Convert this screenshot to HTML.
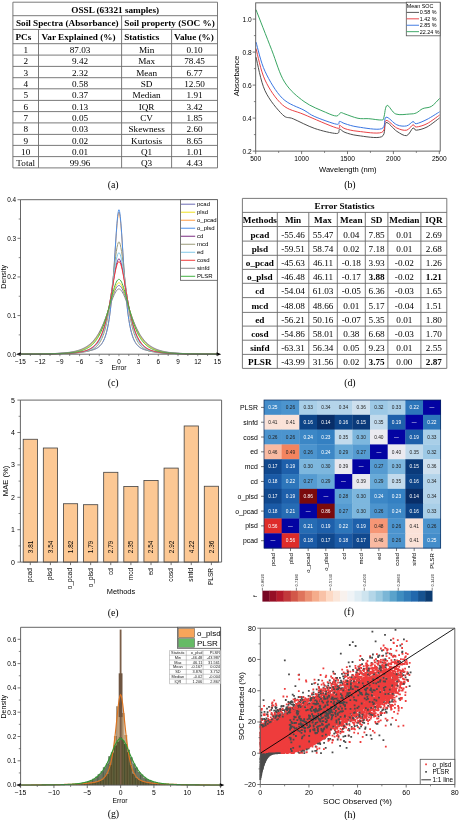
<!DOCTYPE html>
<html><head><meta charset="utf-8"><style>
html,body{margin:0;padding:0;background:#fff;}
#fig{position:relative;width:463px;height:820px;overflow:hidden;background:#fff;}
svg{position:absolute;left:0;top:0;will-change:transform;}
text{-webkit-font-smoothing:antialiased;}
.S{font-family:"Liberation Sans", sans-serif;}
.Sb{font-family:"Liberation Sans", sans-serif;font-weight:bold;}
.R{font-family:"Liberation Serif", serif;}
.Rb{font-family:"Liberation Serif", serif;font-weight:bold;}
</style></head><body><div id="fig">
<svg width="463" height="820" viewBox="0 0 463 820">
<line x1="12.9" y1="2.2" x2="217.5" y2="2.2" stroke="#6b6b6b" stroke-width="0.9"/>
<line x1="12.9" y1="15.7" x2="217.5" y2="15.7" stroke="#6b6b6b" stroke-width="0.9"/>
<line x1="12.9" y1="29.4" x2="217.5" y2="29.4" stroke="#6b6b6b" stroke-width="0.9"/>
<line x1="12.9" y1="43.7" x2="217.5" y2="43.7" stroke="#6b6b6b" stroke-width="0.9"/>
<line x1="12.9" y1="55.1" x2="217.5" y2="55.1" stroke="#6b6b6b" stroke-width="0.9"/>
<line x1="12.9" y1="66.4" x2="217.5" y2="66.4" stroke="#6b6b6b" stroke-width="0.9"/>
<line x1="12.9" y1="77.7" x2="217.5" y2="77.7" stroke="#6b6b6b" stroke-width="0.9"/>
<line x1="12.9" y1="88.8" x2="217.5" y2="88.8" stroke="#6b6b6b" stroke-width="0.9"/>
<line x1="12.9" y1="100.4" x2="217.5" y2="100.4" stroke="#6b6b6b" stroke-width="0.9"/>
<line x1="12.9" y1="111.6" x2="217.5" y2="111.6" stroke="#6b6b6b" stroke-width="0.9"/>
<line x1="12.9" y1="122.9" x2="217.5" y2="122.9" stroke="#6b6b6b" stroke-width="0.9"/>
<line x1="12.9" y1="134.4" x2="217.5" y2="134.4" stroke="#6b6b6b" stroke-width="0.9"/>
<line x1="12.9" y1="145.4" x2="217.5" y2="145.4" stroke="#6b6b6b" stroke-width="0.9"/>
<line x1="12.9" y1="156.6" x2="217.5" y2="156.6" stroke="#6b6b6b" stroke-width="0.9"/>
<line x1="12.9" y1="167.9" x2="217.5" y2="167.9" stroke="#6b6b6b" stroke-width="0.9"/>
<line x1="12.9" y1="2.2" x2="12.9" y2="167.9" stroke="#6b6b6b" stroke-width="0.9"/>
<line x1="217.5" y1="2.2" x2="217.5" y2="167.9" stroke="#6b6b6b" stroke-width="0.9"/>
<line x1="121.6" y1="15.7" x2="121.6" y2="167.9" stroke="#6b6b6b" stroke-width="0.9"/>
<line x1="38.5" y1="29.4" x2="38.5" y2="167.9" stroke="#6b6b6b" stroke-width="0.9"/>
<line x1="171.6" y1="29.4" x2="171.6" y2="167.9" stroke="#6b6b6b" stroke-width="0.9"/>
<text class="Rb" x="115.2" y="12.85" font-size="9.2" text-anchor="middle" fill="#000">OSSL (63321 samples)</text>
<text class="Rb" x="67.25" y="26.45" font-size="9.2" text-anchor="middle" fill="#000">Soil Spectra (Absorbance)</text>
<text class="Rb" x="169.55" y="26.45" font-size="9.2" text-anchor="middle" fill="#000">Soil property (SOC %)</text>
<text class="Rb" x="15.5" y="40.45" font-size="9.2" text-anchor="start" fill="#000">PCs</text>
<text class="Rb" x="41.5" y="40.45" font-size="9.2" text-anchor="start" fill="#000">Var Explained (%)</text>
<text class="Rb" x="124.2" y="40.45" font-size="9.2" text-anchor="start" fill="#000">Statistics</text>
<text class="Rb" x="174.1" y="40.45" font-size="9.2" text-anchor="start" fill="#000">Value (%)</text>
<text class="R" x="25.7" y="53" font-size="9.2" text-anchor="middle" fill="#000">1</text>
<text class="R" x="80.05" y="53" font-size="9.2" text-anchor="middle" fill="#000">87.03</text>
<text class="R" x="146.6" y="53" font-size="9.2" text-anchor="middle" fill="#000">Min</text>
<text class="R" x="194.55" y="53" font-size="9.2" text-anchor="middle" fill="#000">0.10</text>
<text class="R" x="25.7" y="64.35" font-size="9.2" text-anchor="middle" fill="#000">2</text>
<text class="R" x="80.05" y="64.35" font-size="9.2" text-anchor="middle" fill="#000">9.42</text>
<text class="R" x="146.6" y="64.35" font-size="9.2" text-anchor="middle" fill="#000">Max</text>
<text class="R" x="194.55" y="64.35" font-size="9.2" text-anchor="middle" fill="#000">78.45</text>
<text class="R" x="25.7" y="75.65" font-size="9.2" text-anchor="middle" fill="#000">3</text>
<text class="R" x="80.05" y="75.65" font-size="9.2" text-anchor="middle" fill="#000">2.32</text>
<text class="R" x="146.6" y="75.65" font-size="9.2" text-anchor="middle" fill="#000">Mean</text>
<text class="R" x="194.55" y="75.65" font-size="9.2" text-anchor="middle" fill="#000">6.77</text>
<text class="R" x="25.7" y="86.85" font-size="9.2" text-anchor="middle" fill="#000">4</text>
<text class="R" x="80.05" y="86.85" font-size="9.2" text-anchor="middle" fill="#000">0.58</text>
<text class="R" x="146.6" y="86.85" font-size="9.2" text-anchor="middle" fill="#000">SD</text>
<text class="R" x="194.55" y="86.85" font-size="9.2" text-anchor="middle" fill="#000">12.50</text>
<text class="R" x="25.7" y="98.2" font-size="9.2" text-anchor="middle" fill="#000">5</text>
<text class="R" x="80.05" y="98.2" font-size="9.2" text-anchor="middle" fill="#000">0.37</text>
<text class="R" x="146.6" y="98.2" font-size="9.2" text-anchor="middle" fill="#000">Median</text>
<text class="R" x="194.55" y="98.2" font-size="9.2" text-anchor="middle" fill="#000">1.91</text>
<text class="R" x="25.7" y="109.6" font-size="9.2" text-anchor="middle" fill="#000">6</text>
<text class="R" x="80.05" y="109.6" font-size="9.2" text-anchor="middle" fill="#000">0.13</text>
<text class="R" x="146.6" y="109.6" font-size="9.2" text-anchor="middle" fill="#000">IQR</text>
<text class="R" x="194.55" y="109.6" font-size="9.2" text-anchor="middle" fill="#000">3.42</text>
<text class="R" x="25.7" y="120.85" font-size="9.2" text-anchor="middle" fill="#000">7</text>
<text class="R" x="80.05" y="120.85" font-size="9.2" text-anchor="middle" fill="#000">0.05</text>
<text class="R" x="146.6" y="120.85" font-size="9.2" text-anchor="middle" fill="#000">CV</text>
<text class="R" x="194.55" y="120.85" font-size="9.2" text-anchor="middle" fill="#000">1.85</text>
<text class="R" x="25.7" y="132.25" font-size="9.2" text-anchor="middle" fill="#000">8</text>
<text class="R" x="80.05" y="132.25" font-size="9.2" text-anchor="middle" fill="#000">0.03</text>
<text class="R" x="146.6" y="132.25" font-size="9.2" text-anchor="middle" fill="#000">Skewness</text>
<text class="R" x="194.55" y="132.25" font-size="9.2" text-anchor="middle" fill="#000">2.60</text>
<text class="R" x="25.7" y="143.5" font-size="9.2" text-anchor="middle" fill="#000">9</text>
<text class="R" x="80.05" y="143.5" font-size="9.2" text-anchor="middle" fill="#000">0.02</text>
<text class="R" x="146.6" y="143.5" font-size="9.2" text-anchor="middle" fill="#000">Kurtosis</text>
<text class="R" x="194.55" y="143.5" font-size="9.2" text-anchor="middle" fill="#000">8.65</text>
<text class="R" x="25.7" y="154.6" font-size="9.2" text-anchor="middle" fill="#000">10</text>
<text class="R" x="80.05" y="154.6" font-size="9.2" text-anchor="middle" fill="#000">0.01</text>
<text class="R" x="146.6" y="154.6" font-size="9.2" text-anchor="middle" fill="#000">Q1</text>
<text class="R" x="194.55" y="154.6" font-size="9.2" text-anchor="middle" fill="#000">1.01</text>
<text class="R" x="25.7" y="165.85" font-size="9.2" text-anchor="middle" fill="#000">Total</text>
<text class="R" x="80.05" y="165.85" font-size="9.2" text-anchor="middle" fill="#000">99.96</text>
<text class="R" x="146.6" y="165.85" font-size="9.2" text-anchor="middle" fill="#000">Q3</text>
<text class="R" x="194.55" y="165.85" font-size="9.2" text-anchor="middle" fill="#000">4.43</text>
<line x1="242.4" y1="198.4" x2="446.8" y2="198.4" stroke="#6b6b6b" stroke-width="0.9"/>
<line x1="242.4" y1="212.4" x2="446.8" y2="212.4" stroke="#6b6b6b" stroke-width="0.9"/>
<line x1="242.4" y1="226.5" x2="446.8" y2="226.5" stroke="#6b6b6b" stroke-width="0.9"/>
<line x1="242.4" y1="241.1" x2="446.8" y2="241.1" stroke="#6b6b6b" stroke-width="0.9"/>
<line x1="242.4" y1="255.3" x2="446.8" y2="255.3" stroke="#6b6b6b" stroke-width="0.9"/>
<line x1="242.4" y1="269.4" x2="446.8" y2="269.4" stroke="#6b6b6b" stroke-width="0.9"/>
<line x1="242.4" y1="283.3" x2="446.8" y2="283.3" stroke="#6b6b6b" stroke-width="0.9"/>
<line x1="242.4" y1="297.6" x2="446.8" y2="297.6" stroke="#6b6b6b" stroke-width="0.9"/>
<line x1="242.4" y1="312.4" x2="446.8" y2="312.4" stroke="#6b6b6b" stroke-width="0.9"/>
<line x1="242.4" y1="326.1" x2="446.8" y2="326.1" stroke="#6b6b6b" stroke-width="0.9"/>
<line x1="242.4" y1="340.2" x2="446.8" y2="340.2" stroke="#6b6b6b" stroke-width="0.9"/>
<line x1="242.4" y1="354.4" x2="446.8" y2="354.4" stroke="#6b6b6b" stroke-width="0.9"/>
<line x1="242.4" y1="368.4" x2="446.8" y2="368.4" stroke="#6b6b6b" stroke-width="0.9"/>
<line x1="242.4" y1="198.4" x2="242.4" y2="368.4" stroke="#6b6b6b" stroke-width="0.9"/>
<line x1="446.8" y1="198.4" x2="446.8" y2="368.4" stroke="#6b6b6b" stroke-width="0.9"/>
<line x1="277.3" y1="212.4" x2="277.3" y2="368.4" stroke="#6b6b6b" stroke-width="0.9"/>
<line x1="308.8" y1="212.4" x2="308.8" y2="368.4" stroke="#6b6b6b" stroke-width="0.9"/>
<line x1="337.3" y1="212.4" x2="337.3" y2="368.4" stroke="#6b6b6b" stroke-width="0.9"/>
<line x1="365.3" y1="212.4" x2="365.3" y2="368.4" stroke="#6b6b6b" stroke-width="0.9"/>
<line x1="387.9" y1="212.4" x2="387.9" y2="368.4" stroke="#6b6b6b" stroke-width="0.9"/>
<line x1="420.9" y1="212.4" x2="420.9" y2="368.4" stroke="#6b6b6b" stroke-width="0.9"/>
<text class="Rb" x="344.6" y="209.3" font-size="9.2" text-anchor="middle" fill="#000">Error Statistics</text>
<text class="Rb" x="259.85" y="223.35" font-size="9.2" text-anchor="middle" fill="#000">Methods</text>
<text class="Rb" x="293.05" y="223.35" font-size="9.2" text-anchor="middle" fill="#000">Min</text>
<text class="Rb" x="323.05" y="223.35" font-size="9.2" text-anchor="middle" fill="#000">Max</text>
<text class="Rb" x="351.3" y="223.35" font-size="9.2" text-anchor="middle" fill="#000">Mean</text>
<text class="Rb" x="376.6" y="223.35" font-size="9.2" text-anchor="middle" fill="#000">SD</text>
<text class="Rb" x="404.4" y="223.35" font-size="9.2" text-anchor="middle" fill="#000">Median</text>
<text class="Rb" x="433.85" y="223.35" font-size="9.2" text-anchor="middle" fill="#000">IQR</text>
<text class="Rb" x="259.85" y="237.7" font-size="9.2" text-anchor="middle" fill="#000">pcad</text>
<text class="R" x="293.05" y="237.7" font-size="9.2" text-anchor="middle" fill="#000">-55.46</text>
<text class="R" x="323.05" y="237.7" font-size="9.2" text-anchor="middle" fill="#000">55.47</text>
<text class="R" x="351.3" y="237.7" font-size="9.2" text-anchor="middle" fill="#000">0.04</text>
<text class="R" x="376.6" y="237.7" font-size="9.2" text-anchor="middle" fill="#000">7.85</text>
<text class="R" x="404.4" y="237.7" font-size="9.2" text-anchor="middle" fill="#000">0.01</text>
<text class="R" x="433.85" y="237.7" font-size="9.2" text-anchor="middle" fill="#000">2.69</text>
<text class="Rb" x="259.85" y="252.1" font-size="9.2" text-anchor="middle" fill="#000">plsd</text>
<text class="R" x="293.05" y="252.1" font-size="9.2" text-anchor="middle" fill="#000">-59.51</text>
<text class="R" x="323.05" y="252.1" font-size="9.2" text-anchor="middle" fill="#000">58.74</text>
<text class="R" x="351.3" y="252.1" font-size="9.2" text-anchor="middle" fill="#000">0.02</text>
<text class="R" x="376.6" y="252.1" font-size="9.2" text-anchor="middle" fill="#000">7.18</text>
<text class="R" x="404.4" y="252.1" font-size="9.2" text-anchor="middle" fill="#000">0.01</text>
<text class="R" x="433.85" y="252.1" font-size="9.2" text-anchor="middle" fill="#000">2.68</text>
<text class="Rb" x="259.85" y="266.25" font-size="9.2" text-anchor="middle" fill="#000">o_pcad</text>
<text class="R" x="293.05" y="266.25" font-size="9.2" text-anchor="middle" fill="#000">-45.63</text>
<text class="R" x="323.05" y="266.25" font-size="9.2" text-anchor="middle" fill="#000">46.11</text>
<text class="R" x="351.3" y="266.25" font-size="9.2" text-anchor="middle" fill="#000">-0.18</text>
<text class="R" x="376.6" y="266.25" font-size="9.2" text-anchor="middle" fill="#000">3.93</text>
<text class="R" x="404.4" y="266.25" font-size="9.2" text-anchor="middle" fill="#000">-0.02</text>
<text class="R" x="433.85" y="266.25" font-size="9.2" text-anchor="middle" fill="#000">1.26</text>
<text class="Rb" x="259.85" y="280.25" font-size="9.2" text-anchor="middle" fill="#000">o_plsd</text>
<text class="R" x="293.05" y="280.25" font-size="9.2" text-anchor="middle" fill="#000">-46.48</text>
<text class="R" x="323.05" y="280.25" font-size="9.2" text-anchor="middle" fill="#000">46.11</text>
<text class="R" x="351.3" y="280.25" font-size="9.2" text-anchor="middle" fill="#000">-0.17</text>
<text class="Rb" x="376.6" y="280.25" font-size="9.2" text-anchor="middle" fill="#000">3.88</text>
<text class="R" x="404.4" y="280.25" font-size="9.2" text-anchor="middle" fill="#000">-0.02</text>
<text class="Rb" x="433.85" y="280.25" font-size="9.2" text-anchor="middle" fill="#000">1.21</text>
<text class="Rb" x="259.85" y="294.35" font-size="9.2" text-anchor="middle" fill="#000">cd</text>
<text class="R" x="293.05" y="294.35" font-size="9.2" text-anchor="middle" fill="#000">-54.04</text>
<text class="R" x="323.05" y="294.35" font-size="9.2" text-anchor="middle" fill="#000">61.03</text>
<text class="R" x="351.3" y="294.35" font-size="9.2" text-anchor="middle" fill="#000">-0.05</text>
<text class="R" x="376.6" y="294.35" font-size="9.2" text-anchor="middle" fill="#000">6.36</text>
<text class="R" x="404.4" y="294.35" font-size="9.2" text-anchor="middle" fill="#000">-0.03</text>
<text class="R" x="433.85" y="294.35" font-size="9.2" text-anchor="middle" fill="#000">1.65</text>
<text class="Rb" x="259.85" y="308.9" font-size="9.2" text-anchor="middle" fill="#000">mcd</text>
<text class="R" x="293.05" y="308.9" font-size="9.2" text-anchor="middle" fill="#000">-48.08</text>
<text class="R" x="323.05" y="308.9" font-size="9.2" text-anchor="middle" fill="#000">48.66</text>
<text class="R" x="351.3" y="308.9" font-size="9.2" text-anchor="middle" fill="#000">0.01</text>
<text class="R" x="376.6" y="308.9" font-size="9.2" text-anchor="middle" fill="#000">5.17</text>
<text class="R" x="404.4" y="308.9" font-size="9.2" text-anchor="middle" fill="#000">-0.04</text>
<text class="R" x="433.85" y="308.9" font-size="9.2" text-anchor="middle" fill="#000">1.51</text>
<text class="Rb" x="259.85" y="323.15" font-size="9.2" text-anchor="middle" fill="#000">ed</text>
<text class="R" x="293.05" y="323.15" font-size="9.2" text-anchor="middle" fill="#000">-56.21</text>
<text class="R" x="323.05" y="323.15" font-size="9.2" text-anchor="middle" fill="#000">50.16</text>
<text class="R" x="351.3" y="323.15" font-size="9.2" text-anchor="middle" fill="#000">-0.07</text>
<text class="R" x="376.6" y="323.15" font-size="9.2" text-anchor="middle" fill="#000">5.35</text>
<text class="R" x="404.4" y="323.15" font-size="9.2" text-anchor="middle" fill="#000">0.01</text>
<text class="R" x="433.85" y="323.15" font-size="9.2" text-anchor="middle" fill="#000">1.80</text>
<text class="Rb" x="259.85" y="337.05" font-size="9.2" text-anchor="middle" fill="#000">cosd</text>
<text class="R" x="293.05" y="337.05" font-size="9.2" text-anchor="middle" fill="#000">-54.86</text>
<text class="R" x="323.05" y="337.05" font-size="9.2" text-anchor="middle" fill="#000">58.01</text>
<text class="R" x="351.3" y="337.05" font-size="9.2" text-anchor="middle" fill="#000">0.38</text>
<text class="R" x="376.6" y="337.05" font-size="9.2" text-anchor="middle" fill="#000">6.68</text>
<text class="R" x="404.4" y="337.05" font-size="9.2" text-anchor="middle" fill="#000">-0.03</text>
<text class="R" x="433.85" y="337.05" font-size="9.2" text-anchor="middle" fill="#000">1.70</text>
<text class="Rb" x="259.85" y="351.2" font-size="9.2" text-anchor="middle" fill="#000">sinfd</text>
<text class="R" x="293.05" y="351.2" font-size="9.2" text-anchor="middle" fill="#000">-63.31</text>
<text class="R" x="323.05" y="351.2" font-size="9.2" text-anchor="middle" fill="#000">56.34</text>
<text class="R" x="351.3" y="351.2" font-size="9.2" text-anchor="middle" fill="#000">0.05</text>
<text class="R" x="376.6" y="351.2" font-size="9.2" text-anchor="middle" fill="#000">9.23</text>
<text class="R" x="404.4" y="351.2" font-size="9.2" text-anchor="middle" fill="#000">0.01</text>
<text class="R" x="433.85" y="351.2" font-size="9.2" text-anchor="middle" fill="#000">2.55</text>
<text class="Rb" x="259.85" y="365.3" font-size="9.2" text-anchor="middle" fill="#000">PLSR</text>
<text class="R" x="293.05" y="365.3" font-size="9.2" text-anchor="middle" fill="#000">-43.99</text>
<text class="R" x="323.05" y="365.3" font-size="9.2" text-anchor="middle" fill="#000">31.56</text>
<text class="R" x="351.3" y="365.3" font-size="9.2" text-anchor="middle" fill="#000">0.02</text>
<text class="Rb" x="376.6" y="365.3" font-size="9.2" text-anchor="middle" fill="#000">3.75</text>
<text class="R" x="404.4" y="365.3" font-size="9.2" text-anchor="middle" fill="#000">0.00</text>
<text class="Rb" x="433.85" y="365.3" font-size="9.2" text-anchor="middle" fill="#000">2.87</text>
<path d="M256 57.2C257.5 62.78 260.6 81.15 265 90.7C269.4 100.25 277.7 109.82 282.4 114.5C287.1 119.18 287.8 116.47 293.2 118.8C298.6 121.13 307.6 126.05 314.8 128.5C322 130.95 332.27 133.38 336.4 133.5C340.53 133.62 338.17 129.38 339.6 129.2C341.03 129.02 341.93 131.33 345 132.4C348.07 133.47 351.88 134.88 358 135.6C364.12 136.32 377.03 138.87 381.7 136.7C386.37 134.53 383.48 123.5 386 122.6C388.52 121.7 393.37 129.13 396.8 131.3C400.23 133.47 403.9 136.15 406.6 135.6C409.3 135.05 411.38 128.9 413 128C414.62 127.1 413.97 130.37 416.3 130.2C418.63 130.03 423.12 129.05 427 127C430.88 124.95 437.5 119.42 439.6 117.9" fill="none" stroke="#444444" stroke-width="0.95"/>
<path d="M256 48.6C257.5 53.83 260.6 70.63 265 80C269.4 89.37 275.9 99.05 282.4 104.8C288.9 110.55 295 110.65 304 114.5C313 118.35 330.47 126.1 336.4 127.9C342.33 129.7 338.17 125.17 339.6 125.3C341.03 125.43 341.93 127.7 345 128.7C348.07 129.7 351.88 130.68 358 131.3C364.12 131.92 377.03 134.2 381.7 132.4C386.37 130.6 383.48 121.23 386 120.5C388.52 119.77 393.37 126.38 396.8 128C400.23 129.62 403.9 130.73 406.6 130.2C409.3 129.67 411.38 125.33 413 124.8C414.62 124.27 413.97 127.18 416.3 127C418.63 126.82 423.12 125.7 427 123.7C430.88 121.7 437.5 116.45 439.6 115" fill="none" stroke="#e8383c" stroke-width="0.95"/>
<path d="M256 42.1C257.5 46.97 260.6 61.93 265 71.3C269.4 80.67 275.9 91.82 282.4 98.3C288.9 104.78 298.6 107.15 304 110.2C309.4 113.25 309.4 114.27 314.8 116.6C320.2 118.93 332.27 123.4 336.4 124.2C340.53 125 338.17 121.48 339.6 121.4C341.03 121.32 341.93 122.77 345 123.7C348.07 124.63 351.88 126.17 358 127C364.12 127.83 377.03 130.33 381.7 128.7C386.37 127.07 383.48 117.85 386 117.2C388.52 116.55 393.37 123.35 396.8 124.8C400.23 126.25 403.9 126.43 406.6 125.9C409.3 125.37 411.38 121.97 413 121.6C414.62 121.23 413.97 124.07 416.3 123.7C418.63 123.33 423.12 121.38 427 119.4C430.88 117.42 437.5 113.07 439.6 111.8" fill="none" stroke="#2f6fe0" stroke-width="0.95"/>
<path d="M256 9.7C258.6 16.37 266.83 37.63 271.6 49.7C276.37 61.77 279.2 73.47 284.6 82.1C290 90.73 297.17 96.47 304 101.5C310.83 106.53 320.2 109.88 325.6 112.3C331 114.72 333.88 115.93 336.4 116C338.92 116.07 339.27 113.03 340.7 112.7C342.13 112.37 342.12 113.07 345 114C347.88 114.93 354.03 117.52 358 118.3C361.97 119.08 364.85 118.42 368.8 118.7C372.75 118.98 379.18 120.25 381.7 120C384.22 119.75 383 119.63 383.9 117.2C384.8 114.77 385.12 105.93 387.1 105.4C389.08 104.87 392.02 112.57 395.8 114C399.58 115.43 406.38 114.18 409.8 114C413.22 113.82 414.13 113.8 416.3 112.9C418.47 112 420.28 109.68 422.8 108.6C425.32 107.52 428.6 108.1 431.4 106.4C434.2 104.7 438.23 99.73 439.6 98.4" fill="none" stroke="#2ea05a" stroke-width="0.95"/>
<rect x="255.7" y="2.85" width="184.5" height="148.25" fill="none" stroke="#555555" stroke-width="0.9"/>
<line x1="252.7" y1="151.1" x2="255.7" y2="151.1" stroke="#555555" stroke-width="0.8"/>
<text class="S" x="251.7" y="153.5" font-size="6.6" text-anchor="end" fill="#000">0.2</text>
<line x1="253.9" y1="134.6" x2="255.7" y2="134.6" stroke="#555555" stroke-width="0.7"/>
<line x1="252.7" y1="118.1" x2="255.7" y2="118.1" stroke="#555555" stroke-width="0.8"/>
<text class="S" x="251.7" y="120.5" font-size="6.6" text-anchor="end" fill="#000">0.4</text>
<line x1="253.9" y1="101.6" x2="255.7" y2="101.6" stroke="#555555" stroke-width="0.7"/>
<line x1="252.7" y1="85.1" x2="255.7" y2="85.1" stroke="#555555" stroke-width="0.8"/>
<text class="S" x="251.7" y="87.5" font-size="6.6" text-anchor="end" fill="#000">0.6</text>
<line x1="253.9" y1="68.6" x2="255.7" y2="68.6" stroke="#555555" stroke-width="0.7"/>
<line x1="252.7" y1="52.1" x2="255.7" y2="52.1" stroke="#555555" stroke-width="0.8"/>
<text class="S" x="251.7" y="54.5" font-size="6.6" text-anchor="end" fill="#000">0.8</text>
<line x1="253.9" y1="35.6" x2="255.7" y2="35.6" stroke="#555555" stroke-width="0.7"/>
<line x1="252.7" y1="19.1" x2="255.7" y2="19.1" stroke="#555555" stroke-width="0.8"/>
<text class="S" x="251.7" y="21.5" font-size="6.6" text-anchor="end" fill="#000">1.0</text>
<line x1="255.7" y1="151.1" x2="255.7" y2="154.1" stroke="#555555" stroke-width="0.8"/>
<text class="S" x="255.7" y="160.7" font-size="6.6" text-anchor="middle" fill="#000">500</text>
<line x1="278.65" y1="151.1" x2="278.65" y2="152.9" stroke="#555555" stroke-width="0.7"/>
<line x1="301.6" y1="151.1" x2="301.6" y2="154.1" stroke="#555555" stroke-width="0.8"/>
<text class="S" x="301.6" y="160.7" font-size="6.6" text-anchor="middle" fill="#000">1000</text>
<line x1="324.55" y1="151.1" x2="324.55" y2="152.9" stroke="#555555" stroke-width="0.7"/>
<line x1="347.5" y1="151.1" x2="347.5" y2="154.1" stroke="#555555" stroke-width="0.8"/>
<text class="S" x="347.5" y="160.7" font-size="6.6" text-anchor="middle" fill="#000">1500</text>
<line x1="370.45" y1="151.1" x2="370.45" y2="152.9" stroke="#555555" stroke-width="0.7"/>
<line x1="393.4" y1="151.1" x2="393.4" y2="154.1" stroke="#555555" stroke-width="0.8"/>
<text class="S" x="393.4" y="160.7" font-size="6.6" text-anchor="middle" fill="#000">2000</text>
<line x1="416.35" y1="151.1" x2="416.35" y2="152.9" stroke="#555555" stroke-width="0.7"/>
<line x1="439.3" y1="151.1" x2="439.3" y2="154.1" stroke="#555555" stroke-width="0.8"/>
<text class="S" x="439.3" y="160.7" font-size="6.6" text-anchor="middle" fill="#000">2500</text>
<text class="S" x="238.5" y="76" font-size="7.6" text-anchor="middle" fill="#000" transform="rotate(-90 238.5 76)">Absorbance</text>
<text class="S" x="347.8" y="172" font-size="7.6" text-anchor="middle" fill="#000">Wavelength (nm)</text>
<rect x="406.3" y="2.2" width="33.9" height="33.6" fill="#fff" stroke="#555555" stroke-width="0.8"/>
<text class="S" x="406.8" y="8.2" font-size="5.4" text-anchor="start" fill="#000">Mean SOC</text>
<line x1="406.6" y1="12.4" x2="419" y2="12.4" stroke="#444444" stroke-width="0.9"/>
<text class="S" x="419.7" y="14.4" font-size="5.4" text-anchor="start" fill="#000">0.58 %</text>
<line x1="406.6" y1="18.82" x2="419" y2="18.82" stroke="#e8383c" stroke-width="0.9"/>
<text class="S" x="419.7" y="20.82" font-size="5.4" text-anchor="start" fill="#000">1.42 %</text>
<line x1="406.6" y1="25.24" x2="419" y2="25.24" stroke="#2f6fe0" stroke-width="0.9"/>
<text class="S" x="419.7" y="27.24" font-size="5.4" text-anchor="start" fill="#000">2.85 %</text>
<line x1="406.6" y1="31.66" x2="419" y2="31.66" stroke="#2ea05a" stroke-width="0.9"/>
<text class="S" x="419.7" y="33.66" font-size="5.4" text-anchor="start" fill="#000">22.24 %</text>
<path d="M20.5 354.11L21.16 354.11L21.81 354.1L22.47 354.1L23.13 354.1L23.78 354.09L24.44 354.09L25.09 354.09L25.75 354.08L26.41 354.08L27.06 354.08L27.72 354.07L28.38 354.07L29.03 354.06L29.69 354.06L30.34 354.05L31 354.05L31.66 354.04L32.31 354.04L32.97 354.03L33.63 354.03L34.28 354.02L34.94 354.02L35.6 354.01L36.25 354L36.91 354L37.56 353.99L38.22 353.98L38.88 353.97L39.53 353.97L40.19 353.96L40.85 353.95L41.5 353.94L42.16 353.93L42.82 353.92L43.47 353.91L44.13 353.9L44.78 353.88L45.44 353.87L46.1 353.86L46.75 353.85L47.41 353.83L48.07 353.82L48.72 353.8L49.38 353.78L50.03 353.77L50.69 353.75L51.35 353.73L52 353.71L52.66 353.69L53.32 353.67L53.97 353.64L54.63 353.62L55.29 353.59L55.94 353.56L56.6 353.54L57.25 353.51L57.91 353.47L58.57 353.44L59.22 353.4L59.88 353.37L60.54 353.33L61.19 353.29L61.85 353.24L62.51 353.19L63.16 353.15L63.82 353.09L64.47 353.04L65.13 352.98L65.79 352.92L66.44 352.85L67.1 352.79L67.76 352.71L68.41 352.64L69.07 352.56L69.72 352.47L70.38 352.38L71.04 352.28L71.69 352.18L72.35 352.07L73.01 351.96L73.66 351.84L74.32 351.71L74.98 351.57L75.63 351.43L76.29 351.28L76.94 351.11L77.6 350.94L78.26 350.76L78.91 350.57L79.57 350.36L80.23 350.15L80.88 349.91L81.54 349.67L82.2 349.41L82.85 349.14L83.51 348.84L84.16 348.53L84.82 348.21L85.48 347.86L86.13 347.49L86.79 347.09L87.45 346.68L88.1 346.23L88.76 345.77L89.42 345.27L90.07 344.74L90.73 344.18L91.38 343.58L92.04 342.95L92.7 342.28L93.35 341.58L94.01 340.82L94.67 340.03L95.32 339.19L95.98 338.29L96.63 337.35L97.29 336.35L97.95 335.29L98.6 334.18L99.26 333L99.92 331.76L100.57 330.46L101.23 329.09L101.89 327.64L102.54 326.13L103.2 324.55L103.85 322.9L104.51 321.17L105.17 319.38L105.82 317.53L106.48 315.61L107.14 313.64L107.79 311.62L108.45 309.57L109.11 307.48L109.76 305.38L110.42 303.29L111.07 301.2L111.73 299.16L112.39 297.17L113.04 295.27L113.7 293.46L114.36 291.79L115.01 290.26L115.67 288.92L116.32 287.76L116.98 286.83L117.64 286.12L118.29 285.66L118.95 285.45L119.61 285.66L120.26 286.12L120.92 286.83L121.58 287.76L122.23 288.92L122.89 290.26L123.54 291.79L124.2 293.46L124.86 295.27L125.51 297.17L126.17 299.16L126.83 301.2L127.48 303.29L128.14 305.38L128.8 307.48L129.45 309.57L130.11 311.62L130.76 313.64L131.42 315.61L132.08 317.53L132.73 319.38L133.39 321.17L134.05 322.9L134.7 324.55L135.36 326.13L136.01 327.64L136.67 329.09L137.33 330.46L137.98 331.76L138.64 333L139.3 334.18L139.95 335.29L140.61 336.35L141.27 337.35L141.92 338.29L142.58 339.19L143.23 340.03L143.89 340.82L144.55 341.58L145.2 342.28L145.86 342.95L146.52 343.58L147.17 344.18L147.83 344.74L148.49 345.27L149.14 345.77L149.8 346.23L150.45 346.68L151.11 347.09L151.77 347.49L152.42 347.86L153.08 348.21L153.74 348.53L154.39 348.84L155.05 349.14L155.7 349.41L156.36 349.67L157.02 349.91L157.67 350.15L158.33 350.36L158.99 350.57L159.64 350.76L160.3 350.94L160.96 351.11L161.61 351.28L162.27 351.43L162.92 351.57L163.58 351.71L164.24 351.84L164.89 351.96L165.55 352.07L166.21 352.18L166.86 352.28L167.52 352.38L168.18 352.47L168.83 352.56L169.49 352.64L170.14 352.71L170.8 352.79L171.46 352.85L172.11 352.92L172.77 352.98L173.43 353.04L174.08 353.09L174.74 353.15L175.39 353.19L176.05 353.24L176.71 353.29L177.36 353.33L178.02 353.37L178.68 353.4L179.33 353.44L179.99 353.47L180.65 353.51L181.3 353.54L181.96 353.56L182.61 353.59L183.27 353.62L183.93 353.64L184.58 353.67L185.24 353.69L185.9 353.71L186.55 353.73L187.21 353.75L187.87 353.77L188.52 353.78L189.18 353.8L189.83 353.82L190.49 353.83L191.15 353.85L191.8 353.86L192.46 353.87L193.12 353.88L193.77 353.9L194.43 353.91L195.08 353.92L195.74 353.93L196.4 353.94L197.05 353.95L197.71 353.96L198.37 353.97L199.02 353.97L199.68 353.98L200.34 353.99L200.99 354L201.65 354L202.3 354.01L202.96 354.02L203.62 354.02L204.27 354.03L204.93 354.03L205.59 354.04L206.24 354.04L206.9 354.05L207.56 354.05L208.21 354.06L208.87 354.06L209.52 354.07L210.18 354.07L210.84 354.08L211.49 354.08L212.15 354.08L212.81 354.09L213.46 354.09L214.12 354.09L214.77 354.1L215.43 354.1L216.09 354.1L216.74 354.11L217.4 354.11" fill="none" stroke="#6a6ab4" stroke-width="1"/>
<path d="M20.5 354.11L21.16 354.11L21.81 354.1L22.47 354.1L23.13 354.1L23.78 354.09L24.44 354.09L25.09 354.09L25.75 354.08L26.41 354.08L27.06 354.08L27.72 354.07L28.38 354.07L29.03 354.07L29.69 354.06L30.34 354.06L31 354.05L31.66 354.05L32.31 354.04L32.97 354.04L33.63 354.03L34.28 354.03L34.94 354.02L35.6 354.02L36.25 354.01L36.91 354L37.56 354L38.22 353.99L38.88 353.98L39.53 353.98L40.19 353.97L40.85 353.96L41.5 353.95L42.16 353.94L42.82 353.93L43.47 353.92L44.13 353.91L44.78 353.9L45.44 353.89L46.1 353.88L46.75 353.87L47.41 353.86L48.07 353.84L48.72 353.83L49.38 353.81L50.03 353.8L50.69 353.78L51.35 353.77L52 353.75L52.66 353.73L53.32 353.71L53.97 353.69L54.63 353.67L55.29 353.64L55.94 353.62L56.6 353.59L57.25 353.57L57.91 353.54L58.57 353.51L59.22 353.48L59.88 353.44L60.54 353.41L61.19 353.37L61.85 353.33L62.51 353.29L63.16 353.25L63.82 353.2L64.47 353.15L65.13 353.1L65.79 353.05L66.44 352.99L67.1 352.93L67.76 352.86L68.41 352.79L69.07 352.72L69.72 352.64L70.38 352.56L71.04 352.47L71.69 352.38L72.35 352.28L73.01 352.18L73.66 352.07L74.32 351.95L74.98 351.83L75.63 351.7L76.29 351.56L76.94 351.41L77.6 351.25L78.26 351.08L78.91 350.9L79.57 350.71L80.23 350.51L80.88 350.3L81.54 350.07L82.2 349.83L82.85 349.57L83.51 349.3L84.16 349L84.82 348.69L85.48 348.36L86.13 348.01L86.79 347.64L87.45 347.24L88.1 346.82L88.76 346.37L89.42 345.89L90.07 345.38L90.73 344.84L91.38 344.26L92.04 343.65L92.7 343L93.35 342.31L94.01 341.57L94.67 340.79L95.32 339.95L95.98 339.07L96.63 338.13L97.29 337.14L97.95 336.08L98.6 334.96L99.26 333.77L99.92 332.52L100.57 331.19L101.23 329.79L101.89 328.32L102.54 326.76L103.2 325.13L103.85 323.42L104.51 321.62L105.17 319.75L105.82 317.8L106.48 315.78L107.14 313.69L107.79 311.54L108.45 309.34L109.11 307.09L109.76 304.82L110.42 302.54L111.07 300.27L111.73 298.03L112.39 295.83L113.04 293.72L113.7 291.72L114.36 289.85L115.01 288.15L115.67 286.63L116.32 285.34L116.98 284.29L117.64 283.49L118.29 282.98L118.95 282.74L119.61 282.98L120.26 283.49L120.92 284.29L121.58 285.34L122.23 286.63L122.89 288.15L123.54 289.85L124.2 291.72L124.86 293.72L125.51 295.83L126.17 298.03L126.83 300.27L127.48 302.54L128.14 304.82L128.8 307.09L129.45 309.34L130.11 311.54L130.76 313.69L131.42 315.78L132.08 317.8L132.73 319.75L133.39 321.62L134.05 323.42L134.7 325.13L135.36 326.76L136.01 328.32L136.67 329.79L137.33 331.19L137.98 332.52L138.64 333.77L139.3 334.96L139.95 336.08L140.61 337.14L141.27 338.13L141.92 339.07L142.58 339.95L143.23 340.79L143.89 341.57L144.55 342.31L145.2 343L145.86 343.65L146.52 344.26L147.17 344.84L147.83 345.38L148.49 345.89L149.14 346.37L149.8 346.82L150.45 347.24L151.11 347.64L151.77 348.01L152.42 348.36L153.08 348.69L153.74 349L154.39 349.3L155.05 349.57L155.7 349.83L156.36 350.07L157.02 350.3L157.67 350.51L158.33 350.71L158.99 350.9L159.64 351.08L160.3 351.25L160.96 351.41L161.61 351.56L162.27 351.7L162.92 351.83L163.58 351.95L164.24 352.07L164.89 352.18L165.55 352.28L166.21 352.38L166.86 352.47L167.52 352.56L168.18 352.64L168.83 352.72L169.49 352.79L170.14 352.86L170.8 352.93L171.46 352.99L172.11 353.05L172.77 353.1L173.43 353.15L174.08 353.2L174.74 353.25L175.39 353.29L176.05 353.33L176.71 353.37L177.36 353.41L178.02 353.44L178.68 353.48L179.33 353.51L179.99 353.54L180.65 353.57L181.3 353.59L181.96 353.62L182.61 353.64L183.27 353.67L183.93 353.69L184.58 353.71L185.24 353.73L185.9 353.75L186.55 353.77L187.21 353.78L187.87 353.8L188.52 353.81L189.18 353.83L189.83 353.84L190.49 353.86L191.15 353.87L191.8 353.88L192.46 353.89L193.12 353.9L193.77 353.91L194.43 353.92L195.08 353.93L195.74 353.94L196.4 353.95L197.05 353.96L197.71 353.97L198.37 353.98L199.02 353.98L199.68 353.99L200.34 354L200.99 354L201.65 354.01L202.3 354.02L202.96 354.02L203.62 354.03L204.27 354.03L204.93 354.04L205.59 354.04L206.24 354.05L206.9 354.05L207.56 354.06L208.21 354.06L208.87 354.07L209.52 354.07L210.18 354.07L210.84 354.08L211.49 354.08L212.15 354.08L212.81 354.09L213.46 354.09L214.12 354.09L214.77 354.1L215.43 354.1L216.09 354.1L216.74 354.11L217.4 354.11" fill="none" stroke="#f0e020" stroke-width="1"/>
<path d="M20.5 354.04L21.16 354.04L21.81 354.03L22.47 354.03L23.13 354.02L23.78 354.02L24.44 354.01L25.09 354.01L25.75 354L26.41 354L27.06 353.99L27.72 353.99L28.38 353.98L29.03 353.97L29.69 353.97L30.34 353.96L31 353.95L31.66 353.95L32.31 353.94L32.97 353.93L33.63 353.92L34.28 353.91L34.94 353.91L35.6 353.9L36.25 353.89L36.91 353.88L37.56 353.87L38.22 353.86L38.88 353.85L39.53 353.84L40.19 353.83L40.85 353.82L41.5 353.81L42.16 353.8L42.82 353.79L43.47 353.77L44.13 353.76L44.78 353.75L45.44 353.74L46.1 353.72L46.75 353.71L47.41 353.69L48.07 353.68L48.72 353.67L49.38 353.65L50.03 353.63L50.69 353.62L51.35 353.6L52 353.58L52.66 353.57L53.32 353.55L53.97 353.53L54.63 353.51L55.29 353.49L55.94 353.47L56.6 353.45L57.25 353.42L57.91 353.4L58.57 353.38L59.22 353.36L59.88 353.33L60.54 353.31L61.19 353.28L61.85 353.25L62.51 353.23L63.16 353.2L63.82 353.17L64.47 353.14L65.13 353.11L65.79 353.07L66.44 353.04L67.1 353.01L67.76 352.97L68.41 352.94L69.07 352.9L69.72 352.86L70.38 352.82L71.04 352.78L71.69 352.74L72.35 352.7L73.01 352.65L73.66 352.61L74.32 352.56L74.98 352.51L75.63 352.46L76.29 352.41L76.94 352.35L77.6 352.3L78.26 352.24L78.91 352.18L79.57 352.12L80.23 352.05L80.88 351.99L81.54 351.92L82.2 351.84L82.85 351.77L83.51 351.69L84.16 351.6L84.82 351.51L85.48 351.42L86.13 351.32L86.79 351.22L87.45 351.11L88.1 351L88.76 350.87L89.42 350.74L90.07 350.6L90.73 350.44L91.38 350.28L92.04 350.1L92.7 349.91L93.35 349.69L94.01 349.46L94.67 349.2L95.32 348.92L95.98 348.61L96.63 348.26L97.29 347.87L97.95 347.44L98.6 346.95L99.26 346.4L99.92 345.79L100.57 345.09L101.23 344.29L101.89 343.39L102.54 342.37L103.2 341.2L103.85 339.87L104.51 338.34L105.17 336.6L105.82 334.6L106.48 332.3L107.14 329.67L107.79 326.65L108.45 323.19L109.11 319.23L109.76 314.7L110.42 309.54L111.07 303.69L111.73 297.08L112.39 289.69L113.04 281.5L113.7 272.57L114.36 263.02L115.01 253.08L115.67 243.1L116.32 233.57L116.98 225.09L117.64 218.31L118.29 213.82L118.95 212.06L119.61 213.82L120.26 218.31L120.92 225.09L121.58 233.57L122.23 243.1L122.89 253.08L123.54 263.02L124.2 272.57L124.86 281.5L125.51 289.69L126.17 297.08L126.83 303.69L127.48 309.54L128.14 314.7L128.8 319.23L129.45 323.19L130.11 326.65L130.76 329.67L131.42 332.3L132.08 334.6L132.73 336.6L133.39 338.34L134.05 339.87L134.7 341.2L135.36 342.37L136.01 343.39L136.67 344.29L137.33 345.09L137.98 345.79L138.64 346.4L139.3 346.95L139.95 347.44L140.61 347.87L141.27 348.26L141.92 348.61L142.58 348.92L143.23 349.2L143.89 349.46L144.55 349.69L145.2 349.91L145.86 350.1L146.52 350.28L147.17 350.44L147.83 350.6L148.49 350.74L149.14 350.87L149.8 351L150.45 351.11L151.11 351.22L151.77 351.32L152.42 351.42L153.08 351.51L153.74 351.6L154.39 351.69L155.05 351.77L155.7 351.84L156.36 351.92L157.02 351.99L157.67 352.05L158.33 352.12L158.99 352.18L159.64 352.24L160.3 352.3L160.96 352.35L161.61 352.41L162.27 352.46L162.92 352.51L163.58 352.56L164.24 352.61L164.89 352.65L165.55 352.7L166.21 352.74L166.86 352.78L167.52 352.82L168.18 352.86L168.83 352.9L169.49 352.94L170.14 352.97L170.8 353.01L171.46 353.04L172.11 353.07L172.77 353.11L173.43 353.14L174.08 353.17L174.74 353.2L175.39 353.23L176.05 353.25L176.71 353.28L177.36 353.31L178.02 353.33L178.68 353.36L179.33 353.38L179.99 353.4L180.65 353.42L181.3 353.45L181.96 353.47L182.61 353.49L183.27 353.51L183.93 353.53L184.58 353.55L185.24 353.57L185.9 353.58L186.55 353.6L187.21 353.62L187.87 353.63L188.52 353.65L189.18 353.67L189.83 353.68L190.49 353.69L191.15 353.71L191.8 353.72L192.46 353.74L193.12 353.75L193.77 353.76L194.43 353.77L195.08 353.79L195.74 353.8L196.4 353.81L197.05 353.82L197.71 353.83L198.37 353.84L199.02 353.85L199.68 353.86L200.34 353.87L200.99 353.88L201.65 353.89L202.3 353.9L202.96 353.91L203.62 353.91L204.27 353.92L204.93 353.93L205.59 353.94L206.24 353.95L206.9 353.95L207.56 353.96L208.21 353.97L208.87 353.97L209.52 353.98L210.18 353.99L210.84 353.99L211.49 354L212.15 354L212.81 354.01L213.46 354.01L214.12 354.02L214.77 354.02L215.43 354.03L216.09 354.03L216.74 354.04L217.4 354.04" fill="none" stroke="#ff9a40" stroke-width="1"/>
<path d="M20.5 354.04L21.16 354.04L21.81 354.03L22.47 354.03L23.13 354.02L23.78 354.02L24.44 354.01L25.09 354.01L25.75 354L26.41 353.99L27.06 353.99L27.72 353.98L28.38 353.98L29.03 353.97L29.69 353.96L30.34 353.96L31 353.95L31.66 353.94L32.31 353.93L32.97 353.93L33.63 353.92L34.28 353.91L34.94 353.9L35.6 353.89L36.25 353.88L36.91 353.88L37.56 353.87L38.22 353.86L38.88 353.85L39.53 353.84L40.19 353.83L40.85 353.81L41.5 353.8L42.16 353.79L42.82 353.78L43.47 353.77L44.13 353.76L44.78 353.74L45.44 353.73L46.1 353.72L46.75 353.7L47.41 353.69L48.07 353.67L48.72 353.66L49.38 353.64L50.03 353.62L50.69 353.61L51.35 353.59L52 353.57L52.66 353.55L53.32 353.54L53.97 353.52L54.63 353.5L55.29 353.48L55.94 353.46L56.6 353.43L57.25 353.41L57.91 353.39L58.57 353.37L59.22 353.34L59.88 353.32L60.54 353.29L61.19 353.26L61.85 353.24L62.51 353.21L63.16 353.18L63.82 353.15L64.47 353.12L65.13 353.09L65.79 353.06L66.44 353.02L67.1 352.99L67.76 352.95L68.41 352.92L69.07 352.88L69.72 352.84L70.38 352.8L71.04 352.76L71.69 352.72L72.35 352.67L73.01 352.63L73.66 352.58L74.32 352.54L74.98 352.49L75.63 352.43L76.29 352.38L76.94 352.33L77.6 352.27L78.26 352.21L78.91 352.15L79.57 352.09L80.23 352.02L80.88 351.96L81.54 351.89L82.2 351.81L82.85 351.74L83.51 351.66L84.16 351.57L84.82 351.48L85.48 351.39L86.13 351.29L86.79 351.19L87.45 351.08L88.1 350.97L88.76 350.85L89.42 350.71L90.07 350.57L90.73 350.42L91.38 350.26L92.04 350.09L92.7 349.89L93.35 349.69L94.01 349.46L94.67 349.21L95.32 348.93L95.98 348.63L96.63 348.29L97.29 347.91L97.95 347.48L98.6 347.01L99.26 346.47L99.92 345.87L100.57 345.19L101.23 344.41L101.89 343.53L102.54 342.53L103.2 341.38L103.85 340.07L104.51 338.57L105.17 336.84L105.82 334.87L106.48 332.59L107.14 329.98L107.79 326.98L108.45 323.53L109.11 319.57L109.76 315.04L110.42 309.86L111.07 303.96L111.73 297.29L112.39 289.79L113.04 281.46L113.7 272.35L114.36 262.56L115.01 252.33L115.67 242.03L116.32 232.15L116.98 223.33L117.64 216.26L118.29 211.58L118.95 209.74L119.61 211.58L120.26 216.26L120.92 223.33L121.58 232.15L122.23 242.03L122.89 252.33L123.54 262.56L124.2 272.35L124.86 281.46L125.51 289.79L126.17 297.29L126.83 303.96L127.48 309.86L128.14 315.04L128.8 319.57L129.45 323.53L130.11 326.98L130.76 329.98L131.42 332.59L132.08 334.87L132.73 336.84L133.39 338.57L134.05 340.07L134.7 341.38L135.36 342.53L136.01 343.53L136.67 344.41L137.33 345.19L137.98 345.87L138.64 346.47L139.3 347.01L139.95 347.48L140.61 347.91L141.27 348.29L141.92 348.63L142.58 348.93L143.23 349.21L143.89 349.46L144.55 349.69L145.2 349.89L145.86 350.09L146.52 350.26L147.17 350.42L147.83 350.57L148.49 350.71L149.14 350.85L149.8 350.97L150.45 351.08L151.11 351.19L151.77 351.29L152.42 351.39L153.08 351.48L153.74 351.57L154.39 351.66L155.05 351.74L155.7 351.81L156.36 351.89L157.02 351.96L157.67 352.02L158.33 352.09L158.99 352.15L159.64 352.21L160.3 352.27L160.96 352.33L161.61 352.38L162.27 352.43L162.92 352.49L163.58 352.54L164.24 352.58L164.89 352.63L165.55 352.67L166.21 352.72L166.86 352.76L167.52 352.8L168.18 352.84L168.83 352.88L169.49 352.92L170.14 352.95L170.8 352.99L171.46 353.02L172.11 353.06L172.77 353.09L173.43 353.12L174.08 353.15L174.74 353.18L175.39 353.21L176.05 353.24L176.71 353.26L177.36 353.29L178.02 353.32L178.68 353.34L179.33 353.37L179.99 353.39L180.65 353.41L181.3 353.43L181.96 353.46L182.61 353.48L183.27 353.5L183.93 353.52L184.58 353.54L185.24 353.55L185.9 353.57L186.55 353.59L187.21 353.61L187.87 353.62L188.52 353.64L189.18 353.66L189.83 353.67L190.49 353.69L191.15 353.7L191.8 353.72L192.46 353.73L193.12 353.74L193.77 353.76L194.43 353.77L195.08 353.78L195.74 353.79L196.4 353.8L197.05 353.81L197.71 353.83L198.37 353.84L199.02 353.85L199.68 353.86L200.34 353.87L200.99 353.88L201.65 353.88L202.3 353.89L202.96 353.9L203.62 353.91L204.27 353.92L204.93 353.93L205.59 353.93L206.24 353.94L206.9 353.95L207.56 353.96L208.21 353.96L208.87 353.97L209.52 353.98L210.18 353.98L210.84 353.99L211.49 353.99L212.15 354L212.81 354.01L213.46 354.01L214.12 354.02L214.77 354.02L215.43 354.03L216.09 354.03L216.74 354.04L217.4 354.04" fill="none" stroke="#4a8ee8" stroke-width="1"/>
<path d="M20.5 354.09L21.16 354.08L21.81 354.08L22.47 354.08L23.13 354.08L23.78 354.07L24.44 354.07L25.09 354.07L25.75 354.06L26.41 354.06L27.06 354.06L27.72 354.05L28.38 354.05L29.03 354.04L29.69 354.04L30.34 354.04L31 354.03L31.66 354.03L32.31 354.02L32.97 354.02L33.63 354.01L34.28 354.01L34.94 354L35.6 354L36.25 353.99L36.91 353.99L37.56 353.98L38.22 353.98L38.88 353.97L39.53 353.97L40.19 353.96L40.85 353.95L41.5 353.95L42.16 353.94L42.82 353.93L43.47 353.93L44.13 353.92L44.78 353.91L45.44 353.9L46.1 353.89L46.75 353.89L47.41 353.88L48.07 353.87L48.72 353.86L49.38 353.85L50.03 353.84L50.69 353.83L51.35 353.82L52 353.81L52.66 353.8L53.32 353.79L53.97 353.77L54.63 353.76L55.29 353.75L55.94 353.74L56.6 353.72L57.25 353.71L57.91 353.69L58.57 353.68L59.22 353.66L59.88 353.64L60.54 353.62L61.19 353.61L61.85 353.59L62.51 353.57L63.16 353.54L63.82 353.52L64.47 353.5L65.13 353.47L65.79 353.45L66.44 353.42L67.1 353.39L67.76 353.36L68.41 353.33L69.07 353.29L69.72 353.26L70.38 353.22L71.04 353.18L71.69 353.14L72.35 353.09L73.01 353.04L73.66 352.99L74.32 352.93L74.98 352.87L75.63 352.81L76.29 352.74L76.94 352.67L77.6 352.59L78.26 352.51L78.91 352.42L79.57 352.32L80.23 352.22L80.88 352.11L81.54 351.99L82.2 351.86L82.85 351.72L83.51 351.57L84.16 351.4L84.82 351.23L85.48 351.04L86.13 350.83L86.79 350.61L87.45 350.36L88.1 350.1L88.76 349.82L89.42 349.51L90.07 349.17L90.73 348.81L91.38 348.41L92.04 347.98L92.7 347.51L93.35 347.01L94.01 346.45L94.67 345.85L95.32 345.2L95.98 344.48L96.63 343.71L97.29 342.86L97.95 341.94L98.6 340.94L99.26 339.85L99.92 338.67L100.57 337.38L101.23 335.97L101.89 334.45L102.54 332.79L103.2 331L103.85 329.05L104.51 326.94L105.17 324.65L105.82 322.19L106.48 319.54L107.14 316.69L107.79 313.64L108.45 310.39L109.11 306.94L109.76 303.3L110.42 299.49L111.07 295.52L111.73 291.44L112.39 287.28L113.04 283.11L113.7 278.99L114.36 275.01L115.01 271.26L115.67 267.83L116.32 264.83L116.98 262.35L117.64 260.48L118.29 259.28L118.95 258.8L119.61 259.28L120.26 260.48L120.92 262.35L121.58 264.83L122.23 267.83L122.89 271.26L123.54 275.01L124.2 278.99L124.86 283.11L125.51 287.28L126.17 291.44L126.83 295.52L127.48 299.49L128.14 303.3L128.8 306.94L129.45 310.39L130.11 313.64L130.76 316.69L131.42 319.54L132.08 322.19L132.73 324.65L133.39 326.94L134.05 329.05L134.7 331L135.36 332.79L136.01 334.45L136.67 335.97L137.33 337.38L137.98 338.67L138.64 339.85L139.3 340.94L139.95 341.94L140.61 342.86L141.27 343.71L141.92 344.48L142.58 345.2L143.23 345.85L143.89 346.45L144.55 347.01L145.2 347.51L145.86 347.98L146.52 348.41L147.17 348.81L147.83 349.17L148.49 349.51L149.14 349.82L149.8 350.1L150.45 350.36L151.11 350.61L151.77 350.83L152.42 351.04L153.08 351.23L153.74 351.4L154.39 351.57L155.05 351.72L155.7 351.86L156.36 351.99L157.02 352.11L157.67 352.22L158.33 352.32L158.99 352.42L159.64 352.51L160.3 352.59L160.96 352.67L161.61 352.74L162.27 352.81L162.92 352.87L163.58 352.93L164.24 352.99L164.89 353.04L165.55 353.09L166.21 353.14L166.86 353.18L167.52 353.22L168.18 353.26L168.83 353.29L169.49 353.33L170.14 353.36L170.8 353.39L171.46 353.42L172.11 353.45L172.77 353.47L173.43 353.5L174.08 353.52L174.74 353.54L175.39 353.57L176.05 353.59L176.71 353.61L177.36 353.62L178.02 353.64L178.68 353.66L179.33 353.68L179.99 353.69L180.65 353.71L181.3 353.72L181.96 353.74L182.61 353.75L183.27 353.76L183.93 353.77L184.58 353.79L185.24 353.8L185.9 353.81L186.55 353.82L187.21 353.83L187.87 353.84L188.52 353.85L189.18 353.86L189.83 353.87L190.49 353.88L191.15 353.89L191.8 353.89L192.46 353.9L193.12 353.91L193.77 353.92L194.43 353.93L195.08 353.93L195.74 353.94L196.4 353.95L197.05 353.95L197.71 353.96L198.37 353.97L199.02 353.97L199.68 353.98L200.34 353.98L200.99 353.99L201.65 353.99L202.3 354L202.96 354L203.62 354.01L204.27 354.01L204.93 354.02L205.59 354.02L206.24 354.03L206.9 354.03L207.56 354.04L208.21 354.04L208.87 354.04L209.52 354.05L210.18 354.05L210.84 354.06L211.49 354.06L212.15 354.06L212.81 354.07L213.46 354.07L214.12 354.07L214.77 354.08L215.43 354.08L216.09 354.08L216.74 354.08L217.4 354.09" fill="none" stroke="#7a2a80" stroke-width="1"/>
<path d="M20.5 354.07L21.16 354.06L21.81 354.06L22.47 354.06L23.13 354.05L23.78 354.05L24.44 354.05L25.09 354.04L25.75 354.04L26.41 354.03L27.06 354.03L27.72 354.03L28.38 354.02L29.03 354.02L29.69 354.01L30.34 354.01L31 354L31.66 354L32.31 353.99L32.97 353.99L33.63 353.98L34.28 353.98L34.94 353.97L35.6 353.96L36.25 353.96L36.91 353.95L37.56 353.95L38.22 353.94L38.88 353.93L39.53 353.93L40.19 353.92L40.85 353.91L41.5 353.91L42.16 353.9L42.82 353.89L43.47 353.88L44.13 353.87L44.78 353.87L45.44 353.86L46.1 353.85L46.75 353.84L47.41 353.83L48.07 353.82L48.72 353.81L49.38 353.8L50.03 353.79L50.69 353.78L51.35 353.77L52 353.76L52.66 353.75L53.32 353.73L53.97 353.72L54.63 353.71L55.29 353.7L55.94 353.68L56.6 353.67L57.25 353.66L57.91 353.64L58.57 353.63L59.22 353.61L59.88 353.59L60.54 353.58L61.19 353.56L61.85 353.54L62.51 353.53L63.16 353.51L63.82 353.49L64.47 353.47L65.13 353.45L65.79 353.42L66.44 353.4L67.1 353.38L67.76 353.35L68.41 353.33L69.07 353.3L69.72 353.27L70.38 353.24L71.04 353.21L71.69 353.18L72.35 353.15L73.01 353.11L73.66 353.08L74.32 353.04L74.98 352.99L75.63 352.95L76.29 352.9L76.94 352.85L77.6 352.8L78.26 352.75L78.91 352.68L79.57 352.62L80.23 352.55L80.88 352.48L81.54 352.4L82.2 352.31L82.85 352.22L83.51 352.12L84.16 352.01L84.82 351.9L85.48 351.77L86.13 351.63L86.79 351.48L87.45 351.32L88.1 351.14L88.76 350.94L89.42 350.73L90.07 350.49L90.73 350.24L91.38 349.96L92.04 349.65L92.7 349.31L93.35 348.93L94.01 348.52L94.67 348.06L95.32 347.56L95.98 347L96.63 346.39L97.29 345.71L97.95 344.97L98.6 344.14L99.26 343.22L99.92 342.21L100.57 341.08L101.23 339.84L101.89 338.47L102.54 336.94L103.2 335.26L103.85 333.39L104.51 331.33L105.17 329.05L105.82 326.54L106.48 323.77L107.14 320.72L107.79 317.38L108.45 313.72L109.11 309.73L109.76 305.4L110.42 300.73L111.07 295.73L111.73 290.43L112.39 284.85L113.04 279.09L113.7 273.21L114.36 267.36L115.01 261.68L115.67 256.36L116.32 251.6L116.98 247.59L117.64 244.52L118.29 242.56L118.95 241.8L119.61 242.56L120.26 244.52L120.92 247.59L121.58 251.6L122.23 256.36L122.89 261.68L123.54 267.36L124.2 273.21L124.86 279.09L125.51 284.85L126.17 290.43L126.83 295.73L127.48 300.73L128.14 305.4L128.8 309.73L129.45 313.72L130.11 317.38L130.76 320.72L131.42 323.77L132.08 326.54L132.73 329.05L133.39 331.33L134.05 333.39L134.7 335.26L135.36 336.94L136.01 338.47L136.67 339.84L137.33 341.08L137.98 342.21L138.64 343.22L139.3 344.14L139.95 344.97L140.61 345.71L141.27 346.39L141.92 347L142.58 347.56L143.23 348.06L143.89 348.52L144.55 348.93L145.2 349.31L145.86 349.65L146.52 349.96L147.17 350.24L147.83 350.49L148.49 350.73L149.14 350.94L149.8 351.14L150.45 351.32L151.11 351.48L151.77 351.63L152.42 351.77L153.08 351.9L153.74 352.01L154.39 352.12L155.05 352.22L155.7 352.31L156.36 352.4L157.02 352.48L157.67 352.55L158.33 352.62L158.99 352.68L159.64 352.75L160.3 352.8L160.96 352.85L161.61 352.9L162.27 352.95L162.92 352.99L163.58 353.04L164.24 353.08L164.89 353.11L165.55 353.15L166.21 353.18L166.86 353.21L167.52 353.24L168.18 353.27L168.83 353.3L169.49 353.33L170.14 353.35L170.8 353.38L171.46 353.4L172.11 353.42L172.77 353.45L173.43 353.47L174.08 353.49L174.74 353.51L175.39 353.53L176.05 353.54L176.71 353.56L177.36 353.58L178.02 353.59L178.68 353.61L179.33 353.63L179.99 353.64L180.65 353.66L181.3 353.67L181.96 353.68L182.61 353.7L183.27 353.71L183.93 353.72L184.58 353.73L185.24 353.75L185.9 353.76L186.55 353.77L187.21 353.78L187.87 353.79L188.52 353.8L189.18 353.81L189.83 353.82L190.49 353.83L191.15 353.84L191.8 353.85L192.46 353.86L193.12 353.87L193.77 353.87L194.43 353.88L195.08 353.89L195.74 353.9L196.4 353.91L197.05 353.91L197.71 353.92L198.37 353.93L199.02 353.93L199.68 353.94L200.34 353.95L200.99 353.95L201.65 353.96L202.3 353.96L202.96 353.97L203.62 353.98L204.27 353.98L204.93 353.99L205.59 353.99L206.24 354L206.9 354L207.56 354.01L208.21 354.01L208.87 354.02L209.52 354.02L210.18 354.03L210.84 354.03L211.49 354.03L212.15 354.04L212.81 354.04L213.46 354.05L214.12 354.05L214.77 354.05L215.43 354.06L216.09 354.06L216.74 354.06L217.4 354.07" fill="none" stroke="#9a9a78" stroke-width="1"/>
<path d="M20.5 354.08L21.16 354.08L21.81 354.07L22.47 354.07L23.13 354.07L23.78 354.06L24.44 354.06L25.09 354.06L25.75 354.05L26.41 354.05L27.06 354.05L27.72 354.04L28.38 354.04L29.03 354.03L29.69 354.03L30.34 354.03L31 354.02L31.66 354.02L32.31 354.01L32.97 354.01L33.63 354L34.28 354L34.94 353.99L35.6 353.99L36.25 353.98L36.91 353.98L37.56 353.97L38.22 353.96L38.88 353.96L39.53 353.95L40.19 353.95L40.85 353.94L41.5 353.93L42.16 353.92L42.82 353.92L43.47 353.91L44.13 353.9L44.78 353.9L45.44 353.89L46.1 353.88L46.75 353.87L47.41 353.86L48.07 353.85L48.72 353.84L49.38 353.83L50.03 353.82L50.69 353.81L51.35 353.8L52 353.79L52.66 353.78L53.32 353.77L53.97 353.76L54.63 353.75L55.29 353.73L55.94 353.72L56.6 353.71L57.25 353.69L57.91 353.68L58.57 353.66L59.22 353.65L59.88 353.63L60.54 353.61L61.19 353.6L61.85 353.58L62.51 353.56L63.16 353.54L63.82 353.52L64.47 353.5L65.13 353.47L65.79 353.45L66.44 353.42L67.1 353.4L67.76 353.37L68.41 353.34L69.07 353.31L69.72 353.28L70.38 353.24L71.04 353.21L71.69 353.17L72.35 353.13L73.01 353.09L73.66 353.04L74.32 352.99L74.98 352.94L75.63 352.89L76.29 352.83L76.94 352.76L77.6 352.7L78.26 352.62L78.91 352.55L79.57 352.46L80.23 352.37L80.88 352.28L81.54 352.17L82.2 352.06L82.85 351.94L83.51 351.81L84.16 351.67L84.82 351.52L85.48 351.35L86.13 351.17L86.79 350.97L87.45 350.76L88.1 350.53L88.76 350.28L89.42 350L90.07 349.7L90.73 349.38L91.38 349.02L92.04 348.63L92.7 348.21L93.35 347.75L94.01 347.24L94.67 346.69L95.32 346.08L95.98 345.42L96.63 344.7L97.29 343.91L97.95 343.04L98.6 342.09L99.26 341.05L99.92 339.91L100.57 338.67L101.23 337.3L101.89 335.81L102.54 334.18L103.2 332.4L103.85 330.45L104.51 328.33L105.17 326.02L105.82 323.5L106.48 320.77L107.14 317.81L107.79 314.62L108.45 311.18L109.11 307.5L109.76 303.58L110.42 299.43L111.07 295.07L111.73 290.53L112.39 285.87L113.04 281.13L113.7 276.42L114.36 271.81L115.01 267.42L115.67 263.38L116.32 259.82L116.98 256.86L117.64 254.62L118.29 253.19L118.95 252.62L119.61 253.19L120.26 254.62L120.92 256.86L121.58 259.82L122.23 263.38L122.89 267.42L123.54 271.81L124.2 276.42L124.86 281.13L125.51 285.87L126.17 290.53L126.83 295.07L127.48 299.43L128.14 303.58L128.8 307.5L129.45 311.18L130.11 314.62L130.76 317.81L131.42 320.77L132.08 323.5L132.73 326.02L133.39 328.33L134.05 330.45L134.7 332.4L135.36 334.18L136.01 335.81L136.67 337.3L137.33 338.67L137.98 339.91L138.64 341.05L139.3 342.09L139.95 343.04L140.61 343.91L141.27 344.7L141.92 345.42L142.58 346.08L143.23 346.69L143.89 347.24L144.55 347.75L145.2 348.21L145.86 348.63L146.52 349.02L147.17 349.38L147.83 349.7L148.49 350L149.14 350.28L149.8 350.53L150.45 350.76L151.11 350.97L151.77 351.17L152.42 351.35L153.08 351.52L153.74 351.67L154.39 351.81L155.05 351.94L155.7 352.06L156.36 352.17L157.02 352.28L157.67 352.37L158.33 352.46L158.99 352.55L159.64 352.62L160.3 352.7L160.96 352.76L161.61 352.83L162.27 352.89L162.92 352.94L163.58 352.99L164.24 353.04L164.89 353.09L165.55 353.13L166.21 353.17L166.86 353.21L167.52 353.24L168.18 353.28L168.83 353.31L169.49 353.34L170.14 353.37L170.8 353.4L171.46 353.42L172.11 353.45L172.77 353.47L173.43 353.5L174.08 353.52L174.74 353.54L175.39 353.56L176.05 353.58L176.71 353.6L177.36 353.61L178.02 353.63L178.68 353.65L179.33 353.66L179.99 353.68L180.65 353.69L181.3 353.71L181.96 353.72L182.61 353.73L183.27 353.75L183.93 353.76L184.58 353.77L185.24 353.78L185.9 353.79L186.55 353.8L187.21 353.81L187.87 353.82L188.52 353.83L189.18 353.84L189.83 353.85L190.49 353.86L191.15 353.87L191.8 353.88L192.46 353.89L193.12 353.9L193.77 353.9L194.43 353.91L195.08 353.92L195.74 353.92L196.4 353.93L197.05 353.94L197.71 353.95L198.37 353.95L199.02 353.96L199.68 353.96L200.34 353.97L200.99 353.98L201.65 353.98L202.3 353.99L202.96 353.99L203.62 354L204.27 354L204.93 354.01L205.59 354.01L206.24 354.02L206.9 354.02L207.56 354.03L208.21 354.03L208.87 354.03L209.52 354.04L210.18 354.04L210.84 354.05L211.49 354.05L212.15 354.05L212.81 354.06L213.46 354.06L214.12 354.06L214.77 354.07L215.43 354.07L216.09 354.07L216.74 354.08L217.4 354.08" fill="none" stroke="#80c8e8" stroke-width="1"/>
<path d="M20.5 354.09L21.16 354.09L21.81 354.08L22.47 354.08L23.13 354.08L23.78 354.08L24.44 354.07L25.09 354.07L25.75 354.07L26.41 354.06L27.06 354.06L27.72 354.06L28.38 354.05L29.03 354.05L29.69 354.04L30.34 354.04L31 354.04L31.66 354.03L32.31 354.03L32.97 354.02L33.63 354.02L34.28 354.01L34.94 354.01L35.6 354L36.25 354L36.91 353.99L37.56 353.99L38.22 353.98L38.88 353.98L39.53 353.97L40.19 353.96L40.85 353.96L41.5 353.95L42.16 353.94L42.82 353.94L43.47 353.93L44.13 353.92L44.78 353.92L45.44 353.91L46.1 353.9L46.75 353.89L47.41 353.88L48.07 353.87L48.72 353.86L49.38 353.86L50.03 353.85L50.69 353.83L51.35 353.82L52 353.81L52.66 353.8L53.32 353.79L53.97 353.78L54.63 353.76L55.29 353.75L55.94 353.74L56.6 353.72L57.25 353.71L57.91 353.69L58.57 353.68L59.22 353.66L59.88 353.64L60.54 353.62L61.19 353.6L61.85 353.58L62.51 353.56L63.16 353.54L63.82 353.51L64.47 353.49L65.13 353.46L65.79 353.43L66.44 353.4L67.1 353.37L67.76 353.34L68.41 353.31L69.07 353.27L69.72 353.23L70.38 353.19L71.04 353.14L71.69 353.1L72.35 353.05L73.01 352.99L73.66 352.94L74.32 352.88L74.98 352.81L75.63 352.74L76.29 352.67L76.94 352.59L77.6 352.5L78.26 352.41L78.91 352.32L79.57 352.21L80.23 352.1L80.88 351.98L81.54 351.85L82.2 351.71L82.85 351.55L83.51 351.39L84.16 351.21L84.82 351.02L85.48 350.82L86.13 350.59L86.79 350.35L87.45 350.09L88.1 349.81L88.76 349.51L89.42 349.18L90.07 348.82L90.73 348.43L91.38 348.01L92.04 347.56L92.7 347.06L93.35 346.53L94.01 345.95L94.67 345.32L95.32 344.63L95.98 343.89L96.63 343.08L97.29 342.21L97.95 341.26L98.6 340.23L99.26 339.11L99.92 337.9L100.57 336.58L101.23 335.16L101.89 333.61L102.54 331.94L103.2 330.14L103.85 328.18L104.51 326.08L105.17 323.81L105.82 321.37L106.48 318.76L107.14 315.97L107.79 312.99L108.45 309.83L109.11 306.5L109.76 303L110.42 299.35L111.07 295.58L111.73 291.71L112.39 287.8L113.04 283.89L113.7 280.06L114.36 276.37L115.01 272.91L115.67 269.76L116.32 267.01L116.98 264.75L117.64 263.04L118.29 261.95L118.95 261.5L119.61 261.95L120.26 263.04L120.92 264.75L121.58 267.01L122.23 269.76L122.89 272.91L123.54 276.37L124.2 280.06L124.86 283.89L125.51 287.8L126.17 291.71L126.83 295.58L127.48 299.35L128.14 303L128.8 306.5L129.45 309.83L130.11 312.99L130.76 315.97L131.42 318.76L132.08 321.37L132.73 323.81L133.39 326.08L134.05 328.18L134.7 330.14L135.36 331.94L136.01 333.61L136.67 335.16L137.33 336.58L137.98 337.9L138.64 339.11L139.3 340.23L139.95 341.26L140.61 342.21L141.27 343.08L141.92 343.89L142.58 344.63L143.23 345.32L143.89 345.95L144.55 346.53L145.2 347.06L145.86 347.56L146.52 348.01L147.17 348.43L147.83 348.82L148.49 349.18L149.14 349.51L149.8 349.81L150.45 350.09L151.11 350.35L151.77 350.59L152.42 350.82L153.08 351.02L153.74 351.21L154.39 351.39L155.05 351.55L155.7 351.71L156.36 351.85L157.02 351.98L157.67 352.1L158.33 352.21L158.99 352.32L159.64 352.41L160.3 352.5L160.96 352.59L161.61 352.67L162.27 352.74L162.92 352.81L163.58 352.88L164.24 352.94L164.89 352.99L165.55 353.05L166.21 353.1L166.86 353.14L167.52 353.19L168.18 353.23L168.83 353.27L169.49 353.31L170.14 353.34L170.8 353.37L171.46 353.4L172.11 353.43L172.77 353.46L173.43 353.49L174.08 353.51L174.74 353.54L175.39 353.56L176.05 353.58L176.71 353.6L177.36 353.62L178.02 353.64L178.68 353.66L179.33 353.68L179.99 353.69L180.65 353.71L181.3 353.72L181.96 353.74L182.61 353.75L183.27 353.76L183.93 353.78L184.58 353.79L185.24 353.8L185.9 353.81L186.55 353.82L187.21 353.83L187.87 353.85L188.52 353.86L189.18 353.86L189.83 353.87L190.49 353.88L191.15 353.89L191.8 353.9L192.46 353.91L193.12 353.92L193.77 353.92L194.43 353.93L195.08 353.94L195.74 353.94L196.4 353.95L197.05 353.96L197.71 353.96L198.37 353.97L199.02 353.98L199.68 353.98L200.34 353.99L200.99 353.99L201.65 354L202.3 354L202.96 354.01L203.62 354.01L204.27 354.02L204.93 354.02L205.59 354.03L206.24 354.03L206.9 354.04L207.56 354.04L208.21 354.04L208.87 354.05L209.52 354.05L210.18 354.06L210.84 354.06L211.49 354.06L212.15 354.07L212.81 354.07L213.46 354.07L214.12 354.08L214.77 354.08L215.43 354.08L216.09 354.08L216.74 354.09L217.4 354.09" fill="none" stroke="#f03838" stroke-width="1"/>
<path d="M20.5 354.11L21.16 354.1L21.81 354.1L22.47 354.1L23.13 354.09L23.78 354.09L24.44 354.09L25.09 354.08L25.75 354.08L26.41 354.07L27.06 354.07L27.72 354.07L28.38 354.06L29.03 354.06L29.69 354.05L30.34 354.05L31 354.04L31.66 354.04L32.31 354.03L32.97 354.02L33.63 354.02L34.28 354.01L34.94 354L35.6 354L36.25 353.99L36.91 353.98L37.56 353.97L38.22 353.96L38.88 353.95L39.53 353.95L40.19 353.94L40.85 353.92L41.5 353.91L42.16 353.9L42.82 353.89L43.47 353.88L44.13 353.87L44.78 353.85L45.44 353.84L46.1 353.82L46.75 353.81L47.41 353.79L48.07 353.77L48.72 353.75L49.38 353.74L50.03 353.72L50.69 353.69L51.35 353.67L52 353.65L52.66 353.62L53.32 353.6L53.97 353.57L54.63 353.54L55.29 353.51L55.94 353.48L56.6 353.45L57.25 353.41L57.91 353.38L58.57 353.34L59.22 353.3L59.88 353.25L60.54 353.21L61.19 353.16L61.85 353.11L62.51 353.06L63.16 353L63.82 352.94L64.47 352.88L65.13 352.81L65.79 352.74L66.44 352.67L67.1 352.59L67.76 352.51L68.41 352.42L69.07 352.33L69.72 352.23L70.38 352.13L71.04 352.02L71.69 351.91L72.35 351.79L73.01 351.66L73.66 351.53L74.32 351.39L74.98 351.24L75.63 351.08L76.29 350.91L76.94 350.73L77.6 350.54L78.26 350.35L78.91 350.14L79.57 349.91L80.23 349.68L80.88 349.43L81.54 349.17L82.2 348.89L82.85 348.59L83.51 348.28L84.16 347.95L84.82 347.6L85.48 347.24L86.13 346.85L86.79 346.43L87.45 346L88.1 345.54L88.76 345.05L89.42 344.53L90.07 343.98L90.73 343.41L91.38 342.8L92.04 342.15L92.7 341.47L93.35 340.75L94.01 339.99L94.67 339.19L95.32 338.34L95.98 337.45L96.63 336.51L97.29 335.52L97.95 334.48L98.6 333.38L99.26 332.23L99.92 331.02L100.57 329.75L101.23 328.43L101.89 327.04L102.54 325.59L103.2 324.09L103.85 322.52L104.51 320.9L105.17 319.22L105.82 317.5L106.48 315.72L107.14 313.91L107.79 312.06L108.45 310.19L109.11 308.3L109.76 306.41L110.42 304.53L111.07 302.68L111.73 300.87L112.39 299.12L113.04 297.44L113.7 295.87L114.36 294.41L115.01 293.09L115.67 291.93L116.32 290.93L116.98 290.12L117.64 289.51L118.29 289.11L118.95 288.92L119.61 289.11L120.26 289.51L120.92 290.12L121.58 290.93L122.23 291.93L122.89 293.09L123.54 294.41L124.2 295.87L124.86 297.44L125.51 299.12L126.17 300.87L126.83 302.68L127.48 304.53L128.14 306.41L128.8 308.3L129.45 310.19L130.11 312.06L130.76 313.91L131.42 315.72L132.08 317.5L132.73 319.22L133.39 320.9L134.05 322.52L134.7 324.09L135.36 325.59L136.01 327.04L136.67 328.43L137.33 329.75L137.98 331.02L138.64 332.23L139.3 333.38L139.95 334.48L140.61 335.52L141.27 336.51L141.92 337.45L142.58 338.34L143.23 339.19L143.89 339.99L144.55 340.75L145.2 341.47L145.86 342.15L146.52 342.8L147.17 343.41L147.83 343.98L148.49 344.53L149.14 345.05L149.8 345.54L150.45 346L151.11 346.43L151.77 346.85L152.42 347.24L153.08 347.6L153.74 347.95L154.39 348.28L155.05 348.59L155.7 348.89L156.36 349.17L157.02 349.43L157.67 349.68L158.33 349.91L158.99 350.14L159.64 350.35L160.3 350.54L160.96 350.73L161.61 350.91L162.27 351.08L162.92 351.24L163.58 351.39L164.24 351.53L164.89 351.66L165.55 351.79L166.21 351.91L166.86 352.02L167.52 352.13L168.18 352.23L168.83 352.33L169.49 352.42L170.14 352.51L170.8 352.59L171.46 352.67L172.11 352.74L172.77 352.81L173.43 352.88L174.08 352.94L174.74 353L175.39 353.06L176.05 353.11L176.71 353.16L177.36 353.21L178.02 353.25L178.68 353.3L179.33 353.34L179.99 353.38L180.65 353.41L181.3 353.45L181.96 353.48L182.61 353.51L183.27 353.54L183.93 353.57L184.58 353.6L185.24 353.62L185.9 353.65L186.55 353.67L187.21 353.69L187.87 353.72L188.52 353.74L189.18 353.75L189.83 353.77L190.49 353.79L191.15 353.81L191.8 353.82L192.46 353.84L193.12 353.85L193.77 353.87L194.43 353.88L195.08 353.89L195.74 353.9L196.4 353.91L197.05 353.92L197.71 353.94L198.37 353.95L199.02 353.95L199.68 353.96L200.34 353.97L200.99 353.98L201.65 353.99L202.3 354L202.96 354L203.62 354.01L204.27 354.02L204.93 354.02L205.59 354.03L206.24 354.04L206.9 354.04L207.56 354.05L208.21 354.05L208.87 354.06L209.52 354.06L210.18 354.07L210.84 354.07L211.49 354.07L212.15 354.08L212.81 354.08L213.46 354.09L214.12 354.09L214.77 354.09L215.43 354.1L216.09 354.1L216.74 354.1L217.4 354.11" fill="none" stroke="#888888" stroke-width="1"/>
<path d="M20.5 354.08L21.16 354.08L21.81 354.08L22.47 354.08L23.13 354.07L23.78 354.07L24.44 354.07L25.09 354.06L25.75 354.06L26.41 354.06L27.06 354.05L27.72 354.05L28.38 354.05L29.03 354.04L29.69 354.04L30.34 354.04L31 354.03L31.66 354.03L32.31 354.02L32.97 354.02L33.63 354.02L34.28 354.01L34.94 354.01L35.6 354L36.25 354L36.91 353.99L37.56 353.99L38.22 353.98L38.88 353.97L39.53 353.97L40.19 353.96L40.85 353.96L41.5 353.95L42.16 353.94L42.82 353.93L43.47 353.93L44.13 353.92L44.78 353.91L45.44 353.9L46.1 353.89L46.75 353.88L47.41 353.87L48.07 353.86L48.72 353.85L49.38 353.84L50.03 353.83L50.69 353.81L51.35 353.8L52 353.79L52.66 353.77L53.32 353.76L53.97 353.74L54.63 353.72L55.29 353.71L55.94 353.69L56.6 353.67L57.25 353.65L57.91 353.63L58.57 353.6L59.22 353.58L59.88 353.55L60.54 353.52L61.19 353.49L61.85 353.46L62.51 353.43L63.16 353.4L63.82 353.36L64.47 353.32L65.13 353.28L65.79 353.24L66.44 353.19L67.1 353.14L67.76 353.09L68.41 353.03L69.07 352.97L69.72 352.91L70.38 352.84L71.04 352.77L71.69 352.7L72.35 352.62L73.01 352.53L73.66 352.44L74.32 352.34L74.98 352.24L75.63 352.13L76.29 352.01L76.94 351.88L77.6 351.75L78.26 351.61L78.91 351.45L79.57 351.29L80.23 351.11L80.88 350.93L81.54 350.73L82.2 350.52L82.85 350.29L83.51 350.05L84.16 349.79L84.82 349.51L85.48 349.21L86.13 348.9L86.79 348.56L87.45 348.2L88.1 347.81L88.76 347.39L89.42 346.95L90.07 346.48L90.73 345.97L91.38 345.43L92.04 344.86L92.7 344.24L93.35 343.58L94.01 342.87L94.67 342.12L95.32 341.31L95.98 340.45L96.63 339.54L97.29 338.56L97.95 337.51L98.6 336.4L99.26 335.22L99.92 333.96L100.57 332.61L101.23 331.19L101.89 329.68L102.54 328.08L103.2 326.38L103.85 324.6L104.51 322.71L105.17 320.73L105.82 318.65L106.48 316.49L107.14 314.23L107.79 311.89L108.45 309.47L109.11 307L109.76 304.47L110.42 301.92L111.07 299.35L111.73 296.81L112.39 294.31L113.04 291.88L113.7 289.57L114.36 287.41L115.01 285.43L115.67 283.67L116.32 282.17L116.98 280.95L117.64 280.05L118.29 279.49L118.95 279.27L119.61 279.49L120.26 280.05L120.92 280.95L121.58 282.17L122.23 283.67L122.89 285.43L123.54 287.41L124.2 289.57L124.86 291.88L125.51 294.31L126.17 296.81L126.83 299.35L127.48 301.92L128.14 304.47L128.8 307L129.45 309.47L130.11 311.89L130.76 314.23L131.42 316.49L132.08 318.65L132.73 320.73L133.39 322.71L134.05 324.6L134.7 326.38L135.36 328.08L136.01 329.68L136.67 331.19L137.33 332.61L137.98 333.96L138.64 335.22L139.3 336.4L139.95 337.51L140.61 338.56L141.27 339.54L141.92 340.45L142.58 341.31L143.23 342.12L143.89 342.87L144.55 343.58L145.2 344.24L145.86 344.86L146.52 345.43L147.17 345.97L147.83 346.48L148.49 346.95L149.14 347.39L149.8 347.81L150.45 348.2L151.11 348.56L151.77 348.9L152.42 349.21L153.08 349.51L153.74 349.79L154.39 350.05L155.05 350.29L155.7 350.52L156.36 350.73L157.02 350.93L157.67 351.11L158.33 351.29L158.99 351.45L159.64 351.61L160.3 351.75L160.96 351.88L161.61 352.01L162.27 352.13L162.92 352.24L163.58 352.34L164.24 352.44L164.89 352.53L165.55 352.62L166.21 352.7L166.86 352.77L167.52 352.84L168.18 352.91L168.83 352.97L169.49 353.03L170.14 353.09L170.8 353.14L171.46 353.19L172.11 353.24L172.77 353.28L173.43 353.32L174.08 353.36L174.74 353.4L175.39 353.43L176.05 353.46L176.71 353.49L177.36 353.52L178.02 353.55L178.68 353.58L179.33 353.6L179.99 353.63L180.65 353.65L181.3 353.67L181.96 353.69L182.61 353.71L183.27 353.72L183.93 353.74L184.58 353.76L185.24 353.77L185.9 353.79L186.55 353.8L187.21 353.81L187.87 353.83L188.52 353.84L189.18 353.85L189.83 353.86L190.49 353.87L191.15 353.88L191.8 353.89L192.46 353.9L193.12 353.91L193.77 353.92L194.43 353.93L195.08 353.93L195.74 353.94L196.4 353.95L197.05 353.96L197.71 353.96L198.37 353.97L199.02 353.97L199.68 353.98L200.34 353.99L200.99 353.99L201.65 354L202.3 354L202.96 354.01L203.62 354.01L204.27 354.02L204.93 354.02L205.59 354.02L206.24 354.03L206.9 354.03L207.56 354.04L208.21 354.04L208.87 354.04L209.52 354.05L210.18 354.05L210.84 354.05L211.49 354.06L212.15 354.06L212.81 354.06L213.46 354.07L214.12 354.07L214.77 354.07L215.43 354.08L216.09 354.08L216.74 354.08L217.4 354.08" fill="none" stroke="#40b040" stroke-width="1"/>
<line x1="20.5" y1="199.7" x2="217.4" y2="199.7" stroke="#555555" stroke-width="0.9"/>
<line x1="217.4" y1="199.7" x2="217.4" y2="354.2" stroke="#555555" stroke-width="0.9"/>
<line x1="20.5" y1="199.7" x2="20.5" y2="354.2" stroke="#555555" stroke-width="0.9"/>
<line x1="20.5" y1="354.2" x2="217.4" y2="354.2" stroke="#555555" stroke-width="0.9"/>
<path d="M16.1 354.2l4.6 -1.9v3.8z" fill="#000"/>
<path d="M221.2 354.2l-4.6 -1.9v3.8z" fill="#000"/>
<line x1="17.5" y1="354.2" x2="20.5" y2="354.2" stroke="#555555" stroke-width="0.8"/>
<text class="S" x="16.1" y="356.5" font-size="6.4" text-anchor="end" fill="#000">0.0</text>
<line x1="18.7" y1="334.89" x2="20.5" y2="334.89" stroke="#555555" stroke-width="0.7"/>
<line x1="17.5" y1="315.57" x2="20.5" y2="315.57" stroke="#555555" stroke-width="0.8"/>
<text class="S" x="16.1" y="317.88" font-size="6.4" text-anchor="end" fill="#000">0.1</text>
<line x1="18.7" y1="296.26" x2="20.5" y2="296.26" stroke="#555555" stroke-width="0.7"/>
<line x1="17.5" y1="276.95" x2="20.5" y2="276.95" stroke="#555555" stroke-width="0.8"/>
<text class="S" x="16.1" y="279.25" font-size="6.4" text-anchor="end" fill="#000">0.2</text>
<line x1="18.7" y1="257.64" x2="20.5" y2="257.64" stroke="#555555" stroke-width="0.7"/>
<line x1="17.5" y1="238.32" x2="20.5" y2="238.32" stroke="#555555" stroke-width="0.8"/>
<text class="S" x="16.1" y="240.62" font-size="6.4" text-anchor="end" fill="#000">0.3</text>
<line x1="18.7" y1="219.01" x2="20.5" y2="219.01" stroke="#555555" stroke-width="0.7"/>
<line x1="17.5" y1="199.7" x2="20.5" y2="199.7" stroke="#555555" stroke-width="0.8"/>
<text class="S" x="16.1" y="202" font-size="6.4" text-anchor="end" fill="#000">0.4</text>
<line x1="20.5" y1="354.2" x2="20.5" y2="356.2" stroke="#555555" stroke-width="0.6"/>
<text class="S" x="20.5" y="363.8" font-size="6.4" text-anchor="middle" fill="#000">−15</text>
<line x1="30.34" y1="354.2" x2="30.34" y2="356" stroke="#555555" stroke-width="0.7"/>
<line x1="40.19" y1="354.2" x2="40.19" y2="356.2" stroke="#555555" stroke-width="0.6"/>
<text class="S" x="40.19" y="363.8" font-size="6.4" text-anchor="middle" fill="#000">−12</text>
<line x1="50.03" y1="354.2" x2="50.03" y2="356" stroke="#555555" stroke-width="0.7"/>
<line x1="59.88" y1="354.2" x2="59.88" y2="356.2" stroke="#555555" stroke-width="0.6"/>
<text class="S" x="59.88" y="363.8" font-size="6.4" text-anchor="middle" fill="#000">−9</text>
<line x1="69.73" y1="354.2" x2="69.73" y2="356" stroke="#555555" stroke-width="0.7"/>
<line x1="79.57" y1="354.2" x2="79.57" y2="356.2" stroke="#555555" stroke-width="0.6"/>
<text class="S" x="79.57" y="363.8" font-size="6.4" text-anchor="middle" fill="#000">−6</text>
<line x1="89.41" y1="354.2" x2="89.41" y2="356" stroke="#555555" stroke-width="0.7"/>
<line x1="99.26" y1="354.2" x2="99.26" y2="356.2" stroke="#555555" stroke-width="0.6"/>
<text class="S" x="99.26" y="363.8" font-size="6.4" text-anchor="middle" fill="#000">−3</text>
<line x1="109.11" y1="354.2" x2="109.11" y2="356" stroke="#555555" stroke-width="0.7"/>
<line x1="118.95" y1="354.2" x2="118.95" y2="356.2" stroke="#555555" stroke-width="0.6"/>
<text class="S" x="118.95" y="363.8" font-size="6.4" text-anchor="middle" fill="#000">0</text>
<line x1="128.8" y1="354.2" x2="128.8" y2="356" stroke="#555555" stroke-width="0.7"/>
<line x1="138.64" y1="354.2" x2="138.64" y2="356.2" stroke="#555555" stroke-width="0.6"/>
<text class="S" x="138.64" y="363.8" font-size="6.4" text-anchor="middle" fill="#000">3</text>
<line x1="148.48" y1="354.2" x2="148.48" y2="356" stroke="#555555" stroke-width="0.7"/>
<line x1="158.33" y1="354.2" x2="158.33" y2="356.2" stroke="#555555" stroke-width="0.6"/>
<text class="S" x="158.33" y="363.8" font-size="6.4" text-anchor="middle" fill="#000">6</text>
<line x1="168.18" y1="354.2" x2="168.18" y2="356" stroke="#555555" stroke-width="0.7"/>
<line x1="178.02" y1="354.2" x2="178.02" y2="356.2" stroke="#555555" stroke-width="0.6"/>
<text class="S" x="178.02" y="363.8" font-size="6.4" text-anchor="middle" fill="#000">9</text>
<line x1="187.87" y1="354.2" x2="187.87" y2="356" stroke="#555555" stroke-width="0.7"/>
<line x1="197.71" y1="354.2" x2="197.71" y2="356.2" stroke="#555555" stroke-width="0.6"/>
<text class="S" x="197.71" y="363.8" font-size="6.4" text-anchor="middle" fill="#000">12</text>
<line x1="207.56" y1="354.2" x2="207.56" y2="356" stroke="#555555" stroke-width="0.7"/>
<line x1="217.4" y1="354.2" x2="217.4" y2="356.2" stroke="#555555" stroke-width="0.6"/>
<text class="S" x="217.4" y="363.8" font-size="6.4" text-anchor="middle" fill="#000">15</text>
<text class="S" x="5.9" y="276.9" font-size="7.1" text-anchor="middle" fill="#000" transform="rotate(-90 5.9 276.9)">Density</text>
<text class="S" x="119" y="369.8" font-size="6.8" text-anchor="middle" fill="#000">Error</text>
<rect x="180.5" y="199.7" width="36.9" height="80.6" fill="#fff" stroke="#555555" stroke-width="0.8"/>
<line x1="181" y1="204.2" x2="195.2" y2="204.2" stroke="#6a6ab4" stroke-width="1.0"/>
<text class="S" x="197" y="206.4" font-size="6.0" text-anchor="start" fill="#000">pcad</text>
<line x1="181" y1="212.21" x2="195.2" y2="212.21" stroke="#f0e020" stroke-width="1.0"/>
<text class="S" x="197" y="214.41" font-size="6.0" text-anchor="start" fill="#000">plsd</text>
<line x1="181" y1="220.22" x2="195.2" y2="220.22" stroke="#ff9a40" stroke-width="1.0"/>
<text class="S" x="197" y="222.42" font-size="6.0" text-anchor="start" fill="#000">o_pcad</text>
<line x1="181" y1="228.23" x2="195.2" y2="228.23" stroke="#4a8ee8" stroke-width="1.0"/>
<text class="S" x="197" y="230.43" font-size="6.0" text-anchor="start" fill="#000">o_plsd</text>
<line x1="181" y1="236.24" x2="195.2" y2="236.24" stroke="#7a2a80" stroke-width="1.0"/>
<text class="S" x="197" y="238.44" font-size="6.0" text-anchor="start" fill="#000">cd</text>
<line x1="181" y1="244.25" x2="195.2" y2="244.25" stroke="#9a9a78" stroke-width="1.0"/>
<text class="S" x="197" y="246.45" font-size="6.0" text-anchor="start" fill="#000">mcd</text>
<line x1="181" y1="252.26" x2="195.2" y2="252.26" stroke="#80c8e8" stroke-width="1.0"/>
<text class="S" x="197" y="254.46" font-size="6.0" text-anchor="start" fill="#000">ed</text>
<line x1="181" y1="260.27" x2="195.2" y2="260.27" stroke="#f03838" stroke-width="1.0"/>
<text class="S" x="197" y="262.47" font-size="6.0" text-anchor="start" fill="#000">cosd</text>
<line x1="181" y1="268.28" x2="195.2" y2="268.28" stroke="#888888" stroke-width="1.0"/>
<text class="S" x="197" y="270.48" font-size="6.0" text-anchor="start" fill="#000">sinfd</text>
<line x1="181" y1="276.29" x2="195.2" y2="276.29" stroke="#40b040" stroke-width="1.0"/>
<text class="S" x="197" y="278.49" font-size="6.0" text-anchor="start" fill="#000">PLSR</text>
<rect x="23.2" y="439.26" width="14.2" height="122.84" fill="#fcc894" stroke="#404040" stroke-width="0.8"/>
<text class="S" x="32.7" y="546.9" font-size="6.4" text-anchor="middle" fill="#000" transform="rotate(-90 32.7 546.9)">3.81</text>
<line x1="30.3" y1="562.1" x2="30.3" y2="565.1" stroke="#555555" stroke-width="0.8"/>
<text class="S" x="32.2" y="568" font-size="6.5" text-anchor="end" fill="#000" transform="rotate(-90 32.2 568)">pcad</text>
<rect x="43.32" y="448" width="14.2" height="114.1" fill="#fcc894" stroke="#404040" stroke-width="0.8"/>
<text class="S" x="52.82" y="546.9" font-size="6.4" text-anchor="middle" fill="#000" transform="rotate(-90 52.82 546.9)">3.54</text>
<line x1="50.42" y1="562.1" x2="50.42" y2="565.1" stroke="#555555" stroke-width="0.8"/>
<text class="S" x="52.32" y="568" font-size="6.5" text-anchor="end" fill="#000" transform="rotate(-90 52.32 568)">plsd</text>
<rect x="63.44" y="503.73" width="14.2" height="58.37" fill="#fcc894" stroke="#404040" stroke-width="0.8"/>
<text class="S" x="72.94" y="546.9" font-size="6.4" text-anchor="middle" fill="#000" transform="rotate(-90 72.94 546.9)">1.82</text>
<line x1="70.54" y1="562.1" x2="70.54" y2="565.1" stroke="#555555" stroke-width="0.8"/>
<text class="S" x="72.44" y="568" font-size="6.5" text-anchor="end" fill="#000" transform="rotate(-90 72.44 568)">o_pcad</text>
<rect x="83.56" y="504.7" width="14.2" height="57.4" fill="#fcc894" stroke="#404040" stroke-width="0.8"/>
<text class="S" x="93.06" y="546.9" font-size="6.4" text-anchor="middle" fill="#000" transform="rotate(-90 93.06 546.9)">1.79</text>
<line x1="90.66" y1="562.1" x2="90.66" y2="565.1" stroke="#555555" stroke-width="0.8"/>
<text class="S" x="92.56" y="568" font-size="6.5" text-anchor="end" fill="#000" transform="rotate(-90 92.56 568)">o_plsd</text>
<rect x="103.68" y="472.3" width="14.2" height="89.8" fill="#fcc894" stroke="#404040" stroke-width="0.8"/>
<text class="S" x="113.18" y="546.9" font-size="6.4" text-anchor="middle" fill="#000" transform="rotate(-90 113.18 546.9)">2.79</text>
<line x1="110.78" y1="562.1" x2="110.78" y2="565.1" stroke="#555555" stroke-width="0.8"/>
<text class="S" x="112.68" y="568" font-size="6.5" text-anchor="end" fill="#000" transform="rotate(-90 112.68 568)">cd</text>
<rect x="123.8" y="486.56" width="14.2" height="75.54" fill="#fcc894" stroke="#404040" stroke-width="0.8"/>
<text class="S" x="133.3" y="546.9" font-size="6.4" text-anchor="middle" fill="#000" transform="rotate(-90 133.3 546.9)">2.35</text>
<line x1="130.9" y1="562.1" x2="130.9" y2="565.1" stroke="#555555" stroke-width="0.8"/>
<text class="S" x="132.8" y="568" font-size="6.5" text-anchor="end" fill="#000" transform="rotate(-90 132.8 568)">mcd</text>
<rect x="143.92" y="480.4" width="14.2" height="81.7" fill="#fcc894" stroke="#404040" stroke-width="0.8"/>
<text class="S" x="153.42" y="546.9" font-size="6.4" text-anchor="middle" fill="#000" transform="rotate(-90 153.42 546.9)">2.54</text>
<line x1="151.02" y1="562.1" x2="151.02" y2="565.1" stroke="#555555" stroke-width="0.8"/>
<text class="S" x="152.92" y="568" font-size="6.5" text-anchor="end" fill="#000" transform="rotate(-90 152.92 568)">ed</text>
<rect x="164.04" y="468.09" width="14.2" height="94.01" fill="#fcc894" stroke="#404040" stroke-width="0.8"/>
<text class="S" x="173.54" y="546.9" font-size="6.4" text-anchor="middle" fill="#000" transform="rotate(-90 173.54 546.9)">2.92</text>
<line x1="171.14" y1="562.1" x2="171.14" y2="565.1" stroke="#555555" stroke-width="0.8"/>
<text class="S" x="173.04" y="568" font-size="6.5" text-anchor="end" fill="#000" transform="rotate(-90 173.04 568)">cosd</text>
<rect x="184.16" y="425.97" width="14.2" height="136.13" fill="#fcc894" stroke="#404040" stroke-width="0.8"/>
<text class="S" x="193.66" y="546.9" font-size="6.4" text-anchor="middle" fill="#000" transform="rotate(-90 193.66 546.9)">4.22</text>
<line x1="191.26" y1="562.1" x2="191.26" y2="565.1" stroke="#555555" stroke-width="0.8"/>
<text class="S" x="193.16" y="568" font-size="6.5" text-anchor="end" fill="#000" transform="rotate(-90 193.16 568)">sinfd</text>
<rect x="204.28" y="486.24" width="14.2" height="75.86" fill="#fcc894" stroke="#404040" stroke-width="0.8"/>
<text class="S" x="213.78" y="546.9" font-size="6.4" text-anchor="middle" fill="#000" transform="rotate(-90 213.78 546.9)">2.36</text>
<line x1="211.38" y1="562.1" x2="211.38" y2="565.1" stroke="#555555" stroke-width="0.8"/>
<text class="S" x="213.28" y="568" font-size="6.5" text-anchor="end" fill="#000" transform="rotate(-90 213.28 568)">PLSR</text>
<line x1="20.4" y1="400.1" x2="221.6" y2="400.1" stroke="#555555" stroke-width="0.9"/>
<line x1="221.6" y1="400.1" x2="221.6" y2="562.1" stroke="#555555" stroke-width="0.9"/>
<line x1="20.4" y1="400.1" x2="20.4" y2="562.1" stroke="#555555" stroke-width="0.9"/>
<line x1="20.4" y1="562.1" x2="221.6" y2="562.1" stroke="#555555" stroke-width="0.9"/>
<line x1="17.4" y1="562.1" x2="20.4" y2="562.1" stroke="#555555" stroke-width="0.8"/>
<text class="S" x="14.8" y="564.6" font-size="7.0" text-anchor="end" fill="#000">0</text>
<line x1="18.6" y1="545.9" x2="20.4" y2="545.9" stroke="#555555" stroke-width="0.7"/>
<line x1="17.4" y1="529.7" x2="20.4" y2="529.7" stroke="#555555" stroke-width="0.8"/>
<text class="S" x="14.8" y="532.2" font-size="7.0" text-anchor="end" fill="#000">1</text>
<line x1="18.6" y1="513.5" x2="20.4" y2="513.5" stroke="#555555" stroke-width="0.7"/>
<line x1="17.4" y1="497.3" x2="20.4" y2="497.3" stroke="#555555" stroke-width="0.8"/>
<text class="S" x="14.8" y="499.8" font-size="7.0" text-anchor="end" fill="#000">2</text>
<line x1="18.6" y1="481.1" x2="20.4" y2="481.1" stroke="#555555" stroke-width="0.7"/>
<line x1="17.4" y1="464.9" x2="20.4" y2="464.9" stroke="#555555" stroke-width="0.8"/>
<text class="S" x="14.8" y="467.4" font-size="7.0" text-anchor="end" fill="#000">3</text>
<line x1="18.6" y1="448.7" x2="20.4" y2="448.7" stroke="#555555" stroke-width="0.7"/>
<line x1="17.4" y1="432.5" x2="20.4" y2="432.5" stroke="#555555" stroke-width="0.8"/>
<text class="S" x="14.8" y="435" font-size="7.0" text-anchor="end" fill="#000">4</text>
<line x1="18.6" y1="416.3" x2="20.4" y2="416.3" stroke="#555555" stroke-width="0.7"/>
<line x1="17.4" y1="400.1" x2="20.4" y2="400.1" stroke="#555555" stroke-width="0.8"/>
<text class="S" x="14.8" y="402.6" font-size="7.0" text-anchor="end" fill="#000">5</text>
<text class="S" x="8.4" y="481" font-size="7.6" text-anchor="middle" fill="#000" transform="rotate(-90 8.4 481)">MAE (%)</text>
<text class="S" x="121" y="594" font-size="7.4" text-anchor="middle" fill="#000">Methods</text>
<rect x="264" y="400" width="17.97" height="15.11" fill="#448dca" stroke="none" stroke-width="0.8"/>
<text class="S" x="272.83" y="409.1" font-size="4.8" text-anchor="middle" fill="#fff">0.25</text>
<rect x="281.67" y="400" width="17.97" height="15.11" fill="#4c94ce" stroke="none" stroke-width="0.8"/>
<text class="S" x="290.5" y="409.1" font-size="4.8" text-anchor="middle" fill="#222">0.26</text>
<rect x="299.34" y="400" width="17.97" height="15.11" fill="#a9cfe8" stroke="none" stroke-width="0.8"/>
<text class="S" x="308.18" y="409.1" font-size="4.8" text-anchor="middle" fill="#222">0.33</text>
<rect x="317.01" y="400" width="17.97" height="15.11" fill="#b4d4ea" stroke="none" stroke-width="0.8"/>
<text class="S" x="325.84" y="409.1" font-size="4.8" text-anchor="middle" fill="#222">0.34</text>
<rect x="334.68" y="400" width="17.97" height="15.11" fill="#b4d4ea" stroke="none" stroke-width="0.8"/>
<text class="S" x="343.51" y="409.1" font-size="4.8" text-anchor="middle" fill="#222">0.34</text>
<rect x="352.35" y="400" width="17.97" height="15.11" fill="#cee0ee" stroke="none" stroke-width="0.8"/>
<text class="S" x="361.19" y="409.1" font-size="4.8" text-anchor="middle" fill="#222">0.36</text>
<rect x="370.02" y="400" width="17.97" height="15.11" fill="#9dc9e6" stroke="none" stroke-width="0.8"/>
<text class="S" x="378.86" y="409.1" font-size="4.8" text-anchor="middle" fill="#222">0.32</text>
<rect x="387.69" y="400" width="17.97" height="15.11" fill="#a9cfe8" stroke="none" stroke-width="0.8"/>
<text class="S" x="396.52" y="409.1" font-size="4.8" text-anchor="middle" fill="#222">0.33</text>
<rect x="405.36" y="400" width="17.97" height="15.11" fill="#2d76bb" stroke="none" stroke-width="0.8"/>
<text class="S" x="414.19" y="409.1" font-size="4.8" text-anchor="middle" fill="#fff">0.22</text>
<rect x="423.03" y="400" width="17.97" height="15.11" fill="#0303a2" stroke="none" stroke-width="0.8"/>
<text class="S" x="431.87" y="409.1" font-size="4.8" text-anchor="middle" fill="#fff">—</text>
<rect x="264" y="414.81" width="17.97" height="15.11" fill="#fae2d8" stroke="none" stroke-width="0.8"/>
<text class="S" x="272.83" y="423.92" font-size="4.8" text-anchor="middle" fill="#222">0.41</text>
<rect x="281.67" y="414.81" width="17.97" height="15.11" fill="#fae2d8" stroke="none" stroke-width="0.8"/>
<text class="S" x="290.5" y="423.92" font-size="4.8" text-anchor="middle" fill="#222">0.41</text>
<rect x="299.34" y="414.81" width="17.97" height="15.11" fill="#0d4488" stroke="none" stroke-width="0.8"/>
<text class="S" x="308.18" y="423.92" font-size="4.8" text-anchor="middle" fill="#fff">0.16</text>
<rect x="317.01" y="414.81" width="17.97" height="15.11" fill="#082e68" stroke="none" stroke-width="0.8"/>
<text class="S" x="325.84" y="423.92" font-size="4.8" text-anchor="middle" fill="#fff">0.14</text>
<rect x="334.68" y="414.81" width="17.97" height="15.11" fill="#0d4488" stroke="none" stroke-width="0.8"/>
<text class="S" x="343.51" y="423.92" font-size="4.8" text-anchor="middle" fill="#fff">0.16</text>
<rect x="352.35" y="414.81" width="17.97" height="15.11" fill="#0a3a7a" stroke="none" stroke-width="0.8"/>
<text class="S" x="361.19" y="423.92" font-size="4.8" text-anchor="middle" fill="#fff">0.15</text>
<rect x="370.02" y="414.81" width="17.97" height="15.11" fill="#c1daec" stroke="none" stroke-width="0.8"/>
<text class="S" x="378.86" y="423.92" font-size="4.8" text-anchor="middle" fill="#222">0.35</text>
<rect x="387.69" y="414.81" width="17.97" height="15.11" fill="#1e60ab" stroke="none" stroke-width="0.8"/>
<text class="S" x="396.52" y="423.92" font-size="4.8" text-anchor="middle" fill="#fff">0.19</text>
<rect x="405.36" y="414.81" width="17.97" height="15.11" fill="#0303a2" stroke="none" stroke-width="0.8"/>
<text class="S" x="414.19" y="423.92" font-size="4.8" text-anchor="middle" fill="#fff">—</text>
<rect x="423.03" y="414.81" width="17.97" height="15.11" fill="#2d76bb" stroke="none" stroke-width="0.8"/>
<text class="S" x="431.87" y="423.92" font-size="4.8" text-anchor="middle" fill="#fff">0.22</text>
<rect x="264" y="429.62" width="17.97" height="15.11" fill="#4c94ce" stroke="none" stroke-width="0.8"/>
<text class="S" x="272.83" y="438.72" font-size="4.8" text-anchor="middle" fill="#222">0.26</text>
<rect x="281.67" y="429.62" width="17.97" height="15.11" fill="#4c94ce" stroke="none" stroke-width="0.8"/>
<text class="S" x="290.5" y="438.72" font-size="4.8" text-anchor="middle" fill="#222">0.26</text>
<rect x="299.34" y="429.62" width="17.97" height="15.11" fill="#3c87c6" stroke="none" stroke-width="0.8"/>
<text class="S" x="308.18" y="438.72" font-size="4.8" text-anchor="middle" fill="#fff">0.24</text>
<rect x="317.01" y="429.62" width="17.97" height="15.11" fill="#3480c2" stroke="none" stroke-width="0.8"/>
<text class="S" x="325.84" y="438.72" font-size="4.8" text-anchor="middle" fill="#fff">0.23</text>
<rect x="334.68" y="429.62" width="17.97" height="15.11" fill="#c1daec" stroke="none" stroke-width="0.8"/>
<text class="S" x="343.51" y="438.72" font-size="4.8" text-anchor="middle" fill="#222">0.35</text>
<rect x="352.35" y="429.62" width="17.97" height="15.11" fill="#7db7de" stroke="none" stroke-width="0.8"/>
<text class="S" x="361.19" y="438.72" font-size="4.8" text-anchor="middle" fill="#222">0.30</text>
<rect x="370.02" y="429.62" width="17.97" height="15.11" fill="#ebeaf0" stroke="none" stroke-width="0.8"/>
<text class="S" x="378.86" y="438.72" font-size="4.8" text-anchor="middle" fill="#222">0.40</text>
<rect x="387.69" y="429.62" width="17.97" height="15.11" fill="#0303a2" stroke="none" stroke-width="0.8"/>
<text class="S" x="396.52" y="438.72" font-size="4.8" text-anchor="middle" fill="#fff">—</text>
<rect x="405.36" y="429.62" width="17.97" height="15.11" fill="#1e60ab" stroke="none" stroke-width="0.8"/>
<text class="S" x="414.19" y="438.72" font-size="4.8" text-anchor="middle" fill="#fff">0.19</text>
<rect x="423.03" y="429.62" width="17.97" height="15.11" fill="#a9cfe8" stroke="none" stroke-width="0.8"/>
<text class="S" x="431.87" y="438.72" font-size="4.8" text-anchor="middle" fill="#222">0.33</text>
<rect x="264" y="444.43" width="17.97" height="15.11" fill="#f9baa2" stroke="none" stroke-width="0.8"/>
<text class="S" x="272.83" y="453.54" font-size="4.8" text-anchor="middle" fill="#222">0.46</text>
<rect x="281.67" y="444.43" width="17.97" height="15.11" fill="#f4845f" stroke="none" stroke-width="0.8"/>
<text class="S" x="290.5" y="453.54" font-size="4.8" text-anchor="middle" fill="#222">0.49</text>
<rect x="299.34" y="444.43" width="17.97" height="15.11" fill="#4c94ce" stroke="none" stroke-width="0.8"/>
<text class="S" x="308.18" y="453.54" font-size="4.8" text-anchor="middle" fill="#222">0.26</text>
<rect x="317.01" y="444.43" width="17.97" height="15.11" fill="#3c87c6" stroke="none" stroke-width="0.8"/>
<text class="S" x="325.84" y="453.54" font-size="4.8" text-anchor="middle" fill="#fff">0.24</text>
<rect x="334.68" y="444.43" width="17.97" height="15.11" fill="#68aad8" stroke="none" stroke-width="0.8"/>
<text class="S" x="343.51" y="453.54" font-size="4.8" text-anchor="middle" fill="#222">0.29</text>
<rect x="352.35" y="444.43" width="17.97" height="15.11" fill="#559bd1" stroke="none" stroke-width="0.8"/>
<text class="S" x="361.19" y="453.54" font-size="4.8" text-anchor="middle" fill="#222">0.27</text>
<rect x="370.02" y="444.43" width="17.97" height="15.11" fill="#0303a2" stroke="none" stroke-width="0.8"/>
<text class="S" x="378.86" y="453.54" font-size="4.8" text-anchor="middle" fill="#fff">—</text>
<rect x="387.69" y="444.43" width="17.97" height="15.11" fill="#ebeaf0" stroke="none" stroke-width="0.8"/>
<text class="S" x="396.52" y="453.54" font-size="4.8" text-anchor="middle" fill="#222">0.40</text>
<rect x="405.36" y="444.43" width="17.97" height="15.11" fill="#c1daec" stroke="none" stroke-width="0.8"/>
<text class="S" x="414.19" y="453.54" font-size="4.8" text-anchor="middle" fill="#222">0.35</text>
<rect x="423.03" y="444.43" width="17.97" height="15.11" fill="#9dc9e6" stroke="none" stroke-width="0.8"/>
<text class="S" x="431.87" y="453.54" font-size="4.8" text-anchor="middle" fill="#222">0.32</text>
<rect x="264" y="459.24" width="17.97" height="15.11" fill="#10488e" stroke="none" stroke-width="0.8"/>
<text class="S" x="272.83" y="468.34" font-size="4.8" text-anchor="middle" fill="#fff">0.17</text>
<rect x="281.67" y="459.24" width="17.97" height="15.11" fill="#1e60ab" stroke="none" stroke-width="0.8"/>
<text class="S" x="290.5" y="468.34" font-size="4.8" text-anchor="middle" fill="#fff">0.19</text>
<rect x="299.34" y="459.24" width="17.97" height="15.11" fill="#7db7de" stroke="none" stroke-width="0.8"/>
<text class="S" x="308.18" y="468.34" font-size="4.8" text-anchor="middle" fill="#222">0.30</text>
<rect x="317.01" y="459.24" width="17.97" height="15.11" fill="#7db7de" stroke="none" stroke-width="0.8"/>
<text class="S" x="325.84" y="468.34" font-size="4.8" text-anchor="middle" fill="#222">0.30</text>
<rect x="334.68" y="459.24" width="17.97" height="15.11" fill="#e8e8ee" stroke="none" stroke-width="0.8"/>
<text class="S" x="343.51" y="468.34" font-size="4.8" text-anchor="middle" fill="#222">0.39</text>
<rect x="352.35" y="459.24" width="17.97" height="15.11" fill="#0303a2" stroke="none" stroke-width="0.8"/>
<text class="S" x="361.19" y="468.34" font-size="4.8" text-anchor="middle" fill="#fff">—</text>
<rect x="370.02" y="459.24" width="17.97" height="15.11" fill="#559bd1" stroke="none" stroke-width="0.8"/>
<text class="S" x="378.86" y="468.34" font-size="4.8" text-anchor="middle" fill="#222">0.27</text>
<rect x="387.69" y="459.24" width="17.97" height="15.11" fill="#7db7de" stroke="none" stroke-width="0.8"/>
<text class="S" x="396.52" y="468.34" font-size="4.8" text-anchor="middle" fill="#222">0.30</text>
<rect x="405.36" y="459.24" width="17.97" height="15.11" fill="#0a3a7a" stroke="none" stroke-width="0.8"/>
<text class="S" x="414.19" y="468.34" font-size="4.8" text-anchor="middle" fill="#fff">0.15</text>
<rect x="423.03" y="459.24" width="17.97" height="15.11" fill="#cee0ee" stroke="none" stroke-width="0.8"/>
<text class="S" x="431.87" y="468.34" font-size="4.8" text-anchor="middle" fill="#222">0.36</text>
<rect x="264" y="474.05" width="17.97" height="15.11" fill="#1a5aa6" stroke="none" stroke-width="0.8"/>
<text class="S" x="272.83" y="483.16" font-size="4.8" text-anchor="middle" fill="#fff">0.18</text>
<rect x="281.67" y="474.05" width="17.97" height="15.11" fill="#2d76bb" stroke="none" stroke-width="0.8"/>
<text class="S" x="290.5" y="483.16" font-size="4.8" text-anchor="middle" fill="#fff">0.22</text>
<rect x="299.34" y="474.05" width="17.97" height="15.11" fill="#559bd1" stroke="none" stroke-width="0.8"/>
<text class="S" x="308.18" y="483.16" font-size="4.8" text-anchor="middle" fill="#222">0.27</text>
<rect x="317.01" y="474.05" width="17.97" height="15.11" fill="#68aad8" stroke="none" stroke-width="0.8"/>
<text class="S" x="325.84" y="483.16" font-size="4.8" text-anchor="middle" fill="#222">0.29</text>
<rect x="334.68" y="474.05" width="17.97" height="15.11" fill="#0303a2" stroke="none" stroke-width="0.8"/>
<text class="S" x="343.51" y="483.16" font-size="4.8" text-anchor="middle" fill="#fff">—</text>
<rect x="352.35" y="474.05" width="17.97" height="15.11" fill="#e8e8ee" stroke="none" stroke-width="0.8"/>
<text class="S" x="361.19" y="483.16" font-size="4.8" text-anchor="middle" fill="#222">0.39</text>
<rect x="370.02" y="474.05" width="17.97" height="15.11" fill="#68aad8" stroke="none" stroke-width="0.8"/>
<text class="S" x="378.86" y="483.16" font-size="4.8" text-anchor="middle" fill="#222">0.29</text>
<rect x="387.69" y="474.05" width="17.97" height="15.11" fill="#c1daec" stroke="none" stroke-width="0.8"/>
<text class="S" x="396.52" y="483.16" font-size="4.8" text-anchor="middle" fill="#222">0.35</text>
<rect x="405.36" y="474.05" width="17.97" height="15.11" fill="#0d4488" stroke="none" stroke-width="0.8"/>
<text class="S" x="414.19" y="483.16" font-size="4.8" text-anchor="middle" fill="#fff">0.16</text>
<rect x="423.03" y="474.05" width="17.97" height="15.11" fill="#b4d4ea" stroke="none" stroke-width="0.8"/>
<text class="S" x="431.87" y="483.16" font-size="4.8" text-anchor="middle" fill="#222">0.34</text>
<rect x="264" y="488.86" width="17.97" height="15.11" fill="#10488e" stroke="none" stroke-width="0.8"/>
<text class="S" x="272.83" y="497.96" font-size="4.8" text-anchor="middle" fill="#fff">0.17</text>
<rect x="281.67" y="488.86" width="17.97" height="15.11" fill="#1e60ab" stroke="none" stroke-width="0.8"/>
<text class="S" x="290.5" y="497.96" font-size="4.8" text-anchor="middle" fill="#fff">0.19</text>
<rect x="299.34" y="488.86" width="17.97" height="15.11" fill="#7a0a0c" stroke="none" stroke-width="0.8"/>
<text class="S" x="308.18" y="497.96" font-size="4.8" text-anchor="middle" fill="#fff">0.86</text>
<rect x="317.01" y="488.86" width="17.97" height="15.11" fill="#0303a2" stroke="none" stroke-width="0.8"/>
<text class="S" x="325.84" y="497.96" font-size="4.8" text-anchor="middle" fill="#fff">—</text>
<rect x="334.68" y="488.86" width="17.97" height="15.11" fill="#5fa3d5" stroke="none" stroke-width="0.8"/>
<text class="S" x="343.51" y="497.96" font-size="4.8" text-anchor="middle" fill="#222">0.28</text>
<rect x="352.35" y="488.86" width="17.97" height="15.11" fill="#7db7de" stroke="none" stroke-width="0.8"/>
<text class="S" x="361.19" y="497.96" font-size="4.8" text-anchor="middle" fill="#222">0.30</text>
<rect x="370.02" y="488.86" width="17.97" height="15.11" fill="#3c87c6" stroke="none" stroke-width="0.8"/>
<text class="S" x="378.86" y="497.96" font-size="4.8" text-anchor="middle" fill="#fff">0.24</text>
<rect x="387.69" y="488.86" width="17.97" height="15.11" fill="#3480c2" stroke="none" stroke-width="0.8"/>
<text class="S" x="396.52" y="497.96" font-size="4.8" text-anchor="middle" fill="#fff">0.23</text>
<rect x="405.36" y="488.86" width="17.97" height="15.11" fill="#082e68" stroke="none" stroke-width="0.8"/>
<text class="S" x="414.19" y="497.96" font-size="4.8" text-anchor="middle" fill="#fff">0.14</text>
<rect x="423.03" y="488.86" width="17.97" height="15.11" fill="#b4d4ea" stroke="none" stroke-width="0.8"/>
<text class="S" x="431.87" y="497.96" font-size="4.8" text-anchor="middle" fill="#222">0.34</text>
<rect x="264" y="503.67" width="17.97" height="15.11" fill="#1a5aa6" stroke="none" stroke-width="0.8"/>
<text class="S" x="272.83" y="512.78" font-size="4.8" text-anchor="middle" fill="#fff">0.18</text>
<rect x="281.67" y="503.67" width="17.97" height="15.11" fill="#266cb4" stroke="none" stroke-width="0.8"/>
<text class="S" x="290.5" y="512.78" font-size="4.8" text-anchor="middle" fill="#fff">0.21</text>
<rect x="299.34" y="503.67" width="17.97" height="15.11" fill="#0303a2" stroke="none" stroke-width="0.8"/>
<text class="S" x="308.18" y="512.78" font-size="4.8" text-anchor="middle" fill="#fff">—</text>
<rect x="317.01" y="503.67" width="17.97" height="15.11" fill="#7a0a0c" stroke="none" stroke-width="0.8"/>
<text class="S" x="325.84" y="512.78" font-size="4.8" text-anchor="middle" fill="#fff">0.86</text>
<rect x="334.68" y="503.67" width="17.97" height="15.11" fill="#559bd1" stroke="none" stroke-width="0.8"/>
<text class="S" x="343.51" y="512.78" font-size="4.8" text-anchor="middle" fill="#222">0.27</text>
<rect x="352.35" y="503.67" width="17.97" height="15.11" fill="#7db7de" stroke="none" stroke-width="0.8"/>
<text class="S" x="361.19" y="512.78" font-size="4.8" text-anchor="middle" fill="#222">0.30</text>
<rect x="370.02" y="503.67" width="17.97" height="15.11" fill="#4c94ce" stroke="none" stroke-width="0.8"/>
<text class="S" x="378.86" y="512.78" font-size="4.8" text-anchor="middle" fill="#222">0.26</text>
<rect x="387.69" y="503.67" width="17.97" height="15.11" fill="#3c87c6" stroke="none" stroke-width="0.8"/>
<text class="S" x="396.52" y="512.78" font-size="4.8" text-anchor="middle" fill="#fff">0.24</text>
<rect x="405.36" y="503.67" width="17.97" height="15.11" fill="#0d4488" stroke="none" stroke-width="0.8"/>
<text class="S" x="414.19" y="512.78" font-size="4.8" text-anchor="middle" fill="#fff">0.16</text>
<rect x="423.03" y="503.67" width="17.97" height="15.11" fill="#a9cfe8" stroke="none" stroke-width="0.8"/>
<text class="S" x="431.87" y="512.78" font-size="4.8" text-anchor="middle" fill="#222">0.33</text>
<rect x="264" y="518.48" width="17.97" height="15.11" fill="#de2c2a" stroke="none" stroke-width="0.8"/>
<text class="S" x="272.83" y="527.59" font-size="4.8" text-anchor="middle" fill="#fff">0.56</text>
<rect x="281.67" y="518.48" width="17.97" height="15.11" fill="#0303a2" stroke="none" stroke-width="0.8"/>
<text class="S" x="290.5" y="527.59" font-size="4.8" text-anchor="middle" fill="#fff">—</text>
<rect x="299.34" y="518.48" width="17.97" height="15.11" fill="#266cb4" stroke="none" stroke-width="0.8"/>
<text class="S" x="308.18" y="527.59" font-size="4.8" text-anchor="middle" fill="#fff">0.21</text>
<rect x="317.01" y="518.48" width="17.97" height="15.11" fill="#1e60ab" stroke="none" stroke-width="0.8"/>
<text class="S" x="325.84" y="527.59" font-size="4.8" text-anchor="middle" fill="#fff">0.19</text>
<rect x="334.68" y="518.48" width="17.97" height="15.11" fill="#2d76bb" stroke="none" stroke-width="0.8"/>
<text class="S" x="343.51" y="527.59" font-size="4.8" text-anchor="middle" fill="#fff">0.22</text>
<rect x="352.35" y="518.48" width="17.97" height="15.11" fill="#1e60ab" stroke="none" stroke-width="0.8"/>
<text class="S" x="361.19" y="527.59" font-size="4.8" text-anchor="middle" fill="#fff">0.19</text>
<rect x="370.02" y="518.48" width="17.97" height="15.11" fill="#f69675" stroke="none" stroke-width="0.8"/>
<text class="S" x="378.86" y="527.59" font-size="4.8" text-anchor="middle" fill="#222">0.48</text>
<rect x="387.69" y="518.48" width="17.97" height="15.11" fill="#4c94ce" stroke="none" stroke-width="0.8"/>
<text class="S" x="396.52" y="527.59" font-size="4.8" text-anchor="middle" fill="#222">0.26</text>
<rect x="405.36" y="518.48" width="17.97" height="15.11" fill="#fae2d8" stroke="none" stroke-width="0.8"/>
<text class="S" x="414.19" y="527.59" font-size="4.8" text-anchor="middle" fill="#222">0.41</text>
<rect x="423.03" y="518.48" width="17.97" height="15.11" fill="#4c94ce" stroke="none" stroke-width="0.8"/>
<text class="S" x="431.87" y="527.59" font-size="4.8" text-anchor="middle" fill="#222">0.26</text>
<rect x="264" y="533.29" width="17.97" height="15.11" fill="#0303a2" stroke="none" stroke-width="0.8"/>
<text class="S" x="272.83" y="542.4" font-size="4.8" text-anchor="middle" fill="#fff">—</text>
<rect x="281.67" y="533.29" width="17.97" height="15.11" fill="#de2c2a" stroke="none" stroke-width="0.8"/>
<text class="S" x="290.5" y="542.4" font-size="4.8" text-anchor="middle" fill="#fff">0.56</text>
<rect x="299.34" y="533.29" width="17.97" height="15.11" fill="#1a5aa6" stroke="none" stroke-width="0.8"/>
<text class="S" x="308.18" y="542.4" font-size="4.8" text-anchor="middle" fill="#fff">0.18</text>
<rect x="317.01" y="533.29" width="17.97" height="15.11" fill="#10488e" stroke="none" stroke-width="0.8"/>
<text class="S" x="325.84" y="542.4" font-size="4.8" text-anchor="middle" fill="#fff">0.17</text>
<rect x="334.68" y="533.29" width="17.97" height="15.11" fill="#1a5aa6" stroke="none" stroke-width="0.8"/>
<text class="S" x="343.51" y="542.4" font-size="4.8" text-anchor="middle" fill="#fff">0.18</text>
<rect x="352.35" y="533.29" width="17.97" height="15.11" fill="#10488e" stroke="none" stroke-width="0.8"/>
<text class="S" x="361.19" y="542.4" font-size="4.8" text-anchor="middle" fill="#fff">0.17</text>
<rect x="370.02" y="533.29" width="17.97" height="15.11" fill="#f9baa2" stroke="none" stroke-width="0.8"/>
<text class="S" x="378.86" y="542.4" font-size="4.8" text-anchor="middle" fill="#222">0.46</text>
<rect x="387.69" y="533.29" width="17.97" height="15.11" fill="#4c94ce" stroke="none" stroke-width="0.8"/>
<text class="S" x="396.52" y="542.4" font-size="4.8" text-anchor="middle" fill="#222">0.26</text>
<rect x="405.36" y="533.29" width="17.97" height="15.11" fill="#fae2d8" stroke="none" stroke-width="0.8"/>
<text class="S" x="414.19" y="542.4" font-size="4.8" text-anchor="middle" fill="#222">0.41</text>
<rect x="423.03" y="533.29" width="17.97" height="15.11" fill="#448dca" stroke="none" stroke-width="0.8"/>
<text class="S" x="431.87" y="542.4" font-size="4.8" text-anchor="middle" fill="#fff">0.25</text>
<line x1="261" y1="407.4" x2="264" y2="407.4" stroke="#555555" stroke-width="0.8"/>
<text class="S" x="257.9" y="409.9" font-size="6.9" text-anchor="end" fill="#000">PLSR</text>
<line x1="261" y1="422.22" x2="264" y2="422.22" stroke="#555555" stroke-width="0.8"/>
<text class="S" x="257.9" y="424.72" font-size="6.9" text-anchor="end" fill="#000">sinfd</text>
<line x1="261" y1="437.02" x2="264" y2="437.02" stroke="#555555" stroke-width="0.8"/>
<text class="S" x="257.9" y="439.52" font-size="6.9" text-anchor="end" fill="#000">cosd</text>
<line x1="261" y1="451.84" x2="264" y2="451.84" stroke="#555555" stroke-width="0.8"/>
<text class="S" x="257.9" y="454.34" font-size="6.9" text-anchor="end" fill="#000">ed</text>
<line x1="261" y1="466.64" x2="264" y2="466.64" stroke="#555555" stroke-width="0.8"/>
<text class="S" x="257.9" y="469.14" font-size="6.9" text-anchor="end" fill="#000">mcd</text>
<line x1="261" y1="481.46" x2="264" y2="481.46" stroke="#555555" stroke-width="0.8"/>
<text class="S" x="257.9" y="483.96" font-size="6.9" text-anchor="end" fill="#000">cd</text>
<line x1="261" y1="496.26" x2="264" y2="496.26" stroke="#555555" stroke-width="0.8"/>
<text class="S" x="257.9" y="498.76" font-size="6.9" text-anchor="end" fill="#000">o_plsd</text>
<line x1="261" y1="511.08" x2="264" y2="511.08" stroke="#555555" stroke-width="0.8"/>
<text class="S" x="257.9" y="513.58" font-size="6.9" text-anchor="end" fill="#000">o_pcad</text>
<line x1="261" y1="525.88" x2="264" y2="525.88" stroke="#555555" stroke-width="0.8"/>
<text class="S" x="257.9" y="528.38" font-size="6.9" text-anchor="end" fill="#000">plsd</text>
<line x1="261" y1="540.7" x2="264" y2="540.7" stroke="#555555" stroke-width="0.8"/>
<text class="S" x="257.9" y="543.2" font-size="6.9" text-anchor="end" fill="#000">pcad</text>
<line x1="272.83" y1="548.1" x2="272.83" y2="551.1" stroke="#555555" stroke-width="0.8"/>
<text class="S" x="274.94" y="553.1" font-size="6.0" text-anchor="end" fill="#000" transform="rotate(-90 274.94 553.1)">pcad</text>
<line x1="290.5" y1="548.1" x2="290.5" y2="551.1" stroke="#555555" stroke-width="0.8"/>
<text class="S" x="292.61" y="553.1" font-size="6.0" text-anchor="end" fill="#000" transform="rotate(-90 292.61 553.1)">plsd</text>
<line x1="308.18" y1="548.1" x2="308.18" y2="551.1" stroke="#555555" stroke-width="0.8"/>
<text class="S" x="310.28" y="553.1" font-size="6.0" text-anchor="end" fill="#000" transform="rotate(-90 310.28 553.1)">o_pcad</text>
<line x1="325.84" y1="548.1" x2="325.84" y2="551.1" stroke="#555555" stroke-width="0.8"/>
<text class="S" x="327.94" y="553.1" font-size="6.0" text-anchor="end" fill="#000" transform="rotate(-90 327.94 553.1)">o_plsd</text>
<line x1="343.51" y1="548.1" x2="343.51" y2="551.1" stroke="#555555" stroke-width="0.8"/>
<text class="S" x="345.62" y="553.1" font-size="6.0" text-anchor="end" fill="#000" transform="rotate(-90 345.62 553.1)">cd</text>
<line x1="361.19" y1="548.1" x2="361.19" y2="551.1" stroke="#555555" stroke-width="0.8"/>
<text class="S" x="363.29" y="553.1" font-size="6.0" text-anchor="end" fill="#000" transform="rotate(-90 363.29 553.1)">mcd</text>
<line x1="378.86" y1="548.1" x2="378.86" y2="551.1" stroke="#555555" stroke-width="0.8"/>
<text class="S" x="380.96" y="553.1" font-size="6.0" text-anchor="end" fill="#000" transform="rotate(-90 380.96 553.1)">ed</text>
<line x1="396.52" y1="548.1" x2="396.52" y2="551.1" stroke="#555555" stroke-width="0.8"/>
<text class="S" x="398.62" y="553.1" font-size="6.0" text-anchor="end" fill="#000" transform="rotate(-90 398.62 553.1)">cosd</text>
<line x1="414.19" y1="548.1" x2="414.19" y2="551.1" stroke="#555555" stroke-width="0.8"/>
<text class="S" x="416.3" y="553.1" font-size="6.0" text-anchor="end" fill="#000" transform="rotate(-90 416.3 553.1)">sinfd</text>
<line x1="431.87" y1="548.1" x2="431.87" y2="551.1" stroke="#555555" stroke-width="0.8"/>
<text class="S" x="433.97" y="553.1" font-size="6.0" text-anchor="end" fill="#000" transform="rotate(-90 433.97 553.1)">PLSR</text>
<rect x="264" y="400" width="176.7" height="148.1" fill="none" stroke="#0a2a5a" stroke-width="0.7"/>
<rect x="262.4" y="590.7" width="7.38" height="10.9" fill="#770522" stroke="none" stroke-width="0.8"/>
<rect x="269.47" y="590.7" width="7.38" height="10.9" fill="#960f26" stroke="none" stroke-width="0.8"/>
<rect x="276.55" y="590.7" width="7.38" height="10.9" fill="#b41b2c" stroke="none" stroke-width="0.8"/>
<rect x="283.62" y="590.7" width="7.38" height="10.9" fill="#c2393b" stroke="none" stroke-width="0.8"/>
<rect x="290.7" y="590.7" width="7.38" height="10.9" fill="#d25749" stroke="none" stroke-width="0.8"/>
<rect x="297.77" y="590.7" width="7.38" height="10.9" fill="#df745c" stroke="none" stroke-width="0.8"/>
<rect x="304.85" y="590.7" width="7.38" height="10.9" fill="#eb9173" stroke="none" stroke-width="0.8"/>
<rect x="311.92" y="590.7" width="7.38" height="10.9" fill="#f5ac8b" stroke="none" stroke-width="0.8"/>
<rect x="319" y="590.7" width="7.38" height="10.9" fill="#f9c2a7" stroke="none" stroke-width="0.8"/>
<rect x="326.07" y="590.7" width="7.38" height="10.9" fill="#fdd9c4" stroke="none" stroke-width="0.8"/>
<rect x="333.15" y="590.7" width="7.38" height="10.9" fill="#fbe6d9" stroke="none" stroke-width="0.8"/>
<rect x="340.22" y="590.7" width="7.38" height="10.9" fill="#f8f1ed" stroke="none" stroke-width="0.8"/>
<rect x="347.3" y="590.7" width="7.38" height="10.9" fill="#eff3f6" stroke="none" stroke-width="0.8"/>
<rect x="354.38" y="590.7" width="7.38" height="10.9" fill="#dfecf3" stroke="none" stroke-width="0.8"/>
<rect x="361.45" y="590.7" width="7.38" height="10.9" fill="#cee4ef" stroke="none" stroke-width="0.8"/>
<rect x="368.52" y="590.7" width="7.38" height="10.9" fill="#b4d6e8" stroke="none" stroke-width="0.8"/>
<rect x="375.6" y="590.7" width="7.38" height="10.9" fill="#9ac9e0" stroke="none" stroke-width="0.8"/>
<rect x="382.68" y="590.7" width="7.38" height="10.9" fill="#7bb6d6" stroke="none" stroke-width="0.8"/>
<rect x="389.75" y="590.7" width="7.38" height="10.9" fill="#5aa2cb" stroke="none" stroke-width="0.8"/>
<rect x="396.82" y="590.7" width="7.38" height="10.9" fill="#3f8dc0" stroke="none" stroke-width="0.8"/>
<rect x="403.9" y="590.7" width="7.38" height="10.9" fill="#317bb7" stroke="none" stroke-width="0.8"/>
<rect x="410.98" y="590.7" width="7.38" height="10.9" fill="#2268ad" stroke="none" stroke-width="0.8"/>
<rect x="418.05" y="590.7" width="7.38" height="10.9" fill="#165290" stroke="none" stroke-width="0.8"/>
<rect x="425.12" y="590.7" width="7.38" height="10.9" fill="#0b3b71" stroke="none" stroke-width="0.8"/>
<line x1="262.4" y1="587.7" x2="262.4" y2="590.7" stroke="#333" stroke-width="0.6"/>
<text class="S" x="264" y="586.5" font-size="4.1" text-anchor="start" fill="#222" transform="rotate(-90 264 586.5)">0.8620</text>
<line x1="296.36" y1="587.7" x2="296.36" y2="590.7" stroke="#333" stroke-width="0.6"/>
<text class="S" x="297.96" y="586.5" font-size="4.1" text-anchor="start" fill="#222" transform="rotate(-90 297.96 586.5)">0.7180</text>
<line x1="330.32" y1="587.7" x2="330.32" y2="590.7" stroke="#333" stroke-width="0.6"/>
<text class="S" x="331.92" y="586.5" font-size="4.1" text-anchor="start" fill="#222" transform="rotate(-90 331.92 586.5)">0.5740</text>
<line x1="364.28" y1="587.7" x2="364.28" y2="590.7" stroke="#333" stroke-width="0.6"/>
<text class="S" x="365.88" y="586.5" font-size="4.1" text-anchor="start" fill="#222" transform="rotate(-90 365.88 586.5)">0.4300</text>
<line x1="398.24" y1="587.7" x2="398.24" y2="590.7" stroke="#333" stroke-width="0.6"/>
<text class="S" x="399.84" y="586.5" font-size="4.1" text-anchor="start" fill="#222" transform="rotate(-90 399.84 586.5)">0.2860</text>
<line x1="432.2" y1="587.7" x2="432.2" y2="590.7" stroke="#333" stroke-width="0.6"/>
<text class="S" x="433.8" y="586.5" font-size="4.1" text-anchor="start" fill="#222" transform="rotate(-90 433.8 586.5)">0.1420</text>
<text class="S" x="256.6" y="596.2" font-size="6.0" text-anchor="middle" fill="#000" transform="rotate(-90 256.6 596.2)">f</text>
<path d="M20.6 785.1h2.67V785.03h-2.67zM23.27 785.1h2.67V785.02h-2.67zM25.93 785.1h2.67V785.01h-2.67zM28.6 785.1h2.67V785.01h-2.67zM31.27 785.1h2.67V784.99h-2.67zM33.93 785.1h2.67V784.97h-2.67zM36.6 785.1h2.67V784.96h-2.67zM39.27 785.1h2.67V784.95h-2.67zM41.93 785.1h2.67V784.93h-2.67zM44.6 785.1h2.67V784.91h-2.67zM47.27 785.1h2.67V784.89h-2.67zM49.93 785.1h2.67V784.85h-2.67zM52.6 785.1h2.67V784.83h-2.67zM55.27 785.1h2.67V784.77h-2.67zM57.93 785.1h2.67V784.72h-2.67zM60.6 785.1h2.67V784.65h-2.67zM63.27 785.1h2.67V784.58h-2.67zM65.93 785.1h2.67V784.48h-2.67zM68.6 785.1h2.67V784.31h-2.67zM71.27 785.1h2.67V784.2h-2.67zM73.93 785.1h2.67V784.07h-2.67zM76.6 785.1h2.67V783.96h-2.67zM79.27 785.1h2.67V783.8h-2.67zM81.93 785.1h2.67V783.59h-2.67zM84.6 785.1h2.67V783.32h-2.67zM87.27 785.1h2.67V783.05h-2.67zM89.93 785.1h2.67V782.7h-2.67zM92.6 785.1h2.67V782.51h-2.67zM95.27 785.1h2.67V781.62h-2.67zM97.93 785.1h2.67V780.86h-2.67zM100.6 785.1h2.67V779.66h-2.67zM103.27 785.1h2.67V777.01h-2.67zM105.93 785.1h2.67V773.63h-2.67zM108.6 785.1h2.67V764.78h-2.67zM111.27 785.1h2.67V752.53h-2.67zM113.93 785.1h2.67V745.22h-2.67zM116.6 785.1h2.67V741.17h-2.67zM119.27 785.1h2.67V736.7h-2.67zM121.93 785.1h2.67V739.74h-2.67zM124.6 785.1h2.67V743.98h-2.67zM127.27 785.1h2.67V751.85h-2.67zM129.93 785.1h2.67V764.76h-2.67zM132.6 785.1h2.67V773.62h-2.67zM135.27 785.1h2.67V777.53h-2.67zM137.93 785.1h2.67V779.52h-2.67zM140.6 785.1h2.67V781.07h-2.67zM143.27 785.1h2.67V781.66h-2.67zM145.93 785.1h2.67V782.26h-2.67zM148.6 785.1h2.67V782.86h-2.67zM151.27 785.1h2.67V783.14h-2.67zM153.93 785.1h2.67V783.38h-2.67zM156.6 785.1h2.67V783.58h-2.67zM159.27 785.1h2.67V783.78h-2.67zM161.93 785.1h2.67V783.9h-2.67zM164.6 785.1h2.67V784.08h-2.67zM167.27 785.1h2.67V784.17h-2.67zM169.93 785.1h2.67V784.33h-2.67zM172.6 785.1h2.67V784.48h-2.67zM175.27 785.1h2.67V784.6h-2.67zM177.93 785.1h2.67V784.66h-2.67zM180.6 785.1h2.67V784.72h-2.67zM183.27 785.1h2.67V784.78h-2.67zM185.93 785.1h2.67V784.82h-2.67zM188.6 785.1h2.67V784.87h-2.67zM191.27 785.1h2.67V784.89h-2.67zM193.93 785.1h2.67V784.92h-2.67zM196.6 785.1h2.67V784.93h-2.67zM199.27 785.1h2.67V784.95h-2.67zM201.93 785.1h2.67V784.97h-2.67zM204.6 785.1h2.67V784.98h-2.67zM207.27 785.1h2.67V784.99h-2.67zM209.93 785.1h2.67V785h-2.67zM212.6 785.1h2.67V785.01h-2.67zM215.27 785.1h2.67V785.01h-2.67zM217.93 785.1h2.67V785.03h-2.67z" fill="#635e3a"/>
<path d="M68.6 784.31h2.67V784.31h-2.67zM71.27 784.2h2.67V784.2h-2.67zM73.93 784.07h2.67V783.89h-2.67zM76.6 783.96h2.67V783.64h-2.67zM79.27 783.8h2.67V783.29h-2.67zM81.93 783.59h2.67V782.84h-2.67zM84.6 783.32h2.67V782.15h-2.67zM87.27 783.05h2.67V781.29h-2.67zM89.93 782.7h2.67V780.12h-2.67zM92.6 782.51h2.67V778.79h-2.67zM95.27 781.62h2.67V776.79h-2.67zM97.93 780.86h2.67V774.29h-2.67zM100.6 779.66h2.67V771.37h-2.67zM103.27 777.01h2.67V767.21h-2.67zM105.93 773.63h2.67V763.44h-2.67zM108.6 764.78h2.67V756.27h-2.67zM111.27 752.53h2.67V752.36h-2.67zM127.27 751.85h2.67V749.65h-2.67zM129.93 764.76h2.67V757.24h-2.67zM132.6 773.62h2.67V763.39h-2.67zM135.27 777.53h2.67V767.61h-2.67zM137.93 779.52h2.67V772.07h-2.67zM140.6 781.07h2.67V774.6h-2.67zM143.27 781.66h2.67V777.44h-2.67zM145.93 782.26h2.67V779.01h-2.67zM148.6 782.86h2.67V780.1h-2.67zM151.27 783.14h2.67V781.38h-2.67zM153.93 783.38h2.67V782.14h-2.67zM156.6 783.58h2.67V782.79h-2.67zM159.27 783.78h2.67V783.21h-2.67zM161.93 783.9h2.67V783.67h-2.67zM164.6 784.08h2.67V783.97h-2.67zM167.27 784.17h2.67V784.12h-2.67z" fill="#6e7662"/>
<path d="M20.6 785.03h2.67V784.99h-2.67zM23.27 785.02h2.67V784.98h-2.67zM25.93 785.01h2.67V784.97h-2.67zM28.6 785.01h2.67V784.95h-2.67zM31.27 784.99h2.67V784.94h-2.67zM33.93 784.97h2.67V784.91h-2.67zM36.6 784.96h2.67V784.89h-2.67zM39.27 784.95h2.67V784.88h-2.67zM41.93 784.93h2.67V784.83h-2.67zM44.6 784.91h2.67V784.8h-2.67zM47.27 784.89h2.67V784.79h-2.67zM49.93 784.85h2.67V784.73h-2.67zM52.6 784.83h2.67V784.71h-2.67zM55.27 784.77h2.67V784.64h-2.67zM57.93 784.72h2.67V784.55h-2.67zM60.6 784.65h2.67V784.48h-2.67zM63.27 784.58h2.67V784.42h-2.67zM65.93 784.48h2.67V784.33h-2.67zM113.93 745.22h2.67V736.02h-2.67zM116.6 741.17h2.67V706.26h-2.67zM119.27 736.7h2.67V699.65h-2.67zM121.93 739.74h2.67V712.9h-2.67zM124.6 743.98h2.67V734.92h-2.67zM169.93 784.33h2.67V784.32h-2.67zM172.6 784.48h2.67V784.36h-2.67zM175.27 784.6h2.67V784.43h-2.67zM177.93 784.66h2.67V784.55h-2.67zM180.6 784.72h2.67V784.58h-2.67zM183.27 784.78h2.67V784.64h-2.67zM185.93 784.82h2.67V784.67h-2.67zM188.6 784.87h2.67V784.75h-2.67zM191.27 784.89h2.67V784.75h-2.67zM193.93 784.92h2.67V784.81h-2.67zM196.6 784.93h2.67V784.84h-2.67zM199.27 784.95h2.67V784.87h-2.67zM201.93 784.97h2.67V784.89h-2.67zM204.6 784.98h2.67V784.92h-2.67zM207.27 784.99h2.67V784.94h-2.67zM209.93 785h2.67V784.95h-2.67zM212.6 785.01h2.67V784.97h-2.67zM215.27 785.01h2.67V784.99h-2.67zM217.93 785.03h2.67V785h-2.67z" fill="#c0a27e"/>
<path d="M20.6 785.1V784.99M25.93 785.1V784.97M31.27 785.1V784.94M36.6 785.1V784.89M41.93 785.1V784.83M47.27 785.1V784.79M52.6 785.1V784.71M57.93 785.1V784.55M63.27 785.1V784.42M68.6 785.1V784.31M73.93 785.1V784.07M79.27 785.1V783.8M84.6 785.1V783.32M89.93 785.1V782.7M95.27 785.1V781.62M100.6 785.1V779.66M105.93 785.1V773.63M111.27 785.1V752.53M116.6 785.1V706.26M121.93 785.1V712.9M127.27 785.1V751.85M132.6 785.1V773.62M137.93 785.1V779.52M143.27 785.1V781.66M148.6 785.1V782.86M153.93 785.1V783.38M159.27 785.1V783.78M164.6 785.1V784.08M169.93 785.1V784.32M175.27 785.1V784.43M180.6 785.1V784.58M185.93 785.1V784.67M191.27 785.1V784.75M196.6 785.1V784.84M201.93 785.1V784.89M207.27 785.1V784.94M212.6 785.1V784.97M217.93 785.1V785" fill="none" stroke="#3a2810" stroke-width="0.5" stroke-opacity="0.8"/>
<path d="M23.27 785.1V785.02M28.6 785.1V785.01M33.93 785.1V784.97M39.27 785.1V784.95M44.6 785.1V784.91M49.93 785.1V784.85M55.27 785.1V784.77M60.6 785.1V784.65M65.93 785.1V784.48M71.27 785.1V784.2M76.6 785.1V783.64M81.93 785.1V782.84M87.27 785.1V781.29M92.6 785.1V778.79M97.93 785.1V774.29M103.27 785.1V767.21M108.6 785.1V756.27M113.93 785.1V745.22M119.27 785.1V736.7M124.6 785.1V743.98M129.93 785.1V757.24M135.27 785.1V767.61M140.6 785.1V774.6M145.93 785.1V779.01M151.27 785.1V781.38M156.6 785.1V782.79M161.93 785.1V783.67M167.27 785.1V784.12M172.6 785.1V784.48M177.93 785.1V784.66M183.27 785.1V784.78M188.6 785.1V784.87M193.93 785.1V784.92M199.27 785.1V784.95M204.6 785.1V784.98M209.93 785.1V785M215.27 785.1V785.01" fill="none" stroke="#1e3a1e" stroke-width="0.5" stroke-opacity="0.8"/>
<rect x="119.7" y="629.58" width="1.8" height="155.52" fill="#7a5e48" stroke="none" stroke-width="0.8"/>
<rect x="118.7" y="673.32" width="3.8" height="43.74" fill="#6e5440" stroke="none" stroke-width="0.8"/>
<path d="M20.6 785L21.27 785L21.93 784.99L22.6 784.99L23.27 784.99L23.93 784.99L24.6 784.98L25.27 784.98L25.93 784.97L26.6 784.97L27.27 784.97L27.93 784.96L28.6 784.96L29.27 784.96L29.93 784.95L30.6 784.95L31.27 784.94L31.93 784.94L32.6 784.93L33.27 784.93L33.93 784.92L34.6 784.92L35.27 784.91L35.93 784.91L36.6 784.9L37.27 784.9L37.93 784.89L38.6 784.88L39.27 784.88L39.93 784.87L40.6 784.87L41.27 784.86L41.93 784.85L42.6 784.84L43.27 784.84L43.93 784.83L44.6 784.82L45.27 784.81L45.93 784.81L46.6 784.8L47.27 784.79L47.93 784.78L48.6 784.77L49.27 784.76L49.93 784.75L50.6 784.74L51.27 784.73L51.93 784.72L52.6 784.71L53.27 784.7L53.93 784.68L54.6 784.67L55.27 784.66L55.93 784.65L56.6 784.63L57.27 784.62L57.93 784.61L58.6 784.59L59.27 784.58L59.93 784.56L60.6 784.55L61.27 784.53L61.93 784.51L62.6 784.5L63.27 784.48L63.93 784.46L64.6 784.44L65.27 784.42L65.93 784.4L66.6 784.38L67.27 784.36L67.93 784.34L68.6 784.32L69.27 784.3L69.93 784.27L70.6 784.25L71.27 784.22L71.93 784.2L72.6 784.17L73.27 784.15L73.93 784.12L74.6 784.09L75.27 784.06L75.93 784.03L76.6 784L77.27 783.96L77.93 783.93L78.6 783.89L79.27 783.86L79.93 783.82L80.6 783.78L81.27 783.74L81.93 783.7L82.6 783.65L83.27 783.61L83.93 783.56L84.6 783.51L85.27 783.46L85.93 783.4L86.6 783.34L87.27 783.28L87.93 783.22L88.6 783.15L89.27 783.08L89.93 783L90.6 782.92L91.27 782.83L91.93 782.74L92.6 782.64L93.27 782.53L93.93 782.41L94.6 782.28L95.27 782.13L95.93 781.98L96.6 781.8L97.27 781.61L97.93 781.4L98.6 781.16L99.27 780.9L99.93 780.6L100.6 780.27L101.27 779.89L101.93 779.46L102.6 778.98L103.27 778.42L103.93 777.8L104.6 777.08L105.27 776.26L105.93 775.32L106.6 774.24L107.27 773L107.93 771.58L108.6 769.94L109.27 768.07L109.93 765.91L110.6 763.43L111.27 760.59L111.93 757.35L112.6 753.66L113.27 749.49L113.93 744.79L114.6 739.58L115.27 733.88L115.93 727.75L116.6 721.35L117.27 714.91L117.93 708.72L118.6 703.21L119.27 698.78L119.93 695.85L120.6 694.7L121.27 695.85L121.93 698.78L122.6 703.21L123.27 708.72L123.93 714.91L124.6 721.35L125.27 727.75L125.93 733.88L126.6 739.58L127.27 744.79L127.93 749.49L128.6 753.66L129.27 757.35L129.93 760.59L130.6 763.43L131.27 765.91L131.93 768.07L132.6 769.94L133.27 771.58L133.93 773L134.6 774.24L135.27 775.32L135.93 776.26L136.6 777.08L137.27 777.8L137.93 778.42L138.6 778.98L139.27 779.46L139.93 779.89L140.6 780.27L141.27 780.6L141.93 780.9L142.6 781.16L143.27 781.4L143.93 781.61L144.6 781.8L145.27 781.98L145.93 782.13L146.6 782.28L147.27 782.41L147.93 782.53L148.6 782.64L149.27 782.74L149.93 782.83L150.6 782.92L151.27 783L151.93 783.08L152.6 783.15L153.27 783.22L153.93 783.28L154.6 783.34L155.27 783.4L155.93 783.46L156.6 783.51L157.27 783.56L157.93 783.61L158.6 783.65L159.27 783.7L159.93 783.74L160.6 783.78L161.27 783.82L161.93 783.86L162.6 783.89L163.27 783.93L163.93 783.96L164.6 784L165.27 784.03L165.93 784.06L166.6 784.09L167.27 784.12L167.93 784.15L168.6 784.17L169.27 784.2L169.93 784.22L170.6 784.25L171.27 784.27L171.93 784.3L172.6 784.32L173.27 784.34L173.93 784.36L174.6 784.38L175.27 784.4L175.93 784.42L176.6 784.44L177.27 784.46L177.93 784.48L178.6 784.5L179.27 784.51L179.93 784.53L180.6 784.55L181.27 784.56L181.93 784.58L182.6 784.59L183.27 784.61L183.93 784.62L184.6 784.63L185.27 784.65L185.93 784.66L186.6 784.67L187.27 784.68L187.93 784.7L188.6 784.71L189.27 784.72L189.93 784.73L190.6 784.74L191.27 784.75L191.93 784.76L192.6 784.77L193.27 784.78L193.93 784.79L194.6 784.8L195.27 784.81L195.93 784.81L196.6 784.82L197.27 784.83L197.93 784.84L198.6 784.84L199.27 784.85L199.93 784.86L200.6 784.87L201.27 784.87L201.93 784.88L202.6 784.88L203.27 784.89L203.93 784.9L204.6 784.9L205.27 784.91L205.93 784.91L206.6 784.92L207.27 784.92L207.93 784.93L208.6 784.93L209.27 784.94L209.93 784.94L210.6 784.95L211.27 784.95L211.93 784.96L212.6 784.96L213.27 784.96L213.93 784.97L214.6 784.97L215.27 784.97L215.93 784.98L216.6 784.98L217.27 784.99L217.93 784.99L218.6 784.99L219.27 784.99L219.93 785L220.6 785" fill="none" stroke="#dd7420" stroke-width="1.15"/>
<path d="M20.6 785.03L21.27 785.03L21.93 785.02L22.6 785.02L23.27 785.02L23.93 785.02L24.6 785.02L25.27 785.02L25.93 785.01L26.6 785.01L27.27 785.01L27.93 785.01L28.6 785.01L29.27 785L29.93 785L30.6 785L31.27 785L31.93 784.99L32.6 784.99L33.27 784.99L33.93 784.99L34.6 784.98L35.27 784.98L35.93 784.98L36.6 784.97L37.27 784.97L37.93 784.97L38.6 784.96L39.27 784.96L39.93 784.96L40.6 784.95L41.27 784.95L41.93 784.94L42.6 784.94L43.27 784.93L43.93 784.93L44.6 784.92L45.27 784.92L45.93 784.91L46.6 784.91L47.27 784.9L47.93 784.9L48.6 784.89L49.27 784.88L49.93 784.88L50.6 784.87L51.27 784.86L51.93 784.85L52.6 784.84L53.27 784.83L53.93 784.82L54.6 784.81L55.27 784.8L55.93 784.79L56.6 784.78L57.27 784.77L57.93 784.76L58.6 784.74L59.27 784.73L59.93 784.71L60.6 784.7L61.27 784.68L61.93 784.66L62.6 784.64L63.27 784.62L63.93 784.6L64.6 784.58L65.27 784.55L65.93 784.53L66.6 784.5L67.27 784.47L67.93 784.44L68.6 784.41L69.27 784.37L69.93 784.34L70.6 784.3L71.27 784.26L71.93 784.21L72.6 784.16L73.27 784.11L73.93 784.06L74.6 784L75.27 783.94L75.93 783.88L76.6 783.81L77.27 783.74L77.93 783.66L78.6 783.57L79.27 783.48L79.93 783.39L80.6 783.29L81.27 783.18L81.93 783.06L82.6 782.94L83.27 782.81L83.93 782.66L84.6 782.51L85.27 782.35L85.93 782.18L86.6 782L87.27 781.8L87.93 781.59L88.6 781.36L89.27 781.12L89.93 780.86L90.6 780.59L91.27 780.29L91.93 779.98L92.6 779.64L93.27 779.28L93.93 778.9L94.6 778.49L95.27 778.05L95.93 777.58L96.6 777.08L97.27 776.54L97.93 775.97L98.6 775.36L99.27 774.71L99.93 774.02L100.6 773.28L101.27 772.5L101.93 771.66L102.6 770.77L103.27 769.83L103.93 768.84L104.6 767.78L105.27 766.67L105.93 765.49L106.6 764.26L107.27 762.97L107.93 761.62L108.6 760.21L109.27 758.75L109.93 757.25L110.6 755.71L111.27 754.14L111.93 752.55L112.6 750.95L113.27 749.37L113.93 747.81L114.6 746.3L115.27 744.86L115.93 743.51L116.6 742.28L117.27 741.19L117.93 740.25L118.6 739.49L119.27 738.93L119.93 738.58L120.6 738.44L121.27 738.58L121.93 738.93L122.6 739.49L123.27 740.25L123.93 741.19L124.6 742.28L125.27 743.51L125.93 744.86L126.6 746.3L127.27 747.81L127.93 749.37L128.6 750.95L129.27 752.55L129.93 754.14L130.6 755.71L131.27 757.25L131.93 758.75L132.6 760.21L133.27 761.62L133.93 762.97L134.6 764.26L135.27 765.49L135.93 766.67L136.6 767.78L137.27 768.84L137.93 769.83L138.6 770.77L139.27 771.66L139.93 772.5L140.6 773.28L141.27 774.02L141.93 774.71L142.6 775.36L143.27 775.97L143.93 776.54L144.6 777.08L145.27 777.58L145.93 778.05L146.6 778.49L147.27 778.9L147.93 779.28L148.6 779.64L149.27 779.98L149.93 780.29L150.6 780.59L151.27 780.86L151.93 781.12L152.6 781.36L153.27 781.59L153.93 781.8L154.6 782L155.27 782.18L155.93 782.35L156.6 782.51L157.27 782.66L157.93 782.81L158.6 782.94L159.27 783.06L159.93 783.18L160.6 783.29L161.27 783.39L161.93 783.48L162.6 783.57L163.27 783.66L163.93 783.74L164.6 783.81L165.27 783.88L165.93 783.94L166.6 784L167.27 784.06L167.93 784.11L168.6 784.16L169.27 784.21L169.93 784.26L170.6 784.3L171.27 784.34L171.93 784.37L172.6 784.41L173.27 784.44L173.93 784.47L174.6 784.5L175.27 784.53L175.93 784.55L176.6 784.58L177.27 784.6L177.93 784.62L178.6 784.64L179.27 784.66L179.93 784.68L180.6 784.7L181.27 784.71L181.93 784.73L182.6 784.74L183.27 784.76L183.93 784.77L184.6 784.78L185.27 784.79L185.93 784.8L186.6 784.81L187.27 784.82L187.93 784.83L188.6 784.84L189.27 784.85L189.93 784.86L190.6 784.87L191.27 784.88L191.93 784.88L192.6 784.89L193.27 784.9L193.93 784.9L194.6 784.91L195.27 784.91L195.93 784.92L196.6 784.92L197.27 784.93L197.93 784.93L198.6 784.94L199.27 784.94L199.93 784.95L200.6 784.95L201.27 784.96L201.93 784.96L202.6 784.96L203.27 784.97L203.93 784.97L204.6 784.97L205.27 784.98L205.93 784.98L206.6 784.98L207.27 784.99L207.93 784.99L208.6 784.99L209.27 784.99L209.93 785L210.6 785L211.27 785L211.93 785L212.6 785.01L213.27 785.01L213.93 785.01L214.6 785.01L215.27 785.01L215.93 785.02L216.6 785.02L217.27 785.02L217.93 785.02L218.6 785.02L219.27 785.02L219.93 785.03L220.6 785.03" fill="none" stroke="#349834" stroke-width="1.15"/>
<line x1="20.6" y1="627.3" x2="220.6" y2="627.3" stroke="#555555" stroke-width="0.9"/>
<line x1="220.6" y1="627.3" x2="220.6" y2="785.1" stroke="#555555" stroke-width="0.9"/>
<line x1="20.6" y1="627.3" x2="20.6" y2="785.1" stroke="#555555" stroke-width="0.9"/>
<line x1="20.6" y1="785.1" x2="220.6" y2="785.1" stroke="#555555" stroke-width="0.9"/>
<path d="M16.2 785.1l4.6 -1.9v3.8z" fill="#000"/>
<path d="M224.4 785.1l-4.6 -1.9v3.8z" fill="#000"/>
<line x1="17.6" y1="785.1" x2="20.6" y2="785.1" stroke="#555555" stroke-width="0.8"/>
<text class="S" x="16.2" y="787.4" font-size="6.4" text-anchor="end" fill="#000">0.0</text>
<line x1="18.8" y1="772.95" x2="20.6" y2="772.95" stroke="#555555" stroke-width="0.7"/>
<line x1="17.6" y1="760.8" x2="20.6" y2="760.8" stroke="#555555" stroke-width="0.8"/>
<text class="S" x="16.2" y="763.1" font-size="6.4" text-anchor="end" fill="#000">0.1</text>
<line x1="18.8" y1="748.65" x2="20.6" y2="748.65" stroke="#555555" stroke-width="0.7"/>
<line x1="17.6" y1="736.5" x2="20.6" y2="736.5" stroke="#555555" stroke-width="0.8"/>
<text class="S" x="16.2" y="738.8" font-size="6.4" text-anchor="end" fill="#000">0.2</text>
<line x1="18.8" y1="724.35" x2="20.6" y2="724.35" stroke="#555555" stroke-width="0.7"/>
<line x1="17.6" y1="712.2" x2="20.6" y2="712.2" stroke="#555555" stroke-width="0.8"/>
<text class="S" x="16.2" y="714.5" font-size="6.4" text-anchor="end" fill="#000">0.3</text>
<line x1="18.8" y1="700.05" x2="20.6" y2="700.05" stroke="#555555" stroke-width="0.7"/>
<line x1="17.6" y1="687.9" x2="20.6" y2="687.9" stroke="#555555" stroke-width="0.8"/>
<text class="S" x="16.2" y="690.2" font-size="6.4" text-anchor="end" fill="#000">0.4</text>
<line x1="18.8" y1="675.75" x2="20.6" y2="675.75" stroke="#555555" stroke-width="0.7"/>
<line x1="17.6" y1="663.6" x2="20.6" y2="663.6" stroke="#555555" stroke-width="0.8"/>
<text class="S" x="16.2" y="665.9" font-size="6.4" text-anchor="end" fill="#000">0.5</text>
<line x1="18.8" y1="651.45" x2="20.6" y2="651.45" stroke="#555555" stroke-width="0.7"/>
<line x1="17.6" y1="639.3" x2="20.6" y2="639.3" stroke="#555555" stroke-width="0.8"/>
<text class="S" x="16.2" y="641.6" font-size="6.4" text-anchor="end" fill="#000">0.6</text>
<line x1="20.6" y1="785.1" x2="20.6" y2="788.1" stroke="#555555" stroke-width="0.8"/>
<text class="S" x="20.6" y="794.7" font-size="6.8" text-anchor="middle" fill="#000">−15</text>
<line x1="37.27" y1="785.1" x2="37.27" y2="786.9" stroke="#555555" stroke-width="0.7"/>
<line x1="53.93" y1="785.1" x2="53.93" y2="788.1" stroke="#555555" stroke-width="0.8"/>
<text class="S" x="53.93" y="794.7" font-size="6.8" text-anchor="middle" fill="#000">−10</text>
<line x1="70.6" y1="785.1" x2="70.6" y2="786.9" stroke="#555555" stroke-width="0.7"/>
<line x1="87.27" y1="785.1" x2="87.27" y2="788.1" stroke="#555555" stroke-width="0.8"/>
<text class="S" x="87.27" y="794.7" font-size="6.8" text-anchor="middle" fill="#000">−5</text>
<line x1="103.93" y1="785.1" x2="103.93" y2="786.9" stroke="#555555" stroke-width="0.7"/>
<line x1="120.6" y1="785.1" x2="120.6" y2="788.1" stroke="#555555" stroke-width="0.8"/>
<text class="S" x="120.6" y="794.7" font-size="6.8" text-anchor="middle" fill="#000">0</text>
<line x1="137.27" y1="785.1" x2="137.27" y2="786.9" stroke="#555555" stroke-width="0.7"/>
<line x1="153.93" y1="785.1" x2="153.93" y2="788.1" stroke="#555555" stroke-width="0.8"/>
<text class="S" x="153.93" y="794.7" font-size="6.8" text-anchor="middle" fill="#000">5</text>
<line x1="170.6" y1="785.1" x2="170.6" y2="786.9" stroke="#555555" stroke-width="0.7"/>
<line x1="187.27" y1="785.1" x2="187.27" y2="788.1" stroke="#555555" stroke-width="0.8"/>
<text class="S" x="187.27" y="794.7" font-size="6.8" text-anchor="middle" fill="#000">10</text>
<line x1="203.93" y1="785.1" x2="203.93" y2="786.9" stroke="#555555" stroke-width="0.7"/>
<line x1="220.6" y1="785.1" x2="220.6" y2="788.1" stroke="#555555" stroke-width="0.8"/>
<text class="S" x="220.6" y="794.7" font-size="6.8" text-anchor="middle" fill="#000">15</text>
<text class="S" x="5.9" y="706.8" font-size="7.1" text-anchor="middle" fill="#000" transform="rotate(-90 5.9 706.8)">Density</text>
<text class="S" x="120" y="802.6" font-size="6.8" text-anchor="middle" fill="#000">Error</text>
<rect x="177.5" y="627.3" width="43.1" height="21" fill="#fff" stroke="#555555" stroke-width="0.8"/>
<rect x="178.3" y="628.5" width="16.3" height="9.2" fill="#f7a55a" stroke="#555" stroke-width="0.5"/>
<rect x="178.3" y="638.6" width="16.3" height="8.7" fill="#66bb66" stroke="#555" stroke-width="0.5"/>
<text class="S" x="197" y="635.8" font-size="8.0" text-anchor="start" fill="#000">o_plsd</text>
<text class="S" x="197" y="645.6" font-size="8.0" text-anchor="start" fill="#000">PLSR</text>
<rect x="169.5" y="650.5" width="51.1" height="33.3" fill="#fff" stroke="none" stroke-width="0.8"/>
<line x1="169.5" y1="650.5" x2="220.6" y2="650.5" stroke="#9a9a9a" stroke-width="0.5"/>
<line x1="169.5" y1="655.26" x2="220.6" y2="655.26" stroke="#9a9a9a" stroke-width="0.5"/>
<line x1="169.5" y1="660.01" x2="220.6" y2="660.01" stroke="#9a9a9a" stroke-width="0.5"/>
<line x1="169.5" y1="664.77" x2="220.6" y2="664.77" stroke="#9a9a9a" stroke-width="0.5"/>
<line x1="169.5" y1="669.53" x2="220.6" y2="669.53" stroke="#9a9a9a" stroke-width="0.5"/>
<line x1="169.5" y1="674.29" x2="220.6" y2="674.29" stroke="#9a9a9a" stroke-width="0.5"/>
<line x1="169.5" y1="679.04" x2="220.6" y2="679.04" stroke="#9a9a9a" stroke-width="0.5"/>
<line x1="169.5" y1="683.8" x2="220.6" y2="683.8" stroke="#9a9a9a" stroke-width="0.5"/>
<line x1="169.5" y1="650.5" x2="169.5" y2="683.8" stroke="#9a9a9a" stroke-width="0.5"/>
<line x1="186.3" y1="650.5" x2="186.3" y2="683.8" stroke="#9a9a9a" stroke-width="0.5"/>
<line x1="203.1" y1="650.5" x2="203.1" y2="683.8" stroke="#9a9a9a" stroke-width="0.5"/>
<line x1="220.6" y1="650.5" x2="220.6" y2="683.8" stroke="#9a9a9a" stroke-width="0.5"/>
<text class="S" x="177.9" y="654.18" font-size="3.9" text-anchor="middle" fill="#222">Statistic</text>
<text class="S" x="202.3" y="654.18" font-size="3.9" text-anchor="end" fill="#222">o_plsd</text>
<text class="S" x="220" y="654.18" font-size="3.9" text-anchor="end" fill="#222">PLSR</text>
<text class="S" x="177.9" y="658.94" font-size="3.9" text-anchor="middle" fill="#222">Min</text>
<text class="S" x="202.3" y="658.94" font-size="3.9" text-anchor="end" fill="#222">-46.48</text>
<text class="S" x="220" y="658.94" font-size="3.9" text-anchor="end" fill="#222">-43.987</text>
<text class="S" x="177.9" y="663.69" font-size="3.9" text-anchor="middle" fill="#222">Max</text>
<text class="S" x="202.3" y="663.69" font-size="3.9" text-anchor="end" fill="#222">46.11</text>
<text class="S" x="220" y="663.69" font-size="3.9" text-anchor="end" fill="#222">31.561</text>
<text class="S" x="177.9" y="668.45" font-size="3.9" text-anchor="middle" fill="#222">Mean</text>
<text class="S" x="202.3" y="668.45" font-size="3.9" text-anchor="end" fill="#222">-0.167</text>
<text class="S" x="220" y="668.45" font-size="3.9" text-anchor="end" fill="#222">0.024</text>
<text class="S" x="177.9" y="673.21" font-size="3.9" text-anchor="middle" fill="#222">SD</text>
<text class="S" x="202.3" y="673.21" font-size="3.9" text-anchor="end" fill="#222">3.876</text>
<text class="S" x="220" y="673.21" font-size="3.9" text-anchor="end" fill="#222">3.752</text>
<text class="S" x="177.9" y="677.96" font-size="3.9" text-anchor="middle" fill="#222">Median</text>
<text class="S" x="202.3" y="677.96" font-size="3.9" text-anchor="end" fill="#222">-0.02</text>
<text class="S" x="220" y="677.96" font-size="3.9" text-anchor="end" fill="#222">-0.004</text>
<text class="S" x="177.9" y="682.72" font-size="3.9" text-anchor="middle" fill="#222">IQR</text>
<text class="S" x="202.3" y="682.72" font-size="3.9" text-anchor="end" fill="#222">1.206</text>
<text class="S" x="220" y="682.72" font-size="3.9" text-anchor="end" fill="#222">2.867</text>
<path d="M260.3 753.2L279.8 753.2L272.5 754.5L268.1 756.4L265.2 761.1L263.2 768.9L261.8 775.1L260.3 779.8Z" fill="#6a6a6a"/>
<path d="M292.0 728.6h1.8M275.0 735.7h1.8M300.8 727.7h1.8M275.1 725.2h1.8M303.4 750.9h1.8M299.5 721.1h1.8M293.9 716.8h1.8M320.0 693.5h1.8M367.5 689.3h1.8M287.7 740.4h1.8M377.4 703.8h1.8M290.7 737.1h1.8M293.7 741.8h1.8M293.0 747.6h1.8M282.9 733.9h1.8M268.7 746.3h1.8M283.7 740.2h1.8M307.4 713.1h1.8M288.5 725.4h1.8M278.4 731.1h1.8M299.8 731.8h1.8M284.5 716.7h1.8M382.2 709.7h1.8M386.1 693.1h1.8M291.4 729.3h1.8M294.5 686.2h1.8M287.8 719.7h1.8M290.7 701.1h1.8M299.8 728.0h1.8M284.2 733.9h1.8M272.7 725.3h1.8M275.5 721.7h1.8M265.9 742.2h1.8M361.9 722.4h1.8M282.7 737.5h1.8M265.0 735.7h1.8M283.0 731.6h1.8M336.9 717.0h1.8M304.1 712.4h1.8M286.9 716.1h1.8M302.6 709.5h1.8M270.0 723.5h1.8M260.2 740.5h1.8M276.0 730.3h1.8M381.2 683.6h1.8M298.7 728.8h1.8M274.1 741.5h1.8M275.4 716.0h1.8M286.2 715.5h1.8M281.8 747.1h1.8M332.9 698.3h1.8M292.0 716.3h1.8M301.2 730.9h1.8M368.0 700.2h1.8M278.5 743.7h1.8M303.9 711.9h1.8M311.1 694.5h1.8M297.3 706.4h1.8M341.0 725.7h1.8M316.3 705.7h1.8M283.5 743.9h1.8M316.1 694.7h1.8M293.1 695.8h1.8M296.3 728.1h1.8M299.3 728.9h1.8M303.1 729.7h1.8M274.1 735.9h1.8M297.8 714.6h1.8M282.7 731.1h1.8M308.4 736.9h1.8M299.1 742.4h1.8M294.6 735.8h1.8M337.5 707.1h1.8M285.1 751.2h1.8M337.0 718.2h1.8M355.1 716.8h1.8M304.6 727.6h1.8M271.1 726.0h1.8M281.4 735.3h1.8M347.6 712.8h1.8M376.8 687.1h1.8M303.0 705.5h1.8M301.9 724.8h1.8M303.3 712.0h1.8M286.5 739.4h1.8M269.8 750.4h1.8M281.6 731.9h1.8M278.2 743.5h1.8M361.8 700.2h1.8M280.1 727.8h1.8M281.7 740.0h1.8M330.9 702.0h1.8M284.4 738.7h1.8M272.5 749.9h1.8M356.7 704.2h1.8M274.6 718.4h1.8M322.7 716.7h1.8M283.9 745.0h1.8M292.3 727.5h1.8M317.0 684.3h1.8M299.7 730.1h1.8M275.8 744.8h1.8M290.4 704.4h1.8M309.8 724.5h1.8M357.7 678.6h1.8M262.3 742.9h1.8M316.0 730.1h1.8M261.5 727.0h1.8M275.6 747.5h1.8M289.6 720.1h1.8M295.0 728.7h1.8M280.2 732.8h1.8M260.7 752.9h1.8M373.2 679.1h1.8M398.0 661.3h1.8M302.1 724.8h1.8M259.6 728.5h1.8M343.7 673.6h1.8M288.4 736.4h1.8M391.4 699.9h1.8M383.7 683.7h1.8M264.2 742.1h1.8M360.4 689.3h1.8M365.2 703.4h1.8M275.9 736.7h1.8M293.9 721.3h1.8M272.1 743.4h1.8M291.0 722.5h1.8M276.3 727.8h1.8M308.7 716.4h1.8M281.8 728.6h1.8M302.9 709.6h1.8M279.7 734.9h1.8M294.2 745.1h1.8M378.6 698.0h1.8M296.4 716.4h1.8M265.3 737.7h1.8M287.1 718.5h1.8M290.5 726.4h1.8M263.4 747.2h1.8M277.1 744.5h1.8M334.3 712.7h1.8M261.5 742.0h1.8M284.3 736.1h1.8M312.9 709.0h1.8M287.9 734.6h1.8M285.3 708.6h1.8M325.5 706.8h1.8M330.1 696.1h1.8M301.2 721.4h1.8M312.5 730.9h1.8M287.2 737.2h1.8M287.7 704.7h1.8M381.1 699.2h1.8M283.1 728.9h1.8M260.4 734.5h1.8M302.5 736.9h1.8M316.5 712.0h1.8M327.3 724.9h1.8M293.3 728.6h1.8M291.3 729.2h1.8M343.4 707.2h1.8M359.2 704.1h1.8M278.4 732.4h1.8M358.5 704.0h1.8M262.1 739.0h1.8M372.6 690.9h1.8M296.7 715.6h1.8M263.1 735.8h1.8M389.7 667.1h1.8M332.1 705.5h1.8M328.5 721.4h1.8M361.4 688.8h1.8M269.6 740.3h1.8M345.2 706.2h1.8M329.3 738.9h1.8M285.1 714.5h1.8M290.5 712.9h1.8M292.8 736.1h1.8M337.6 721.8h1.8M362.2 684.2h1.8M281.9 719.3h1.8M319.2 717.8h1.8M291.7 746.7h1.8M343.1 741.0h1.8M293.2 725.4h1.8M332.9 700.3h1.8M272.9 730.6h1.8M322.4 726.5h1.8M312.5 698.5h1.8M301.0 708.6h1.8M260.9 735.9h1.8M331.4 690.5h1.8M288.1 674.3h1.8M291.8 731.1h1.8M273.4 742.8h1.8M259.7 737.7h1.8M286.4 729.6h1.8M385.0 676.6h1.8M343.3 717.7h1.8M295.5 735.3h1.8M274.0 725.6h1.8M297.4 722.7h1.8M291.5 718.9h1.8M362.5 674.9h1.8M305.5 717.6h1.8M346.1 700.1h1.8M293.9 724.6h1.8M286.9 712.9h1.8M366.1 698.0h1.8M347.7 719.9h1.8M305.5 735.3h1.8M374.3 698.3h1.8M309.2 721.6h1.8M288.9 729.9h1.8M286.0 730.5h1.8M356.8 706.8h1.8M277.9 750.3h1.8M265.9 750.1h1.8M343.3 697.2h1.8M293.9 718.2h1.8M383.4 698.7h1.8M284.3 748.5h1.8M299.9 720.1h1.8M288.4 739.6h1.8M292.8 746.7h1.8M323.5 704.3h1.8M358.6 728.3h1.8M293.7 726.1h1.8M347.0 684.3h1.8M336.0 708.2h1.8M288.1 734.1h1.8M300.3 736.5h1.8M355.4 696.5h1.8M278.3 734.2h1.8M317.3 716.1h1.8M319.3 737.4h1.8M300.7 725.6h1.8M306.7 742.6h1.8M355.5 676.8h1.8M357.6 709.1h1.8M311.8 728.1h1.8M302.5 739.5h1.8M285.5 721.0h1.8M336.8 720.8h1.8M300.9 723.9h1.8M304.3 709.9h1.8M355.3 708.3h1.8M378.1 700.0h1.8M274.6 753.1h1.8M293.6 726.2h1.8M278.7 739.0h1.8M301.4 720.5h1.8M282.3 739.3h1.8M277.5 724.8h1.8M291.2 731.2h1.8M282.4 753.2h1.8M325.0 714.8h1.8M285.1 730.9h1.8M288.3 710.2h1.8M277.7 747.3h1.8M262.6 751.4h1.8M302.5 708.4h1.8M375.6 684.4h1.8M376.3 706.4h1.8M282.0 715.1h1.8M357.6 666.6h1.8M295.9 704.0h1.8M338.0 704.7h1.8M323.9 685.7h1.8M284.9 733.6h1.8M284.7 721.3h1.8M280.1 748.7h1.8M304.9 704.7h1.8M317.7 680.0h1.8M319.8 712.6h1.8M274.7 733.1h1.8M285.4 733.6h1.8M320.9 712.2h1.8M272.2 741.6h1.8M295.6 727.8h1.8M355.3 705.6h1.8M339.0 677.9h1.8M331.5 696.0h1.8M361.3 716.5h1.8M283.5 733.0h1.8M311.7 717.1h1.8M301.7 725.5h1.8M286.0 738.7h1.8M295.7 715.8h1.8M292.0 719.7h1.8M381.3 710.3h1.8M295.2 729.3h1.8M306.5 707.3h1.8M281.5 745.4h1.8M297.2 709.1h1.8M275.2 715.9h1.8M335.4 727.8h1.8M321.9 733.2h1.8M280.6 743.9h1.8M279.9 742.2h1.8M274.5 737.6h1.8M309.3 725.4h1.8M279.1 730.0h1.8M392.8 695.2h1.8M280.0 749.1h1.8M290.2 726.7h1.8M282.3 736.1h1.8M277.0 732.7h1.8M284.3 725.8h1.8M290.7 724.6h1.8M279.0 748.9h1.8M297.4 724.9h1.8M295.3 718.3h1.8M301.9 722.4h1.8M319.4 698.5h1.8M291.0 724.0h1.8M298.7 719.2h1.8M276.6 738.6h1.8M278.0 744.6h1.8M394.5 684.3h1.8M331.5 699.7h1.8M342.9 727.8h1.8M282.5 740.1h1.8M318.5 707.1h1.8M283.0 753.2h1.8M336.6 696.7h1.8M271.6 741.3h1.8M334.0 730.2h1.8M371.2 657.7h1.8M275.0 711.2h1.8M279.8 738.2h1.8M266.4 744.5h1.8M383.5 667.1h1.8M267.0 745.9h1.8M304.3 719.3h1.8M269.9 736.9h1.8M263.5 734.9h1.8M274.6 747.2h1.8M310.3 705.2h1.8M277.3 734.1h1.8M292.6 732.8h1.8M266.9 733.3h1.8M280.2 727.9h1.8M325.0 710.3h1.8M295.6 732.9h1.8M277.7 734.2h1.8M283.4 743.0h1.8M330.1 714.5h1.8M295.6 723.9h1.8M364.4 697.6h1.8M337.7 700.8h1.8M277.4 731.9h1.8M266.9 744.4h1.8M298.7 721.7h1.8M294.0 720.8h1.8M316.3 731.6h1.8M282.4 719.4h1.8M329.6 691.2h1.8M274.5 729.2h1.8M277.3 743.1h1.8M289.9 723.1h1.8M306.4 713.8h1.8M275.3 731.2h1.8M337.1 697.7h1.8M282.3 732.7h1.8M285.5 726.3h1.8M334.5 688.5h1.8M310.7 709.9h1.8M282.9 752.3h1.8M306.5 720.4h1.8M259.9 742.2h1.8M322.4 695.5h1.8M314.3 750.8h1.8M301.6 700.3h1.8M322.7 687.6h1.8M345.4 696.6h1.8M328.2 702.1h1.8M271.6 749.4h1.8M326.7 711.1h1.8M291.6 718.3h1.8M262.5 752.4h1.8M287.6 728.7h1.8M285.4 750.3h1.8M295.1 725.2h1.8M330.8 720.2h1.8M300.1 726.7h1.8M302.7 735.3h1.8M283.1 729.7h1.8M281.5 728.7h1.8M332.3 671.7h1.8M286.5 745.6h1.8M336.1 709.5h1.8M281.9 743.9h1.8M272.8 732.9h1.8M275.6 738.5h1.8M300.1 724.0h1.8M324.1 725.6h1.8M344.9 714.2h1.8M333.7 681.3h1.8M264.9 731.0h1.8M296.0 734.8h1.8M275.5 739.3h1.8M290.4 707.8h1.8M291.0 732.8h1.8M378.4 705.4h1.8M301.2 730.0h1.8M365.6 735.0h1.8M283.3 726.2h1.8M308.8 705.0h1.8M291.3 739.5h1.8M386.2 708.6h1.8M291.4 729.5h1.8M294.6 717.5h1.8M263.8 744.2h1.8M298.1 725.6h1.8M301.6 705.8h1.8M297.5 732.1h1.8M282.4 732.9h1.8M278.4 743.7h1.8M297.7 729.9h1.8M294.7 728.6h1.8M345.7 747.9h1.8M293.5 731.6h1.8M290.6 744.5h1.8M274.8 735.6h1.8M276.1 735.8h1.8M326.9 714.0h1.8M263.6 749.1h1.8M386.2 664.5h1.8M291.0 734.4h1.8M261.9 739.4h1.8M385.1 711.9h1.8M274.2 745.6h1.8M311.2 713.2h1.8M390.1 705.1h1.8M291.6 731.1h1.8M307.4 712.4h1.8M368.1 685.8h1.8M294.1 710.5h1.8M288.3 722.1h1.8M329.8 699.0h1.8M328.2 724.0h1.8M359.7 671.2h1.8M393.8 667.6h1.8M275.6 736.0h1.8M363.8 692.9h1.8M283.3 729.7h1.8M328.2 714.9h1.8M357.5 707.2h1.8M330.4 716.2h1.8M402.0 663.8h1.8M322.1 722.9h1.8M366.6 688.6h1.8M290.0 735.0h1.8M329.4 695.6h1.8M353.0 689.9h1.8M300.6 726.9h1.8M321.7 720.8h1.8M282.5 728.5h1.8M286.5 729.5h1.8M355.0 702.9h1.8M306.8 727.5h1.8M301.0 724.9h1.8M329.3 716.9h1.8M328.6 713.4h1.8M288.1 725.4h1.8M364.1 697.9h1.8M381.5 689.5h1.8M260.1 722.1h1.8M264.3 743.3h1.8M284.1 724.6h1.8M328.8 704.5h1.8M391.5 689.0h1.8M316.9 721.6h1.8M305.2 729.4h1.8M323.2 726.5h1.8M274.3 715.9h1.8M279.5 736.3h1.8M260.8 749.6h1.8M297.2 727.4h1.8M313.0 721.8h1.8M304.5 712.2h1.8M281.0 732.2h1.8M276.4 741.8h1.8M291.5 742.8h1.8M271.5 733.8h1.8M292.8 746.0h1.8M330.9 714.9h1.8M317.5 700.9h1.8M277.5 744.2h1.8M300.9 738.3h1.8M301.6 720.6h1.8M280.6 740.1h1.8M263.3 746.2h1.8M326.5 726.0h1.8M277.1 734.0h1.8M323.5 709.6h1.8M293.4 732.8h1.8M301.1 739.5h1.8M388.1 699.6h1.8M318.3 707.4h1.8M278.2 738.5h1.8M273.2 745.0h1.8M296.0 722.3h1.8M283.7 715.6h1.8M284.7 727.3h1.8M282.0 742.7h1.8M300.9 735.9h1.8M315.1 727.1h1.8M281.1 738.8h1.8M259.5 733.0h1.8M318.4 705.4h1.8M330.3 694.8h1.8M314.9 718.0h1.8M385.3 678.9h1.8M291.6 730.0h1.8M303.6 723.2h1.8M361.1 713.4h1.8M282.5 725.4h1.8M339.7 731.6h1.8M284.1 733.5h1.8M351.3 703.5h1.8M263.0 750.6h1.8M302.4 706.7h1.8M325.6 711.6h1.8M334.1 711.1h1.8M278.9 750.5h1.8M276.2 712.6h1.8M309.3 733.3h1.8M260.6 712.5h1.8M370.9 701.1h1.8M324.9 705.8h1.8M308.6 711.6h1.8M284.7 736.0h1.8M360.2 699.9h1.8M283.3 748.8h1.8M291.8 738.0h1.8M259.7 727.4h1.8M278.7 728.8h1.8M330.0 722.4h1.8M286.4 727.4h1.8M282.0 710.1h1.8M307.6 736.8h1.8M289.3 713.7h1.8M298.7 722.7h1.8M300.5 720.4h1.8M306.5 707.5h1.8M261.5 741.3h1.8M326.3 711.3h1.8M316.9 713.2h1.8M310.6 736.7h1.8M297.6 717.0h1.8M337.1 719.0h1.8M262.6 700.1h1.8M302.7 737.5h1.8M282.9 742.0h1.8M278.1 746.1h1.8M300.8 719.9h1.8M285.8 738.3h1.8M303.0 701.0h1.8M367.5 693.0h1.8M337.2 724.8h1.8M298.7 722.1h1.8M310.2 732.5h1.8M313.8 702.0h1.8M276.1 751.0h1.8M310.5 732.5h1.8M265.6 745.1h1.8M284.8 726.4h1.8M290.5 726.2h1.8M260.5 745.9h1.8M305.3 727.2h1.8M271.8 731.4h1.8M282.3 717.4h1.8M282.8 728.8h1.8M388.5 692.3h1.8M278.3 719.3h1.8M281.1 733.3h1.8M331.6 710.8h1.8M275.8 748.6h1.8M312.9 721.0h1.8M324.0 704.2h1.8M287.4 709.9h1.8M344.9 700.1h1.8M304.7 729.4h1.8M307.7 711.3h1.8M360.8 685.1h1.8M261.4 751.5h1.8M295.5 718.1h1.8M318.3 707.4h1.8M296.3 712.5h1.8M361.1 700.8h1.8M287.7 715.9h1.8M262.5 746.7h1.8M275.9 747.7h1.8M288.3 735.9h1.8M381.6 662.3h1.8M284.6 727.4h1.8M340.6 712.9h1.8M297.9 711.4h1.8M306.8 727.5h1.8M302.0 725.7h1.8M303.4 753.2h1.8M288.1 738.1h1.8M324.2 737.8h1.8M303.2 734.6h1.8M295.9 717.5h1.8M330.3 714.6h1.8M281.7 722.3h1.8M301.0 711.7h1.8M276.3 742.8h1.8M350.4 699.6h1.8M273.0 748.0h1.8M365.5 675.8h1.8M275.5 731.0h1.8M291.8 708.8h1.8M280.1 732.4h1.8M303.0 721.5h1.8M261.0 739.4h1.8M311.0 717.5h1.8M395.2 692.3h1.8M276.6 746.0h1.8M300.0 730.1h1.8M314.8 746.5h1.8M388.6 688.8h1.8M329.4 710.0h1.8M303.7 743.2h1.8M290.0 736.7h1.8M281.2 736.3h1.8M314.0 702.8h1.8M287.0 736.1h1.8M265.9 736.8h1.8M269.5 737.0h1.8M350.3 688.2h1.8M326.1 711.4h1.8M346.7 683.5h1.8M288.2 731.9h1.8M277.4 727.0h1.8M300.5 719.5h1.8M320.7 713.5h1.8M304.0 746.0h1.8M310.0 710.6h1.8M331.7 698.4h1.8M305.1 710.4h1.8M297.6 713.2h1.8M312.4 721.7h1.8M311.3 705.1h1.8M284.3 728.8h1.8M275.3 734.8h1.8M278.7 720.5h1.8M300.0 717.8h1.8M286.2 717.9h1.8M351.9 687.1h1.8M259.5 733.5h1.8M293.5 719.5h1.8M289.9 738.0h1.8M341.9 684.7h1.8M337.7 713.4h1.8M289.9 739.6h1.8M276.8 724.9h1.8M298.1 722.4h1.8M279.8 711.2h1.8M275.0 731.8h1.8M302.7 725.5h1.8M301.1 722.0h1.8M379.8 707.3h1.8M334.7 701.5h1.8M366.2 685.1h1.8M295.2 719.4h1.8M324.7 698.4h1.8M264.9 719.9h1.8M349.0 712.6h1.8M300.0 707.4h1.8M306.8 723.8h1.8M334.7 731.9h1.8M305.3 720.3h1.8M281.9 744.5h1.8M305.0 714.5h1.8M270.2 739.7h1.8M297.3 725.1h1.8M279.4 735.6h1.8M288.3 746.3h1.8M270.0 744.3h1.8M327.6 696.1h1.8M278.5 736.7h1.8M294.2 722.4h1.8M343.1 706.7h1.8M318.5 723.9h1.8M307.4 715.5h1.8M307.9 690.9h1.8M280.6 749.3h1.8M278.7 744.6h1.8M295.0 713.3h1.8M281.5 739.6h1.8M285.4 727.7h1.8M264.0 737.2h1.8M380.1 696.4h1.8M270.6 734.6h1.8M322.5 702.0h1.8M283.2 717.7h1.8M278.8 728.0h1.8M342.3 716.5h1.8M300.7 714.6h1.8M279.4 733.7h1.8M289.0 709.1h1.8M267.2 734.7h1.8M296.7 720.4h1.8M290.6 731.4h1.8M291.9 708.3h1.8M311.5 719.1h1.8M262.7 732.5h1.8M325.1 720.7h1.8M385.8 702.0h1.8M259.5 743.4h1.8M304.8 731.6h1.8M280.9 731.7h1.8M286.9 731.9h1.8M328.1 705.4h1.8M288.7 727.8h1.8M278.9 742.7h1.8M314.5 726.1h1.8M260.3 749.8h1.8M389.5 685.8h1.8M304.6 716.9h1.8M281.1 741.6h1.8M352.0 690.7h1.8M295.3 715.1h1.8M333.8 708.1h1.8M278.2 745.2h1.8M301.4 738.0h1.8M279.1 742.4h1.8M267.7 738.2h1.8M273.3 723.6h1.8M263.3 745.3h1.8M270.9 739.7h1.8M328.9 697.9h1.8M351.6 662.0h1.8M327.0 723.4h1.8M284.3 727.1h1.8M290.7 731.3h1.8M339.6 704.6h1.8M278.5 717.4h1.8M307.5 738.2h1.8M300.3 735.3h1.8M332.0 709.6h1.8M283.7 718.9h1.8M310.3 716.2h1.8M271.9 733.5h1.8M384.9 672.9h1.8M287.6 729.4h1.8M293.7 721.9h1.8M286.5 736.4h1.8M275.9 718.2h1.8M283.6 723.2h1.8M271.1 738.9h1.8M276.8 736.2h1.8M298.2 744.3h1.8M266.0 739.9h1.8M281.4 736.1h1.8M353.9 678.3h1.8M333.2 702.9h1.8M262.2 749.6h1.8M325.4 702.9h1.8M278.1 740.9h1.8M298.1 713.6h1.8M279.1 725.4h1.8M274.6 749.8h1.8M339.9 653.6h1.8M291.6 747.8h1.8M279.6 728.5h1.8M291.2 729.6h1.8M269.9 732.5h1.8M325.8 705.1h1.8M355.0 711.5h1.8M293.0 727.6h1.8M288.3 752.1h1.8M264.9 746.0h1.8M286.7 723.5h1.8M311.1 707.4h1.8M269.5 733.3h1.8M338.4 693.0h1.8M287.6 709.9h1.8M400.9 673.7h1.8M344.1 709.6h1.8M296.1 738.5h1.8M285.1 737.1h1.8M299.0 728.5h1.8M331.9 703.9h1.8M346.8 692.7h1.8M279.8 743.1h1.8M298.2 674.7h1.8M298.9 720.3h1.8M295.2 738.0h1.8M266.5 731.7h1.8M290.7 718.6h1.8M262.6 736.8h1.8M331.4 696.8h1.8M331.2 714.5h1.8M324.4 712.4h1.8M357.8 699.8h1.8M370.7 738.8h1.8M263.9 735.2h1.8M304.3 732.0h1.8M318.8 692.4h1.8M346.6 686.7h1.8M333.6 722.9h1.8M307.9 717.0h1.8M279.1 732.2h1.8M294.4 736.0h1.8M285.5 732.7h1.8M274.7 730.5h1.8M291.8 732.6h1.8M295.0 722.1h1.8M301.5 722.0h1.8M276.8 732.5h1.8M339.5 723.0h1.8M274.1 727.0h1.8M288.3 715.9h1.8M370.1 672.1h1.8M297.6 740.4h1.8M288.6 729.1h1.8M347.8 695.7h1.8M281.5 719.6h1.8M291.2 714.6h1.8M299.7 722.3h1.8M388.0 702.9h1.8M371.5 631.7h1.8M327.5 683.3h1.8M363.6 698.4h1.8M388.7 694.7h1.8M281.4 738.3h1.8M296.5 704.7h1.8M284.5 725.6h1.8M306.4 719.4h1.8M284.2 730.0h1.8M278.2 752.0h1.8M271.7 746.8h1.8M292.1 711.4h1.8M314.6 718.5h1.8M330.8 684.2h1.8M302.9 707.4h1.8M267.5 734.8h1.8M289.0 718.4h1.8M368.5 689.1h1.8M281.6 726.3h1.8M296.1 730.3h1.8M321.5 712.4h1.8M324.8 747.9h1.8M283.5 721.4h1.8M295.9 735.3h1.8M280.7 738.6h1.8M266.9 746.4h1.8M330.2 703.3h1.8M292.0 707.9h1.8M302.4 711.6h1.8M387.1 683.4h1.8M377.3 657.0h1.8M318.3 725.8h1.8M294.6 733.5h1.8M277.5 734.2h1.8M283.4 710.1h1.8M264.7 740.6h1.8M272.5 725.7h1.8M304.7 719.5h1.8M295.4 714.4h1.8M401.2 652.4h1.8M320.7 701.0h1.8M279.3 730.2h1.8M284.6 734.5h1.8M393.0 673.9h1.8M270.3 750.1h1.8M264.2 747.9h1.8M341.0 713.8h1.8M312.6 692.3h1.8M333.7 713.7h1.8M288.7 722.8h1.8M296.5 735.4h1.8M340.1 695.3h1.8M283.8 714.1h1.8M293.8 729.2h1.8M288.5 736.6h1.8M388.1 671.6h1.8M305.0 744.6h1.8M274.8 720.8h1.8M301.1 742.6h1.8M288.6 710.6h1.8M264.0 742.0h1.8M333.0 720.6h1.8M369.3 673.7h1.8M368.5 678.0h1.8M291.0 731.3h1.8M279.6 737.4h1.8M277.5 740.6h1.8M346.3 681.5h1.8M307.4 731.4h1.8M366.5 684.3h1.8M397.6 680.0h1.8M261.3 727.4h1.8M376.4 692.9h1.8M283.4 728.0h1.8M304.5 739.9h1.8M286.3 741.2h1.8M274.0 734.0h1.8M276.8 738.1h1.8M306.1 711.5h1.8M345.7 680.9h1.8M283.0 716.1h1.8M357.7 685.8h1.8M293.0 729.2h1.8M262.5 732.7h1.8M333.6 714.5h1.8M334.4 726.7h1.8M281.5 729.2h1.8M317.4 727.9h1.8M264.8 728.3h1.8M297.4 722.6h1.8M281.4 735.8h1.8M340.5 724.4h1.8M348.9 645.0h1.8M300.0 733.5h1.8M300.9 707.8h1.8M304.6 729.2h1.8M264.9 726.9h1.8M297.3 722.7h1.8M350.1 718.1h1.8M285.7 710.8h1.8M331.0 700.2h1.8M346.7 695.2h1.8M287.8 732.6h1.8M264.9 736.1h1.8M267.3 743.6h1.8M301.9 726.6h1.8M377.0 679.2h1.8M324.9 733.1h1.8M274.4 751.7h1.8M307.6 718.1h1.8M385.7 712.5h1.8M343.2 726.0h1.8M383.6 680.4h1.8M279.2 736.8h1.8M284.9 734.3h1.8M330.8 706.9h1.8M294.2 722.1h1.8M262.6 743.4h1.8M321.7 723.9h1.8M299.2 717.6h1.8M286.5 719.1h1.8M297.2 703.2h1.8M342.6 688.5h1.8M278.0 740.0h1.8M298.4 726.9h1.8M292.8 742.9h1.8M260.7 747.1h1.8M281.8 734.8h1.8M301.9 711.9h1.8M321.3 704.1h1.8M267.6 746.6h1.8M325.1 699.4h1.8M289.4 727.0h1.8M260.9 731.2h1.8M283.7 738.3h1.8M308.6 720.9h1.8M330.3 699.4h1.8M370.6 700.0h1.8M347.9 728.9h1.8M322.9 731.8h1.8M283.9 660.3h1.8M282.8 734.7h1.8M332.8 702.3h1.8M287.7 724.3h1.8M290.1 728.1h1.8M380.9 689.6h1.8M285.4 749.0h1.8M291.2 731.7h1.8M284.9 720.5h1.8M269.5 729.6h1.8M347.2 717.2h1.8M285.1 733.2h1.8M309.4 720.2h1.8M387.3 705.8h1.8M280.5 751.5h1.8M334.3 680.7h1.8M276.8 744.7h1.8M369.0 702.8h1.8M285.1 739.4h1.8M314.4 728.6h1.8M306.0 721.3h1.8M281.9 725.7h1.8M288.6 729.4h1.8M330.6 698.4h1.8M334.1 673.9h1.8M285.9 722.3h1.8M309.3 729.9h1.8M275.6 722.9h1.8M311.3 704.5h1.8M323.4 738.6h1.8M293.4 733.1h1.8M276.9 736.3h1.8M295.2 726.7h1.8M268.1 742.8h1.8M274.8 715.2h1.8M286.9 735.0h1.8M285.2 741.2h1.8M286.9 730.9h1.8M289.5 719.3h1.8M286.3 739.0h1.8M353.7 711.3h1.8M349.2 697.6h1.8M316.4 695.3h1.8M292.9 745.0h1.8M372.9 682.9h1.8M288.6 734.9h1.8M400.6 683.3h1.8M303.1 740.8h1.8M307.9 725.4h1.8M305.7 709.0h1.8M295.5 737.6h1.8M285.9 727.4h1.8M326.6 730.2h1.8M295.3 738.2h1.8M314.1 706.8h1.8M309.9 700.9h1.8M329.0 705.4h1.8M295.4 719.1h1.8M370.5 708.3h1.8M343.6 716.4h1.8M267.9 739.8h1.8M363.0 719.7h1.8M344.4 696.8h1.8M350.2 687.4h1.8M270.1 748.8h1.8M288.0 725.4h1.8M305.7 711.5h1.8M291.9 715.7h1.8M329.2 704.7h1.8M261.1 744.5h1.8M284.9 734.7h1.8M281.1 724.5h1.8M292.4 726.2h1.8M297.4 751.9h1.8M282.0 735.5h1.8M274.1 743.2h1.8M307.2 711.6h1.8M357.9 690.7h1.8M395.2 674.0h1.8M372.0 654.5h1.8M287.3 729.4h1.8M275.7 737.4h1.8M279.9 738.1h1.8M279.0 725.5h1.8M261.8 738.8h1.8M350.6 710.5h1.8M333.3 733.6h1.8M281.5 751.5h1.8M291.3 747.0h1.8M310.0 728.5h1.8M314.5 710.3h1.8M273.9 734.5h1.8M319.3 724.1h1.8M315.2 717.2h1.8M301.4 729.7h1.8M339.1 697.8h1.8M263.6 711.9h1.8M280.4 735.2h1.8M330.8 702.7h1.8M284.7 728.2h1.8M334.6 718.2h1.8M287.7 739.4h1.8M299.1 728.9h1.8M327.4 704.9h1.8M369.4 677.1h1.8M286.4 744.3h1.8M302.7 747.2h1.8M278.3 737.9h1.8M374.5 698.3h1.8M286.4 723.2h1.8M408.7 686.1h1.8M275.2 739.9h1.8M360.8 693.0h1.8M362.3 660.2h1.8M303.1 703.4h1.8M300.9 719.6h1.8M277.2 718.5h1.8M282.9 731.9h1.8M313.1 714.1h1.8M309.2 733.2h1.8M271.8 748.7h1.8M287.7 729.8h1.8M298.8 717.7h1.8M293.9 732.9h1.8M298.2 716.7h1.8M287.5 726.6h1.8M287.5 722.0h1.8M291.7 749.1h1.8M282.5 729.4h1.8M330.4 711.5h1.8M284.2 727.5h1.8M285.6 720.9h1.8M291.4 729.2h1.8M300.1 707.1h1.8M304.8 713.7h1.8M300.6 720.1h1.8M263.4 738.8h1.8M318.7 721.7h1.8M283.5 733.5h1.8M304.9 701.8h1.8M296.3 711.7h1.8M274.2 743.4h1.8M301.6 742.8h1.8M293.0 711.3h1.8M284.4 721.6h1.8M363.7 679.0h1.8M339.0 724.4h1.8M267.4 723.2h1.8M334.9 680.6h1.8M346.6 709.0h1.8M279.8 715.6h1.8M273.2 729.5h1.8M372.2 709.1h1.8M280.9 728.0h1.8M374.1 700.6h1.8M292.5 714.0h1.8M298.4 733.8h1.8M318.8 743.0h1.8M297.8 724.0h1.8M320.3 694.2h1.8M303.0 710.9h1.8M320.2 735.4h1.8M279.5 730.5h1.8M331.0 727.9h1.8M282.2 736.8h1.8M382.8 688.5h1.8M358.4 692.4h1.8M289.5 735.9h1.8M358.6 681.5h1.8M313.4 683.3h1.8M285.9 745.5h1.8M273.1 736.4h1.8M380.1 715.0h1.8M311.2 707.0h1.8M283.6 743.9h1.8M291.6 738.5h1.8M355.0 683.2h1.8M262.3 734.8h1.8M271.7 728.0h1.8M310.3 697.8h1.8M302.5 708.8h1.8M382.6 672.5h1.8M269.5 744.0h1.8M290.4 745.3h1.8M291.9 726.0h1.8M272.8 749.0h1.8M287.4 733.9h1.8M317.3 701.0h1.8M298.7 732.4h1.8M287.4 745.6h1.8M294.7 736.1h1.8M278.5 718.4h1.8M319.4 704.9h1.8M291.2 735.3h1.8M272.3 740.1h1.8M292.0 749.0h1.8M290.7 743.8h1.8M335.0 686.2h1.8M277.1 728.2h1.8M287.0 750.8h1.8M298.8 707.3h1.8M273.7 745.1h1.8M296.3 708.5h1.8M322.2 713.9h1.8M268.6 736.1h1.8M278.1 746.4h1.8M272.4 746.6h1.8M277.5 734.3h1.8M285.5 735.9h1.8M306.3 718.6h1.8M320.9 731.4h1.8M320.5 715.1h1.8M297.5 726.5h1.8M284.9 720.0h1.8M280.6 742.0h1.8M366.0 666.7h1.8M329.2 709.1h1.8M277.5 716.8h1.8M327.9 691.6h1.8M299.9 724.4h1.8M396.1 677.1h1.8M394.5 677.3h1.8M393.8 659.9h1.8M346.2 701.9h1.8M373.9 713.3h1.8M273.1 732.0h1.8M274.9 708.6h1.8M316.0 714.7h1.8M295.9 734.7h1.8M325.7 713.1h1.8M344.4 736.0h1.8M284.2 716.0h1.8M289.4 720.8h1.8M322.4 694.0h1.8M299.0 735.8h1.8M305.9 741.3h1.8M317.6 727.7h1.8M282.8 721.6h1.8M292.6 710.7h1.8M310.7 731.0h1.8M299.6 715.3h1.8M331.8 718.6h1.8M294.0 730.5h1.8M316.1 695.3h1.8M284.3 727.8h1.8M292.6 727.5h1.8M298.4 696.8h1.8M284.1 736.6h1.8M288.9 730.9h1.8M381.5 698.4h1.8M350.3 736.8h1.8M301.2 711.4h1.8M274.2 727.3h1.8M280.1 734.3h1.8M273.4 747.4h1.8M293.5 739.0h1.8M265.2 751.3h1.8M276.4 751.7h1.8M282.9 722.4h1.8M284.7 736.2h1.8M280.7 744.3h1.8M275.0 735.9h1.8M322.2 705.3h1.8M326.4 700.4h1.8M304.6 712.3h1.8M281.6 749.2h1.8M384.8 660.1h1.8M321.1 734.4h1.8M296.8 735.1h1.8M269.9 742.7h1.8M278.3 740.7h1.8M293.5 730.9h1.8M334.4 716.7h1.8M279.1 752.3h1.8M278.3 738.3h1.8M325.3 707.6h1.8M319.3 712.2h1.8M385.3 653.5h1.8M284.1 711.8h1.8M295.5 709.3h1.8M276.8 747.1h1.8M361.1 658.9h1.8M307.1 715.2h1.8M372.6 690.6h1.8M276.1 734.4h1.8M262.2 752.3h1.8M298.0 720.8h1.8M287.0 740.3h1.8M309.1 715.3h1.8M285.2 730.2h1.8M325.3 691.5h1.8M285.8 724.3h1.8M259.7 738.6h1.8M365.7 695.5h1.8M358.6 704.6h1.8M289.6 737.0h1.8M285.6 726.9h1.8M399.4 661.7h1.8M263.6 747.9h1.8M292.7 717.8h1.8M288.7 737.8h1.8M261.6 744.2h1.8M369.8 735.3h1.8M287.8 746.1h1.8M290.7 734.9h1.8M291.2 731.3h1.8M321.9 721.6h1.8M290.4 728.4h1.8M274.7 752.8h1.8M343.8 705.1h1.8M300.4 714.5h1.8M262.8 737.8h1.8M297.8 719.5h1.8M282.1 731.6h1.8M287.2 726.7h1.8M282.2 749.2h1.8M312.7 712.7h1.8M280.3 749.9h1.8M285.9 739.1h1.8M332.7 703.1h1.8M287.8 744.8h1.8M346.2 710.4h1.8M300.0 731.1h1.8M293.0 721.2h1.8M264.1 730.3h1.8M382.9 675.2h1.8M299.3 725.7h1.8M388.9 653.7h1.8M378.6 669.2h1.8M356.0 707.6h1.8M327.8 693.4h1.8M260.6 736.5h1.8M301.5 742.5h1.8M308.2 711.3h1.8M270.4 749.2h1.8M291.5 718.0h1.8M292.3 740.2h1.8M261.0 741.7h1.8M294.1 746.4h1.8M261.5 749.7h1.8M278.4 738.2h1.8M281.5 747.1h1.8M265.1 743.1h1.8M349.9 688.7h1.8M329.5 697.2h1.8M281.5 740.2h1.8M292.2 733.4h1.8M285.7 721.0h1.8M349.5 721.3h1.8M312.3 718.6h1.8M288.5 726.4h1.8M368.6 674.8h1.8M292.3 733.3h1.8M290.3 739.7h1.8M307.5 717.1h1.8M290.3 702.2h1.8M290.7 727.5h1.8M295.9 709.0h1.8M273.6 752.6h1.8M354.4 699.7h1.8M305.4 731.6h1.8M274.1 743.4h1.8M376.6 693.1h1.8M342.5 736.7h1.8M278.2 718.4h1.8M305.3 715.2h1.8M322.1 721.7h1.8M286.7 722.9h1.8M279.6 747.8h1.8M345.9 692.2h1.8M331.2 683.9h1.8M385.6 674.9h1.8M280.8 742.5h1.8M335.8 685.1h1.8M322.8 712.7h1.8M336.1 705.8h1.8M309.4 742.0h1.8M296.3 742.3h1.8M298.4 726.6h1.8M261.8 745.6h1.8M314.6 736.0h1.8M271.2 740.5h1.8M287.7 743.7h1.8M371.7 683.8h1.8M357.1 722.9h1.8M295.4 714.5h1.8M358.2 674.2h1.8M340.1 714.8h1.8M259.7 739.2h1.8M276.5 750.2h1.8M327.9 731.6h1.8M283.8 738.2h1.8M305.4 719.3h1.8M357.9 715.0h1.8M300.8 725.0h1.8M275.1 729.9h1.8M368.0 675.2h1.8M302.8 732.6h1.8M304.2 716.1h1.8M337.6 699.1h1.8M278.5 725.9h1.8M378.4 675.3h1.8M299.7 706.1h1.8M320.5 716.4h1.8M267.7 729.0h1.8M372.2 683.2h1.8M356.7 697.1h1.8M349.7 718.7h1.8M331.7 713.0h1.8M289.1 722.1h1.8M358.9 711.6h1.8M288.2 727.2h1.8M278.5 747.4h1.8M279.0 741.8h1.8M313.0 725.3h1.8M303.6 717.4h1.8M372.7 674.9h1.8M314.4 723.1h1.8M266.9 734.8h1.8M283.5 735.2h1.8M264.6 734.7h1.8M288.8 712.4h1.8M279.9 723.8h1.8M286.6 730.3h1.8M270.2 751.2h1.8M317.2 713.6h1.8M341.4 711.0h1.8M278.5 738.5h1.8M378.2 682.3h1.8M305.3 725.8h1.8M297.7 729.6h1.8M335.0 732.7h1.8M358.1 707.0h1.8M298.3 718.3h1.8M342.5 690.3h1.8M280.9 706.1h1.8M307.2 739.0h1.8M297.3 719.4h1.8M344.2 676.2h1.8M320.7 715.6h1.8M299.7 715.1h1.8M374.4 709.1h1.8M363.3 722.9h1.8M311.6 707.2h1.8M332.3 705.6h1.8M273.3 728.0h1.8M383.0 702.0h1.8M272.6 733.0h1.8M263.2 749.4h1.8M292.0 735.5h1.8M296.7 728.4h1.8M274.5 707.0h1.8M320.7 731.3h1.8M392.1 677.3h1.8M282.0 728.4h1.8M270.0 729.6h1.8M286.7 727.8h1.8M295.0 736.6h1.8M345.0 688.2h1.8M300.8 752.1h1.8M260.1 752.4h1.8M375.5 677.0h1.8M300.9 727.0h1.8M325.0 729.3h1.8M278.1 730.9h1.8M300.6 735.6h1.8M284.6 714.6h1.8M305.4 736.9h1.8M320.5 711.5h1.8M346.6 718.6h1.8M276.5 728.6h1.8M284.5 728.2h1.8M317.7 705.2h1.8M294.2 725.3h1.8M279.1 724.2h1.8M283.8 749.4h1.8M292.9 713.6h1.8M260.7 729.6h1.8M274.7 720.9h1.8M302.3 713.7h1.8M288.9 743.3h1.8M329.1 700.4h1.8M285.0 723.1h1.8M297.7 737.8h1.8M297.4 725.8h1.8M288.4 736.8h1.8M324.4 722.3h1.8M275.7 741.4h1.8M286.1 740.1h1.8M289.7 712.0h1.8M277.5 720.5h1.8M287.2 745.4h1.8M295.6 741.0h1.8M300.9 717.9h1.8M303.1 705.5h1.8M312.6 721.7h1.8M284.7 727.7h1.8M260.1 731.0h1.8M350.3 687.3h1.8M286.4 744.9h1.8M318.7 717.8h1.8M270.0 720.4h1.8M287.9 739.9h1.8M326.3 706.2h1.8M276.2 736.0h1.8M294.5 735.7h1.8M321.4 710.7h1.8M285.8 742.0h1.8M274.1 730.8h1.8M278.6 734.4h1.8M287.6 717.5h1.8M278.5 739.1h1.8M316.0 697.0h1.8M286.2 718.1h1.8M288.3 726.1h1.8M295.8 733.2h1.8M282.0 747.1h1.8M279.4 744.3h1.8M377.7 700.7h1.8M264.8 737.6h1.8M276.0 735.9h1.8M281.2 727.3h1.8M291.0 736.0h1.8M270.9 723.9h1.8M308.9 730.5h1.8M304.6 720.6h1.8M347.0 720.3h1.8M296.4 737.4h1.8M306.1 729.5h1.8M277.1 722.9h1.8M275.0 748.2h1.8M330.6 710.5h1.8M361.3 710.2h1.8M288.3 734.6h1.8M295.9 721.9h1.8M284.1 736.8h1.8M287.5 728.8h1.8M276.3 743.9h1.8M390.0 640.1h1.8M265.5 740.9h1.8M298.8 726.9h1.8M298.7 738.9h1.8M349.5 682.4h1.8M322.1 708.9h1.8M286.9 739.8h1.8M292.1 725.7h1.8M280.3 736.8h1.8M380.9 693.8h1.8M287.5 732.0h1.8M321.6 724.9h1.8M324.2 729.8h1.8M280.2 724.4h1.8M267.9 729.7h1.8M316.4 714.6h1.8M301.6 729.0h1.8M260.1 728.6h1.8M298.3 752.9h1.8M326.5 715.0h1.8M295.8 724.4h1.8M306.0 731.2h1.8M341.1 673.9h1.8M329.9 708.0h1.8M308.9 721.1h1.8M259.5 724.8h1.8M331.9 720.4h1.8M306.7 748.7h1.8M290.3 735.6h1.8M305.0 723.2h1.8M261.0 744.2h1.8M323.0 713.5h1.8M291.0 733.5h1.8M354.1 709.9h1.8M403.0 639.4h1.8M276.7 723.2h1.8M334.8 712.3h1.8M263.9 743.1h1.8M291.9 723.2h1.8M303.5 734.2h1.8M307.7 748.4h1.8M274.1 750.4h1.8M338.5 706.3h1.8M361.8 693.1h1.8M336.8 705.9h1.8M395.9 681.8h1.8M293.3 735.5h1.8M274.6 745.4h1.8M314.1 714.0h1.8M261.6 730.4h1.8M329.4 711.4h1.8M330.4 711.3h1.8M345.1 713.5h1.8M351.0 716.0h1.8M294.4 736.9h1.8M326.3 718.4h1.8M276.5 722.5h1.8M266.1 736.4h1.8M347.1 703.6h1.8M314.7 726.5h1.8M367.9 702.0h1.8M344.6 698.2h1.8M360.2 726.4h1.8M395.4 678.0h1.8M280.1 743.4h1.8M310.1 713.9h1.8M313.0 728.0h1.8M284.3 735.7h1.8M293.8 737.0h1.8M290.0 729.5h1.8M326.4 735.2h1.8M300.3 741.9h1.8M269.8 723.9h1.8M340.6 707.4h1.8M286.9 747.3h1.8M399.1 675.2h1.8M288.8 747.9h1.8M271.6 728.0h1.8M260.5 741.5h1.8M404.7 677.4h1.8M318.5 715.1h1.8M275.0 744.2h1.8M321.7 693.5h1.8M277.9 752.6h1.8M310.2 725.9h1.8M264.4 751.2h1.8M296.2 726.0h1.8M270.0 742.8h1.8M306.3 703.9h1.8M295.0 717.3h1.8M290.4 745.6h1.8M305.4 738.9h1.8M280.3 742.4h1.8M294.4 733.1h1.8M325.2 730.7h1.8M335.2 702.7h1.8M324.8 721.4h1.8M288.5 722.6h1.8M262.8 741.0h1.8M291.5 729.3h1.8M273.7 745.7h1.8M299.0 717.1h1.8M306.7 719.8h1.8M297.2 720.9h1.8M310.7 709.5h1.8M277.8 721.0h1.8M334.9 698.5h1.8M285.9 733.6h1.8M347.3 684.7h1.8M307.8 713.4h1.8M281.6 713.3h1.8M313.3 720.4h1.8M270.2 729.9h1.8M301.2 732.9h1.8M342.0 714.9h1.8M268.8 749.5h1.8M346.9 710.0h1.8M267.8 727.3h1.8M291.4 730.9h1.8M362.1 706.5h1.8M374.2 693.4h1.8M378.4 655.5h1.8M281.4 731.2h1.8M299.7 704.6h1.8M319.2 720.1h1.8M356.7 690.4h1.8M285.0 734.4h1.8M362.4 682.0h1.8M292.0 737.8h1.8M392.4 673.3h1.8M374.0 673.1h1.8M348.9 666.4h1.8M264.2 721.3h1.8M285.7 741.9h1.8M341.9 697.3h1.8M283.1 735.2h1.8M293.4 738.2h1.8M291.9 728.3h1.8M266.8 744.7h1.8M331.6 700.1h1.8M332.1 682.3h1.8M371.2 657.8h1.8M265.3 739.7h1.8M354.5 686.2h1.8M288.8 718.1h1.8M306.6 722.7h1.8M273.8 748.9h1.8M277.6 723.4h1.8M272.8 725.6h1.8M265.2 737.6h1.8M274.7 750.3h1.8M305.5 709.5h1.8M275.6 730.4h1.8M298.4 713.4h1.8M337.0 699.4h1.8M289.3 716.3h1.8M278.3 728.2h1.8M355.9 680.4h1.8M264.4 738.9h1.8M291.8 733.2h1.8M329.1 699.5h1.8M285.2 741.7h1.8M268.1 730.4h1.8M304.2 717.3h1.8M262.8 739.6h1.8M283.8 730.9h1.8M304.4 723.4h1.8M293.8 719.4h1.8M343.7 694.7h1.8M382.5 662.7h1.8M293.9 744.0h1.8M338.4 693.0h1.8M265.1 731.9h1.8M328.5 726.5h1.8M328.4 710.8h1.8M386.1 720.7h1.8M285.1 740.8h1.8M285.1 734.0h1.8M268.8 727.9h1.8M286.7 714.9h1.8M298.6 740.1h1.8M297.0 720.9h1.8M292.3 747.7h1.8M311.1 706.4h1.8M395.3 669.1h1.8M351.5 696.3h1.8M269.8 739.8h1.8M321.0 729.0h1.8M366.4 709.4h1.8M265.3 741.0h1.8M323.3 729.1h1.8M293.5 729.0h1.8M297.7 714.5h1.8M280.3 746.5h1.8M324.7 703.0h1.8M290.1 726.3h1.8M288.1 750.4h1.8M328.2 724.3h1.8M288.4 738.9h1.8M306.1 733.8h1.8M294.1 707.3h1.8M278.1 721.3h1.8M349.3 699.5h1.8M348.8 686.9h1.8M277.2 710.7h1.8M270.6 735.5h1.8M350.2 717.3h1.8M330.5 722.5h1.8M305.2 710.1h1.8M310.4 699.8h1.8M271.4 750.7h1.8M278.7 727.3h1.8M338.0 721.1h1.8M353.9 693.5h1.8M370.0 699.4h1.8M343.9 703.0h1.8M358.4 697.1h1.8M265.8 723.4h1.8M280.9 734.3h1.8M274.2 738.3h1.8M301.2 713.6h1.8M391.9 699.7h1.8M377.0 702.4h1.8M291.4 736.6h1.8M390.3 682.1h1.8M283.1 722.6h1.8M307.9 730.8h1.8M305.1 725.9h1.8M301.5 719.0h1.8M344.2 716.4h1.8M314.5 721.3h1.8M358.7 688.1h1.8M348.5 710.5h1.8M322.8 707.0h1.8M330.5 714.8h1.8M377.3 707.9h1.8M332.9 702.7h1.8M350.4 702.4h1.8M338.4 708.4h1.8M313.9 721.6h1.8M301.3 725.5h1.8M286.9 745.9h1.8M274.8 724.9h1.8M276.1 730.2h1.8M290.0 702.0h1.8M265.3 729.8h1.8M288.2 741.9h1.8M353.2 702.1h1.8M275.4 747.7h1.8M336.4 708.9h1.8M261.6 746.0h1.8M291.2 733.3h1.8M302.1 724.2h1.8M299.6 710.5h1.8M326.2 717.6h1.8M271.0 729.1h1.8M269.0 728.8h1.8M282.3 730.6h1.8M276.1 730.7h1.8M280.2 736.2h1.8M309.2 734.1h1.8M275.2 712.6h1.8M315.6 704.7h1.8M293.2 735.3h1.8M322.3 714.2h1.8M281.2 721.8h1.8M280.2 720.0h1.8M365.7 703.2h1.8M304.7 724.6h1.8M386.6 698.4h1.8M273.1 724.0h1.8M276.3 747.5h1.8M303.7 723.6h1.8M347.9 717.0h1.8M341.2 706.9h1.8M302.6 732.7h1.8M279.6 735.3h1.8M329.2 698.5h1.8M351.4 690.2h1.8M285.2 709.4h1.8M297.1 739.7h1.8M305.4 728.2h1.8M263.3 730.3h1.8M380.4 684.2h1.8M303.1 732.0h1.8M323.3 726.1h1.8M279.8 715.0h1.8M309.3 713.8h1.8M328.9 700.6h1.8M331.0 722.2h1.8M317.4 721.1h1.8M391.8 681.0h1.8M281.6 726.2h1.8M293.4 711.6h1.8M385.5 695.6h1.8M379.9 669.6h1.8M323.5 723.2h1.8M295.5 732.1h1.8M287.7 746.3h1.8M262.4 737.9h1.8M287.4 704.8h1.8M293.7 730.0h1.8M326.3 687.7h1.8M282.5 730.0h1.8M275.6 737.8h1.8M295.0 719.1h1.8M278.0 749.3h1.8M308.8 716.8h1.8M280.4 724.7h1.8M305.9 733.4h1.8M282.9 745.9h1.8M295.7 725.0h1.8M265.3 736.0h1.8M305.5 718.9h1.8M268.0 737.9h1.8M362.7 695.7h1.8M328.0 733.4h1.8M283.8 740.8h1.8M276.7 735.6h1.8M399.3 677.3h1.8M294.2 727.2h1.8M337.5 716.1h1.8M282.2 723.9h1.8M287.4 726.3h1.8M294.2 726.6h1.8M285.6 735.6h1.8M326.5 705.2h1.8M307.2 718.8h1.8M315.5 718.2h1.8M374.5 681.7h1.8M272.8 727.5h1.8M278.1 725.6h1.8M344.5 701.5h1.8M283.0 725.9h1.8M323.1 728.6h1.8M287.0 719.0h1.8M324.1 708.1h1.8M292.8 735.2h1.8M399.5 672.9h1.8M283.9 722.1h1.8M331.0 714.8h1.8M298.2 729.6h1.8M290.9 724.0h1.8M260.4 715.5h1.8M293.6 725.3h1.8M274.8 737.3h1.8M356.6 715.7h1.8M381.7 700.5h1.8M296.5 729.2h1.8M274.2 744.7h1.8M280.5 722.0h1.8M332.8 707.9h1.8M335.4 708.2h1.8M304.7 711.4h1.8M259.4 749.8h1.8M330.1 714.5h1.8M288.0 722.8h1.8M289.8 726.9h1.8M318.7 699.4h1.8M290.3 735.4h1.8M304.6 720.5h1.8M331.8 718.8h1.8M307.2 705.4h1.8M366.5 700.1h1.8M270.9 720.9h1.8M280.1 730.4h1.8M274.7 746.2h1.8M290.6 722.2h1.8M285.5 722.3h1.8M317.6 724.8h1.8M307.5 733.5h1.8M303.8 730.1h1.8M338.4 685.8h1.8M303.9 705.0h1.8M279.0 723.6h1.8M306.9 712.7h1.8M278.8 737.1h1.8M280.7 741.3h1.8M329.0 692.6h1.8M350.0 705.3h1.8M353.5 698.4h1.8M306.0 739.9h1.8M334.3 682.6h1.8M329.5 702.9h1.8M276.5 738.2h1.8M262.9 729.5h1.8M349.8 714.3h1.8M311.5 751.3h1.8M278.9 745.9h1.8M359.2 695.4h1.8M292.6 732.8h1.8M284.4 730.0h1.8M276.9 746.1h1.8M305.2 717.2h1.8M259.6 735.1h1.8M292.1 724.6h1.8M376.1 677.4h1.8M266.0 745.9h1.8M289.0 723.9h1.8M281.5 738.3h1.8M293.2 742.4h1.8M299.5 719.4h1.8M350.1 718.8h1.8M288.9 732.0h1.8M329.4 696.9h1.8M352.4 720.1h1.8M261.1 738.5h1.8M334.5 709.4h1.8M330.2 717.8h1.8M288.3 732.0h1.8M321.4 721.4h1.8M284.6 724.0h1.8M287.4 738.3h1.8M349.5 708.1h1.8M294.7 728.4h1.8M262.1 742.8h1.8M286.4 728.8h1.8M287.2 734.8h1.8M310.9 699.9h1.8M281.9 735.3h1.8M350.8 712.6h1.8M334.7 722.0h1.8M283.3 717.7h1.8M294.9 734.9h1.8M276.7 745.2h1.8M293.5 714.8h1.8M343.3 705.6h1.8M269.8 739.7h1.8M287.2 748.9h1.8M290.4 736.2h1.8M279.6 710.1h1.8M273.8 718.5h1.8M347.7 717.1h1.8M316.2 717.1h1.8M303.5 733.4h1.8M341.2 713.4h1.8M317.7 717.0h1.8M294.0 719.5h1.8M281.2 731.0h1.8M315.2 709.1h1.8M381.4 667.1h1.8M355.0 683.4h1.8M288.9 729.9h1.8M277.7 751.7h1.8M261.1 729.4h1.8M341.9 683.3h1.8M305.8 727.9h1.8M385.8 689.3h1.8M276.7 724.1h1.8M292.7 739.1h1.8M322.4 700.9h1.8M311.8 718.5h1.8M265.5 751.1h1.8M282.4 747.9h1.8M266.3 752.8h1.8M382.5 740.1h1.8M331.0 698.6h1.8M278.7 747.3h1.8M276.1 726.8h1.8M297.2 717.4h1.8M300.3 736.4h1.8M263.2 747.7h1.8M290.8 724.0h1.8M364.1 696.7h1.8M315.8 702.6h1.8M328.8 680.5h1.8M286.5 738.2h1.8M275.1 726.8h1.8M318.0 723.3h1.8M279.6 722.4h1.8M318.9 708.4h1.8M276.2 723.7h1.8M322.6 688.4h1.8M340.2 705.9h1.8M282.9 742.2h1.8M318.7 701.5h1.8M344.8 719.1h1.8M283.6 722.8h1.8M317.8 692.7h1.8M276.6 728.9h1.8M326.3 695.6h1.8M288.6 739.3h1.8M298.6 730.3h1.8M359.0 691.3h1.8M282.7 752.9h1.8M260.0 743.3h1.8M285.2 725.2h1.8M276.4 734.4h1.8M262.6 745.8h1.8M287.1 718.9h1.8M321.0 713.3h1.8M304.3 728.8h1.8M313.2 724.7h1.8M334.8 695.4h1.8M329.9 721.6h1.8M290.7 736.4h1.8M284.2 740.5h1.8M291.9 742.5h1.8M361.2 684.4h1.8M281.8 736.0h1.8M274.2 748.0h1.8M275.9 738.3h1.8M315.1 725.5h1.8M326.6 702.5h1.8M320.9 719.8h1.8M277.8 736.2h1.8M274.5 732.5h1.8M300.7 741.1h1.8M286.6 729.3h1.8M338.8 703.1h1.8M322.4 707.8h1.8M381.8 689.6h1.8M300.0 729.6h1.8M265.4 726.5h1.8M282.7 722.6h1.8M333.2 702.4h1.8M297.3 714.0h1.8M331.1 710.3h1.8M286.7 707.1h1.8M333.1 715.4h1.8M352.3 707.5h1.8M293.0 723.6h1.8M345.0 701.5h1.8M327.6 701.5h1.8M296.3 722.2h1.8M331.6 752.3h1.8M286.7 746.2h1.8M311.7 703.9h1.8M283.3 742.1h1.8M291.8 733.8h1.8M300.9 720.7h1.8M325.7 696.7h1.8M274.8 742.4h1.8M270.6 751.3h1.8M273.5 738.8h1.8M285.8 721.9h1.8M287.3 722.8h1.8M351.6 674.8h1.8M279.5 714.1h1.8M279.0 735.5h1.8M338.0 708.1h1.8M301.7 725.4h1.8M298.9 731.3h1.8M371.9 697.6h1.8M356.9 686.0h1.8M346.2 694.9h1.8M284.0 741.4h1.8M298.8 716.4h1.8M301.3 722.1h1.8M327.0 715.2h1.8M296.3 717.7h1.8M304.2 725.7h1.8M340.8 719.2h1.8M332.3 699.3h1.8M297.2 722.3h1.8M306.6 710.6h1.8M292.5 735.7h1.8M384.8 685.5h1.8M277.2 740.4h1.8M301.9 722.0h1.8M274.6 731.5h1.8M301.9 709.0h1.8M316.9 725.2h1.8M261.1 738.5h1.8M305.1 702.9h1.8M284.7 742.2h1.8M286.5 733.6h1.8M261.0 730.5h1.8M376.2 697.9h1.8M295.7 729.4h1.8M334.3 703.2h1.8M314.5 717.8h1.8M297.7 731.2h1.8M315.0 732.5h1.8M266.7 744.2h1.8M302.0 750.2h1.8M288.4 739.6h1.8M311.8 714.5h1.8M332.3 708.8h1.8M354.7 646.0h1.8M351.6 694.8h1.8M277.6 741.7h1.8M292.0 723.4h1.8M334.0 712.3h1.8M268.4 750.0h1.8M350.2 680.6h1.8M287.2 730.8h1.8M334.7 698.4h1.8M316.1 734.8h1.8M349.0 698.5h1.8M398.2 690.5h1.8M369.6 700.6h1.8M269.7 741.7h1.8M399.5 645.5h1.8M301.0 726.4h1.8M261.4 732.7h1.8M303.1 734.6h1.8M278.0 735.8h1.8M281.3 734.5h1.8M308.6 712.4h1.8M277.5 728.0h1.8M294.1 698.6h1.8M274.3 744.5h1.8M285.3 738.7h1.8M276.9 744.8h1.8M313.9 729.9h1.8M279.2 741.5h1.8M297.3 739.5h1.8M409.7 672.3h1.8M274.1 748.5h1.8M286.7 747.0h1.8M298.4 702.0h1.8M287.2 727.4h1.8M282.5 738.1h1.8M288.0 749.3h1.8M260.6 729.6h1.8M292.8 724.6h1.8M261.6 741.1h1.8M291.7 743.7h1.8M297.3 723.6h1.8M302.1 725.7h1.8M269.8 727.2h1.8M317.9 736.8h1.8M273.0 722.7h1.8M259.9 744.8h1.8M365.5 677.2h1.8M285.5 709.4h1.8M322.9 701.6h1.8M310.7 734.4h1.8M318.5 706.6h1.8M285.0 743.9h1.8M298.9 705.3h1.8M287.5 737.7h1.8M266.1 725.5h1.8M308.4 742.2h1.8M313.5 736.1h1.8M261.7 730.2h1.8M288.5 728.6h1.8M295.8 733.1h1.8M315.6 750.9h1.8M358.4 679.1h1.8M393.2 655.6h1.8M299.7 725.6h1.8M292.0 726.7h1.8M364.3 728.9h1.8M325.6 721.5h1.8M296.6 735.6h1.8M336.8 697.5h1.8M295.4 724.3h1.8M295.3 727.4h1.8M394.6 629.8h1.8M267.9 740.2h1.8M273.0 733.9h1.8M281.1 735.0h1.8M351.9 718.7h1.8M358.3 698.3h1.8M280.6 743.7h1.8M362.2 688.7h1.8M291.9 725.8h1.8M354.8 698.3h1.8M288.4 732.1h1.8M331.5 706.0h1.8M283.6 716.7h1.8M277.6 730.9h1.8M348.5 730.6h1.8M279.2 746.4h1.8M276.9 737.2h1.8M300.8 714.5h1.8M306.3 727.8h1.8M276.3 741.3h1.8M293.6 734.6h1.8M315.5 712.8h1.8M292.1 727.9h1.8M278.2 725.1h1.8M292.1 715.8h1.8M348.6 692.3h1.8M290.2 742.8h1.8M297.1 748.7h1.8M339.9 717.0h1.8M289.4 703.1h1.8M279.6 744.4h1.8M335.1 689.7h1.8M277.3 744.0h1.8M347.1 708.9h1.8M278.9 745.8h1.8M303.7 732.8h1.8M299.4 743.9h1.8M283.0 728.7h1.8M314.4 724.1h1.8M278.7 732.8h1.8M351.2 693.4h1.8M302.1 736.9h1.8M312.7 723.3h1.8M324.7 705.6h1.8M376.5 660.9h1.8M307.0 718.1h1.8M266.2 731.6h1.8M275.2 740.7h1.8M285.0 724.3h1.8M334.0 711.7h1.8M303.4 735.8h1.8M354.5 677.7h1.8M305.6 720.4h1.8M311.3 714.1h1.8M297.9 733.0h1.8M366.1 707.0h1.8M277.0 729.2h1.8M319.7 723.6h1.8M287.4 731.6h1.8M301.3 718.9h1.8M292.6 752.7h1.8M271.4 721.9h1.8M377.7 716.4h1.8M289.9 715.4h1.8M279.0 741.5h1.8M277.1 726.8h1.8M260.7 742.4h1.8M346.3 698.0h1.8M291.8 717.8h1.8M326.9 710.4h1.8M276.9 739.9h1.8M291.2 715.7h1.8M366.0 719.6h1.8M297.3 721.1h1.8M298.9 733.6h1.8M263.8 747.8h1.8M281.0 717.8h1.8M380.0 712.1h1.8M289.7 734.1h1.8M277.1 717.8h1.8M271.6 731.3h1.8M262.2 746.1h1.8M282.5 749.4h1.8M288.6 723.8h1.8M302.5 724.7h1.8M331.5 706.8h1.8M276.5 735.7h1.8M309.7 705.2h1.8M280.4 737.2h1.8M286.7 710.4h1.8M296.4 710.0h1.8M266.1 732.5h1.8M297.0 743.3h1.8M280.8 751.8h1.8M278.8 751.0h1.8M319.9 728.9h1.8M276.1 726.2h1.8M283.8 743.5h1.8M274.6 748.6h1.8M318.0 706.2h1.8M302.2 697.2h1.8M274.5 745.6h1.8M264.7 729.9h1.8M326.3 710.6h1.8M390.1 724.5h1.8M274.8 739.0h1.8M315.6 719.8h1.8M279.5 743.3h1.8M293.6 710.0h1.8M274.1 742.6h1.8M293.3 744.6h1.8M303.2 722.3h1.8M366.9 687.9h1.8M280.9 726.0h1.8M261.4 736.4h1.8M287.0 721.9h1.8M271.3 743.4h1.8M290.6 725.7h1.8M270.3 746.3h1.8M306.9 705.0h1.8M278.4 739.0h1.8M302.4 723.1h1.8M292.4 720.0h1.8M315.2 740.3h1.8M279.1 745.5h1.8M265.8 744.0h1.8M291.4 733.0h1.8M263.1 724.1h1.8M280.4 726.1h1.8M299.6 716.2h1.8M292.3 718.7h1.8M259.8 739.6h1.8M325.5 709.2h1.8M320.3 707.1h1.8M337.7 736.2h1.8M273.1 736.6h1.8M316.6 743.0h1.8M341.4 715.0h1.8M329.2 695.3h1.8M293.9 720.7h1.8M343.2 700.6h1.8M366.7 696.3h1.8M302.2 713.3h1.8M352.3 712.6h1.8M285.7 744.2h1.8M356.0 715.4h1.8M295.2 711.2h1.8M288.2 744.1h1.8M295.9 724.8h1.8M313.5 707.8h1.8M367.0 708.4h1.8M337.3 720.4h1.8M264.1 729.2h1.8M287.7 714.9h1.8M339.0 701.5h1.8M354.4 702.3h1.8M283.7 725.6h1.8M294.6 719.0h1.8M298.2 749.0h1.8M274.5 732.1h1.8M295.0 735.3h1.8M286.8 722.2h1.8M291.9 704.6h1.8M295.8 725.2h1.8M291.2 744.5h1.8M279.9 721.8h1.8M309.8 698.7h1.8M292.2 728.8h1.8M268.2 741.9h1.8M272.9 751.2h1.8M287.4 736.7h1.8M287.1 733.0h1.8M263.3 719.0h1.8M271.4 735.4h1.8M331.6 717.5h1.8M335.3 723.3h1.8M300.2 725.6h1.8M369.0 692.4h1.8M328.0 713.1h1.8M394.1 679.6h1.8M288.4 709.3h1.8M352.2 709.5h1.8M326.6 688.3h1.8M293.7 730.1h1.8M316.2 717.2h1.8M270.3 748.9h1.8M261.7 732.8h1.8M270.0 745.6h1.8M278.8 735.9h1.8M288.4 727.9h1.8M302.2 699.6h1.8M366.4 707.8h1.8M284.3 746.1h1.8M319.2 709.7h1.8M302.0 703.3h1.8M262.5 729.9h1.8M282.1 724.5h1.8M286.1 729.1h1.8M289.8 735.1h1.8M316.2 706.8h1.8M278.2 744.6h1.8M352.0 693.2h1.8M293.5 710.4h1.8M269.4 730.9h1.8M321.1 700.7h1.8M269.6 732.4h1.8M320.5 716.1h1.8M301.4 713.5h1.8M289.7 718.0h1.8M291.7 714.5h1.8M338.3 698.7h1.8M269.9 736.7h1.8M356.4 699.0h1.8M300.5 718.3h1.8M273.1 725.3h1.8M280.6 740.3h1.8M279.1 743.5h1.8M279.0 727.9h1.8M377.4 671.0h1.8M291.7 702.1h1.8M322.0 692.6h1.8M273.3 741.0h1.8M287.0 728.2h1.8M292.0 730.2h1.8M262.2 737.5h1.8M277.6 720.3h1.8M299.6 702.2h1.8M274.2 733.3h1.8M293.4 735.6h1.8M363.4 699.5h1.8M348.4 724.1h1.8M275.5 731.4h1.8M288.2 731.3h1.8M306.9 747.6h1.8M348.3 713.0h1.8M393.7 674.4h1.8M376.4 689.0h1.8M350.8 726.9h1.8M268.2 733.2h1.8M297.7 697.2h1.8M305.8 707.8h1.8M328.3 716.8h1.8M333.0 713.1h1.8M296.8 710.2h1.8M302.9 718.4h1.8M328.2 719.1h1.8M392.0 679.3h1.8M287.7 722.5h1.8M273.1 731.6h1.8M300.9 719.2h1.8M300.1 696.9h1.8M333.9 720.6h1.8M341.2 688.2h1.8M288.2 723.0h1.8M274.8 722.6h1.8M361.1 718.4h1.8M297.4 706.7h1.8M370.8 662.9h1.8M259.4 742.9h1.8M335.7 702.5h1.8M329.2 705.4h1.8M302.1 692.7h1.8M316.0 720.8h1.8M349.4 686.7h1.8M325.6 701.6h1.8M336.6 696.4h1.8M318.4 712.1h1.8M292.9 751.7h1.8M266.1 732.5h1.8M310.0 718.7h1.8M279.0 718.1h1.8M293.2 704.9h1.8M310.9 720.8h1.8M301.8 713.9h1.8M281.7 728.5h1.8M298.4 705.8h1.8M402.9 672.1h1.8M324.1 696.7h1.8M344.3 684.8h1.8M358.1 695.8h1.8M288.4 738.5h1.8M300.5 719.7h1.8M343.8 686.9h1.8M283.8 745.9h1.8M302.0 729.3h1.8M289.0 734.9h1.8M299.2 717.1h1.8M322.9 713.5h1.8M367.7 695.3h1.8M264.9 748.6h1.8M260.9 747.1h1.8M285.3 726.0h1.8M274.8 734.1h1.8M329.8 700.4h1.8M349.5 688.6h1.8M266.8 727.0h1.8M353.6 703.3h1.8M314.7 739.4h1.8M294.5 720.4h1.8M297.6 731.4h1.8M367.4 694.8h1.8M288.5 711.6h1.8M320.1 720.2h1.8M332.2 713.5h1.8M307.7 695.9h1.8M357.7 721.6h1.8M300.9 709.4h1.8M300.8 698.6h1.8M294.7 743.4h1.8M275.1 747.6h1.8M283.6 723.8h1.8M367.2 694.5h1.8M361.0 707.8h1.8M295.1 725.6h1.8M275.1 747.2h1.8M298.2 722.8h1.8M271.8 738.7h1.8M380.5 681.2h1.8M306.8 713.6h1.8M346.7 693.9h1.8M279.3 717.9h1.8M293.1 740.8h1.8M353.0 710.7h1.8M290.4 728.7h1.8M368.7 682.2h1.8M298.8 721.9h1.8M284.8 727.5h1.8M367.2 693.8h1.8M279.3 733.4h1.8M401.5 651.6h1.8M271.2 734.8h1.8M286.6 734.6h1.8M313.1 729.2h1.8M272.2 728.8h1.8M304.8 732.3h1.8M314.6 712.7h1.8M284.7 739.2h1.8M287.5 726.6h1.8M319.8 729.5h1.8M326.0 714.5h1.8M365.1 717.1h1.8M260.7 734.8h1.8M299.2 735.0h1.8M361.0 679.3h1.8M282.2 725.2h1.8M282.8 729.9h1.8M363.0 674.1h1.8M272.7 730.7h1.8M339.2 682.7h1.8M277.5 717.6h1.8M342.9 692.3h1.8M344.1 698.2h1.8M288.3 708.2h1.8M321.9 726.1h1.8M302.7 719.5h1.8M293.7 727.5h1.8M267.2 747.3h1.8M274.3 716.8h1.8M320.0 715.3h1.8M368.4 691.4h1.8M307.7 719.6h1.8M308.7 743.2h1.8M324.8 718.6h1.8M326.5 707.3h1.8M315.8 739.6h1.8M302.6 726.6h1.8M284.4 732.5h1.8M262.4 742.9h1.8M268.7 728.1h1.8M360.5 713.4h1.8M361.9 685.0h1.8M270.4 709.8h1.8M360.7 697.2h1.8M270.5 714.4h1.8M339.2 745.8h1.8M286.6 737.2h1.8M270.3 747.4h1.8M276.8 741.1h1.8M372.5 714.4h1.8M298.1 717.7h1.8M319.3 700.8h1.8M313.3 700.1h1.8M275.4 745.8h1.8M299.5 724.0h1.8M315.6 723.0h1.8M261.2 741.5h1.8M299.1 715.9h1.8M306.2 727.4h1.8M334.4 706.3h1.8M284.5 734.9h1.8M279.2 716.3h1.8M289.6 715.3h1.8M354.9 687.4h1.8M317.4 696.2h1.8M308.5 746.0h1.8M260.8 730.8h1.8M320.0 705.9h1.8M315.8 712.5h1.8M348.1 694.3h1.8M297.8 708.5h1.8M274.0 748.0h1.8M275.2 740.3h1.8M384.8 667.2h1.8M366.6 700.6h1.8M352.8 699.8h1.8M385.0 669.9h1.8M282.5 721.5h1.8M285.7 734.7h1.8M299.6 744.7h1.8M268.4 737.1h1.8M266.7 739.3h1.8M281.4 733.0h1.8M312.2 709.8h1.8M310.3 731.4h1.8M359.7 696.5h1.8M317.5 697.7h1.8M264.9 751.5h1.8M263.1 747.8h1.8M277.4 736.9h1.8M290.3 718.8h1.8M286.5 739.7h1.8M282.4 734.3h1.8M262.1 743.8h1.8M284.3 746.9h1.8M273.3 710.6h1.8M318.2 687.5h1.8M259.5 744.7h1.8M267.3 726.9h1.8M338.5 694.9h1.8M273.5 728.2h1.8M283.1 732.5h1.8M277.1 735.2h1.8M274.6 746.9h1.8M368.2 670.8h1.8M290.6 717.6h1.8M276.1 746.5h1.8M261.2 752.6h1.8M301.3 720.0h1.8M266.5 751.1h1.8M275.1 735.3h1.8M298.5 707.6h1.8M361.4 702.6h1.8M281.7 739.7h1.8M261.5 742.0h1.8M277.8 726.9h1.8M284.5 747.7h1.8M307.6 743.4h1.8M331.9 699.5h1.8M312.7 733.2h1.8M285.8 721.4h1.8M328.7 727.8h1.8M278.9 718.7h1.8M317.1 724.0h1.8M300.8 739.1h1.8M292.9 731.1h1.8M377.2 656.1h1.8M269.6 735.6h1.8M344.1 694.6h1.8M280.0 717.0h1.8M317.9 715.0h1.8M261.6 749.6h1.8M297.3 720.6h1.8M284.1 738.1h1.8M312.1 698.4h1.8M280.7 729.8h1.8M295.3 739.2h1.8M265.5 725.0h1.8M327.7 696.7h1.8M364.6 727.5h1.8M282.1 719.6h1.8M321.2 709.9h1.8M306.6 716.7h1.8M294.1 743.1h1.8M275.8 725.5h1.8M301.3 706.6h1.8M282.7 745.9h1.8M281.1 744.1h1.8M271.3 705.4h1.8M361.3 688.4h1.8M266.9 736.2h1.8M278.5 720.0h1.8M277.0 731.5h1.8M303.2 738.4h1.8M287.7 717.6h1.8M274.1 733.1h1.8M278.8 733.4h1.8M286.7 732.7h1.8M290.3 712.0h1.8M279.3 729.5h1.8M289.7 729.5h1.8M299.4 737.8h1.8M347.4 695.5h1.8M293.1 732.9h1.8M275.8 733.8h1.8M291.7 734.1h1.8M363.3 688.9h1.8M300.6 738.7h1.8M301.8 743.8h1.8M309.0 738.7h1.8M262.2 748.0h1.8M367.0 690.3h1.8M319.6 719.9h1.8M374.6 679.7h1.8M268.2 745.1h1.8M331.7 739.9h1.8M305.6 734.2h1.8M276.5 746.1h1.8M311.0 731.4h1.8M301.7 734.4h1.8M292.4 734.2h1.8M282.0 726.9h1.8M295.2 732.7h1.8M281.9 729.9h1.8M279.8 720.6h1.8M315.4 720.4h1.8M264.5 742.0h1.8M280.5 747.8h1.8M300.7 706.1h1.8M376.4 698.1h1.8M268.1 736.5h1.8M275.8 728.5h1.8M267.3 729.8h1.8M285.9 722.8h1.8M337.1 705.5h1.8M324.3 710.0h1.8M289.8 726.5h1.8M285.4 719.3h1.8M366.1 691.7h1.8M293.3 746.9h1.8M342.9 712.8h1.8M286.6 748.7h1.8M303.1 738.3h1.8M300.8 742.5h1.8M328.0 708.7h1.8M315.7 735.1h1.8M297.2 711.9h1.8M275.8 726.2h1.8M332.3 717.8h1.8M279.3 737.2h1.8M268.7 742.6h1.8M333.3 704.2h1.8M283.0 722.2h1.8M299.0 736.7h1.8M317.4 728.9h1.8" fill="none" stroke="#4a4a4a" stroke-width="1.8"/>
<path d="M260.3 753.2L291.9 753.2L304.1 750.4L318.6 743.1L328.4 736.0L333.2 722.0L328.4 703.2L313.8 705.6L289.5 714.2L274.9 721.2L260.3 728.2Z" fill="#ee3c3c"/>
<path d="M310.1 710.3h1.8M274.0 741.2h1.8M341.6 697.4h1.8M326.7 702.9h1.8M381.8 694.8h1.8M278.5 753.0h1.8M278.9 725.3h1.8M305.6 719.9h1.8M322.6 721.5h1.8M349.9 698.5h1.8M277.8 735.9h1.8M351.1 696.3h1.8M351.2 692.8h1.8M389.0 682.2h1.8M283.4 730.2h1.8M381.6 694.9h1.8M266.5 738.2h1.8M280.0 732.3h1.8M332.1 699.4h1.8M276.4 727.0h1.8M343.3 711.2h1.8M352.6 678.3h1.8M302.6 721.7h1.8M283.7 720.0h1.8M281.1 733.0h1.8M379.7 670.8h1.8M355.1 695.8h1.8M279.6 729.8h1.8M373.3 680.4h1.8M295.5 705.9h1.8M301.1 723.0h1.8M314.4 702.8h1.8M288.0 724.6h1.8M316.5 713.8h1.8M275.6 729.6h1.8M264.0 741.0h1.8M269.7 750.1h1.8M326.4 696.0h1.8M260.0 726.5h1.8M261.0 741.2h1.8M331.9 740.4h1.8M332.8 673.5h1.8M328.1 705.2h1.8M362.7 718.5h1.8M341.1 696.1h1.8M312.8 727.9h1.8M283.9 714.5h1.8M332.5 709.9h1.8M349.5 671.7h1.8M301.5 716.1h1.8M303.3 738.6h1.8M268.6 751.5h1.8M272.8 727.5h1.8M286.5 738.1h1.8M296.4 719.4h1.8M312.8 738.3h1.8M277.0 727.0h1.8M281.9 747.3h1.8M281.8 731.2h1.8M285.4 722.8h1.8M298.6 723.2h1.8M287.4 729.6h1.8M341.3 699.3h1.8M293.7 727.0h1.8M260.2 749.3h1.8M344.0 711.9h1.8M275.3 746.1h1.8M329.5 709.5h1.8M288.2 733.6h1.8M292.7 738.2h1.8M266.1 728.9h1.8M317.9 722.4h1.8M311.2 707.0h1.8M321.1 726.5h1.8M345.9 713.3h1.8M389.1 697.0h1.8M341.2 714.8h1.8M265.8 724.9h1.8M337.6 709.1h1.8M292.1 728.1h1.8M340.7 701.4h1.8M349.8 696.1h1.8M302.8 719.5h1.8M283.1 733.7h1.8M306.0 715.1h1.8M350.8 711.8h1.8M351.9 687.0h1.8M307.4 723.3h1.8M261.5 733.5h1.8M310.5 721.7h1.8M264.5 749.5h1.8M281.3 735.6h1.8M274.2 729.7h1.8M274.6 753.0h1.8M269.5 738.7h1.8M325.8 714.4h1.8M317.2 704.0h1.8M279.6 725.8h1.8M297.0 732.6h1.8M265.0 735.4h1.8M306.8 713.7h1.8M333.4 719.9h1.8M285.5 739.2h1.8M359.6 673.3h1.8M331.3 709.9h1.8M341.1 700.3h1.8M325.6 705.8h1.8M383.3 684.0h1.8M336.0 723.1h1.8M261.8 743.1h1.8M305.1 726.8h1.8M349.9 703.3h1.8M266.8 722.0h1.8M286.5 722.9h1.8M296.3 727.5h1.8M273.7 737.8h1.8M293.9 725.6h1.8M297.2 720.8h1.8M353.9 706.5h1.8M390.3 690.5h1.8M365.2 694.2h1.8M361.7 714.5h1.8M337.4 705.7h1.8M270.2 747.0h1.8M270.8 745.8h1.8M323.0 724.1h1.8M311.2 728.4h1.8M327.7 713.4h1.8M261.1 752.7h1.8M263.3 750.7h1.8M267.0 740.3h1.8M382.8 659.6h1.8M319.4 713.9h1.8M262.8 745.2h1.8M275.9 731.3h1.8M300.1 715.2h1.8M314.5 722.9h1.8M282.5 727.6h1.8M260.5 743.3h1.8M292.4 725.5h1.8M263.2 705.9h1.8M296.3 727.8h1.8M279.0 752.7h1.8M345.6 706.5h1.8M283.1 743.2h1.8M269.1 737.7h1.8M298.9 726.0h1.8M306.9 709.0h1.8M332.4 708.8h1.8M317.8 711.3h1.8M325.5 724.6h1.8M274.5 741.1h1.8M366.4 688.6h1.8M295.9 728.3h1.8M279.1 731.3h1.8M318.6 713.9h1.8M276.2 743.5h1.8M262.2 731.7h1.8M337.7 704.1h1.8M290.4 720.1h1.8M286.3 744.8h1.8M290.4 733.5h1.8M265.4 732.0h1.8M283.9 726.7h1.8M265.3 742.8h1.8M326.8 715.3h1.8M270.9 739.6h1.8M311.2 728.2h1.8M365.8 712.0h1.8M293.3 721.6h1.8M279.4 739.5h1.8M292.2 721.8h1.8M342.2 723.7h1.8M290.0 733.5h1.8M261.1 752.9h1.8M321.1 715.7h1.8M279.4 732.8h1.8M362.2 703.5h1.8M270.7 738.8h1.8M337.1 721.8h1.8M292.8 740.2h1.8M307.6 700.0h1.8M366.2 710.9h1.8M343.7 693.3h1.8M379.2 695.9h1.8M295.5 735.1h1.8M289.1 721.3h1.8M295.8 727.0h1.8M263.9 743.1h1.8M273.6 729.9h1.8M312.9 716.2h1.8M276.8 736.8h1.8M314.2 716.8h1.8M289.9 723.8h1.8M345.7 711.0h1.8M287.9 729.4h1.8M301.7 723.2h1.8M291.9 725.6h1.8M281.7 720.8h1.8M275.9 736.8h1.8M329.4 715.2h1.8M280.4 736.9h1.8M319.3 707.7h1.8M290.6 729.6h1.8M351.0 698.3h1.8M266.9 743.3h1.8M378.3 706.9h1.8M295.0 736.1h1.8M293.6 724.7h1.8M293.9 716.7h1.8M265.2 744.2h1.8M325.8 701.8h1.8M299.5 708.0h1.8M271.7 741.2h1.8M310.6 720.8h1.8M275.9 735.7h1.8M291.1 736.0h1.8M323.1 715.6h1.8M332.0 721.0h1.8M286.9 712.4h1.8M262.8 732.3h1.8M272.8 730.6h1.8M266.4 739.9h1.8M265.0 736.6h1.8M304.8 731.8h1.8M286.9 742.6h1.8M272.7 744.8h1.8M315.8 752.8h1.8M321.1 707.0h1.8M347.1 695.7h1.8M290.4 720.0h1.8M270.5 744.5h1.8M305.3 725.8h1.8M318.1 733.9h1.8M266.4 751.5h1.8M289.7 735.7h1.8M301.7 710.7h1.8M310.2 704.3h1.8M396.8 671.7h1.8M283.0 743.2h1.8M311.7 716.0h1.8M259.9 748.0h1.8M373.0 695.2h1.8M291.6 734.9h1.8M260.6 740.5h1.8M311.2 709.1h1.8M280.8 740.6h1.8M285.5 734.7h1.8M314.8 727.2h1.8M336.0 705.4h1.8M399.1 664.7h1.8M310.8 735.2h1.8M306.2 740.0h1.8M288.2 722.3h1.8M314.5 717.5h1.8M262.3 749.2h1.8M293.1 714.9h1.8M284.6 727.6h1.8M264.6 723.7h1.8M295.5 739.1h1.8M334.3 728.4h1.8M269.0 746.4h1.8M259.4 743.6h1.8M297.3 718.2h1.8M289.2 734.1h1.8M284.7 733.2h1.8M387.4 691.0h1.8M361.7 693.9h1.8M289.0 735.1h1.8M275.5 735.3h1.8M358.0 692.0h1.8M362.5 693.2h1.8M269.9 745.3h1.8M265.6 752.4h1.8M273.7 735.9h1.8M322.5 699.4h1.8M277.8 741.2h1.8M319.7 675.0h1.8M297.4 746.6h1.8M282.6 734.7h1.8M266.1 743.6h1.8M308.8 705.0h1.8M393.4 666.9h1.8M370.0 688.6h1.8M279.8 739.1h1.8M305.3 728.9h1.8M325.4 736.7h1.8M272.4 740.3h1.8M297.4 723.5h1.8M302.4 739.4h1.8M303.4 710.8h1.8M356.4 694.5h1.8M259.6 752.1h1.8M342.5 703.8h1.8M311.2 735.4h1.8M269.0 746.6h1.8M317.4 723.8h1.8M293.2 728.9h1.8M272.0 743.5h1.8M273.2 751.8h1.8M384.3 671.2h1.8M270.7 736.0h1.8M262.4 741.5h1.8M283.8 714.2h1.8M259.9 730.3h1.8M279.9 734.5h1.8M299.5 716.9h1.8M316.1 724.1h1.8M320.9 706.2h1.8M313.7 714.9h1.8M292.7 723.2h1.8M288.4 737.2h1.8M272.3 736.1h1.8M298.1 719.4h1.8M354.3 693.0h1.8M289.8 721.1h1.8M264.2 742.2h1.8M281.2 725.0h1.8M299.6 734.6h1.8M260.9 732.8h1.8M265.8 735.6h1.8M263.6 746.6h1.8M262.5 730.6h1.8M295.7 716.8h1.8M287.3 731.5h1.8M265.0 728.4h1.8M293.9 741.0h1.8M288.1 718.7h1.8M259.8 750.6h1.8M283.8 740.3h1.8M276.7 740.3h1.8M278.3 746.5h1.8M273.9 739.2h1.8M303.2 721.0h1.8M272.8 742.4h1.8M266.6 739.7h1.8M271.2 749.3h1.8M261.1 749.1h1.8M264.2 743.8h1.8M300.3 722.7h1.8M261.2 752.5h1.8M323.3 696.4h1.8M316.6 707.8h1.8M338.1 709.2h1.8M294.4 733.4h1.8M291.6 724.9h1.8M262.7 749.1h1.8M271.2 738.6h1.8M324.9 712.7h1.8M278.7 734.3h1.8M308.8 728.9h1.8M287.1 738.6h1.8M285.2 734.4h1.8M347.0 718.2h1.8M302.6 731.5h1.8M307.2 724.6h1.8M286.3 726.5h1.8M260.7 734.7h1.8M268.2 753.0h1.8M295.7 722.0h1.8M266.8 752.3h1.8M329.8 711.2h1.8M336.2 696.7h1.8M328.5 726.7h1.8M342.9 696.9h1.8M274.0 726.1h1.8M373.5 683.5h1.8M318.6 716.6h1.8M394.2 661.4h1.8M268.0 735.9h1.8M268.7 740.3h1.8M290.8 727.1h1.8M349.6 703.2h1.8M389.3 670.4h1.8M308.6 718.8h1.8M299.4 729.7h1.8M268.8 740.1h1.8M283.2 731.0h1.8M301.7 732.7h1.8M297.2 720.7h1.8M264.2 752.2h1.8M294.8 723.8h1.8M263.8 752.8h1.8M372.9 695.1h1.8M297.7 718.4h1.8M263.7 752.9h1.8M271.0 738.2h1.8M265.2 748.0h1.8M278.4 729.3h1.8M343.2 721.3h1.8M392.3 656.8h1.8M279.6 722.0h1.8M280.8 732.5h1.8M344.6 693.0h1.8M289.0 733.3h1.8M270.0 721.4h1.8M333.8 723.3h1.8M262.9 745.6h1.8M260.1 751.5h1.8M377.2 688.0h1.8M285.9 731.1h1.8M381.0 691.6h1.8M328.4 707.5h1.8M286.0 725.0h1.8M394.7 669.2h1.8M276.4 726.3h1.8M353.0 708.2h1.8M294.2 735.0h1.8M323.0 722.1h1.8M311.6 714.5h1.8M283.3 743.4h1.8M271.3 734.6h1.8M333.0 715.3h1.8M355.3 681.8h1.8M302.6 721.6h1.8M347.9 681.5h1.8M398.2 655.1h1.8M343.9 695.2h1.8M354.9 695.5h1.8M279.8 727.7h1.8M278.9 729.5h1.8M363.8 715.1h1.8M271.2 736.4h1.8M348.7 699.7h1.8M292.3 721.0h1.8M302.5 733.7h1.8M357.2 698.4h1.8M260.6 748.5h1.8M318.4 718.1h1.8M269.4 728.2h1.8M269.5 724.6h1.8M275.0 723.3h1.8M332.7 714.6h1.8M283.5 726.7h1.8M294.3 737.5h1.8M328.1 708.0h1.8M282.7 727.9h1.8M298.8 730.4h1.8M333.8 725.5h1.8M282.3 738.5h1.8M283.4 736.8h1.8M269.7 750.4h1.8M295.4 735.8h1.8M308.6 705.9h1.8M266.2 745.7h1.8M288.0 723.8h1.8M261.2 749.0h1.8M285.5 738.7h1.8M384.2 647.8h1.8M321.0 719.1h1.8M264.5 749.3h1.8M394.9 676.5h1.8M270.6 753.0h1.8M317.6 706.4h1.8M344.6 705.5h1.8M260.6 752.1h1.8M261.2 748.8h1.8M291.6 719.7h1.8M269.1 746.7h1.8M283.5 734.3h1.8M294.7 721.1h1.8M299.3 722.7h1.8M294.8 713.6h1.8M316.3 695.7h1.8M294.7 721.9h1.8M329.3 710.2h1.8M261.6 737.7h1.8M351.3 689.1h1.8M265.4 741.3h1.8M302.4 718.9h1.8M375.3 701.1h1.8M284.0 736.4h1.8M290.3 738.2h1.8M298.4 716.9h1.8M264.1 751.5h1.8M267.1 742.0h1.8M301.9 721.8h1.8M273.0 723.8h1.8M281.6 725.4h1.8M284.1 734.1h1.8M285.4 741.9h1.8M261.4 742.8h1.8M342.0 723.1h1.8M324.9 695.9h1.8M348.3 706.0h1.8M320.0 700.8h1.8M263.1 749.2h1.8M261.1 750.1h1.8M312.4 703.1h1.8M390.9 680.6h1.8M291.2 742.5h1.8M297.0 720.5h1.8M332.5 704.5h1.8M308.8 718.3h1.8M268.9 729.3h1.8M294.8 730.3h1.8M269.0 727.1h1.8M291.2 735.9h1.8M302.9 726.6h1.8M289.1 737.8h1.8M275.5 739.0h1.8M305.7 717.3h1.8M350.3 709.6h1.8M286.6 722.0h1.8M280.6 735.2h1.8M293.5 739.2h1.8M296.6 734.7h1.8M298.9 732.9h1.8M335.2 700.8h1.8M286.8 726.3h1.8M287.0 718.3h1.8M267.0 724.2h1.8M275.3 747.5h1.8M312.7 721.3h1.8M326.1 728.2h1.8M353.3 679.1h1.8M279.5 723.9h1.8M279.8 732.8h1.8M281.6 734.8h1.8M272.0 731.4h1.8M315.9 732.1h1.8M367.3 697.5h1.8M263.6 734.9h1.8M298.6 728.5h1.8M374.3 704.0h1.8M376.4 688.7h1.8M321.9 695.1h1.8M268.7 731.8h1.8M356.2 669.3h1.8M280.5 729.1h1.8M352.8 694.0h1.8M274.0 746.7h1.8M303.4 718.2h1.8M265.5 729.1h1.8M385.2 689.9h1.8M327.9 713.3h1.8M376.4 667.8h1.8M276.7 743.1h1.8M316.3 749.1h1.8M379.8 720.3h1.8M295.9 722.9h1.8M326.0 712.8h1.8M335.9 707.2h1.8M386.5 683.8h1.8M287.3 731.5h1.8M313.1 717.0h1.8M324.2 720.0h1.8M263.1 740.5h1.8M340.0 709.3h1.8M306.0 715.7h1.8M274.0 736.1h1.8M324.1 704.8h1.8M265.4 740.5h1.8M394.9 688.5h1.8M365.2 682.5h1.8M339.8 706.2h1.8M291.4 731.4h1.8M345.9 676.4h1.8M291.5 710.6h1.8M357.5 687.5h1.8M287.9 725.9h1.8M274.7 738.5h1.8M358.5 700.7h1.8M268.7 752.1h1.8M264.3 743.0h1.8M269.0 737.2h1.8M311.0 718.4h1.8M265.6 752.9h1.8M368.6 698.6h1.8M283.5 732.5h1.8M299.3 738.9h1.8M374.5 702.6h1.8M290.2 731.6h1.8M288.8 728.2h1.8M265.5 738.1h1.8M273.9 752.9h1.8M267.0 745.9h1.8M285.6 737.1h1.8M312.6 728.9h1.8M365.9 686.2h1.8M352.3 694.9h1.8M283.0 736.1h1.8M278.3 739.1h1.8M266.9 742.7h1.8M310.1 741.1h1.8M259.5 743.5h1.8M311.8 732.5h1.8M301.6 731.3h1.8M282.2 736.4h1.8M347.8 700.2h1.8M363.1 706.3h1.8M302.5 723.6h1.8M350.1 710.6h1.8M348.8 701.5h1.8M366.7 700.8h1.8M342.9 721.3h1.8M284.3 730.6h1.8M288.0 710.7h1.8M365.2 665.6h1.8M267.9 744.6h1.8M285.0 726.5h1.8M317.6 702.5h1.8M263.9 732.6h1.8M311.2 731.2h1.8M302.7 735.5h1.8M291.9 722.9h1.8M338.7 710.4h1.8M274.3 746.2h1.8M373.9 702.1h1.8M377.1 664.6h1.8M338.5 710.4h1.8M262.1 737.0h1.8M300.7 724.4h1.8M278.8 741.0h1.8M260.3 749.3h1.8M294.8 718.4h1.8M300.8 719.7h1.8M336.7 708.4h1.8M372.7 682.8h1.8M306.5 725.5h1.8M263.8 735.9h1.8M331.3 699.2h1.8M320.7 717.7h1.8M276.0 744.8h1.8M263.7 736.1h1.8M269.4 736.3h1.8M333.9 720.5h1.8M262.9 735.6h1.8M260.4 746.1h1.8M300.3 724.2h1.8M352.2 714.1h1.8M268.7 738.5h1.8M354.9 709.6h1.8M280.2 734.4h1.8M298.2 731.9h1.8M317.7 708.4h1.8M338.3 717.6h1.8M291.1 726.0h1.8M340.4 718.0h1.8M330.9 701.1h1.8M323.4 726.6h1.8M307.8 715.4h1.8M329.2 700.3h1.8M316.4 715.7h1.8M398.1 660.9h1.8M346.4 680.3h1.8M313.7 721.9h1.8M279.7 748.1h1.8M308.4 715.5h1.8M331.3 710.1h1.8M311.0 730.2h1.8M360.9 697.8h1.8M343.7 708.9h1.8M306.8 718.8h1.8M377.6 710.0h1.8M326.5 698.5h1.8M291.5 729.8h1.8M271.6 730.4h1.8M269.0 726.1h1.8M262.1 752.2h1.8M280.9 752.2h1.8M276.3 735.0h1.8M287.4 726.1h1.8M297.5 730.1h1.8M315.9 710.1h1.8M271.2 738.7h1.8M297.3 741.2h1.8M272.9 730.9h1.8M276.7 723.1h1.8M277.8 746.6h1.8M286.7 715.5h1.8M266.8 729.1h1.8M391.5 717.9h1.8M259.7 752.9h1.8M267.5 746.2h1.8M283.0 744.1h1.8M289.5 729.5h1.8M269.0 732.6h1.8M268.2 734.5h1.8M359.5 706.5h1.8M322.2 718.1h1.8M304.0 732.8h1.8M307.1 716.4h1.8M268.6 752.2h1.8M282.7 726.5h1.8M326.4 693.2h1.8M293.1 745.2h1.8M349.0 714.9h1.8M384.5 698.1h1.8M305.4 725.0h1.8M302.8 718.0h1.8M268.0 739.4h1.8M296.9 725.1h1.8M275.5 747.3h1.8M276.7 745.5h1.8M318.6 708.1h1.8M321.8 713.3h1.8M379.2 682.5h1.8M283.7 733.5h1.8M263.8 714.1h1.8M270.4 738.0h1.8M379.3 684.1h1.8M347.6 695.8h1.8M262.7 732.0h1.8M346.8 702.5h1.8M383.3 666.2h1.8M366.8 694.6h1.8M283.1 735.4h1.8M388.7 690.5h1.8M302.9 744.7h1.8M291.8 733.7h1.8M290.6 729.6h1.8M281.6 728.7h1.8M337.2 710.2h1.8M274.4 737.2h1.8M264.4 744.6h1.8M317.2 716.8h1.8M293.5 742.7h1.8M260.0 727.8h1.8M260.2 740.6h1.8M366.5 687.5h1.8M268.1 738.8h1.8M272.7 732.6h1.8M280.4 724.7h1.8M300.8 711.9h1.8M260.1 740.9h1.8M292.6 748.4h1.8M328.7 717.1h1.8M364.5 685.0h1.8M340.1 703.3h1.8M274.1 749.6h1.8M302.0 712.4h1.8M289.7 746.9h1.8M360.1 713.1h1.8M321.7 708.9h1.8M269.7 740.1h1.8M283.3 733.9h1.8M298.1 717.6h1.8M280.7 742.4h1.8M275.2 726.8h1.8M259.5 743.3h1.8M396.1 678.8h1.8M287.7 729.3h1.8M371.8 677.4h1.8M293.1 733.4h1.8M271.3 725.7h1.8M275.6 743.2h1.8M273.9 740.3h1.8M324.1 709.7h1.8M275.3 736.9h1.8M308.8 714.8h1.8M261.3 748.9h1.8M263.5 732.9h1.8M346.9 697.1h1.8M285.5 733.9h1.8M354.4 721.0h1.8M282.9 730.9h1.8M276.1 747.6h1.8M304.6 725.6h1.8M325.1 712.8h1.8M283.1 742.4h1.8M367.7 688.7h1.8M301.4 752.7h1.8M285.8 704.4h1.8M273.7 748.3h1.8M290.3 738.1h1.8M260.3 736.7h1.8M297.0 732.8h1.8M285.7 729.2h1.8M299.5 715.1h1.8M291.1 726.9h1.8M362.6 692.8h1.8M262.8 749.3h1.8M276.0 741.6h1.8M298.9 713.1h1.8M363.3 699.3h1.8M277.4 728.6h1.8M279.5 726.1h1.8M272.7 738.1h1.8M327.1 728.5h1.8M268.6 735.4h1.8M320.3 711.5h1.8M273.3 726.1h1.8M314.6 719.7h1.8M315.8 698.9h1.8M290.9 745.2h1.8M320.6 720.2h1.8M324.4 705.6h1.8M320.0 715.1h1.8M367.8 682.4h1.8M268.5 732.3h1.8M266.8 731.4h1.8M357.4 704.7h1.8M295.8 718.4h1.8M261.7 751.9h1.8M268.7 752.2h1.8M260.5 753.2h1.8M288.9 726.4h1.8M368.2 682.1h1.8M266.4 748.3h1.8M261.4 746.8h1.8M361.8 691.7h1.8M320.4 731.5h1.8M278.6 732.3h1.8M329.4 715.4h1.8M266.5 750.2h1.8M263.5 735.3h1.8M310.7 721.6h1.8M286.9 713.9h1.8M266.6 752.4h1.8M267.3 738.8h1.8M305.8 734.2h1.8M280.2 735.8h1.8M307.1 725.1h1.8M302.4 718.8h1.8M387.3 693.1h1.8M345.8 696.1h1.8M265.9 742.9h1.8M300.8 718.2h1.8M330.4 703.3h1.8M299.0 733.6h1.8M329.1 708.7h1.8M270.8 730.7h1.8M261.0 740.9h1.8M349.4 691.9h1.8M270.1 737.4h1.8M291.6 725.0h1.8M277.9 731.5h1.8M265.8 738.2h1.8M284.3 725.1h1.8M300.6 722.3h1.8M314.9 724.6h1.8M272.9 731.9h1.8M268.7 739.7h1.8M325.0 706.6h1.8M263.3 725.8h1.8M295.2 715.5h1.8M266.4 744.3h1.8M277.6 732.7h1.8M293.4 726.6h1.8M260.7 746.5h1.8M281.3 746.4h1.8M283.8 730.7h1.8M296.4 724.8h1.8M306.3 717.3h1.8M302.8 722.6h1.8M303.9 718.1h1.8M324.1 731.2h1.8M312.3 736.1h1.8M289.6 732.1h1.8M364.5 681.8h1.8M272.4 734.8h1.8M289.7 743.7h1.8M259.9 742.7h1.8M357.7 694.3h1.8M332.0 724.6h1.8M306.6 711.0h1.8M296.8 723.9h1.8M274.7 738.4h1.8M294.4 714.0h1.8M314.3 697.1h1.8M277.7 742.3h1.8M320.1 722.1h1.8M260.9 747.7h1.8M331.9 707.8h1.8M340.5 707.8h1.8M267.3 719.0h1.8M334.3 713.9h1.8M281.5 745.8h1.8M270.9 740.3h1.8M277.5 715.3h1.8M351.5 706.6h1.8M265.1 742.9h1.8M260.6 752.6h1.8M395.6 696.3h1.8M290.3 724.9h1.8M297.6 728.4h1.8M298.5 741.4h1.8M267.8 731.7h1.8M277.1 735.2h1.8M365.7 694.3h1.8M332.1 711.2h1.8M287.6 708.4h1.8M365.2 686.4h1.8M344.1 684.9h1.8M260.5 746.9h1.8M354.4 713.6h1.8M317.8 722.0h1.8M352.3 695.1h1.8M293.1 752.8h1.8M396.9 686.2h1.8M268.8 735.4h1.8M281.8 746.8h1.8M274.9 729.5h1.8M260.5 748.7h1.8M306.1 702.9h1.8M264.4 745.3h1.8M327.7 704.7h1.8M333.4 703.6h1.8M394.6 677.4h1.8M280.3 742.1h1.8M304.7 731.2h1.8M291.9 716.5h1.8M284.3 726.6h1.8M322.8 688.7h1.8M279.9 748.7h1.8M281.0 730.1h1.8M287.8 728.5h1.8M291.8 711.3h1.8M298.0 712.1h1.8M262.4 753.1h1.8M327.8 715.0h1.8M312.3 728.6h1.8M359.9 689.1h1.8M290.2 729.0h1.8M389.8 681.2h1.8M263.5 731.5h1.8M283.7 728.7h1.8M270.9 729.0h1.8M376.8 685.6h1.8M307.1 719.4h1.8M263.2 740.9h1.8M325.8 704.3h1.8M301.3 736.7h1.8M308.0 712.2h1.8M268.4 734.9h1.8M288.9 722.7h1.8M316.7 712.1h1.8M278.8 726.1h1.8M346.6 698.4h1.8M341.5 691.5h1.8M375.7 688.2h1.8M275.2 743.1h1.8M286.6 730.1h1.8M262.2 728.4h1.8M391.3 690.4h1.8M373.8 689.2h1.8M292.3 727.4h1.8M268.3 742.4h1.8M320.1 719.1h1.8M270.1 740.3h1.8M295.8 721.8h1.8M302.3 708.6h1.8M276.7 744.0h1.8M290.3 752.7h1.8M383.5 679.1h1.8M368.5 696.0h1.8M377.3 671.9h1.8M280.4 717.4h1.8M345.8 698.0h1.8M299.1 727.8h1.8M294.2 726.2h1.8M264.2 739.2h1.8M293.6 725.1h1.8M309.4 716.0h1.8M320.5 708.2h1.8M264.8 752.5h1.8M262.9 735.8h1.8M370.5 687.1h1.8M292.5 722.3h1.8M259.6 749.0h1.8M334.3 711.8h1.8M283.1 732.2h1.8M360.6 704.3h1.8M312.7 719.1h1.8M260.1 732.3h1.8M267.1 739.4h1.8M289.9 734.2h1.8M348.8 686.9h1.8M312.7 720.1h1.8M311.3 718.9h1.8M277.4 712.4h1.8M296.7 719.6h1.8M309.4 729.8h1.8M309.3 719.7h1.8M375.3 682.8h1.8M305.5 727.5h1.8M265.8 739.4h1.8M274.8 727.7h1.8M314.8 711.9h1.8M316.3 719.8h1.8M332.3 698.3h1.8M316.8 732.3h1.8M296.6 730.8h1.8M274.1 714.4h1.8M317.4 724.1h1.8M259.6 752.3h1.8M333.6 717.4h1.8M308.8 726.3h1.8M328.1 722.3h1.8M301.5 718.3h1.8M296.9 716.7h1.8M272.8 752.2h1.8M301.9 727.0h1.8M319.4 721.0h1.8M355.7 696.4h1.8M300.5 739.6h1.8M378.1 694.1h1.8M308.7 718.4h1.8M282.9 734.6h1.8M297.1 736.7h1.8M300.8 718.3h1.8M278.5 724.3h1.8M329.4 712.4h1.8M280.1 729.8h1.8M293.5 733.0h1.8M308.8 741.7h1.8M302.5 739.3h1.8M293.1 728.2h1.8M350.6 695.6h1.8M259.6 737.4h1.8M320.7 711.9h1.8M365.0 697.5h1.8M267.9 745.1h1.8M275.3 751.3h1.8M266.5 739.7h1.8M304.1 725.1h1.8M334.9 714.7h1.8M401.1 690.6h1.8M284.2 729.2h1.8M261.2 748.0h1.8M298.0 727.1h1.8M399.2 687.0h1.8M349.5 709.1h1.8M339.4 701.5h1.8M310.3 716.6h1.8M296.7 717.4h1.8M302.7 743.6h1.8M284.8 720.2h1.8M289.2 736.0h1.8M259.9 752.9h1.8M279.9 732.9h1.8M314.5 730.8h1.8M309.1 714.2h1.8M279.9 740.2h1.8M271.7 719.0h1.8M265.6 739.7h1.8M290.3 726.5h1.8M322.6 683.2h1.8M339.2 700.9h1.8M304.4 718.5h1.8M264.6 751.7h1.8M314.3 730.9h1.8M294.5 724.0h1.8M358.0 676.4h1.8M309.3 721.7h1.8M284.9 731.6h1.8M296.3 713.9h1.8M327.1 705.0h1.8M296.3 731.5h1.8M337.5 700.7h1.8M298.0 739.1h1.8M347.9 713.6h1.8M260.2 738.5h1.8M376.8 671.7h1.8M282.2 706.4h1.8M264.6 747.0h1.8M348.7 677.3h1.8M266.7 747.2h1.8M323.1 705.6h1.8M263.9 751.0h1.8M372.2 697.6h1.8M356.5 693.8h1.8M378.3 678.5h1.8M300.0 730.6h1.8M352.7 698.0h1.8M300.4 732.7h1.8M266.7 738.8h1.8M278.4 735.5h1.8M322.0 724.0h1.8M288.4 726.4h1.8M273.5 742.3h1.8M272.1 743.2h1.8M272.7 732.4h1.8M289.0 732.0h1.8M328.3 721.4h1.8M370.3 715.9h1.8M286.6 724.9h1.8M289.7 721.2h1.8M318.7 711.0h1.8M278.3 741.3h1.8M281.5 739.3h1.8M288.5 729.5h1.8M265.5 731.0h1.8M303.1 728.1h1.8M264.0 752.8h1.8M282.8 731.2h1.8M271.9 736.7h1.8M265.5 735.0h1.8M304.2 714.3h1.8M261.5 739.5h1.8M274.1 744.3h1.8M260.9 726.1h1.8M332.2 718.7h1.8M273.0 743.0h1.8M268.3 746.4h1.8M301.3 727.5h1.8M292.6 699.4h1.8M260.0 728.0h1.8M307.8 725.4h1.8M274.3 743.3h1.8M321.6 720.8h1.8M296.1 729.4h1.8M272.5 738.1h1.8M316.0 718.6h1.8M293.0 743.1h1.8M275.7 737.5h1.8M304.3 710.8h1.8M284.9 721.0h1.8M294.5 732.4h1.8M341.8 707.6h1.8M321.1 714.8h1.8M273.8 746.2h1.8M274.2 737.3h1.8M284.2 735.4h1.8M299.0 731.0h1.8M300.0 724.8h1.8M288.6 744.4h1.8M268.5 739.7h1.8M319.3 726.9h1.8M332.2 707.0h1.8M318.4 714.0h1.8M294.1 719.7h1.8M260.1 752.8h1.8M262.1 735.7h1.8M265.3 730.0h1.8M364.6 698.1h1.8M348.3 703.4h1.8M387.1 695.7h1.8M313.3 715.7h1.8M361.6 681.2h1.8M317.2 722.5h1.8M331.0 709.5h1.8M276.7 740.7h1.8M332.5 725.2h1.8M335.3 710.6h1.8M264.2 743.3h1.8M275.7 718.8h1.8M263.3 731.4h1.8M264.8 739.3h1.8M284.4 731.1h1.8M313.1 712.8h1.8M315.7 717.9h1.8M332.7 692.2h1.8M365.4 673.6h1.8M318.0 717.5h1.8M261.4 747.4h1.8M307.0 728.7h1.8M263.4 729.6h1.8M302.0 711.6h1.8M298.7 721.5h1.8M261.3 743.6h1.8M324.6 706.2h1.8M373.9 687.2h1.8M266.4 738.9h1.8M310.9 730.5h1.8M261.1 749.0h1.8M290.0 726.3h1.8M298.8 722.8h1.8M288.6 718.4h1.8M290.7 752.7h1.8M370.9 703.3h1.8M299.2 704.2h1.8M277.6 734.3h1.8M312.8 729.1h1.8M298.2 712.3h1.8M318.2 698.2h1.8M265.0 731.3h1.8M274.2 732.3h1.8M265.5 731.9h1.8M261.5 748.3h1.8M276.4 751.6h1.8M316.7 725.2h1.8M265.9 752.5h1.8M296.3 721.4h1.8M259.8 744.8h1.8M284.8 720.6h1.8M301.6 721.0h1.8M359.2 716.2h1.8M339.1 705.9h1.8M288.7 725.7h1.8M279.7 726.4h1.8M314.6 704.6h1.8M326.3 720.7h1.8M322.3 725.5h1.8M274.5 739.9h1.8M329.5 710.9h1.8M293.0 728.3h1.8M268.0 747.8h1.8M316.4 740.9h1.8M304.3 703.8h1.8M323.2 714.8h1.8M264.9 739.9h1.8M277.6 729.3h1.8M330.7 728.2h1.8M301.2 734.0h1.8M335.2 710.2h1.8M387.0 673.3h1.8M333.2 693.0h1.8M263.9 745.2h1.8M286.1 729.0h1.8M269.0 736.5h1.8M289.6 752.1h1.8M332.7 713.0h1.8M373.4 685.2h1.8M271.1 737.0h1.8M340.9 731.9h1.8M313.1 723.8h1.8M261.3 746.2h1.8M260.9 735.7h1.8M319.0 711.1h1.8M351.2 702.9h1.8M366.1 687.2h1.8M280.0 735.3h1.8M289.1 711.4h1.8M305.7 720.0h1.8M329.8 700.0h1.8M266.6 732.9h1.8M308.4 732.7h1.8M276.1 751.6h1.8M276.3 732.7h1.8M345.1 692.8h1.8M280.1 752.7h1.8M283.2 725.1h1.8M312.0 712.0h1.8M348.8 699.3h1.8M269.8 736.2h1.8M348.8 692.7h1.8M259.8 751.8h1.8M269.4 731.8h1.8M285.7 723.7h1.8M277.1 721.0h1.8M329.6 711.3h1.8M319.1 724.5h1.8M279.3 751.2h1.8M278.9 733.1h1.8M262.3 737.3h1.8M322.5 668.3h1.8M283.8 730.8h1.8M367.1 706.5h1.8M352.2 695.2h1.8M272.7 724.6h1.8M345.8 706.5h1.8M283.4 732.0h1.8M312.2 712.2h1.8M294.1 721.2h1.8M334.8 688.0h1.8M292.9 718.5h1.8M296.6 718.0h1.8M310.9 721.6h1.8M345.5 693.0h1.8M328.4 734.7h1.8M297.2 723.1h1.8M344.9 719.6h1.8M328.6 735.1h1.8M274.8 731.8h1.8M303.4 722.2h1.8M386.6 720.1h1.8M266.4 748.3h1.8M290.8 723.3h1.8M278.9 745.2h1.8M271.8 705.5h1.8M316.2 728.3h1.8M263.6 741.5h1.8M285.4 736.0h1.8M266.8 732.9h1.8M288.0 731.3h1.8M269.2 746.7h1.8M299.8 713.6h1.8M276.0 733.6h1.8M267.3 730.0h1.8M313.6 712.1h1.8M281.2 750.3h1.8M318.4 697.9h1.8M269.7 737.6h1.8M365.2 663.6h1.8M267.1 752.4h1.8M273.9 723.6h1.8M283.4 733.9h1.8M271.0 749.3h1.8M282.1 721.7h1.8M317.6 716.2h1.8M283.2 729.0h1.8M277.5 722.5h1.8M323.4 713.8h1.8M278.1 745.8h1.8M262.2 747.6h1.8M262.2 735.1h1.8M365.9 688.3h1.8M263.1 738.1h1.8M369.0 686.2h1.8M362.4 702.9h1.8M340.5 708.5h1.8M311.5 737.1h1.8M356.0 701.1h1.8M277.4 744.6h1.8M259.9 735.9h1.8M269.3 742.5h1.8M321.9 710.1h1.8M268.0 751.0h1.8M333.0 688.2h1.8M345.9 704.0h1.8M352.4 693.7h1.8M345.4 708.3h1.8M335.8 704.5h1.8M272.0 733.8h1.8M348.6 696.3h1.8M366.3 694.9h1.8M278.1 730.7h1.8M296.9 738.4h1.8M376.4 694.9h1.8M294.2 716.5h1.8M262.1 739.6h1.8M259.7 738.9h1.8M351.1 695.2h1.8M337.3 712.7h1.8M275.8 744.3h1.8M293.6 723.0h1.8M325.0 710.8h1.8M292.1 723.8h1.8M327.4 722.7h1.8M303.7 711.6h1.8M318.4 710.3h1.8M338.5 694.1h1.8M280.1 724.4h1.8M339.9 708.5h1.8M269.3 741.5h1.8M301.4 721.1h1.8M272.5 732.3h1.8M302.9 710.6h1.8M313.9 707.2h1.8M299.7 721.5h1.8M333.6 717.5h1.8M275.1 743.1h1.8M280.9 726.7h1.8M275.5 744.1h1.8M320.7 734.2h1.8M334.7 721.1h1.8M367.9 691.6h1.8M352.7 695.3h1.8M304.7 723.7h1.8M309.5 714.6h1.8M308.3 728.8h1.8M273.5 741.8h1.8M289.6 729.8h1.8M318.6 725.9h1.8M301.5 734.9h1.8M277.6 726.5h1.8M272.6 739.5h1.8M354.4 690.8h1.8M336.5 715.6h1.8M335.2 700.9h1.8M264.4 736.6h1.8M288.3 733.3h1.8M307.5 731.9h1.8M330.5 712.8h1.8M300.4 729.8h1.8M325.0 716.4h1.8M283.1 742.2h1.8M266.7 739.9h1.8M288.0 717.1h1.8M279.2 720.6h1.8M286.8 721.0h1.8M297.2 721.4h1.8M266.1 726.1h1.8M289.8 730.1h1.8M284.4 741.5h1.8M312.1 717.1h1.8M298.7 720.2h1.8M295.0 706.0h1.8M353.9 703.3h1.8M274.1 727.0h1.8M331.8 694.8h1.8M323.1 732.1h1.8M303.0 720.8h1.8M349.4 704.0h1.8M336.3 721.1h1.8M297.5 718.4h1.8M278.3 734.5h1.8M304.1 725.1h1.8M296.7 725.4h1.8M278.5 747.1h1.8M304.0 720.2h1.8M305.5 752.4h1.8M281.6 740.4h1.8M260.7 747.3h1.8M333.0 709.5h1.8M265.8 748.3h1.8M341.1 713.1h1.8M311.8 699.9h1.8M374.1 679.0h1.8M338.1 705.6h1.8M287.2 726.3h1.8M358.1 699.7h1.8M294.0 745.4h1.8M300.0 732.7h1.8M304.5 724.9h1.8M264.9 734.9h1.8M314.7 721.9h1.8M280.4 715.8h1.8M308.5 741.1h1.8M289.9 721.0h1.8M297.8 725.9h1.8M285.1 728.2h1.8M285.6 732.9h1.8M284.4 721.2h1.8M260.4 734.5h1.8M289.6 738.5h1.8M307.9 731.6h1.8M311.0 734.1h1.8M354.7 688.6h1.8M312.4 723.1h1.8M315.3 731.2h1.8M260.1 744.9h1.8M332.7 692.2h1.8M368.0 695.6h1.8M342.2 700.2h1.8M261.7 738.5h1.8M353.4 700.8h1.8M297.9 725.9h1.8M259.6 738.1h1.8M310.0 722.6h1.8M331.9 702.3h1.8M271.4 732.6h1.8M341.0 718.0h1.8M279.4 722.5h1.8M298.3 738.3h1.8M389.0 668.4h1.8M285.0 741.3h1.8M294.6 725.2h1.8M333.1 719.3h1.8M296.4 719.6h1.8M291.6 726.4h1.8M273.8 735.9h1.8M262.6 738.8h1.8M279.2 734.8h1.8M260.6 735.2h1.8M279.9 724.8h1.8M305.2 723.8h1.8M295.8 717.5h1.8M345.0 712.7h1.8M291.5 730.3h1.8M294.8 729.6h1.8M262.8 752.2h1.8M333.4 712.7h1.8M268.8 748.4h1.8M272.3 752.2h1.8M289.8 725.4h1.8M282.9 727.7h1.8M330.1 701.5h1.8M365.9 689.8h1.8M278.2 730.9h1.8M317.8 715.5h1.8M300.1 721.2h1.8M271.0 735.1h1.8M299.7 731.3h1.8M286.7 743.0h1.8M353.0 682.8h1.8M299.9 717.2h1.8M284.8 719.5h1.8M273.7 745.4h1.8M284.9 739.8h1.8M371.8 686.4h1.8M275.8 731.1h1.8M278.9 729.7h1.8M372.9 682.5h1.8M394.9 679.6h1.8M331.0 703.3h1.8M287.0 717.2h1.8M367.0 698.6h1.8M297.7 718.1h1.8M309.0 722.8h1.8M273.8 739.8h1.8M298.1 736.1h1.8M311.4 711.9h1.8M271.6 734.5h1.8M264.7 728.1h1.8M298.3 708.9h1.8M273.4 737.9h1.8M345.3 727.6h1.8M326.3 714.7h1.8M324.2 707.5h1.8M263.0 747.1h1.8M316.6 717.3h1.8M304.2 718.0h1.8M264.0 740.9h1.8M294.9 733.5h1.8M303.7 707.3h1.8M369.8 700.2h1.8M303.3 726.2h1.8M360.2 668.0h1.8M342.7 708.1h1.8M350.4 702.6h1.8M267.5 739.4h1.8M347.4 704.0h1.8M325.4 694.9h1.8M323.7 709.6h1.8M273.3 731.9h1.8M273.3 752.0h1.8M261.9 725.9h1.8M282.9 729.7h1.8M321.2 709.4h1.8M281.9 743.8h1.8M283.2 735.8h1.8M273.3 734.7h1.8M260.9 741.4h1.8M276.9 735.1h1.8M274.4 737.5h1.8M269.6 738.9h1.8M319.5 719.7h1.8M293.8 723.5h1.8M267.7 745.2h1.8M269.5 737.6h1.8M301.2 717.9h1.8M288.8 720.1h1.8M310.4 725.6h1.8M292.1 735.1h1.8M333.5 716.8h1.8M318.6 717.5h1.8M330.2 676.5h1.8M353.9 712.5h1.8M262.9 739.6h1.8M319.3 710.6h1.8M272.3 742.8h1.8M325.5 707.6h1.8M273.3 734.1h1.8M381.2 655.9h1.8M281.5 736.8h1.8M286.5 734.8h1.8M309.3 726.4h1.8M373.9 692.1h1.8M261.3 752.2h1.8M268.0 737.7h1.8M273.4 729.9h1.8M280.1 727.3h1.8M297.1 722.5h1.8M284.0 728.2h1.8M277.8 723.3h1.8M283.9 734.4h1.8M264.7 726.0h1.8M260.7 746.7h1.8M302.3 706.5h1.8M326.8 682.2h1.8M265.3 742.1h1.8M268.4 750.9h1.8M285.2 742.9h1.8M308.3 722.9h1.8M293.4 729.9h1.8M320.3 696.7h1.8M260.3 745.6h1.8M260.1 753.0h1.8M263.5 752.8h1.8M357.7 666.7h1.8M272.3 737.8h1.8M285.4 730.2h1.8M318.3 728.5h1.8M292.5 721.8h1.8M355.6 700.2h1.8M264.2 744.2h1.8M283.8 739.8h1.8M313.6 712.1h1.8M264.0 743.3h1.8M294.3 722.4h1.8M387.6 688.3h1.8M357.6 699.7h1.8M349.0 677.7h1.8M322.1 704.1h1.8M330.3 710.8h1.8M273.4 742.4h1.8M290.0 734.9h1.8M346.7 705.3h1.8M388.1 678.3h1.8M259.5 751.8h1.8M349.4 705.3h1.8M299.3 730.0h1.8M282.3 732.1h1.8M281.3 731.0h1.8M298.6 723.0h1.8M260.4 742.9h1.8M298.9 727.7h1.8M327.8 703.7h1.8M295.2 723.8h1.8M260.5 732.6h1.8M275.1 732.3h1.8M282.5 730.6h1.8M266.3 746.5h1.8M331.7 717.4h1.8M284.8 731.4h1.8M272.2 730.8h1.8M356.3 689.5h1.8M283.6 729.9h1.8M292.8 731.6h1.8M274.1 730.2h1.8M343.7 717.7h1.8M368.9 701.2h1.8M352.5 689.6h1.8M285.6 738.0h1.8M323.8 737.1h1.8M326.7 714.2h1.8M383.6 706.3h1.8M275.1 734.2h1.8M288.6 724.3h1.8M262.8 714.9h1.8M354.0 691.8h1.8M295.7 718.3h1.8M299.8 728.5h1.8M326.0 716.1h1.8M307.3 716.6h1.8M270.9 737.9h1.8M281.5 726.1h1.8M372.6 689.2h1.8M261.4 736.3h1.8M278.2 731.6h1.8M333.6 719.5h1.8M268.1 739.8h1.8M269.5 740.9h1.8M344.8 700.4h1.8M313.7 738.9h1.8M275.5 752.8h1.8M322.1 709.1h1.8M303.4 720.3h1.8M366.5 694.4h1.8M261.2 741.1h1.8M390.4 664.4h1.8M310.6 719.9h1.8M273.8 712.8h1.8M296.1 707.2h1.8M308.8 710.5h1.8M344.3 726.4h1.8M272.2 732.6h1.8M345.0 687.4h1.8M359.3 693.9h1.8M308.2 722.1h1.8M275.8 746.5h1.8M280.1 730.9h1.8M360.1 698.4h1.8M314.5 727.8h1.8M342.5 702.5h1.8M305.2 726.6h1.8M279.1 753.1h1.8M277.5 726.8h1.8M356.5 691.9h1.8M280.9 726.0h1.8M268.2 731.9h1.8M276.8 734.3h1.8M405.8 641.2h1.8M389.8 681.1h1.8M278.0 735.4h1.8M338.6 709.7h1.8M273.1 735.3h1.8M282.2 737.1h1.8M263.7 740.4h1.8M346.7 701.4h1.8M292.7 733.4h1.8M323.0 701.8h1.8M392.3 682.8h1.8M352.0 692.8h1.8M291.9 726.5h1.8M265.1 742.0h1.8M309.5 712.0h1.8M287.9 725.5h1.8M264.1 744.5h1.8M283.2 723.1h1.8M268.0 731.5h1.8M329.0 722.6h1.8M370.8 682.9h1.8M309.8 704.0h1.8M289.1 722.1h1.8M295.1 745.6h1.8M297.8 722.1h1.8M361.8 711.8h1.8M276.5 732.3h1.8M391.1 672.8h1.8M323.7 712.1h1.8M285.6 731.7h1.8M261.7 752.2h1.8M272.0 715.5h1.8M271.8 740.3h1.8M275.3 723.3h1.8M266.6 748.2h1.8M273.1 745.8h1.8M294.6 714.2h1.8M318.2 720.0h1.8M330.4 704.0h1.8M315.3 727.8h1.8M278.9 739.1h1.8M385.3 688.2h1.8M381.3 691.4h1.8M260.3 732.2h1.8M286.3 727.1h1.8M265.0 741.8h1.8M390.6 690.1h1.8M329.4 704.7h1.8M349.3 700.5h1.8M264.9 741.1h1.8M391.7 686.1h1.8M283.9 739.1h1.8M297.8 734.2h1.8M320.6 692.7h1.8M277.3 738.3h1.8M364.9 693.1h1.8M287.5 729.3h1.8M291.8 737.3h1.8M302.9 733.9h1.8M305.4 681.6h1.8M268.1 750.2h1.8M265.4 751.8h1.8M293.0 734.3h1.8M373.6 698.9h1.8M335.7 717.3h1.8M286.1 696.7h1.8M352.1 690.1h1.8M261.0 738.0h1.8M361.6 685.5h1.8M396.4 665.6h1.8M264.9 738.7h1.8M288.1 703.0h1.8M275.7 736.1h1.8M275.9 736.5h1.8M268.2 739.0h1.8M265.7 735.2h1.8M292.8 730.7h1.8M271.5 722.5h1.8M265.0 750.5h1.8M279.3 731.7h1.8M311.0 724.0h1.8M280.1 729.9h1.8M304.9 721.8h1.8M274.3 748.4h1.8M315.7 708.3h1.8M319.7 712.1h1.8M307.0 729.7h1.8M340.2 710.6h1.8M359.3 673.4h1.8M308.2 728.5h1.8M315.1 729.6h1.8M282.3 722.8h1.8M336.3 706.8h1.8M279.5 722.0h1.8M323.4 714.4h1.8M312.8 729.9h1.8M269.3 737.1h1.8M297.3 731.9h1.8M295.9 731.4h1.8M353.4 695.0h1.8M264.1 752.3h1.8M297.6 714.4h1.8M282.5 726.0h1.8M298.0 726.0h1.8M274.7 735.1h1.8M265.8 737.9h1.8M268.6 746.1h1.8M312.7 717.9h1.8M330.9 709.5h1.8M333.4 707.4h1.8M384.6 676.3h1.8M283.1 737.0h1.8M299.8 713.8h1.8M266.0 737.9h1.8M270.7 743.8h1.8M286.9 731.0h1.8M353.0 714.2h1.8M340.9 701.3h1.8M312.5 730.6h1.8M273.9 745.3h1.8M359.4 685.3h1.8M306.2 725.3h1.8M291.1 727.9h1.8M305.1 680.3h1.8M377.8 703.4h1.8M271.3 730.4h1.8M361.8 704.8h1.8M298.1 737.7h1.8M266.3 722.4h1.8M275.9 734.0h1.8M297.1 717.2h1.8M330.3 694.4h1.8M338.3 694.4h1.8M259.5 735.8h1.8M313.6 679.6h1.8M295.5 732.0h1.8M298.0 731.3h1.8M282.3 727.1h1.8M310.4 720.3h1.8M339.4 705.9h1.8M280.0 725.0h1.8M281.2 752.2h1.8M302.4 725.1h1.8M279.5 729.7h1.8M271.8 744.6h1.8M304.6 725.7h1.8M342.0 690.9h1.8M269.0 740.8h1.8M297.4 700.5h1.8M260.3 752.1h1.8M270.5 740.3h1.8M276.9 726.7h1.8M320.6 717.3h1.8M280.4 752.6h1.8M270.2 750.2h1.8M270.6 733.5h1.8M303.9 724.2h1.8M336.0 735.8h1.8M290.6 714.5h1.8M313.8 720.0h1.8M294.4 731.9h1.8M315.7 712.3h1.8M333.6 703.7h1.8M270.7 712.9h1.8M279.3 723.8h1.8M272.2 741.9h1.8M267.5 749.4h1.8M302.7 717.7h1.8M262.7 746.4h1.8M294.6 728.6h1.8M262.3 743.2h1.8M275.0 727.2h1.8M274.8 724.7h1.8M262.1 752.0h1.8M293.1 707.9h1.8M260.5 738.8h1.8M385.7 674.5h1.8M309.4 715.2h1.8M282.0 740.7h1.8M284.4 721.8h1.8M272.5 738.1h1.8M384.2 696.7h1.8M327.8 703.5h1.8M285.7 737.5h1.8M310.9 708.8h1.8M265.2 734.3h1.8M275.8 728.9h1.8M282.5 727.4h1.8M374.9 684.9h1.8M303.0 727.0h1.8M334.6 700.7h1.8M317.5 722.2h1.8M275.9 730.0h1.8M265.4 723.8h1.8M357.3 692.8h1.8M291.1 735.2h1.8M297.4 715.7h1.8M369.3 683.7h1.8M288.2 734.6h1.8M260.7 749.7h1.8M330.5 700.4h1.8M298.2 721.7h1.8M289.8 716.2h1.8M366.6 684.1h1.8M357.0 687.3h1.8M302.0 727.3h1.8M276.5 748.9h1.8M334.2 697.6h1.8M320.7 703.6h1.8M285.2 745.8h1.8M322.1 720.1h1.8M271.3 721.4h1.8M274.4 733.1h1.8M286.1 721.5h1.8M329.0 733.2h1.8M270.6 738.7h1.8M272.8 743.0h1.8M265.2 734.5h1.8M264.0 736.7h1.8M268.4 726.8h1.8M270.1 735.1h1.8M328.2 705.5h1.8M265.8 738.1h1.8M348.7 711.3h1.8M301.8 719.4h1.8M350.3 707.5h1.8M366.6 702.8h1.8M296.3 729.6h1.8M267.7 742.3h1.8M303.1 704.6h1.8M313.9 710.2h1.8M308.9 723.1h1.8M387.4 676.5h1.8M275.7 740.7h1.8M291.1 730.7h1.8M297.0 714.2h1.8M295.1 720.6h1.8M306.6 721.3h1.8M313.7 709.4h1.8M369.4 689.3h1.8M329.2 711.8h1.8M275.9 722.5h1.8M274.3 743.0h1.8M270.4 727.3h1.8M261.5 742.3h1.8M298.4 723.5h1.8M317.2 721.6h1.8M276.2 731.3h1.8M296.7 724.1h1.8M284.2 739.4h1.8M324.4 727.0h1.8M281.7 738.5h1.8M299.5 722.2h1.8M281.4 734.6h1.8M317.6 725.1h1.8M373.6 688.3h1.8M305.4 734.5h1.8M289.9 730.1h1.8M279.8 727.4h1.8M331.1 689.7h1.8M369.2 712.0h1.8M259.7 735.5h1.8M259.4 726.8h1.8M286.1 738.6h1.8M373.4 698.4h1.8M329.5 707.3h1.8M265.8 751.8h1.8M313.4 725.8h1.8M300.8 729.3h1.8M279.9 731.3h1.8M311.6 721.1h1.8M290.7 729.1h1.8M290.4 742.5h1.8M370.2 697.2h1.8M283.8 748.6h1.8M340.6 702.9h1.8M293.7 733.0h1.8M308.9 721.2h1.8M338.4 717.6h1.8M275.9 735.7h1.8M280.7 730.9h1.8M282.6 732.6h1.8M353.6 707.2h1.8M262.8 731.1h1.8M267.9 736.0h1.8M288.6 724.0h1.8M368.1 706.7h1.8M314.9 694.0h1.8M269.1 748.7h1.8M324.8 720.1h1.8M311.4 718.5h1.8M297.9 721.4h1.8M377.6 682.8h1.8M266.6 737.6h1.8M289.4 732.3h1.8M264.9 746.1h1.8M328.8 731.3h1.8M356.9 690.0h1.8M274.1 752.4h1.8M289.5 726.0h1.8M295.7 735.9h1.8M340.3 702.0h1.8M288.4 734.1h1.8M274.6 728.1h1.8M314.8 717.7h1.8M278.3 743.4h1.8M298.2 714.9h1.8M315.2 715.4h1.8M299.6 719.9h1.8M300.3 723.8h1.8M290.3 720.4h1.8M302.3 718.7h1.8M260.6 739.6h1.8M347.7 705.1h1.8M274.1 729.6h1.8M325.6 686.5h1.8M314.6 718.6h1.8M281.2 720.6h1.8M320.2 724.4h1.8M281.1 726.6h1.8M294.2 721.3h1.8M278.5 712.6h1.8M259.7 738.2h1.8M334.0 719.3h1.8M270.8 735.9h1.8M275.3 739.0h1.8M269.2 735.6h1.8M311.1 725.6h1.8M270.0 727.0h1.8M337.9 691.3h1.8M301.4 752.9h1.8M342.4 701.2h1.8M319.7 728.6h1.8M278.2 727.8h1.8M279.9 741.0h1.8M284.9 726.0h1.8M295.4 721.8h1.8M287.0 735.9h1.8M282.3 737.7h1.8M311.6 706.2h1.8M340.7 718.1h1.8M271.9 728.8h1.8M263.6 734.0h1.8M286.1 731.1h1.8M262.9 747.5h1.8M320.8 699.4h1.8M293.6 733.7h1.8M305.7 720.9h1.8M268.6 748.7h1.8M292.0 720.0h1.8M282.0 734.3h1.8M295.3 743.5h1.8M304.8 719.0h1.8M370.5 695.8h1.8M268.3 735.6h1.8M264.2 743.9h1.8M353.6 709.4h1.8M279.8 715.9h1.8M263.6 733.3h1.8M269.3 742.1h1.8M356.0 710.4h1.8M319.4 724.3h1.8M261.7 738.0h1.8M390.0 683.3h1.8M293.3 721.8h1.8M275.0 738.1h1.8M299.1 730.6h1.8M303.7 721.2h1.8M356.2 673.5h1.8M268.6 741.2h1.8M361.9 687.8h1.8M293.8 733.3h1.8M288.8 717.3h1.8M293.7 708.7h1.8M356.0 707.5h1.8M284.3 728.4h1.8M291.4 743.4h1.8M310.9 725.4h1.8M277.4 717.4h1.8M270.8 732.3h1.8M295.3 729.4h1.8M309.5 723.7h1.8M276.3 752.5h1.8M287.8 732.7h1.8M280.9 730.8h1.8M330.9 701.2h1.8M293.2 720.5h1.8M263.9 714.1h1.8M313.1 709.7h1.8M298.4 740.2h1.8M302.9 719.7h1.8M292.7 722.0h1.8M292.9 729.2h1.8M295.8 722.5h1.8M302.3 726.1h1.8M343.2 704.0h1.8M389.2 671.5h1.8M316.0 721.6h1.8M265.7 752.0h1.8M345.0 707.7h1.8M311.5 704.8h1.8M294.9 725.9h1.8M299.5 720.2h1.8M325.8 705.8h1.8M266.5 751.9h1.8M289.4 721.5h1.8M278.8 746.6h1.8M280.2 737.1h1.8M276.8 734.9h1.8M276.8 724.5h1.8M292.3 727.7h1.8M260.4 745.3h1.8M329.3 708.8h1.8M269.6 731.0h1.8M261.1 743.8h1.8M303.9 725.0h1.8M348.8 718.4h1.8M312.0 727.1h1.8M289.3 740.3h1.8M281.5 739.9h1.8M357.8 700.8h1.8M291.5 721.3h1.8M311.5 702.2h1.8M267.7 737.8h1.8M276.9 733.5h1.8M342.9 689.4h1.8M273.8 738.0h1.8M271.8 737.7h1.8M287.6 724.3h1.8M328.7 732.4h1.8M279.4 723.4h1.8M260.7 747.2h1.8M263.2 743.0h1.8M319.9 715.8h1.8M334.3 714.3h1.8M275.7 731.2h1.8M332.0 714.8h1.8M335.3 712.5h1.8M331.4 704.1h1.8M263.2 742.9h1.8M314.0 716.9h1.8M289.7 741.2h1.8M270.9 741.2h1.8M269.0 752.0h1.8M391.6 682.5h1.8M273.6 741.5h1.8M320.3 730.1h1.8M294.3 722.6h1.8M351.7 705.4h1.8M266.7 736.9h1.8M379.8 672.7h1.8M263.7 738.3h1.8M273.9 752.1h1.8M267.2 752.1h1.8M372.2 702.9h1.8M352.8 693.2h1.8M368.2 705.9h1.8M274.1 746.7h1.8M356.2 687.1h1.8M305.4 713.2h1.8M321.8 706.3h1.8M296.5 727.5h1.8M264.3 746.4h1.8M334.6 712.2h1.8M318.4 713.1h1.8M286.5 723.0h1.8M369.2 729.2h1.8M330.7 704.2h1.8M267.0 738.4h1.8M323.1 695.4h1.8M297.2 734.0h1.8M378.7 702.2h1.8M269.0 730.3h1.8M273.8 714.4h1.8M277.4 731.8h1.8M310.8 710.7h1.8M275.7 732.2h1.8M276.8 731.7h1.8M280.9 732.7h1.8M268.3 745.7h1.8M299.0 724.9h1.8M278.2 752.9h1.8M299.0 720.9h1.8M273.6 736.5h1.8M323.8 722.7h1.8M265.9 743.5h1.8M300.0 730.8h1.8M280.7 753.2h1.8M336.4 726.7h1.8M384.6 662.7h1.8M322.0 697.8h1.8M284.8 728.5h1.8M367.0 707.3h1.8M274.6 728.4h1.8M355.3 693.4h1.8M263.7 750.0h1.8M260.0 742.8h1.8M261.9 749.8h1.8M300.3 732.1h1.8M305.3 727.6h1.8M317.0 703.6h1.8M314.7 720.9h1.8M313.9 728.4h1.8M294.3 722.7h1.8M330.2 703.8h1.8M344.3 686.9h1.8M260.4 743.4h1.8M322.8 708.4h1.8M281.7 730.9h1.8M294.2 735.9h1.8M325.5 697.6h1.8M275.7 722.3h1.8M273.7 734.7h1.8M263.5 748.0h1.8M265.4 737.0h1.8M292.1 724.9h1.8M283.5 723.6h1.8M276.3 730.7h1.8M305.3 708.2h1.8M307.4 706.6h1.8M267.4 729.4h1.8M390.9 662.2h1.8M303.8 715.4h1.8M314.8 716.6h1.8M325.9 721.3h1.8M286.0 727.6h1.8M304.7 729.0h1.8M287.1 725.9h1.8M298.6 738.6h1.8M307.0 732.0h1.8M287.3 732.4h1.8M352.7 689.4h1.8M316.8 709.3h1.8M319.6 711.8h1.8M342.3 700.0h1.8M266.3 752.7h1.8M320.5 708.8h1.8M264.3 749.8h1.8M321.1 716.1h1.8M276.8 733.4h1.8M280.2 725.9h1.8M283.5 735.2h1.8M322.7 717.6h1.8M282.8 753.1h1.8M275.0 745.6h1.8M326.9 710.7h1.8M338.0 687.5h1.8M276.6 746.5h1.8M361.8 720.5h1.8M270.9 742.2h1.8M261.7 751.1h1.8M367.5 706.3h1.8M283.6 727.6h1.8M290.8 732.6h1.8M300.5 722.6h1.8M288.8 726.7h1.8M265.0 734.2h1.8M260.2 752.1h1.8M264.7 737.7h1.8M282.6 735.2h1.8M286.7 746.4h1.8M285.4 719.8h1.8M392.7 677.9h1.8M291.2 736.5h1.8M322.1 719.6h1.8M307.0 714.7h1.8M315.3 722.3h1.8M277.8 727.5h1.8M293.1 722.7h1.8M364.5 688.3h1.8M292.0 711.5h1.8M296.8 717.4h1.8M322.0 711.6h1.8M260.3 744.8h1.8M267.5 750.0h1.8M344.9 715.0h1.8M345.7 708.1h1.8M303.9 720.3h1.8M345.2 698.8h1.8M393.5 666.6h1.8M289.4 740.2h1.8M272.3 741.6h1.8M266.6 749.3h1.8M375.2 686.0h1.8M259.8 738.9h1.8M321.1 718.3h1.8M260.9 743.3h1.8M378.7 688.8h1.8M285.7 743.2h1.8M365.8 698.7h1.8M302.1 718.2h1.8M283.5 721.4h1.8M281.4 721.1h1.8M396.2 660.4h1.8M315.3 711.1h1.8M337.2 708.9h1.8M268.1 732.0h1.8M266.7 730.2h1.8M380.2 684.0h1.8M361.4 683.7h1.8M299.4 727.1h1.8M279.7 741.2h1.8M259.5 736.1h1.8M338.5 699.0h1.8M266.0 739.9h1.8M263.4 743.7h1.8M289.7 735.2h1.8M301.6 718.8h1.8M264.2 751.6h1.8M279.6 731.5h1.8M262.7 741.1h1.8M266.1 737.4h1.8M294.1 731.4h1.8M304.8 710.2h1.8M327.2 728.8h1.8M305.4 713.8h1.8M268.7 738.3h1.8M311.8 723.7h1.8M302.4 718.0h1.8M279.2 718.7h1.8M288.2 741.0h1.8M302.2 730.8h1.8M260.6 743.9h1.8M323.0 749.2h1.8M290.3 722.2h1.8M292.1 741.0h1.8M368.0 689.1h1.8M288.2 732.0h1.8M362.4 684.2h1.8M320.8 709.4h1.8M267.0 737.9h1.8M298.3 737.8h1.8M289.8 732.9h1.8M270.0 748.1h1.8M379.6 683.2h1.8M303.7 718.8h1.8M265.0 729.0h1.8M260.0 746.0h1.8M283.0 724.3h1.8M357.0 699.0h1.8M267.5 743.0h1.8M350.0 692.4h1.8M348.4 705.3h1.8M322.3 731.6h1.8M298.3 710.6h1.8M359.4 693.0h1.8M292.8 741.3h1.8M297.3 725.1h1.8M324.6 717.6h1.8M359.9 703.6h1.8M262.1 747.7h1.8M259.9 740.2h1.8M268.9 738.1h1.8M281.0 742.7h1.8M282.3 723.8h1.8M266.4 728.7h1.8M263.7 741.9h1.8M275.5 741.5h1.8M291.6 722.8h1.8M358.9 705.6h1.8M265.5 738.0h1.8M309.3 696.4h1.8M300.9 701.4h1.8M283.6 738.9h1.8M321.8 694.9h1.8M337.5 732.0h1.8M262.2 753.1h1.8M265.0 735.2h1.8M337.8 715.0h1.8M261.6 753.1h1.8M270.2 737.0h1.8M289.4 736.0h1.8M275.1 739.8h1.8M347.9 708.4h1.8M262.6 752.6h1.8M276.7 737.9h1.8M333.3 681.1h1.8M340.0 708.3h1.8M281.2 727.5h1.8M266.0 744.5h1.8M260.0 740.3h1.8M270.6 739.0h1.8M303.6 732.3h1.8M271.4 729.4h1.8M287.3 734.8h1.8M265.6 742.4h1.8M368.2 687.1h1.8M283.8 726.0h1.8M311.0 709.8h1.8M289.6 734.1h1.8M315.4 704.6h1.8M322.4 703.9h1.8M288.3 739.6h1.8M365.2 694.4h1.8M305.7 702.3h1.8M269.6 752.1h1.8M273.0 746.6h1.8M272.6 730.6h1.8M337.9 695.3h1.8M287.2 731.9h1.8M296.1 716.3h1.8M392.6 667.9h1.8M271.5 745.1h1.8M286.3 723.6h1.8M353.3 709.9h1.8M260.4 727.5h1.8M289.9 739.4h1.8M370.1 700.3h1.8M272.9 733.7h1.8M294.1 740.1h1.8M282.1 739.1h1.8M284.6 720.9h1.8M286.6 719.2h1.8M279.0 729.0h1.8M308.0 726.5h1.8M291.4 734.8h1.8M299.7 742.2h1.8M280.7 747.4h1.8M322.0 697.8h1.8M269.2 739.6h1.8M337.7 700.2h1.8M328.9 706.6h1.8M345.2 692.3h1.8M359.5 689.2h1.8M274.8 732.1h1.8M267.6 740.7h1.8M286.7 720.0h1.8M316.7 706.2h1.8M275.1 751.6h1.8M266.7 752.7h1.8M286.9 731.4h1.8M310.0 729.7h1.8M314.3 702.4h1.8M263.7 748.7h1.8M273.7 733.6h1.8M383.7 692.3h1.8M296.1 722.9h1.8M298.2 737.6h1.8M276.4 735.6h1.8M318.5 716.9h1.8M295.9 732.8h1.8M380.0 662.3h1.8M292.0 730.6h1.8M261.9 735.1h1.8M288.5 733.1h1.8M299.0 723.7h1.8M344.2 708.0h1.8M274.8 727.0h1.8M260.6 718.7h1.8M290.9 713.7h1.8M262.9 731.2h1.8M301.6 720.2h1.8M314.1 720.7h1.8M300.5 722.1h1.8M261.6 745.7h1.8M314.6 706.4h1.8M274.1 745.9h1.8M261.7 746.8h1.8M261.8 752.7h1.8M263.5 752.7h1.8M280.4 729.7h1.8M328.2 705.8h1.8M297.4 721.5h1.8M267.1 745.5h1.8M270.6 728.6h1.8M262.9 739.5h1.8M281.0 725.3h1.8M328.3 717.8h1.8M270.4 739.8h1.8M268.9 733.2h1.8M274.5 742.1h1.8M299.4 699.9h1.8M279.4 736.5h1.8M277.2 727.2h1.8M345.7 673.6h1.8M345.5 697.6h1.8M276.7 742.0h1.8M277.0 740.3h1.8M302.9 724.1h1.8M365.3 708.2h1.8M259.5 740.7h1.8M332.8 706.7h1.8M265.0 738.3h1.8M280.9 729.9h1.8M298.8 716.2h1.8M295.6 723.6h1.8M314.0 717.0h1.8M273.5 752.5h1.8M284.6 720.5h1.8M314.7 714.9h1.8M341.0 718.1h1.8M309.0 723.4h1.8M385.6 672.8h1.8M295.3 742.2h1.8M296.5 727.3h1.8M289.8 718.9h1.8M275.4 728.7h1.8M299.0 718.6h1.8M260.8 736.9h1.8M266.4 744.5h1.8M354.3 685.9h1.8M278.5 739.2h1.8M390.9 675.5h1.8M282.5 734.2h1.8M265.0 752.5h1.8M269.2 741.2h1.8M301.3 717.6h1.8M389.5 676.7h1.8M380.8 684.3h1.8M403.7 671.7h1.8M345.5 702.0h1.8M293.3 740.5h1.8M287.3 739.1h1.8M380.1 662.5h1.8M276.5 736.5h1.8M320.4 724.6h1.8M295.1 734.1h1.8M317.4 708.6h1.8M261.9 744.6h1.8M261.3 734.6h1.8M283.8 738.6h1.8M363.9 691.7h1.8M262.0 748.8h1.8M262.1 735.4h1.8M273.2 738.4h1.8M280.8 731.0h1.8M260.5 748.5h1.8M281.1 732.6h1.8M295.1 718.4h1.8M304.8 739.9h1.8M307.5 747.4h1.8M290.2 727.4h1.8M350.3 700.7h1.8M314.3 726.3h1.8M361.5 700.8h1.8M282.6 737.0h1.8M298.5 716.6h1.8M297.1 725.7h1.8M275.0 751.3h1.8M361.0 683.8h1.8M324.5 690.5h1.8M278.9 739.2h1.8M261.3 749.1h1.8M261.8 751.8h1.8M262.4 731.8h1.8M282.7 740.3h1.8M277.2 737.5h1.8M316.2 713.5h1.8M283.5 735.4h1.8M334.0 688.4h1.8M263.8 743.6h1.8M262.1 749.8h1.8M336.8 704.3h1.8M287.3 721.9h1.8M361.6 710.0h1.8M284.1 734.5h1.8M275.1 745.8h1.8M262.0 745.6h1.8M345.5 713.1h1.8M269.7 729.3h1.8M300.7 723.0h1.8M285.0 733.0h1.8M369.5 665.6h1.8M285.0 722.3h1.8M330.2 703.0h1.8M298.1 726.6h1.8M261.8 740.0h1.8M289.5 716.0h1.8M343.4 707.9h1.8M304.9 726.6h1.8M370.9 706.9h1.8M382.6 708.2h1.8M297.0 731.8h1.8M272.3 733.5h1.8M270.3 731.7h1.8M264.8 752.5h1.8M365.2 704.3h1.8M273.3 729.5h1.8M305.1 720.4h1.8M303.8 702.9h1.8M282.1 731.3h1.8M285.5 731.5h1.8M275.8 736.0h1.8M327.1 710.6h1.8M306.1 723.2h1.8M292.9 719.8h1.8M339.5 690.7h1.8M273.5 722.5h1.8M293.0 720.4h1.8M360.9 689.3h1.8M292.0 719.4h1.8M263.7 735.8h1.8M314.4 711.2h1.8M347.8 699.4h1.8M282.8 728.5h1.8M315.2 726.0h1.8M275.0 727.4h1.8M284.2 724.3h1.8M292.7 719.9h1.8M368.8 691.5h1.8M325.3 675.6h1.8M294.2 719.0h1.8M274.6 725.2h1.8M341.2 719.0h1.8M375.6 691.2h1.8M358.9 686.5h1.8M261.4 738.3h1.8M297.2 729.1h1.8M290.0 723.4h1.8M348.2 695.8h1.8M296.0 741.0h1.8M293.6 740.5h1.8M334.7 695.2h1.8M274.7 739.4h1.8M294.8 727.4h1.8M268.8 738.5h1.8M263.3 742.8h1.8M288.9 726.7h1.8M301.9 725.8h1.8M302.8 735.2h1.8M267.3 752.3h1.8M299.3 718.3h1.8M311.6 724.9h1.8M268.1 734.2h1.8M302.0 724.1h1.8M296.3 716.4h1.8M280.3 727.0h1.8M335.5 698.8h1.8M380.8 684.7h1.8M272.5 747.2h1.8M374.7 692.8h1.8M283.6 745.4h1.8M264.6 723.0h1.8M356.7 683.8h1.8M305.6 721.1h1.8M285.6 716.8h1.8M367.8 669.1h1.8M281.3 726.4h1.8M296.5 726.0h1.8M266.0 750.7h1.8M273.6 730.1h1.8M270.8 734.7h1.8M265.9 752.3h1.8M269.9 747.2h1.8M272.3 733.2h1.8M259.6 741.1h1.8M259.9 751.2h1.8M285.2 731.6h1.8M259.8 745.6h1.8M262.3 752.9h1.8M292.8 706.6h1.8M301.3 731.1h1.8M263.4 747.7h1.8M262.0 747.7h1.8M296.5 720.3h1.8M313.8 728.6h1.8M289.8 723.7h1.8M286.3 727.8h1.8M294.8 720.6h1.8M282.2 751.4h1.8M278.8 742.1h1.8M267.5 742.8h1.8M326.4 699.3h1.8M323.1 695.1h1.8M322.1 713.1h1.8M293.2 725.9h1.8M323.7 738.4h1.8M283.4 723.9h1.8M274.6 734.8h1.8M276.4 741.8h1.8M271.8 738.3h1.8M295.2 734.4h1.8M311.4 715.5h1.8M307.5 728.1h1.8M313.2 718.2h1.8M288.8 725.5h1.8M319.1 713.3h1.8M391.5 695.7h1.8M270.2 726.4h1.8M291.6 742.3h1.8M319.5 728.6h1.8M284.5 741.8h1.8M342.4 681.4h1.8M281.0 734.0h1.8M321.9 709.6h1.8M305.4 726.7h1.8M273.1 741.3h1.8M310.6 729.1h1.8M295.9 729.5h1.8M298.5 737.0h1.8M288.5 731.4h1.8M272.1 737.7h1.8M270.5 748.6h1.8M266.5 744.3h1.8M278.5 736.0h1.8M270.0 753.2h1.8M316.2 733.9h1.8M260.8 734.8h1.8M274.9 725.7h1.8M293.9 700.0h1.8M305.7 727.5h1.8M341.7 703.9h1.8M338.4 711.0h1.8M297.0 704.2h1.8M295.0 727.4h1.8M318.3 714.7h1.8M282.1 741.8h1.8M288.2 728.6h1.8M283.9 734.0h1.8M289.3 732.2h1.8M267.6 746.4h1.8M336.7 704.9h1.8M357.4 681.4h1.8M282.3 729.1h1.8M360.3 706.1h1.8M324.6 711.3h1.8M277.8 747.0h1.8M365.7 684.6h1.8M342.5 696.8h1.8M299.0 717.1h1.8M294.1 735.7h1.8M279.8 733.9h1.8M311.6 746.6h1.8M356.6 707.4h1.8M370.7 699.8h1.8M268.1 728.2h1.8M313.1 731.1h1.8M300.7 720.9h1.8M340.0 709.5h1.8M263.9 741.1h1.8M272.8 738.7h1.8M335.4 724.0h1.8M317.0 694.3h1.8M303.6 738.0h1.8M305.8 725.1h1.8M268.1 736.9h1.8M289.3 734.6h1.8M313.4 731.8h1.8M280.6 747.9h1.8M297.7 735.4h1.8M321.3 690.4h1.8M274.0 736.8h1.8M278.7 739.4h1.8M277.8 738.4h1.8M291.0 727.3h1.8M287.7 724.2h1.8M284.5 719.2h1.8M382.1 700.9h1.8M325.2 694.2h1.8M260.6 736.4h1.8M341.3 719.9h1.8M262.2 744.3h1.8M298.9 725.5h1.8M399.3 684.9h1.8M334.2 717.2h1.8M295.5 738.4h1.8M280.4 735.7h1.8M344.7 716.3h1.8M267.7 734.2h1.8M300.0 729.7h1.8M315.4 716.0h1.8M285.9 735.0h1.8M337.3 706.0h1.8M315.1 728.7h1.8M266.1 737.9h1.8M346.3 715.1h1.8M400.5 671.5h1.8M323.5 712.4h1.8M277.2 729.9h1.8M314.4 730.5h1.8M381.7 681.7h1.8M318.7 721.4h1.8M351.6 715.7h1.8M262.9 735.5h1.8M279.3 714.9h1.8M262.3 739.8h1.8M318.7 729.0h1.8M309.3 710.3h1.8M283.8 724.6h1.8M369.9 701.9h1.8M310.2 741.4h1.8M370.6 690.7h1.8M295.8 717.6h1.8M336.4 723.8h1.8M374.9 704.0h1.8M271.2 732.4h1.8M325.6 715.9h1.8M287.0 723.7h1.8M287.3 733.9h1.8M314.1 702.3h1.8M307.4 703.3h1.8M364.2 688.5h1.8M262.7 742.8h1.8M261.8 742.3h1.8M297.7 722.4h1.8M365.0 682.8h1.8M266.5 736.2h1.8M305.6 714.6h1.8M270.8 722.6h1.8M357.6 699.4h1.8M277.5 731.5h1.8M273.4 728.3h1.8M259.8 749.9h1.8M371.3 699.8h1.8M335.6 684.4h1.8M308.6 723.3h1.8M286.5 734.6h1.8M281.3 731.3h1.8M301.8 707.8h1.8M271.7 734.9h1.8M382.7 672.6h1.8M263.9 745.0h1.8M356.4 699.8h1.8M276.9 740.6h1.8M372.3 704.5h1.8M350.0 699.5h1.8M363.5 694.8h1.8M308.5 746.2h1.8M353.0 694.2h1.8M294.0 718.8h1.8M288.5 715.0h1.8M354.2 705.5h1.8M290.3 749.1h1.8M338.2 719.2h1.8M287.7 733.0h1.8M268.5 745.4h1.8M291.4 735.8h1.8M286.1 742.0h1.8M287.6 707.4h1.8M292.7 721.2h1.8M289.4 723.7h1.8M260.2 726.0h1.8M285.1 744.8h1.8M347.4 694.6h1.8M281.3 735.5h1.8M324.2 712.2h1.8M335.7 711.1h1.8M371.5 702.6h1.8M282.1 740.0h1.8M321.9 717.3h1.8M288.3 748.5h1.8M282.9 716.8h1.8M277.7 738.9h1.8M349.9 695.4h1.8M379.9 706.7h1.8M338.4 703.8h1.8M282.8 727.9h1.8M326.4 732.7h1.8M291.0 724.2h1.8M270.1 734.9h1.8M267.5 747.8h1.8M259.7 752.3h1.8M404.2 668.6h1.8M321.7 710.5h1.8M286.6 718.3h1.8M320.2 716.3h1.8M260.2 749.8h1.8M304.9 726.0h1.8M291.4 738.8h1.8M385.6 648.7h1.8M283.1 725.0h1.8M275.0 733.3h1.8M293.2 733.3h1.8M277.6 724.6h1.8M289.6 734.2h1.8M276.0 738.7h1.8M327.6 732.4h1.8M281.3 721.9h1.8M265.2 731.7h1.8M281.8 733.6h1.8M272.7 729.2h1.8M307.1 723.5h1.8M299.5 726.3h1.8M295.1 737.3h1.8M308.5 721.0h1.8M337.8 705.1h1.8M287.7 739.2h1.8M295.2 720.2h1.8M323.3 710.8h1.8M293.5 725.0h1.8M315.9 734.9h1.8M325.1 721.9h1.8M305.1 745.3h1.8M286.7 741.4h1.8M299.8 717.9h1.8M282.2 745.4h1.8M298.8 738.4h1.8M316.5 729.5h1.8M271.3 736.4h1.8M287.0 738.2h1.8M274.4 722.9h1.8M294.0 735.9h1.8M296.3 724.7h1.8M267.9 737.6h1.8M320.7 718.3h1.8M280.6 725.1h1.8M322.4 721.0h1.8M305.1 735.9h1.8M307.2 727.3h1.8M293.9 737.8h1.8M272.6 738.7h1.8M260.2 752.2h1.8M355.0 703.1h1.8M318.3 727.3h1.8M295.0 736.2h1.8M293.9 720.6h1.8M263.3 752.5h1.8M259.5 733.4h1.8M292.4 728.4h1.8M395.2 668.5h1.8M260.2 752.5h1.8M330.9 706.7h1.8M317.7 705.9h1.8M270.0 739.2h1.8M266.7 742.0h1.8M288.9 743.0h1.8M282.7 726.9h1.8M300.7 714.5h1.8M329.4 699.1h1.8M268.5 739.7h1.8M262.5 731.1h1.8M338.1 706.5h1.8M294.2 733.0h1.8M294.3 742.3h1.8M283.2 721.6h1.8M391.9 683.1h1.8M301.9 724.2h1.8M378.5 683.8h1.8M336.4 707.7h1.8M369.2 656.1h1.8M297.5 730.2h1.8M332.6 716.6h1.8M381.2 691.8h1.8M298.9 715.9h1.8M283.6 741.7h1.8M270.5 737.5h1.8M380.5 689.7h1.8M388.7 666.7h1.8M281.8 724.2h1.8M260.1 751.8h1.8M319.1 733.1h1.8M291.2 750.7h1.8M339.6 695.1h1.8M293.4 714.2h1.8M341.3 695.6h1.8M357.2 733.3h1.8M379.8 701.1h1.8M283.8 730.9h1.8M305.6 731.4h1.8M273.0 746.3h1.8M260.3 729.9h1.8M300.1 716.2h1.8M274.6 726.4h1.8M265.6 747.7h1.8M337.9 705.0h1.8M271.1 748.2h1.8M303.2 711.4h1.8M260.6 743.3h1.8M268.4 734.9h1.8M298.1 734.0h1.8M273.2 753.2h1.8M386.3 690.8h1.8M321.0 727.5h1.8M273.7 737.9h1.8M275.8 735.3h1.8M276.7 730.0h1.8M277.2 729.7h1.8M263.2 753.1h1.8M331.3 698.4h1.8M375.1 659.1h1.8M369.5 687.0h1.8M283.4 742.7h1.8M345.4 703.1h1.8M280.7 741.9h1.8M378.9 681.7h1.8M400.1 698.0h1.8M297.1 736.6h1.8M367.3 688.4h1.8M343.6 691.6h1.8M319.4 715.3h1.8M308.7 719.1h1.8M359.8 686.3h1.8M294.3 719.5h1.8M279.9 730.2h1.8M272.5 732.6h1.8M317.3 727.1h1.8M272.9 730.9h1.8M320.3 726.8h1.8M272.7 736.1h1.8M293.0 728.9h1.8M271.2 742.6h1.8M339.0 692.7h1.8M318.4 712.6h1.8M342.4 700.7h1.8M360.8 694.8h1.8M290.5 734.3h1.8M271.8 752.2h1.8M271.8 749.1h1.8M349.2 710.7h1.8M323.9 717.8h1.8M287.8 734.0h1.8M346.7 704.4h1.8M334.5 705.9h1.8M261.9 752.5h1.8M336.1 705.5h1.8M260.0 745.6h1.8M269.8 752.7h1.8M289.7 732.4h1.8M294.5 730.2h1.8M276.2 735.1h1.8M270.7 730.6h1.8M288.7 730.3h1.8M291.5 728.2h1.8M331.8 712.7h1.8M274.9 727.4h1.8M391.8 688.0h1.8M297.9 712.4h1.8M283.9 725.8h1.8M369.7 678.2h1.8M290.1 729.7h1.8M264.3 734.4h1.8M279.6 730.8h1.8M344.2 714.2h1.8M292.5 718.8h1.8M326.6 709.7h1.8M319.5 703.3h1.8M312.5 717.8h1.8M263.2 740.8h1.8M304.0 723.7h1.8M342.9 713.8h1.8M356.8 678.5h1.8M267.0 744.1h1.8M267.4 741.4h1.8M313.9 711.1h1.8M386.3 676.1h1.8M390.4 667.5h1.8M300.2 717.0h1.8M278.5 728.1h1.8M285.7 720.3h1.8M358.6 693.9h1.8M306.3 718.1h1.8M323.9 716.0h1.8M309.7 713.1h1.8M339.0 725.6h1.8M354.1 716.5h1.8M365.6 668.1h1.8M334.3 700.9h1.8M376.1 694.8h1.8M347.4 714.8h1.8M279.4 732.8h1.8M322.6 709.4h1.8M285.4 728.3h1.8M286.3 734.2h1.8M312.3 717.9h1.8M283.8 736.9h1.8M279.0 739.0h1.8M346.6 706.9h1.8M312.0 727.9h1.8M269.8 737.4h1.8M320.8 731.6h1.8M293.4 735.5h1.8M374.5 695.3h1.8M344.6 720.1h1.8M263.3 752.6h1.8M313.3 718.1h1.8M347.3 707.0h1.8M306.6 725.2h1.8M269.1 729.7h1.8M264.7 752.4h1.8M347.7 700.3h1.8M262.8 750.5h1.8M303.5 728.1h1.8M374.1 699.1h1.8M350.4 720.8h1.8M302.5 729.9h1.8M261.6 747.1h1.8M294.6 731.0h1.8M262.3 741.6h1.8M294.1 726.4h1.8M289.4 720.1h1.8M378.0 692.4h1.8M349.2 691.5h1.8M294.1 729.9h1.8M330.4 706.8h1.8M322.5 690.6h1.8M278.3 752.7h1.8M390.6 674.5h1.8M358.4 687.7h1.8M266.4 752.7h1.8M328.4 710.2h1.8M277.2 740.9h1.8M335.7 711.3h1.8M359.8 688.5h1.8M323.2 684.8h1.8M266.0 738.7h1.8M327.7 701.5h1.8M347.0 673.9h1.8M281.8 735.0h1.8M296.5 726.8h1.8M271.8 743.5h1.8M284.9 726.3h1.8M261.0 742.5h1.8M284.5 731.1h1.8M299.5 752.9h1.8M279.7 743.7h1.8M337.7 726.6h1.8M270.8 727.2h1.8M276.8 737.7h1.8M306.2 733.1h1.8M274.7 720.2h1.8M272.4 725.7h1.8M299.1 730.9h1.8M327.7 719.9h1.8M295.9 739.7h1.8M309.4 720.8h1.8M338.8 713.8h1.8M278.7 734.3h1.8M367.6 685.0h1.8M289.3 738.9h1.8M323.9 716.6h1.8M276.1 734.1h1.8M297.4 735.9h1.8M287.3 752.8h1.8M261.5 746.0h1.8M295.0 719.6h1.8M280.7 734.5h1.8M273.1 731.6h1.8M356.1 698.7h1.8M282.7 724.3h1.8M277.9 753.2h1.8M317.6 698.5h1.8M276.5 738.5h1.8M295.5 720.1h1.8M293.8 724.6h1.8M276.6 726.9h1.8M298.8 746.8h1.8M288.3 737.2h1.8M277.6 739.9h1.8M281.6 740.0h1.8M267.6 741.2h1.8M376.7 691.9h1.8M269.0 743.6h1.8M311.3 693.4h1.8M272.7 736.8h1.8M360.0 699.9h1.8M285.2 729.1h1.8M343.9 699.0h1.8M291.2 723.8h1.8M367.5 697.6h1.8M308.6 724.4h1.8M321.1 709.8h1.8M300.1 726.2h1.8M261.6 746.6h1.8M322.3 707.6h1.8M330.0 714.9h1.8M290.7 748.1h1.8M390.3 706.4h1.8M264.1 737.7h1.8M324.9 730.6h1.8M343.4 696.9h1.8M311.3 719.3h1.8M272.8 726.4h1.8M324.1 708.3h1.8M352.0 708.7h1.8M354.3 703.6h1.8M289.9 723.2h1.8M332.0 709.2h1.8M317.5 706.5h1.8M277.6 746.2h1.8M315.4 699.9h1.8M274.5 748.8h1.8M274.8 744.0h1.8M374.7 685.9h1.8M266.6 741.1h1.8M376.9 683.4h1.8M314.5 702.9h1.8M259.8 749.5h1.8M382.2 693.8h1.8M343.5 701.3h1.8M326.4 716.1h1.8M337.7 722.2h1.8M377.4 718.4h1.8M262.4 752.9h1.8M266.2 730.3h1.8M384.3 669.2h1.8M344.5 700.2h1.8M292.4 747.6h1.8M265.6 751.9h1.8M326.0 728.1h1.8M335.7 702.7h1.8M271.1 741.9h1.8M266.0 736.1h1.8M362.5 670.1h1.8M310.5 722.1h1.8M344.7 697.4h1.8M263.9 747.3h1.8M265.7 752.6h1.8M267.4 739.0h1.8M359.2 685.3h1.8M334.8 715.8h1.8M294.1 728.2h1.8M320.3 710.9h1.8M336.2 731.7h1.8M271.9 730.9h1.8M343.0 721.6h1.8M292.6 741.6h1.8M304.7 726.4h1.8M280.9 730.2h1.8M303.1 713.1h1.8M376.7 706.2h1.8M278.9 735.9h1.8M362.7 688.9h1.8M372.4 704.7h1.8M274.8 735.4h1.8M333.5 687.3h1.8M278.5 727.0h1.8M264.1 747.6h1.8M389.3 689.5h1.8M381.3 686.8h1.8M355.0 700.3h1.8M260.6 744.0h1.8M274.7 737.2h1.8M277.9 733.6h1.8M272.4 736.8h1.8M285.1 745.9h1.8M290.5 719.7h1.8M274.9 746.7h1.8M398.9 690.4h1.8M281.5 735.0h1.8M296.4 736.1h1.8M282.4 730.6h1.8M283.1 735.0h1.8M259.7 742.2h1.8M286.9 732.1h1.8M265.8 740.1h1.8M262.0 746.5h1.8M320.5 720.7h1.8M298.0 732.5h1.8M275.9 738.1h1.8M374.5 681.7h1.8M345.8 692.7h1.8M260.2 738.7h1.8M283.3 731.1h1.8M283.6 715.9h1.8M283.2 738.8h1.8M314.1 719.2h1.8M289.3 728.8h1.8M297.1 724.9h1.8M360.6 692.8h1.8M332.5 725.4h1.8M317.0 709.3h1.8M277.8 727.0h1.8M309.2 731.6h1.8M353.9 696.2h1.8M319.2 724.0h1.8M294.2 723.4h1.8M275.0 740.0h1.8M275.6 725.1h1.8M321.6 721.1h1.8M312.5 719.7h1.8M292.7 713.5h1.8M288.6 740.7h1.8M281.3 723.0h1.8M277.1 722.5h1.8M259.6 747.5h1.8M263.6 739.7h1.8M280.4 709.7h1.8M307.3 721.2h1.8M291.8 717.8h1.8M261.4 733.8h1.8M306.4 725.5h1.8M265.9 748.1h1.8M330.2 698.3h1.8M302.8 718.6h1.8M268.2 737.3h1.8M293.5 726.8h1.8M269.9 736.5h1.8M262.8 753.1h1.8M277.0 747.6h1.8M283.8 731.3h1.8M355.3 709.6h1.8M359.8 665.0h1.8M267.2 737.8h1.8M293.7 738.0h1.8M283.7 731.0h1.8M289.6 729.2h1.8M267.5 730.4h1.8M259.9 743.5h1.8M262.1 738.6h1.8M352.2 697.2h1.8M338.2 705.5h1.8M385.6 665.1h1.8M264.4 738.3h1.8M319.4 703.4h1.8M275.3 739.3h1.8M293.5 722.7h1.8M373.4 676.5h1.8M287.0 721.3h1.8M269.1 736.8h1.8M330.5 725.5h1.8M325.7 715.3h1.8M271.3 741.4h1.8M344.1 676.5h1.8M279.6 735.1h1.8M294.9 732.6h1.8M284.8 742.0h1.8M279.7 745.5h1.8M277.2 732.1h1.8M302.3 725.0h1.8M307.2 719.4h1.8M273.2 726.4h1.8M275.5 726.4h1.8M362.8 666.2h1.8M277.2 753.2h1.8M314.4 682.8h1.8M392.8 679.4h1.8M315.2 707.2h1.8M311.1 714.0h1.8M300.3 732.4h1.8M314.4 714.0h1.8M296.3 733.3h1.8M319.8 720.4h1.8M316.1 715.4h1.8M286.1 721.8h1.8M282.0 738.2h1.8M261.5 741.7h1.8M316.6 729.7h1.8M377.4 684.7h1.8M259.4 737.8h1.8M318.6 724.2h1.8M275.6 740.9h1.8M276.0 744.7h1.8M268.3 733.4h1.8M280.4 711.9h1.8M283.7 733.4h1.8M288.1 717.3h1.8M363.3 694.4h1.8M277.3 733.0h1.8M265.2 726.8h1.8M289.5 733.6h1.8M328.1 726.4h1.8M316.4 711.0h1.8M314.5 723.3h1.8M270.3 740.1h1.8M325.0 708.6h1.8M333.6 698.5h1.8M306.3 721.0h1.8M269.4 740.7h1.8M353.0 706.5h1.8M308.1 714.0h1.8M273.8 747.2h1.8M300.1 722.4h1.8M299.8 715.7h1.8M376.9 699.3h1.8M259.6 738.8h1.8M362.3 679.4h1.8M292.8 728.8h1.8M277.2 736.1h1.8M261.4 744.2h1.8M279.7 731.4h1.8M337.2 680.2h1.8M286.9 719.3h1.8M334.5 718.5h1.8M296.6 734.5h1.8M350.0 700.1h1.8M289.5 719.6h1.8M284.7 740.2h1.8M271.1 735.1h1.8M259.6 742.4h1.8M311.2 732.9h1.8M263.9 752.0h1.8M278.4 723.1h1.8M290.3 730.5h1.8M282.4 731.7h1.8M333.7 696.9h1.8M294.7 734.3h1.8M370.8 698.4h1.8M294.6 731.6h1.8M390.5 660.2h1.8M261.7 736.6h1.8M271.0 750.5h1.8M271.7 729.7h1.8M337.9 690.0h1.8M318.0 725.2h1.8M324.3 715.6h1.8M302.5 715.8h1.8M268.8 737.2h1.8M275.1 748.6h1.8M262.8 752.4h1.8M337.9 690.4h1.8M301.1 711.6h1.8M355.7 707.9h1.8M382.7 671.7h1.8M264.0 739.5h1.8M274.3 734.1h1.8M263.4 743.6h1.8M283.0 719.7h1.8M298.8 714.2h1.8M313.8 720.0h1.8M303.6 726.7h1.8M391.2 705.0h1.8M274.0 739.8h1.8M395.1 692.9h1.8M286.8 728.9h1.8M270.9 707.8h1.8M284.1 725.6h1.8M305.6 727.4h1.8M342.9 704.9h1.8M367.7 701.4h1.8M272.3 743.4h1.8M282.2 728.6h1.8M268.1 734.8h1.8M275.3 748.1h1.8M289.6 728.0h1.8M382.6 679.8h1.8M267.6 752.4h1.8M280.4 751.1h1.8M338.2 693.3h1.8M364.7 682.6h1.8M268.9 749.0h1.8M259.7 737.6h1.8M288.4 734.9h1.8M294.6 739.5h1.8M263.7 733.0h1.8M287.7 728.7h1.8M264.0 730.9h1.8M295.8 733.1h1.8M333.4 697.1h1.8M286.4 723.8h1.8M299.1 706.4h1.8M328.8 731.0h1.8M311.1 732.0h1.8M285.6 728.1h1.8M305.7 732.1h1.8M347.1 672.5h1.8M267.6 747.7h1.8M354.6 694.8h1.8M285.1 737.3h1.8M281.7 718.5h1.8M373.1 703.7h1.8M296.2 723.7h1.8M331.4 724.3h1.8M370.8 681.1h1.8M291.3 711.9h1.8M264.4 744.1h1.8M346.4 699.6h1.8M288.6 721.4h1.8M372.3 680.3h1.8M366.4 690.2h1.8M400.0 682.9h1.8M280.6 726.7h1.8M285.9 735.4h1.8M392.3 695.1h1.8M271.1 723.5h1.8M285.9 726.9h1.8M360.0 703.4h1.8M268.5 735.6h1.8M268.3 733.3h1.8M331.3 687.0h1.8M302.4 728.3h1.8M325.1 723.0h1.8M263.7 734.1h1.8M375.4 677.6h1.8M393.4 680.3h1.8M274.6 727.8h1.8M301.0 715.7h1.8M286.1 753.2h1.8M279.5 731.4h1.8M352.5 697.9h1.8M401.9 678.7h1.8M311.4 719.5h1.8M318.3 710.2h1.8M355.5 688.1h1.8M279.0 746.4h1.8M352.3 695.0h1.8M300.0 717.2h1.8M311.5 716.6h1.8M260.6 729.8h1.8M294.7 724.6h1.8M337.1 693.3h1.8M357.1 693.9h1.8M300.9 726.4h1.8M267.3 752.9h1.8M266.0 732.4h1.8M275.7 743.2h1.8M346.5 706.4h1.8M260.6 752.9h1.8M320.1 711.8h1.8M301.6 725.8h1.8M270.4 731.8h1.8M356.6 697.2h1.8M405.4 687.0h1.8M278.1 739.4h1.8M282.8 729.9h1.8M274.8 744.0h1.8M288.5 736.0h1.8M275.3 742.3h1.8M279.9 728.4h1.8M316.2 721.2h1.8M279.7 736.6h1.8M388.3 695.1h1.8M279.7 745.0h1.8M329.2 722.7h1.8M294.8 718.3h1.8M294.0 736.8h1.8M333.7 690.2h1.8M306.6 737.1h1.8M346.5 692.5h1.8M337.7 708.8h1.8M344.5 709.6h1.8M259.9 744.3h1.8M361.8 702.5h1.8M263.7 732.2h1.8M289.9 718.1h1.8M290.3 734.1h1.8M262.6 741.2h1.8M338.9 694.2h1.8M317.3 720.8h1.8M313.8 722.0h1.8M260.1 752.1h1.8M281.0 718.3h1.8M320.3 721.5h1.8M306.3 724.9h1.8M299.4 719.1h1.8M272.4 716.3h1.8M300.6 725.7h1.8M301.5 733.7h1.8M310.8 725.7h1.8M332.8 709.4h1.8M278.1 729.3h1.8M350.8 697.9h1.8M319.4 721.6h1.8M264.2 742.7h1.8M276.0 741.3h1.8M262.1 745.7h1.8M281.6 732.1h1.8M351.4 706.1h1.8M391.0 681.0h1.8M279.4 740.0h1.8M322.9 713.0h1.8M305.1 721.6h1.8M312.3 715.3h1.8M292.7 712.8h1.8M323.2 720.1h1.8M309.1 726.7h1.8M295.8 736.2h1.8M271.9 724.5h1.8M301.5 731.5h1.8M351.8 705.9h1.8M329.4 701.4h1.8M330.8 718.2h1.8M273.0 752.6h1.8M295.1 708.3h1.8M287.9 734.1h1.8M264.1 730.7h1.8M274.6 725.4h1.8M273.6 736.5h1.8M305.1 719.6h1.8M281.5 737.4h1.8M312.3 722.2h1.8M332.5 682.2h1.8M304.7 721.7h1.8M260.1 752.4h1.8M338.5 717.5h1.8M350.0 697.2h1.8M379.8 684.6h1.8M321.4 710.6h1.8M376.4 681.3h1.8M339.2 704.5h1.8M272.3 737.6h1.8M387.5 675.3h1.8M260.8 746.8h1.8M265.6 731.7h1.8M324.6 716.2h1.8M273.6 735.1h1.8M301.7 711.7h1.8M268.8 725.3h1.8M357.8 685.2h1.8M278.4 725.4h1.8M265.2 735.3h1.8M318.0 710.7h1.8M295.8 722.8h1.8M332.0 713.5h1.8M286.8 724.3h1.8M334.7 705.7h1.8M282.1 729.5h1.8M306.9 736.5h1.8M283.9 688.8h1.8M327.0 717.3h1.8M285.4 733.6h1.8M266.9 734.5h1.8M272.0 744.0h1.8M332.7 705.1h1.8M283.9 737.3h1.8M287.3 728.1h1.8M346.6 698.1h1.8M280.9 722.4h1.8M331.9 713.7h1.8M263.5 731.8h1.8M351.3 699.4h1.8M359.5 700.2h1.8M265.6 727.0h1.8M269.4 731.7h1.8M277.1 744.9h1.8M287.7 740.3h1.8M309.8 724.6h1.8M302.7 741.5h1.8M285.8 720.2h1.8M374.0 692.3h1.8M303.2 715.9h1.8M261.5 748.8h1.8M289.6 721.9h1.8M382.3 659.6h1.8M321.9 728.2h1.8M272.5 734.8h1.8M349.0 701.3h1.8M326.8 707.6h1.8M307.1 730.9h1.8M269.5 742.0h1.8M270.2 730.2h1.8M262.4 742.9h1.8M322.4 720.7h1.8M274.9 730.2h1.8M331.7 698.3h1.8M263.3 752.4h1.8M280.0 736.1h1.8M288.0 732.7h1.8M302.7 744.5h1.8M295.0 724.2h1.8M302.9 717.8h1.8M397.4 675.2h1.8M289.9 725.9h1.8M297.5 736.0h1.8M398.4 694.3h1.8M264.8 740.3h1.8M285.4 724.2h1.8M374.8 679.2h1.8M262.1 744.7h1.8M366.2 691.3h1.8M288.9 727.2h1.8M260.6 734.6h1.8M281.2 741.9h1.8M279.8 743.8h1.8M281.0 743.4h1.8M316.9 703.7h1.8M294.6 730.4h1.8M263.8 739.3h1.8M290.2 732.9h1.8M326.3 708.4h1.8M290.9 740.9h1.8M372.0 689.8h1.8M300.7 728.1h1.8M313.9 713.9h1.8M383.7 660.9h1.8M287.9 720.0h1.8M272.2 732.5h1.8M372.9 679.9h1.8M286.6 738.9h1.8M262.8 729.3h1.8M272.8 746.7h1.8M263.0 741.9h1.8M370.1 701.1h1.8M261.7 752.8h1.8M374.1 704.3h1.8M273.7 753.1h1.8M278.1 724.8h1.8M359.8 709.9h1.8M283.6 740.2h1.8M260.4 747.3h1.8M269.2 729.2h1.8M362.3 684.5h1.8M284.2 744.6h1.8M373.2 684.6h1.8M268.6 727.4h1.8M262.7 738.5h1.8M310.8 724.9h1.8M386.0 680.5h1.8M289.0 723.9h1.8M266.0 736.8h1.8M297.6 725.8h1.8M285.2 736.7h1.8M259.7 749.1h1.8M265.2 747.1h1.8M281.3 734.4h1.8M298.4 721.3h1.8M288.7 736.1h1.8M282.5 748.9h1.8M284.7 724.0h1.8M363.8 717.5h1.8M260.0 738.1h1.8M295.1 723.0h1.8M266.9 729.0h1.8M384.6 685.9h1.8M316.1 717.4h1.8M330.7 716.3h1.8M275.3 729.6h1.8M313.8 721.0h1.8M278.3 745.1h1.8M352.2 678.1h1.8M327.4 704.8h1.8M275.3 732.4h1.8M303.0 719.4h1.8M276.5 739.8h1.8M355.0 697.8h1.8M302.6 725.4h1.8M371.3 692.3h1.8M385.6 669.0h1.8M259.5 744.2h1.8M307.1 709.0h1.8M276.6 752.8h1.8M369.4 708.6h1.8M287.6 724.3h1.8M262.8 749.6h1.8M280.4 735.3h1.8M352.7 696.8h1.8M272.1 739.6h1.8M309.9 713.9h1.8M321.5 705.1h1.8M260.1 744.4h1.8M299.8 729.2h1.8M261.1 735.4h1.8M283.4 741.9h1.8M268.8 739.4h1.8M358.5 691.9h1.8M299.3 728.0h1.8M284.8 729.4h1.8M265.7 744.6h1.8M279.4 730.8h1.8M299.3 729.5h1.8M326.1 706.3h1.8M265.5 744.5h1.8M270.4 731.6h1.8M346.9 694.2h1.8M275.5 729.1h1.8M271.8 730.4h1.8M292.3 717.5h1.8M347.8 692.3h1.8M262.4 746.4h1.8M299.3 715.9h1.8M267.9 747.1h1.8M308.8 717.5h1.8M327.8 702.9h1.8M321.3 720.2h1.8M284.4 728.8h1.8M361.1 695.1h1.8M299.8 728.3h1.8M296.3 722.1h1.8M394.4 672.5h1.8M286.4 740.7h1.8M331.7 716.3h1.8M268.3 753.2h1.8M294.9 724.9h1.8M352.9 684.1h1.8M301.8 734.4h1.8M365.1 685.3h1.8M346.4 705.0h1.8M333.2 702.0h1.8M287.9 725.4h1.8M278.5 736.2h1.8M297.3 725.5h1.8M319.5 712.7h1.8M358.9 710.9h1.8M333.6 701.4h1.8M278.1 748.3h1.8M274.2 741.3h1.8M276.4 746.6h1.8M283.7 750.0h1.8M288.7 735.5h1.8M355.5 687.3h1.8M288.3 743.7h1.8M276.2 733.8h1.8M314.0 743.2h1.8M321.1 725.6h1.8M279.5 741.1h1.8M264.9 751.9h1.8M401.5 675.4h1.8M393.6 686.6h1.8M261.1 744.7h1.8M289.8 723.9h1.8M314.9 723.5h1.8M309.1 715.3h1.8M259.4 746.1h1.8M261.1 752.3h1.8M299.4 738.1h1.8M281.8 708.9h1.8M379.3 692.1h1.8M292.9 718.7h1.8M327.2 704.8h1.8M290.4 721.0h1.8M347.3 700.4h1.8M294.6 742.9h1.8M278.2 733.0h1.8M312.8 718.6h1.8M297.9 742.6h1.8M265.2 741.4h1.8M300.5 711.6h1.8M330.3 729.7h1.8M305.7 716.6h1.8M267.2 744.5h1.8M278.3 728.0h1.8M339.3 704.5h1.8M260.4 726.6h1.8M280.1 730.9h1.8M286.7 737.1h1.8M276.0 727.0h1.8M299.0 722.2h1.8M346.6 708.2h1.8M266.7 735.1h1.8M334.9 696.4h1.8M305.8 711.8h1.8M262.6 742.0h1.8M262.8 714.4h1.8M317.0 733.0h1.8M289.2 722.3h1.8M299.7 713.0h1.8M324.5 710.9h1.8M290.8 721.2h1.8M302.8 725.7h1.8M281.1 730.3h1.8M273.9 752.8h1.8M340.2 711.9h1.8M287.7 732.2h1.8M262.0 738.3h1.8M302.7 728.5h1.8M268.9 728.5h1.8M282.3 735.4h1.8M273.6 749.5h1.8M261.8 741.9h1.8M275.4 728.5h1.8M289.9 745.7h1.8M294.5 735.4h1.8M282.4 739.9h1.8M269.3 730.9h1.8M308.6 711.1h1.8M303.0 727.2h1.8M280.1 743.1h1.8M291.6 721.9h1.8M267.7 736.2h1.8M280.6 723.6h1.8M270.4 736.3h1.8M265.4 742.7h1.8M309.2 713.6h1.8M283.1 736.9h1.8M373.8 690.6h1.8M371.0 688.1h1.8M274.3 738.3h1.8M293.1 735.8h1.8M286.5 734.6h1.8M369.4 687.9h1.8M269.0 740.8h1.8M300.9 721.6h1.8M288.7 724.3h1.8M342.1 705.9h1.8M270.0 725.7h1.8M272.3 731.6h1.8M384.7 675.2h1.8M313.1 704.2h1.8M350.8 688.2h1.8M291.3 728.1h1.8M270.8 741.5h1.8M369.0 704.5h1.8M270.3 746.6h1.8M267.0 742.0h1.8M267.6 722.1h1.8M261.0 741.2h1.8M269.7 733.5h1.8M268.0 733.8h1.8M268.9 733.2h1.8M372.7 694.9h1.8M270.9 752.1h1.8M309.7 724.7h1.8M312.5 727.5h1.8M259.6 735.3h1.8M286.0 738.8h1.8M293.8 701.9h1.8M373.6 691.3h1.8M307.5 716.2h1.8M268.6 744.1h1.8M280.9 746.5h1.8M272.2 741.1h1.8M273.8 734.1h1.8M291.7 728.9h1.8M267.3 740.2h1.8M280.4 747.8h1.8M390.4 654.0h1.8M274.4 739.8h1.8M296.3 709.1h1.8M267.6 750.6h1.8M361.7 694.2h1.8M270.2 732.6h1.8M266.8 714.5h1.8M307.6 720.2h1.8M265.0 750.1h1.8M274.2 749.2h1.8M294.7 739.8h1.8M353.3 724.8h1.8M272.2 734.7h1.8M280.9 734.5h1.8M286.8 742.1h1.8M300.6 716.9h1.8M275.6 727.9h1.8M343.4 701.4h1.8M271.2 714.3h1.8M302.1 739.9h1.8M319.1 711.8h1.8M285.1 725.9h1.8M261.5 739.9h1.8M328.4 703.2h1.8M300.2 719.7h1.8M299.8 739.3h1.8M309.1 722.6h1.8M282.5 728.0h1.8M277.0 735.8h1.8M310.8 719.2h1.8M318.4 697.4h1.8M376.2 680.5h1.8M344.3 707.4h1.8M283.4 741.2h1.8M296.0 723.9h1.8M343.9 702.4h1.8M298.2 715.9h1.8M277.5 731.9h1.8M281.1 728.7h1.8M272.8 722.3h1.8M306.6 739.5h1.8M382.5 650.0h1.8M271.2 719.3h1.8M266.9 734.4h1.8M263.4 735.5h1.8M352.2 707.3h1.8M300.2 726.2h1.8M292.2 726.1h1.8M285.9 733.8h1.8M289.8 726.7h1.8M292.9 736.0h1.8M266.2 740.4h1.8M357.1 727.1h1.8M285.0 739.6h1.8M364.2 694.6h1.8M288.8 720.9h1.8M294.7 720.1h1.8M278.2 731.4h1.8M353.0 693.8h1.8M276.8 749.1h1.8M336.1 720.4h1.8M344.8 680.5h1.8M279.1 728.1h1.8M259.8 726.0h1.8M287.5 740.1h1.8M294.6 746.5h1.8M343.2 704.3h1.8M336.2 728.4h1.8M284.7 714.5h1.8M329.9 715.7h1.8M344.9 712.9h1.8M287.2 722.1h1.8M264.9 744.0h1.8M313.3 706.1h1.8M285.1 746.3h1.8M328.1 712.3h1.8M267.0 742.2h1.8M265.0 739.3h1.8M328.5 711.7h1.8M265.3 753.2h1.8M282.5 752.6h1.8M287.0 724.9h1.8M281.3 715.2h1.8M261.0 750.4h1.8M272.8 748.1h1.8M383.0 690.1h1.8M274.4 731.9h1.8M361.6 698.5h1.8M261.7 736.1h1.8M346.1 696.9h1.8M265.9 747.3h1.8M279.1 731.8h1.8M315.4 712.9h1.8M286.0 732.6h1.8M294.1 718.0h1.8M286.5 730.7h1.8M272.6 732.3h1.8M266.0 752.8h1.8M282.9 752.7h1.8M331.3 712.9h1.8M304.4 721.8h1.8M273.2 725.7h1.8M326.0 697.7h1.8M289.1 730.6h1.8M294.2 739.9h1.8M263.9 744.6h1.8M304.2 725.5h1.8M270.9 734.0h1.8M274.6 733.3h1.8M276.1 725.1h1.8M354.8 686.7h1.8M282.4 740.4h1.8M307.9 735.5h1.8M277.3 745.3h1.8M350.4 698.5h1.8M261.4 733.9h1.8M396.8 713.6h1.8M267.0 737.1h1.8M276.6 716.9h1.8M274.5 746.7h1.8M283.0 726.8h1.8M297.7 728.3h1.8M356.3 704.4h1.8M377.9 676.7h1.8M286.8 737.9h1.8M295.8 736.4h1.8M298.5 738.8h1.8M328.4 709.2h1.8M274.2 724.0h1.8M359.5 656.0h1.8M299.8 719.6h1.8M342.4 713.1h1.8M279.9 736.6h1.8M264.1 746.4h1.8M303.0 731.2h1.8M295.3 718.2h1.8M283.0 734.0h1.8M377.7 663.6h1.8M262.7 735.4h1.8M318.1 731.5h1.8M354.1 701.0h1.8M352.6 703.5h1.8M353.3 689.1h1.8M323.6 713.1h1.8M301.6 737.6h1.8M287.6 736.5h1.8M337.4 688.3h1.8M264.7 742.4h1.8M294.7 743.5h1.8M339.8 703.2h1.8M300.3 730.7h1.8M272.1 733.1h1.8M265.7 747.9h1.8M266.2 745.9h1.8M352.3 686.7h1.8M295.1 718.4h1.8M266.4 732.5h1.8M293.7 732.6h1.8M332.7 704.2h1.8M284.2 732.7h1.8M369.5 682.3h1.8M290.2 726.7h1.8M318.4 702.8h1.8M337.9 713.0h1.8M294.7 726.0h1.8M336.6 696.7h1.8M292.9 732.6h1.8M278.1 742.3h1.8M365.2 689.7h1.8M273.8 744.8h1.8M332.0 699.1h1.8M266.2 741.6h1.8M259.6 748.2h1.8M332.4 710.7h1.8M292.9 752.0h1.8M379.0 689.3h1.8M280.6 746.0h1.8M266.1 720.8h1.8M265.9 733.6h1.8M295.4 715.5h1.8M328.3 717.7h1.8M263.8 738.0h1.8M353.4 691.7h1.8M287.2 718.4h1.8M296.6 722.4h1.8M259.4 752.0h1.8M327.8 690.0h1.8M273.7 751.4h1.8M266.3 735.2h1.8M313.5 713.7h1.8M310.5 716.6h1.8M261.4 745.1h1.8M280.8 725.7h1.8M317.7 720.5h1.8M274.0 747.7h1.8M274.7 744.6h1.8M273.9 750.2h1.8M354.9 697.4h1.8M288.2 727.7h1.8M287.8 732.4h1.8M361.0 681.6h1.8M280.7 733.1h1.8M282.2 728.4h1.8M383.1 678.9h1.8M361.8 690.5h1.8M302.8 729.0h1.8M353.1 683.2h1.8M350.5 705.6h1.8M279.8 729.1h1.8M276.7 730.0h1.8M284.8 719.0h1.8M351.0 718.3h1.8M266.4 745.9h1.8M330.7 709.4h1.8M281.0 740.1h1.8M279.5 743.7h1.8M301.7 720.5h1.8M285.5 728.0h1.8M264.2 746.5h1.8M311.8 724.4h1.8M319.7 692.7h1.8M305.8 708.5h1.8M272.0 726.3h1.8M281.8 741.7h1.8M336.4 707.2h1.8M294.8 730.7h1.8M380.6 697.6h1.8M298.6 722.2h1.8M312.0 716.6h1.8M274.9 733.2h1.8M276.4 727.3h1.8M330.8 698.8h1.8M299.8 709.4h1.8M306.3 720.8h1.8M329.0 713.6h1.8M299.7 736.3h1.8M377.4 690.0h1.8M367.0 678.1h1.8M267.7 742.6h1.8M298.7 726.9h1.8M295.0 726.0h1.8M262.0 747.4h1.8M290.3 732.8h1.8M300.6 729.1h1.8M299.0 729.6h1.8M304.9 725.7h1.8M267.7 745.5h1.8M306.4 727.7h1.8M284.0 728.6h1.8M348.9 687.5h1.8M295.8 732.9h1.8M335.6 732.5h1.8M334.9 728.4h1.8M291.3 734.9h1.8M277.5 721.5h1.8M333.6 686.7h1.8M338.6 710.7h1.8M309.6 725.2h1.8M267.4 723.6h1.8M307.0 734.0h1.8M280.1 735.6h1.8M373.9 685.2h1.8M278.8 727.3h1.8M350.3 702.4h1.8M300.1 719.3h1.8M306.0 721.3h1.8M259.7 748.2h1.8M270.7 751.4h1.8M287.9 720.8h1.8M266.8 745.5h1.8M365.2 717.6h1.8M329.3 716.5h1.8M292.1 742.2h1.8M314.0 712.0h1.8M261.4 738.8h1.8M277.2 734.5h1.8M266.1 742.2h1.8M386.6 680.4h1.8M270.2 734.0h1.8M266.0 725.4h1.8M266.5 745.6h1.8M314.9 733.4h1.8M289.1 745.9h1.8M329.7 697.1h1.8M373.2 685.1h1.8M354.1 690.7h1.8M261.2 744.1h1.8M276.5 738.4h1.8M272.2 744.3h1.8M327.5 715.7h1.8M280.3 721.4h1.8M267.1 730.9h1.8M269.1 733.9h1.8M316.7 703.8h1.8M317.5 712.2h1.8M313.5 714.5h1.8M282.0 726.9h1.8M282.5 715.7h1.8M308.3 714.7h1.8M269.4 739.2h1.8M261.2 752.7h1.8M314.5 722.3h1.8M345.4 715.4h1.8M310.3 714.7h1.8M265.7 737.3h1.8M306.8 724.5h1.8M275.9 743.8h1.8M378.2 687.2h1.8M282.1 725.5h1.8M302.4 731.4h1.8M323.8 718.1h1.8M343.2 692.8h1.8M316.0 728.5h1.8M275.2 751.5h1.8M301.9 724.3h1.8M279.0 736.9h1.8M294.4 729.2h1.8M277.1 732.0h1.8M315.1 713.7h1.8M275.4 751.0h1.8M320.6 725.5h1.8M279.4 736.0h1.8M311.0 724.3h1.8M278.6 724.1h1.8M285.6 729.2h1.8M309.9 740.3h1.8M363.5 685.1h1.8M320.5 691.5h1.8M347.8 691.6h1.8M327.1 701.0h1.8M277.8 733.8h1.8M267.8 728.1h1.8M315.4 718.6h1.8M343.3 713.0h1.8M342.9 683.6h1.8M303.3 732.7h1.8M333.6 688.9h1.8M261.3 732.5h1.8M280.1 725.6h1.8M336.3 700.0h1.8M261.0 739.6h1.8M275.0 735.3h1.8M312.3 718.5h1.8M325.1 718.0h1.8M372.4 687.0h1.8M270.6 728.9h1.8M297.3 714.0h1.8M346.0 722.0h1.8M312.0 722.2h1.8M274.9 703.7h1.8M287.8 715.9h1.8M270.4 742.2h1.8M367.3 675.2h1.8M273.5 735.8h1.8M260.9 739.2h1.8M374.9 682.0h1.8M314.0 721.5h1.8M316.6 713.5h1.8M298.8 728.5h1.8M259.4 743.8h1.8M302.1 718.9h1.8M358.0 669.4h1.8M280.4 730.6h1.8M303.2 705.9h1.8M269.0 753.1h1.8M292.2 727.2h1.8M260.6 750.4h1.8M364.7 694.7h1.8M317.9 713.5h1.8M279.5 730.0h1.8M350.5 688.7h1.8M294.7 722.9h1.8M293.2 733.5h1.8M300.0 723.6h1.8M385.6 703.7h1.8M316.7 709.9h1.8M278.7 742.0h1.8M283.6 740.9h1.8M311.2 716.1h1.8M287.7 731.4h1.8M300.6 728.9h1.8M276.7 738.8h1.8M340.2 685.3h1.8M269.9 743.3h1.8M327.5 740.9h1.8M294.9 723.8h1.8M369.9 688.4h1.8M267.1 752.3h1.8M263.0 744.6h1.8M280.4 744.3h1.8M304.7 725.7h1.8M312.4 723.7h1.8M259.8 742.8h1.8M266.7 731.8h1.8M303.1 734.8h1.8M262.3 749.8h1.8M278.5 744.9h1.8M277.6 739.1h1.8M272.4 751.1h1.8M383.4 699.1h1.8M374.1 699.6h1.8M274.3 734.0h1.8M295.2 738.3h1.8M373.0 699.3h1.8M371.8 685.2h1.8M299.7 717.5h1.8M353.6 692.0h1.8M312.5 725.7h1.8M268.5 744.3h1.8M304.1 737.6h1.8M291.9 732.9h1.8M305.3 731.0h1.8M330.2 706.4h1.8M295.0 746.1h1.8M313.3 712.0h1.8M340.6 705.7h1.8M316.2 722.6h1.8M311.6 727.2h1.8M272.3 737.6h1.8M312.8 730.5h1.8M314.6 699.2h1.8M311.1 722.3h1.8M319.3 721.3h1.8M349.7 710.3h1.8M308.4 718.9h1.8M332.0 698.5h1.8M269.0 732.0h1.8M263.4 743.8h1.8M344.5 717.4h1.8M319.3 705.0h1.8M328.5 710.7h1.8M290.4 715.1h1.8M340.7 716.4h1.8M329.4 721.7h1.8M321.5 692.7h1.8M360.7 697.2h1.8M384.9 672.1h1.8M294.9 732.7h1.8M357.9 694.7h1.8M293.9 747.9h1.8M276.5 735.8h1.8M259.9 734.1h1.8M259.9 751.2h1.8M263.0 738.3h1.8M283.6 727.3h1.8M301.3 719.2h1.8M314.0 720.2h1.8M260.4 745.0h1.8M278.6 740.1h1.8M379.6 700.2h1.8M263.7 728.0h1.8M340.0 708.1h1.8M380.5 686.5h1.8M268.4 743.6h1.8M274.2 732.2h1.8M341.5 698.6h1.8M265.5 752.3h1.8M316.8 715.6h1.8M262.8 741.3h1.8M288.7 737.2h1.8M260.3 745.2h1.8M331.9 713.3h1.8M316.5 718.1h1.8M372.7 683.2h1.8M271.6 702.4h1.8M276.8 744.4h1.8M291.6 726.2h1.8M336.9 721.3h1.8M290.6 717.8h1.8M363.8 685.2h1.8M268.9 723.2h1.8M348.1 695.2h1.8M284.2 730.6h1.8M263.7 752.9h1.8M315.0 722.2h1.8M359.7 680.6h1.8M273.7 737.0h1.8M286.0 731.9h1.8M351.9 722.6h1.8M347.7 696.6h1.8M308.3 716.4h1.8M266.2 746.6h1.8M295.3 706.6h1.8M291.0 729.6h1.8M350.9 698.8h1.8M310.9 716.7h1.8M294.8 735.4h1.8M269.2 744.9h1.8M370.1 683.5h1.8M300.8 729.5h1.8M314.7 707.7h1.8M264.4 752.2h1.8M282.4 733.2h1.8M263.9 737.5h1.8M333.2 698.2h1.8M319.2 719.6h1.8M341.8 712.5h1.8M281.9 738.3h1.8M281.0 721.1h1.8M276.1 735.0h1.8M394.2 676.8h1.8M349.3 686.3h1.8M394.0 707.9h1.8M329.7 716.6h1.8M322.4 706.3h1.8M271.7 731.7h1.8M288.4 725.1h1.8M311.7 714.0h1.8M259.4 743.2h1.8M326.1 716.2h1.8M270.9 745.9h1.8M363.8 674.7h1.8M261.1 745.1h1.8M285.7 723.9h1.8M287.6 752.6h1.8M310.9 710.7h1.8M283.3 724.1h1.8M260.3 746.2h1.8M340.7 722.0h1.8M321.7 719.1h1.8M277.4 731.0h1.8M313.0 730.5h1.8M264.3 752.1h1.8M373.0 683.3h1.8M323.2 712.1h1.8M284.0 720.2h1.8M271.8 743.4h1.8M262.7 726.7h1.8M262.2 732.8h1.8M304.6 721.0h1.8M268.8 747.9h1.8M312.7 711.7h1.8M272.1 724.2h1.8M314.5 719.1h1.8M279.7 738.7h1.8M306.6 724.7h1.8M329.2 708.6h1.8M387.4 700.9h1.8M260.2 749.5h1.8M332.5 698.2h1.8M317.7 702.8h1.8M266.5 738.8h1.8M336.4 710.5h1.8M267.2 747.7h1.8M317.2 718.3h1.8M280.5 728.3h1.8M317.6 709.1h1.8M259.5 751.9h1.8M300.4 735.3h1.8M271.8 741.9h1.8M275.1 731.7h1.8M264.7 733.5h1.8M327.3 714.6h1.8M316.6 713.2h1.8M292.8 721.2h1.8M321.2 726.6h1.8M343.2 700.5h1.8M314.7 720.9h1.8M262.7 748.0h1.8M340.8 702.5h1.8M264.5 732.1h1.8M335.3 713.1h1.8M328.6 710.8h1.8M308.8 731.1h1.8M388.9 673.1h1.8M259.9 752.3h1.8M307.6 713.0h1.8M263.8 748.3h1.8M269.9 732.1h1.8M306.6 726.5h1.8M264.0 738.2h1.8M362.0 681.6h1.8M319.9 725.0h1.8M360.1 672.5h1.8M271.6 732.3h1.8M390.4 662.7h1.8M302.2 714.1h1.8M331.1 705.0h1.8M306.4 726.4h1.8M370.2 671.9h1.8M272.9 741.2h1.8M283.0 730.3h1.8M337.2 693.7h1.8M298.6 710.0h1.8M353.0 711.8h1.8M282.4 737.8h1.8M376.7 682.3h1.8M264.5 737.0h1.8M286.4 728.7h1.8M301.3 730.9h1.8M283.4 725.4h1.8M289.8 711.3h1.8M277.2 737.6h1.8M343.7 707.4h1.8M266.5 742.5h1.8M374.1 692.4h1.8M281.7 725.3h1.8M387.0 674.2h1.8M388.2 676.7h1.8M334.9 677.9h1.8M304.8 731.5h1.8M380.0 700.4h1.8M280.9 728.8h1.8M281.9 726.8h1.8M283.5 723.7h1.8M378.7 680.6h1.8M305.8 731.2h1.8M380.7 679.0h1.8M265.6 737.0h1.8M293.7 708.9h1.8M351.0 709.2h1.8M287.7 722.3h1.8M283.1 724.8h1.8M400.7 676.5h1.8M283.6 736.6h1.8M293.3 735.5h1.8M327.9 720.7h1.8M259.5 740.1h1.8M287.7 729.7h1.8M270.4 721.5h1.8M351.2 701.1h1.8M276.3 736.8h1.8M360.0 698.9h1.8M295.5 736.9h1.8M329.1 716.2h1.8M299.2 696.9h1.8M274.4 733.3h1.8M268.7 744.2h1.8M296.4 732.4h1.8M297.1 750.4h1.8M312.1 720.6h1.8M297.5 742.4h1.8M387.4 675.6h1.8M304.1 736.9h1.8M265.7 740.0h1.8M328.3 718.9h1.8M276.7 739.4h1.8M272.6 719.6h1.8M263.0 747.8h1.8M286.9 736.0h1.8M270.0 749.1h1.8M265.8 743.4h1.8M325.9 703.5h1.8M290.5 715.5h1.8M275.7 720.3h1.8M259.7 741.8h1.8M271.4 734.8h1.8M288.6 726.1h1.8M311.3 713.1h1.8M373.1 686.4h1.8M284.8 715.9h1.8M267.7 748.9h1.8M281.4 729.2h1.8M269.2 740.3h1.8M279.0 740.3h1.8M347.4 708.0h1.8M318.6 731.7h1.8M260.6 741.3h1.8M312.5 699.9h1.8M259.8 747.5h1.8M300.1 709.0h1.8M353.4 705.4h1.8M263.2 732.9h1.8M280.3 740.6h1.8M297.5 732.0h1.8M370.1 688.6h1.8M292.7 725.4h1.8M374.7 696.3h1.8M295.2 723.8h1.8M361.9 670.3h1.8M278.9 743.3h1.8M315.5 710.1h1.8M282.4 735.6h1.8M289.5 730.9h1.8M272.4 738.0h1.8M268.6 724.5h1.8M359.8 696.4h1.8M259.9 740.9h1.8M334.6 709.9h1.8M303.0 730.9h1.8M262.0 741.0h1.8M341.9 711.1h1.8M266.0 737.2h1.8M295.6 721.5h1.8M392.3 682.6h1.8M355.3 690.2h1.8M332.5 712.7h1.8M281.1 737.1h1.8M265.7 749.1h1.8M398.1 681.2h1.8M332.8 713.8h1.8M277.7 733.3h1.8M350.9 698.0h1.8M280.7 728.6h1.8M279.6 732.8h1.8M289.6 752.1h1.8M293.7 726.2h1.8M362.3 694.7h1.8M284.8 730.2h1.8M296.3 723.9h1.8M273.3 726.7h1.8M302.7 723.9h1.8M296.6 734.2h1.8M291.3 723.5h1.8M284.4 726.1h1.8M290.5 723.6h1.8M278.4 723.4h1.8M284.5 738.3h1.8M268.0 729.0h1.8M357.2 721.0h1.8M354.2 698.3h1.8M335.3 712.4h1.8M301.9 724.4h1.8M286.0 738.5h1.8M325.8 718.3h1.8M369.3 695.7h1.8M312.2 722.1h1.8M316.8 741.2h1.8M276.7 733.3h1.8M314.5 715.3h1.8M267.3 731.6h1.8M363.9 699.0h1.8M295.0 736.0h1.8M287.4 737.7h1.8M322.1 705.1h1.8M323.7 695.2h1.8M385.4 688.3h1.8M291.5 722.0h1.8M366.7 689.9h1.8M299.6 723.0h1.8M289.6 729.7h1.8M293.3 736.3h1.8M298.8 733.4h1.8M291.7 718.2h1.8M377.9 661.8h1.8M354.9 695.1h1.8M271.5 729.8h1.8M276.6 721.9h1.8M384.0 688.2h1.8M313.1 725.2h1.8M291.0 718.2h1.8M309.8 728.4h1.8M259.8 734.6h1.8M333.2 700.0h1.8M264.1 746.7h1.8M277.0 739.9h1.8M269.1 751.1h1.8M378.3 694.9h1.8M262.7 751.7h1.8M297.4 717.6h1.8M278.3 742.9h1.8M357.5 676.4h1.8M336.9 711.9h1.8M390.0 669.7h1.8M299.3 719.9h1.8M260.0 741.8h1.8M349.5 709.8h1.8M266.3 743.8h1.8M275.1 730.2h1.8M260.2 752.6h1.8M298.2 720.1h1.8M304.6 733.5h1.8M262.2 739.0h1.8M340.2 709.5h1.8M307.0 722.5h1.8M381.4 676.7h1.8M296.5 731.8h1.8M326.3 730.7h1.8M272.1 741.5h1.8M266.6 746.4h1.8M307.5 713.3h1.8M304.1 716.9h1.8M295.4 727.6h1.8M263.1 729.9h1.8M272.3 736.1h1.8M280.7 730.6h1.8M294.3 732.6h1.8M380.4 680.1h1.8M278.9 745.0h1.8M323.7 717.1h1.8M285.7 726.5h1.8M277.9 749.2h1.8M332.4 696.1h1.8M295.2 727.2h1.8M366.5 683.2h1.8M267.2 724.7h1.8M319.1 707.5h1.8M332.0 709.3h1.8M279.0 731.8h1.8M323.6 733.4h1.8M260.4 745.5h1.8M305.2 714.1h1.8M266.8 746.7h1.8M325.0 699.8h1.8M293.7 722.8h1.8M299.2 733.7h1.8M280.5 730.0h1.8M376.9 689.0h1.8M310.8 719.5h1.8M277.2 722.3h1.8M265.3 745.3h1.8M278.1 729.2h1.8M284.0 720.7h1.8M312.4 715.1h1.8M298.0 727.0h1.8M305.4 709.2h1.8M348.7 695.6h1.8M282.5 732.6h1.8M279.3 727.4h1.8M282.6 734.6h1.8M294.7 730.3h1.8M350.8 691.5h1.8M386.9 693.6h1.8M294.3 729.8h1.8M273.2 734.4h1.8M270.3 744.5h1.8M281.1 748.2h1.8M298.3 730.2h1.8M296.4 734.1h1.8M282.0 738.1h1.8M367.3 700.7h1.8M259.6 746.6h1.8M373.4 692.2h1.8M361.7 689.1h1.8M363.2 682.4h1.8M351.3 703.1h1.8M278.7 725.3h1.8M295.7 727.6h1.8M282.0 740.0h1.8M294.7 736.2h1.8M305.7 699.1h1.8M377.5 680.6h1.8M297.6 728.7h1.8M313.2 726.1h1.8M265.4 752.0h1.8M299.8 729.5h1.8M266.3 730.7h1.8M290.0 730.4h1.8M271.6 745.0h1.8M373.2 716.2h1.8M346.7 680.5h1.8M290.4 714.9h1.8M280.6 739.4h1.8M285.8 727.9h1.8M272.6 705.3h1.8M266.9 742.5h1.8M292.7 715.1h1.8M260.1 752.5h1.8M286.9 729.2h1.8M285.0 738.5h1.8M281.9 742.5h1.8M273.0 744.2h1.8M290.6 732.3h1.8M268.7 732.8h1.8M260.6 751.0h1.8M324.4 720.7h1.8M356.7 689.7h1.8M317.2 727.2h1.8M308.6 720.9h1.8M265.4 731.0h1.8M361.8 736.9h1.8M293.7 719.4h1.8M293.9 728.7h1.8M340.7 701.5h1.8M333.6 712.2h1.8M374.6 696.5h1.8M274.3 739.3h1.8M292.6 726.0h1.8M295.1 703.8h1.8M318.5 690.6h1.8M293.4 739.1h1.8M297.5 728.9h1.8M268.4 735.2h1.8M309.7 706.7h1.8M326.4 713.6h1.8M295.4 708.5h1.8M362.5 694.8h1.8M294.3 747.0h1.8M347.5 702.6h1.8M345.9 667.1h1.8M262.4 724.3h1.8M292.4 722.0h1.8M292.3 732.7h1.8M326.7 699.7h1.8M268.6 741.5h1.8M297.7 674.9h1.8M290.4 730.7h1.8M290.7 736.2h1.8M315.3 700.0h1.8M340.6 703.4h1.8M274.6 733.5h1.8M350.8 708.1h1.8M298.1 721.4h1.8M276.2 719.3h1.8M317.0 711.3h1.8M282.5 725.2h1.8M262.6 751.4h1.8M269.4 748.5h1.8M376.4 663.4h1.8M315.6 726.1h1.8M308.8 723.0h1.8M339.2 708.6h1.8M309.9 728.9h1.8M266.4 749.2h1.8M317.6 725.8h1.8M273.5 740.8h1.8M383.0 678.0h1.8M323.5 715.7h1.8M318.1 722.3h1.8M288.7 725.9h1.8M297.4 731.4h1.8M350.0 696.4h1.8M304.5 711.7h1.8M288.3 729.9h1.8M303.5 732.9h1.8M263.3 752.6h1.8M263.3 737.2h1.8M309.3 710.8h1.8M265.5 725.6h1.8M276.2 747.8h1.8M361.3 712.8h1.8M326.2 707.4h1.8M369.3 694.1h1.8M318.6 704.3h1.8M384.9 746.7h1.8M335.9 708.6h1.8M268.2 733.6h1.8M339.8 706.0h1.8M277.8 735.7h1.8M272.0 733.0h1.8M306.3 735.4h1.8M306.8 720.8h1.8M313.9 724.1h1.8M291.6 719.3h1.8M259.9 741.1h1.8M260.1 753.1h1.8M268.2 746.0h1.8M308.5 700.9h1.8M278.5 730.6h1.8M283.8 727.5h1.8M284.0 720.9h1.8M262.4 737.5h1.8M294.0 737.2h1.8M308.9 715.6h1.8M272.9 737.8h1.8M362.5 683.3h1.8M282.0 718.3h1.8M364.0 710.6h1.8M262.3 723.4h1.8M324.3 721.1h1.8M287.4 742.9h1.8M273.1 737.1h1.8M318.5 748.3h1.8M271.9 753.2h1.8M286.3 738.1h1.8M322.9 714.7h1.8M299.3 720.2h1.8M298.8 722.7h1.8M297.9 721.3h1.8M288.4 723.6h1.8M270.1 737.7h1.8M281.1 732.6h1.8M292.0 712.4h1.8M336.1 692.8h1.8M268.2 746.0h1.8M281.5 741.6h1.8M273.0 753.1h1.8M271.2 752.7h1.8M365.3 695.4h1.8M324.8 717.2h1.8M288.6 721.9h1.8M261.0 737.0h1.8M297.2 725.5h1.8M285.1 742.1h1.8M269.8 736.3h1.8M306.4 732.2h1.8M365.2 692.8h1.8M330.2 704.2h1.8M353.9 695.0h1.8M364.9 695.9h1.8M272.0 752.2h1.8M265.1 741.5h1.8M281.3 725.8h1.8M377.1 698.1h1.8M291.7 726.7h1.8M299.1 739.6h1.8M341.5 701.9h1.8M266.4 749.7h1.8M281.0 734.2h1.8M298.9 715.4h1.8M275.8 735.6h1.8M302.6 727.9h1.8M320.3 727.4h1.8M390.3 686.2h1.8M274.3 733.8h1.8M266.6 739.3h1.8M376.7 688.3h1.8M275.1 736.4h1.8M359.2 709.1h1.8M264.7 743.2h1.8M363.2 695.4h1.8M373.6 691.6h1.8M291.7 740.6h1.8M312.1 724.8h1.8M270.4 750.5h1.8M277.0 743.4h1.8M269.8 733.2h1.8M305.9 738.6h1.8M302.2 728.9h1.8M272.4 743.7h1.8M302.1 729.0h1.8M264.3 739.3h1.8M308.5 724.8h1.8M324.6 712.2h1.8M374.7 688.8h1.8M266.5 742.3h1.8M348.6 710.1h1.8M273.6 738.9h1.8M263.3 749.2h1.8M293.0 721.4h1.8M320.3 714.1h1.8M259.8 737.2h1.8M288.5 735.6h1.8M357.9 695.1h1.8M331.3 726.6h1.8M282.8 746.6h1.8M334.3 712.0h1.8M286.6 734.8h1.8M289.6 741.4h1.8M285.0 735.8h1.8M269.3 732.9h1.8M339.3 712.1h1.8M306.3 730.3h1.8M297.9 733.4h1.8M270.4 748.8h1.8M319.1 717.4h1.8M306.4 735.2h1.8M291.5 726.8h1.8M372.6 686.3h1.8M285.0 730.3h1.8M303.1 718.1h1.8M304.4 709.6h1.8M377.2 705.2h1.8M280.5 745.2h1.8M265.5 740.5h1.8M260.4 747.1h1.8M292.1 742.7h1.8M303.9 714.8h1.8M308.1 722.8h1.8M330.5 685.5h1.8M276.2 731.0h1.8M261.4 743.2h1.8M276.0 740.2h1.8M268.2 737.7h1.8M341.3 696.6h1.8M285.5 729.3h1.8M268.3 735.6h1.8M264.6 746.4h1.8M356.1 699.4h1.8M347.4 706.0h1.8M321.9 729.6h1.8M321.0 710.5h1.8M261.8 741.9h1.8M277.8 727.8h1.8M325.4 710.8h1.8M279.4 736.0h1.8M337.1 690.5h1.8M333.0 701.5h1.8M307.1 723.9h1.8M261.4 740.6h1.8M299.4 731.6h1.8M330.6 690.6h1.8M335.7 721.1h1.8M335.9 712.0h1.8M303.7 712.6h1.8M344.1 690.7h1.8M374.7 713.2h1.8M274.9 735.3h1.8M267.7 730.4h1.8M360.7 704.4h1.8M340.5 697.1h1.8M311.5 715.9h1.8M294.2 722.6h1.8M291.9 730.1h1.8M290.3 730.2h1.8M286.0 735.2h1.8M278.0 734.4h1.8M328.6 719.9h1.8M317.3 713.3h1.8M330.3 691.2h1.8M267.0 739.2h1.8M353.6 716.4h1.8M393.7 700.2h1.8M311.8 700.6h1.8M312.6 716.6h1.8M299.2 727.6h1.8M262.2 729.9h1.8M299.0 738.5h1.8M266.2 736.3h1.8M294.0 734.4h1.8M316.1 712.8h1.8M357.3 697.3h1.8M260.0 750.7h1.8M408.5 675.0h1.8M260.2 731.9h1.8M285.5 744.8h1.8M297.9 725.6h1.8M314.4 734.5h1.8M278.8 749.3h1.8M363.1 706.6h1.8M328.1 687.3h1.8M278.0 747.7h1.8M285.4 731.6h1.8M303.7 699.6h1.8M322.5 714.1h1.8M321.0 698.6h1.8M354.0 702.6h1.8M270.7 749.2h1.8M319.8 709.7h1.8M305.3 738.2h1.8M321.2 707.6h1.8M298.6 733.6h1.8M304.0 727.6h1.8M285.3 752.7h1.8M297.5 714.8h1.8M358.4 688.2h1.8M274.1 739.7h1.8M293.5 721.9h1.8M279.4 736.1h1.8M341.4 714.7h1.8M336.6 709.3h1.8M281.8 732.1h1.8M363.7 707.1h1.8M363.6 674.6h1.8M326.5 709.2h1.8M289.8 737.4h1.8M282.8 738.5h1.8M271.3 738.1h1.8M284.0 730.5h1.8M301.0 731.1h1.8M340.1 705.6h1.8M324.0 708.4h1.8M322.4 719.6h1.8M289.6 707.3h1.8M278.5 733.8h1.8M324.5 718.3h1.8M295.6 737.1h1.8M264.9 748.6h1.8M267.7 753.1h1.8M377.4 679.8h1.8M277.6 734.3h1.8M315.8 722.3h1.8M293.9 729.3h1.8M276.4 739.8h1.8M316.1 717.5h1.8M288.0 715.6h1.8M272.4 749.7h1.8M264.2 744.9h1.8M306.2 725.5h1.8M276.3 729.5h1.8M289.4 749.8h1.8M265.4 740.3h1.8M385.0 703.2h1.8M259.9 741.3h1.8M262.3 740.2h1.8M285.1 743.3h1.8M275.9 724.8h1.8M282.5 734.3h1.8M380.2 702.5h1.8M278.7 744.1h1.8M339.8 685.2h1.8M287.1 719.0h1.8M344.0 686.8h1.8M325.6 705.4h1.8M264.2 740.2h1.8M322.4 703.3h1.8M339.8 739.6h1.8M277.5 739.0h1.8M292.3 729.4h1.8M315.4 704.9h1.8M290.9 737.2h1.8M274.8 734.6h1.8M295.6 730.6h1.8M268.3 733.3h1.8M269.9 739.8h1.8M262.3 735.9h1.8M283.8 740.2h1.8M272.5 738.7h1.8M294.0 728.3h1.8M288.2 734.5h1.8M299.9 715.8h1.8M266.9 742.5h1.8M270.3 738.4h1.8M351.5 698.1h1.8M284.3 749.3h1.8M269.9 737.4h1.8M301.0 708.7h1.8M310.6 722.3h1.8M275.8 727.6h1.8M302.6 719.4h1.8M301.0 723.6h1.8M316.5 702.7h1.8M337.2 713.1h1.8M273.1 735.1h1.8M393.7 684.3h1.8M291.1 720.1h1.8M282.5 735.5h1.8M321.5 721.4h1.8M310.5 732.2h1.8M271.7 739.4h1.8M268.7 723.4h1.8M261.2 720.2h1.8M371.6 699.3h1.8M286.4 739.9h1.8M357.5 703.6h1.8M313.7 704.3h1.8M288.4 729.5h1.8M324.7 700.5h1.8M323.4 703.7h1.8M269.4 747.2h1.8M284.9 745.0h1.8M292.3 729.6h1.8M355.2 707.1h1.8M288.8 733.9h1.8M261.7 738.5h1.8M277.8 752.9h1.8M284.6 729.7h1.8M375.9 676.1h1.8M269.2 749.0h1.8M352.5 696.1h1.8M275.7 735.1h1.8M303.0 737.4h1.8M288.8 735.3h1.8M346.4 707.3h1.8M270.4 747.0h1.8M267.6 744.1h1.8M289.4 719.2h1.8M300.0 729.9h1.8M281.4 745.2h1.8M347.3 691.9h1.8M295.1 728.3h1.8M302.5 706.5h1.8M300.6 723.4h1.8M260.4 730.0h1.8M287.6 736.6h1.8M278.6 749.3h1.8M271.1 744.8h1.8M298.7 746.1h1.8M275.1 734.7h1.8M317.2 728.1h1.8M293.3 730.6h1.8M262.0 736.9h1.8M296.5 706.5h1.8M301.5 725.7h1.8M316.6 713.3h1.8M309.0 707.2h1.8M296.6 704.0h1.8M309.7 704.9h1.8M264.7 732.2h1.8M260.4 752.9h1.8M316.5 712.0h1.8M264.3 733.5h1.8M276.4 728.7h1.8M281.0 747.8h1.8M296.8 734.8h1.8M284.1 732.6h1.8M298.9 725.2h1.8M345.5 693.2h1.8M298.2 703.0h1.8M285.3 721.2h1.8M273.9 732.5h1.8M366.5 677.9h1.8M266.9 733.0h1.8M292.1 737.0h1.8M284.5 747.7h1.8M266.6 741.6h1.8M279.0 718.8h1.8M268.1 733.0h1.8M312.2 710.6h1.8M265.7 738.7h1.8M285.6 735.5h1.8M259.7 732.9h1.8M314.3 705.8h1.8M262.3 742.4h1.8M288.3 736.7h1.8M284.9 725.0h1.8M299.6 721.2h1.8M268.1 741.4h1.8M293.6 724.3h1.8M273.6 736.7h1.8M284.7 739.6h1.8M300.7 705.4h1.8M339.5 696.6h1.8M319.5 713.6h1.8M347.8 688.2h1.8M270.5 738.3h1.8M306.1 717.4h1.8M387.3 690.3h1.8M310.7 717.8h1.8M319.8 732.0h1.8M300.6 720.8h1.8M276.4 728.3h1.8M262.6 736.3h1.8M288.9 722.8h1.8M329.4 714.6h1.8M350.2 692.7h1.8M294.0 737.2h1.8M316.2 703.8h1.8M347.8 715.5h1.8M375.8 680.9h1.8M405.9 662.2h1.8M359.8 704.7h1.8M280.8 735.7h1.8M277.1 752.1h1.8M275.6 741.6h1.8M333.0 700.5h1.8M292.5 731.0h1.8M272.9 752.2h1.8M265.1 736.0h1.8M263.5 735.5h1.8M371.9 685.5h1.8M349.9 693.6h1.8M278.4 734.7h1.8M326.1 708.2h1.8M282.8 733.8h1.8M373.9 665.5h1.8M323.8 709.4h1.8M281.1 735.2h1.8M366.4 684.9h1.8M268.8 736.8h1.8M294.6 723.4h1.8M277.9 731.1h1.8M273.1 724.6h1.8M343.0 708.1h1.8M335.7 701.4h1.8M324.9 697.0h1.8M295.1 722.0h1.8M378.0 704.4h1.8M287.4 720.2h1.8M294.5 736.7h1.8M266.8 733.4h1.8M293.5 718.3h1.8M262.1 744.7h1.8M376.7 670.2h1.8M273.6 740.3h1.8M269.2 746.8h1.8M284.8 713.4h1.8M286.1 738.3h1.8M282.0 728.3h1.8M323.3 724.0h1.8M261.0 739.2h1.8M296.1 719.8h1.8M315.6 746.8h1.8M324.0 726.1h1.8M269.4 739.7h1.8M291.3 727.8h1.8M302.8 707.5h1.8M281.1 738.6h1.8M271.9 742.7h1.8M260.3 743.3h1.8M273.5 743.2h1.8M316.9 728.7h1.8M259.6 752.7h1.8M297.0 736.4h1.8M280.3 728.1h1.8M337.4 713.0h1.8M334.7 699.8h1.8M379.7 684.7h1.8M268.9 727.6h1.8M293.9 739.8h1.8M288.7 736.6h1.8M303.1 718.0h1.8M288.2 709.2h1.8M344.8 712.4h1.8M314.6 704.1h1.8M347.0 708.4h1.8M353.2 706.1h1.8M272.8 722.9h1.8M262.8 746.6h1.8M269.0 734.4h1.8M272.9 731.0h1.8M273.3 734.6h1.8M337.3 712.5h1.8M321.5 731.5h1.8M274.4 737.6h1.8M369.3 712.9h1.8M328.0 698.6h1.8M261.3 743.2h1.8M262.1 752.6h1.8M315.7 716.9h1.8M284.4 723.0h1.8M321.8 703.2h1.8M328.0 691.1h1.8M356.8 700.6h1.8M295.0 732.4h1.8M339.3 696.7h1.8M289.8 733.7h1.8M376.4 671.8h1.8M299.1 740.5h1.8M279.1 742.7h1.8M355.8 693.5h1.8M278.3 744.7h1.8M379.3 683.3h1.8M385.1 675.2h1.8M385.6 686.5h1.8M291.6 718.3h1.8M269.7 742.2h1.8M326.9 719.7h1.8M261.0 725.1h1.8M260.9 739.5h1.8M315.1 713.0h1.8M319.1 722.6h1.8M307.7 737.6h1.8M371.6 681.3h1.8M294.7 711.2h1.8M282.9 728.3h1.8M284.4 740.2h1.8M306.5 729.0h1.8M338.1 726.2h1.8M298.1 719.8h1.8M339.3 688.3h1.8M291.0 724.7h1.8M278.1 734.2h1.8M344.6 703.5h1.8M326.1 703.8h1.8M272.7 726.7h1.8M267.5 739.9h1.8M318.3 708.9h1.8M298.9 728.6h1.8M279.6 741.4h1.8M301.3 749.3h1.8M273.6 740.5h1.8M322.1 701.4h1.8M267.2 742.4h1.8M268.0 735.1h1.8M330.9 717.9h1.8M328.5 722.0h1.8M283.0 716.6h1.8M361.5 704.4h1.8M360.7 695.1h1.8M269.4 732.0h1.8M383.3 688.7h1.8M276.4 745.1h1.8M366.0 695.4h1.8M305.1 721.8h1.8M277.8 739.6h1.8M292.1 736.6h1.8M350.7 710.7h1.8M283.5 725.3h1.8M327.9 701.7h1.8M260.4 752.5h1.8M273.3 744.2h1.8M269.3 740.0h1.8M345.2 703.1h1.8M274.3 724.7h1.8M291.6 720.5h1.8M280.3 748.6h1.8M269.0 728.9h1.8M285.2 752.4h1.8M259.4 736.1h1.8M275.1 728.2h1.8M295.0 735.5h1.8M265.6 752.3h1.8M260.3 732.0h1.8M261.0 734.9h1.8M272.1 734.4h1.8M279.4 735.5h1.8M261.6 733.3h1.8M271.5 735.9h1.8M350.1 691.9h1.8M277.0 728.7h1.8M359.2 701.4h1.8M312.1 711.7h1.8M299.7 706.9h1.8M291.6 730.9h1.8M280.7 738.5h1.8M270.4 740.8h1.8M266.4 747.7h1.8M293.8 734.1h1.8M288.1 744.5h1.8M336.5 700.7h1.8M301.5 729.4h1.8M277.8 729.7h1.8M328.0 699.9h1.8M353.4 707.1h1.8M310.5 739.2h1.8M273.8 749.1h1.8M351.0 694.1h1.8M274.3 748.1h1.8M397.3 670.6h1.8M345.6 711.8h1.8M368.4 705.9h1.8M282.9 735.1h1.8M270.3 749.5h1.8M272.4 738.1h1.8M264.9 752.3h1.8M280.1 742.1h1.8M286.9 718.6h1.8M307.2 708.6h1.8M298.9 715.9h1.8M278.6 750.7h1.8M271.9 737.8h1.8M291.9 742.5h1.8M276.7 713.9h1.8M262.9 727.3h1.8M287.5 732.3h1.8M406.5 672.1h1.8M276.1 735.2h1.8M288.4 709.3h1.8M354.6 700.6h1.8M293.6 730.1h1.8M288.1 739.1h1.8M315.3 704.4h1.8M316.0 718.1h1.8M265.9 744.9h1.8M261.7 749.6h1.8M291.7 736.7h1.8M259.6 733.1h1.8M279.9 729.0h1.8M259.5 752.0h1.8M353.2 682.7h1.8M275.7 739.9h1.8M335.4 717.4h1.8M369.5 684.2h1.8M303.4 723.0h1.8M289.6 729.9h1.8M260.9 737.7h1.8M274.0 740.3h1.8M267.9 726.1h1.8M260.2 753.1h1.8M279.3 750.0h1.8M260.0 744.0h1.8M280.8 744.6h1.8M359.9 703.2h1.8M274.7 742.4h1.8M278.5 732.9h1.8M326.0 708.3h1.8M302.2 702.6h1.8M283.2 732.2h1.8M382.1 681.4h1.8M261.2 743.5h1.8M307.9 712.2h1.8M305.7 719.9h1.8M316.0 716.6h1.8M329.1 703.0h1.8M368.9 681.8h1.8M370.3 681.2h1.8M396.2 666.4h1.8M300.7 742.9h1.8M307.5 708.6h1.8M340.4 694.7h1.8M273.9 732.2h1.8M260.1 752.4h1.8M273.1 740.8h1.8M331.5 678.0h1.8M339.8 709.5h1.8M283.8 748.8h1.8M278.4 732.7h1.8M306.9 727.2h1.8M341.0 703.7h1.8M262.9 741.0h1.8M298.1 736.7h1.8M275.4 725.1h1.8M287.0 734.8h1.8M324.6 729.4h1.8M263.9 746.4h1.8M289.1 732.2h1.8M311.3 714.1h1.8M332.9 703.6h1.8M298.9 720.3h1.8M262.9 752.7h1.8M275.6 721.7h1.8M332.9 712.5h1.8M360.2 706.3h1.8M293.2 735.0h1.8M322.3 716.0h1.8M280.6 717.2h1.8M276.0 732.6h1.8M281.9 724.8h1.8M269.9 752.1h1.8M285.5 729.5h1.8M321.3 716.7h1.8M343.1 695.8h1.8M334.1 718.5h1.8M263.4 752.1h1.8M261.4 744.5h1.8M299.3 736.1h1.8M270.8 752.6h1.8M331.3 742.7h1.8M277.4 727.6h1.8M271.7 743.1h1.8M283.7 734.9h1.8M339.7 705.0h1.8M349.4 702.4h1.8M295.7 715.5h1.8M280.4 739.6h1.8M396.1 683.9h1.8M275.1 753.1h1.8M280.5 716.8h1.8M296.6 729.3h1.8M278.1 737.5h1.8M279.5 752.4h1.8M341.5 695.5h1.8M269.3 731.4h1.8M307.4 716.1h1.8M404.9 656.5h1.8M277.0 731.9h1.8M308.8 715.3h1.8M284.5 739.7h1.8M266.3 746.2h1.8M303.4 731.1h1.8M281.0 720.0h1.8M329.6 725.7h1.8M274.8 744.3h1.8M286.9 730.5h1.8M375.7 689.0h1.8M337.4 712.7h1.8M325.1 704.7h1.8M280.2 719.2h1.8M288.2 744.9h1.8M350.1 699.1h1.8M372.2 673.4h1.8M297.9 719.9h1.8M288.7 731.1h1.8M265.3 749.2h1.8M403.9 664.0h1.8M270.5 737.2h1.8M311.7 715.0h1.8M284.2 730.8h1.8M316.5 711.6h1.8M332.1 721.0h1.8M267.3 736.1h1.8M298.5 717.7h1.8M407.2 681.1h1.8M388.4 680.4h1.8M271.3 735.9h1.8M297.6 722.5h1.8M344.3 705.6h1.8M311.0 722.9h1.8M310.4 720.9h1.8M278.8 725.7h1.8M263.4 740.9h1.8M267.6 734.9h1.8M337.7 716.8h1.8M261.4 737.3h1.8M282.9 741.8h1.8M323.6 716.0h1.8M260.2 752.3h1.8M283.1 738.2h1.8M278.0 723.8h1.8M274.4 726.6h1.8M268.1 736.5h1.8M294.4 718.6h1.8M276.1 749.6h1.8M272.0 732.4h1.8M291.5 722.8h1.8M371.8 691.0h1.8M367.6 697.7h1.8M360.5 703.0h1.8M286.6 724.2h1.8M324.8 712.2h1.8M302.8 727.8h1.8M273.8 746.0h1.8M263.4 746.8h1.8M265.5 737.2h1.8M324.4 698.0h1.8M302.5 723.4h1.8M297.9 734.2h1.8M293.1 728.1h1.8M293.9 719.1h1.8M270.3 752.1h1.8M301.8 733.3h1.8M315.4 713.9h1.8M283.3 726.4h1.8M367.2 723.6h1.8M353.3 732.6h1.8M295.7 709.2h1.8M296.4 727.0h1.8M265.1 752.2h1.8M359.0 708.4h1.8M395.6 678.3h1.8M308.4 718.3h1.8M319.6 705.5h1.8M313.0 722.4h1.8M262.0 740.3h1.8M290.4 733.7h1.8M312.8 708.2h1.8M304.3 724.9h1.8M284.4 741.0h1.8M284.3 741.2h1.8M281.1 752.5h1.8M288.5 731.4h1.8M298.3 729.5h1.8M353.3 699.7h1.8M286.0 723.3h1.8M376.7 692.4h1.8M294.5 716.1h1.8M294.2 727.2h1.8M270.8 735.2h1.8M263.6 749.6h1.8M264.0 733.7h1.8M273.3 736.4h1.8M271.2 732.4h1.8M337.1 720.0h1.8M286.5 731.0h1.8M317.1 718.2h1.8M263.1 748.4h1.8M285.5 733.6h1.8M285.4 725.6h1.8M308.9 729.2h1.8M324.0 731.4h1.8M265.7 737.6h1.8M365.2 707.4h1.8M381.7 683.0h1.8M313.3 704.6h1.8M282.9 722.1h1.8M271.6 743.9h1.8M261.4 742.4h1.8M298.8 718.4h1.8M278.0 713.5h1.8M263.3 742.0h1.8M341.4 698.0h1.8M271.9 729.6h1.8M283.2 728.0h1.8M303.0 724.0h1.8M272.5 744.4h1.8M348.9 690.8h1.8M294.1 741.5h1.8M266.2 743.3h1.8M361.9 701.4h1.8M303.0 712.2h1.8M297.5 748.2h1.8M274.2 738.6h1.8M360.5 713.6h1.8M298.9 712.4h1.8M264.9 737.7h1.8M266.4 730.6h1.8M260.4 737.1h1.8M299.0 722.4h1.8M271.8 739.6h1.8M281.4 733.2h1.8M291.6 727.5h1.8M298.5 721.9h1.8M296.3 739.3h1.8M298.3 679.3h1.8M314.2 718.9h1.8M357.7 700.8h1.8M373.3 706.9h1.8M338.9 704.8h1.8M263.0 741.6h1.8M265.6 752.0h1.8M290.0 737.7h1.8M283.1 745.2h1.8M269.1 738.0h1.8M377.8 681.5h1.8M279.3 734.0h1.8M265.6 727.6h1.8M295.5 729.9h1.8M341.7 701.1h1.8M263.2 740.5h1.8M264.9 724.5h1.8M294.2 726.2h1.8M351.9 686.3h1.8M288.8 730.7h1.8M274.8 731.1h1.8M314.2 707.0h1.8M282.3 731.6h1.8M310.2 715.2h1.8M292.5 748.8h1.8M351.1 710.2h1.8M296.7 722.6h1.8M315.5 724.7h1.8M264.9 741.5h1.8M285.8 727.3h1.8M373.2 694.2h1.8M261.6 748.9h1.8M260.4 747.9h1.8M352.1 704.0h1.8M298.1 740.7h1.8M279.6 723.4h1.8M282.7 744.8h1.8M405.6 660.1h1.8M285.5 725.3h1.8M276.2 731.9h1.8M301.9 735.1h1.8M301.9 718.0h1.8M302.1 721.7h1.8M275.4 751.0h1.8M268.7 737.3h1.8M287.7 724.8h1.8M272.6 731.7h1.8M273.5 733.8h1.8M286.4 714.3h1.8M303.6 717.7h1.8M341.3 704.2h1.8M367.5 686.7h1.8M325.6 705.0h1.8M262.7 725.9h1.8M350.2 700.1h1.8M287.8 718.4h1.8M289.8 731.5h1.8M297.3 731.4h1.8M267.8 740.6h1.8M343.0 704.7h1.8M259.6 748.3h1.8M267.0 735.1h1.8M287.1 736.0h1.8M284.9 739.1h1.8M275.5 730.1h1.8M339.8 715.7h1.8M322.0 711.0h1.8M309.0 703.7h1.8M263.3 735.2h1.8M304.2 717.9h1.8M265.0 744.1h1.8M290.6 707.9h1.8M272.5 753.2h1.8M271.2 742.3h1.8M275.7 733.4h1.8M377.5 690.9h1.8M317.5 699.1h1.8M285.1 728.3h1.8M260.5 730.6h1.8M279.5 736.8h1.8M329.7 719.3h1.8M271.7 740.0h1.8M268.3 748.1h1.8M310.7 722.1h1.8M374.9 674.6h1.8M401.2 676.2h1.8M306.3 719.0h1.8M329.9 709.6h1.8M326.2 710.8h1.8M360.0 689.9h1.8M274.7 742.3h1.8M273.9 740.4h1.8M260.2 753.0h1.8M334.1 691.8h1.8M284.0 733.3h1.8M333.9 723.3h1.8M268.5 752.4h1.8M260.3 752.3h1.8M301.4 731.2h1.8M323.3 712.9h1.8M280.7 736.9h1.8M291.6 735.5h1.8M290.8 733.8h1.8M344.9 692.7h1.8M284.0 724.9h1.8M272.8 717.9h1.8M326.8 695.4h1.8M301.4 742.0h1.8M285.7 730.0h1.8M293.0 730.1h1.8M363.1 692.2h1.8M318.3 688.7h1.8M275.9 729.4h1.8M360.5 687.2h1.8M309.1 723.8h1.8M260.1 742.3h1.8M272.3 719.4h1.8M365.4 680.9h1.8M275.7 738.5h1.8M318.0 713.0h1.8M360.1 713.7h1.8M293.1 731.0h1.8M302.0 729.7h1.8M260.7 740.6h1.8M373.4 676.5h1.8M297.2 715.0h1.8M336.7 700.1h1.8M282.2 718.9h1.8M280.1 750.9h1.8M276.6 739.1h1.8M274.1 737.2h1.8M267.8 743.7h1.8M271.8 740.1h1.8M280.5 735.2h1.8M276.3 736.8h1.8M368.4 679.4h1.8M329.8 722.0h1.8M269.6 744.5h1.8M333.9 717.5h1.8M333.1 700.2h1.8M360.7 709.5h1.8M283.7 739.3h1.8M320.0 716.7h1.8M364.9 694.6h1.8M259.5 742.7h1.8M302.9 730.4h1.8M348.8 710.6h1.8M368.6 680.0h1.8M265.1 727.0h1.8M305.3 732.1h1.8M385.3 695.9h1.8M301.3 728.8h1.8M292.9 710.9h1.8M349.8 711.8h1.8M288.9 730.3h1.8M301.2 720.3h1.8M285.9 733.0h1.8M272.9 741.1h1.8M341.8 713.4h1.8M263.8 746.9h1.8M304.3 708.2h1.8M286.5 730.4h1.8M278.2 742.7h1.8M260.6 709.9h1.8M344.9 704.8h1.8M265.3 727.7h1.8M287.7 732.1h1.8M285.2 731.7h1.8M294.5 737.1h1.8M268.4 723.2h1.8M303.0 703.5h1.8M265.5 729.2h1.8M331.3 721.2h1.8M298.3 717.0h1.8M325.3 720.1h1.8M267.3 733.8h1.8M323.4 716.9h1.8M283.8 740.0h1.8M331.0 700.3h1.8M304.5 722.5h1.8M282.9 729.6h1.8M260.1 744.5h1.8M333.7 716.7h1.8M292.4 724.6h1.8M260.8 751.1h1.8M345.6 693.4h1.8M273.6 735.3h1.8M328.6 722.1h1.8M306.9 736.9h1.8M320.8 718.2h1.8M327.8 700.7h1.8M293.0 728.1h1.8M350.6 688.7h1.8M275.5 752.4h1.8M370.0 685.3h1.8M341.8 703.4h1.8M330.0 715.8h1.8M286.6 723.1h1.8M306.7 729.2h1.8M263.9 753.1h1.8M329.9 710.8h1.8M269.4 738.1h1.8M300.6 724.8h1.8M297.2 705.1h1.8M326.9 710.5h1.8M312.2 728.6h1.8M269.7 733.2h1.8M264.7 727.9h1.8M288.4 728.8h1.8M296.8 716.1h1.8M276.1 733.2h1.8M356.4 698.3h1.8M318.0 716.6h1.8M298.6 714.8h1.8M298.3 731.1h1.8M305.7 722.8h1.8M284.1 727.0h1.8M266.8 735.8h1.8M272.7 741.5h1.8M275.5 745.6h1.8M286.4 717.9h1.8M293.5 735.2h1.8M287.4 752.2h1.8M268.0 748.8h1.8M302.8 721.3h1.8M300.1 721.7h1.8M336.3 705.6h1.8M362.7 690.1h1.8M260.3 748.8h1.8M275.4 705.4h1.8M370.9 677.5h1.8M274.2 741.3h1.8M309.5 713.5h1.8M261.0 737.7h1.8M360.8 681.3h1.8M285.1 720.7h1.8M307.7 715.5h1.8M306.5 734.1h1.8M355.2 695.5h1.8M276.0 745.5h1.8M345.5 688.3h1.8M274.2 727.7h1.8M326.3 704.8h1.8M266.3 740.6h1.8M330.9 710.6h1.8M384.3 687.3h1.8M281.6 734.9h1.8M267.6 741.0h1.8M357.5 707.4h1.8M359.7 683.1h1.8M267.7 750.3h1.8M296.4 718.3h1.8M326.9 694.3h1.8M288.0 722.9h1.8M268.8 719.9h1.8M271.5 736.9h1.8M277.4 725.2h1.8M382.3 670.7h1.8M352.0 700.5h1.8M355.6 707.9h1.8M319.9 722.6h1.8M406.8 654.2h1.8M358.9 660.1h1.8M267.3 740.6h1.8M267.5 740.1h1.8M267.9 735.5h1.8M270.4 738.5h1.8M334.5 706.7h1.8M290.8 725.4h1.8M301.8 726.7h1.8M262.0 740.3h1.8M345.3 697.0h1.8M297.4 723.3h1.8M293.5 730.3h1.8M263.6 748.7h1.8M266.1 738.4h1.8M261.1 746.1h1.8M303.6 721.9h1.8M333.0 707.2h1.8M262.0 748.1h1.8M311.3 707.6h1.8M278.2 709.6h1.8M339.2 714.5h1.8M269.9 742.1h1.8M260.1 748.0h1.8M290.3 731.1h1.8M356.3 687.1h1.8M316.2 719.7h1.8M294.0 736.8h1.8M279.1 721.4h1.8M306.0 712.8h1.8M272.6 728.9h1.8M284.0 737.7h1.8M261.4 730.0h1.8M333.5 717.2h1.8M292.1 735.2h1.8M292.9 728.6h1.8M322.6 709.0h1.8M279.5 738.1h1.8M341.1 700.4h1.8M310.0 720.5h1.8M320.4 706.0h1.8M291.6 728.4h1.8M328.4 711.8h1.8M263.6 741.2h1.8M332.4 698.1h1.8M300.7 712.9h1.8M323.2 705.9h1.8M287.8 725.5h1.8M376.4 683.8h1.8M268.5 752.8h1.8M339.7 712.5h1.8M301.2 739.3h1.8M359.9 702.3h1.8M324.0 700.6h1.8M360.0 688.2h1.8M318.7 719.5h1.8M333.7 712.5h1.8M277.3 733.5h1.8M260.5 735.5h1.8M267.3 739.6h1.8M292.4 729.0h1.8M296.0 714.4h1.8M315.2 730.5h1.8M347.7 735.5h1.8M282.2 740.6h1.8M299.7 727.1h1.8M318.3 720.8h1.8M321.3 680.7h1.8M372.8 694.9h1.8M267.9 741.6h1.8M304.8 708.4h1.8M298.4 736.9h1.8M260.6 739.3h1.8M305.6 717.4h1.8M397.3 679.9h1.8M306.0 731.6h1.8M281.6 726.4h1.8M265.7 744.5h1.8M329.1 704.9h1.8M356.8 669.8h1.8M265.5 730.7h1.8M402.5 725.6h1.8M263.1 737.0h1.8M315.4 721.7h1.8M300.8 721.9h1.8M262.4 746.8h1.8M275.4 721.1h1.8M303.4 734.7h1.8M266.3 733.0h1.8M323.4 724.2h1.8M304.3 727.5h1.8M309.6 723.7h1.8M313.0 721.1h1.8M315.9 720.5h1.8M262.3 740.5h1.8M383.5 705.4h1.8M292.1 733.9h1.8M305.6 714.5h1.8M317.7 714.2h1.8M264.4 734.6h1.8M326.9 716.6h1.8M355.0 704.0h1.8M262.8 737.3h1.8M284.1 734.5h1.8M304.1 726.1h1.8M379.8 700.6h1.8M286.7 721.4h1.8M291.1 731.0h1.8M290.5 721.8h1.8M365.8 689.9h1.8M303.6 717.5h1.8M310.5 736.2h1.8M313.8 721.5h1.8M305.1 729.1h1.8M297.4 711.9h1.8M364.2 705.2h1.8M264.7 738.6h1.8M269.5 740.4h1.8M266.6 734.5h1.8M301.9 730.3h1.8M305.2 733.6h1.8M304.4 723.8h1.8M337.6 715.9h1.8M319.1 716.3h1.8M348.7 707.5h1.8M297.8 728.6h1.8M260.6 745.7h1.8M260.9 744.3h1.8M345.6 700.9h1.8M306.6 734.0h1.8M294.0 735.5h1.8M276.3 741.3h1.8M285.7 748.1h1.8M349.0 695.4h1.8M305.0 712.7h1.8M313.7 710.1h1.8M266.3 745.0h1.8M307.2 723.4h1.8M362.1 691.9h1.8M331.2 718.4h1.8M262.6 735.6h1.8M306.4 737.8h1.8M286.0 739.6h1.8M286.5 743.8h1.8M264.3 746.3h1.8M289.0 726.0h1.8M305.3 714.8h1.8M284.0 740.1h1.8M300.3 715.2h1.8M259.4 752.9h1.8M271.0 726.0h1.8M278.9 729.0h1.8M268.3 736.7h1.8M299.9 738.6h1.8M317.0 723.8h1.8M327.0 714.5h1.8M341.5 723.2h1.8M350.9 701.1h1.8M324.2 699.3h1.8M340.2 702.2h1.8M285.5 729.5h1.8M271.2 732.0h1.8M289.0 742.3h1.8M382.7 645.5h1.8M365.7 712.0h1.8M311.2 711.6h1.8M278.3 736.2h1.8M322.7 717.4h1.8M275.6 715.8h1.8M304.3 730.0h1.8M260.8 751.6h1.8M293.0 731.2h1.8M271.6 737.7h1.8M274.4 735.9h1.8M282.9 737.7h1.8M282.0 745.9h1.8M264.6 743.3h1.8M264.9 747.0h1.8M316.8 720.1h1.8M303.2 712.3h1.8M278.3 738.2h1.8M338.4 710.7h1.8M300.3 714.3h1.8M280.5 716.5h1.8M275.9 730.9h1.8M299.1 721.9h1.8M367.9 688.7h1.8M319.7 720.9h1.8M283.7 729.5h1.8M305.9 752.2h1.8M262.0 744.0h1.8M288.7 742.6h1.8M351.1 701.9h1.8M297.2 710.3h1.8M370.5 673.3h1.8M294.0 730.8h1.8M343.4 726.3h1.8M371.3 691.4h1.8M281.1 730.9h1.8M345.4 694.4h1.8M289.0 721.8h1.8M282.1 736.6h1.8M288.2 739.4h1.8M312.0 710.1h1.8M260.6 737.2h1.8M361.4 692.5h1.8M263.7 720.9h1.8M305.4 704.2h1.8M269.6 723.4h1.8M322.2 725.5h1.8M282.5 696.5h1.8M282.3 736.1h1.8M306.7 720.4h1.8M301.2 732.0h1.8M365.4 696.1h1.8M292.8 734.6h1.8M321.0 703.8h1.8M287.1 729.5h1.8M284.4 738.8h1.8M276.6 729.5h1.8M300.8 717.5h1.8M310.0 713.4h1.8M260.2 744.6h1.8M263.4 729.3h1.8M268.2 733.1h1.8M338.7 701.3h1.8M264.9 745.5h1.8M288.1 727.4h1.8M357.5 676.8h1.8M277.0 731.8h1.8M280.9 722.1h1.8M319.7 727.5h1.8M306.9 720.1h1.8M260.4 737.9h1.8M365.0 707.2h1.8M310.9 733.8h1.8M366.0 701.9h1.8M334.9 706.8h1.8M340.6 713.9h1.8M292.5 720.9h1.8M332.3 706.9h1.8M297.3 720.1h1.8M328.1 699.8h1.8M267.6 744.6h1.8M321.5 721.9h1.8M337.0 705.8h1.8M270.9 739.3h1.8M280.9 740.7h1.8M306.5 726.8h1.8M362.3 700.4h1.8M281.8 737.6h1.8M260.1 748.7h1.8M391.8 687.9h1.8M351.9 693.6h1.8M269.5 746.7h1.8M309.7 738.0h1.8M270.6 742.7h1.8M265.1 735.4h1.8M273.0 745.4h1.8M278.3 730.2h1.8M323.9 720.2h1.8M287.7 733.3h1.8M322.7 703.4h1.8M260.9 720.1h1.8M307.9 712.8h1.8M273.8 738.9h1.8M363.2 691.0h1.8M302.2 708.2h1.8M276.5 717.4h1.8M303.4 715.6h1.8M299.9 712.6h1.8M331.6 711.9h1.8M259.5 742.1h1.8M263.6 739.3h1.8M271.9 728.2h1.8M277.8 729.8h1.8M299.0 717.8h1.8M349.9 695.5h1.8M381.8 679.7h1.8M325.4 709.0h1.8M307.8 734.1h1.8M285.0 711.1h1.8M334.2 714.9h1.8M336.5 695.2h1.8M270.1 745.5h1.8M289.7 713.8h1.8M261.9 751.7h1.8M290.1 719.6h1.8M290.0 723.5h1.8M277.0 740.5h1.8M274.3 739.2h1.8M348.6 687.2h1.8M270.7 738.2h1.8M309.6 734.9h1.8M329.4 725.5h1.8M262.4 752.7h1.8M281.3 734.4h1.8M288.4 743.5h1.8M305.9 728.5h1.8M302.1 716.8h1.8M280.1 744.2h1.8M274.6 738.8h1.8M301.8 723.6h1.8M278.1 721.9h1.8M286.1 728.8h1.8M337.4 712.4h1.8M284.6 729.1h1.8M297.6 713.5h1.8M260.9 744.4h1.8M262.4 752.5h1.8M278.7 727.1h1.8M365.6 703.6h1.8M308.6 719.2h1.8M297.8 713.9h1.8M297.6 732.6h1.8M315.8 723.5h1.8M333.2 698.0h1.8M262.3 729.9h1.8M304.0 727.2h1.8M323.5 713.0h1.8M277.4 743.4h1.8M302.0 721.0h1.8M276.4 735.2h1.8M261.5 741.4h1.8M276.0 732.1h1.8M293.5 716.1h1.8M276.2 734.3h1.8M337.6 699.9h1.8M361.1 696.3h1.8M294.2 722.6h1.8M297.6 730.7h1.8M342.7 706.2h1.8M301.7 723.9h1.8M266.7 726.0h1.8M270.3 720.0h1.8M262.5 728.5h1.8M343.1 716.1h1.8M279.0 719.7h1.8M332.9 699.1h1.8M317.2 727.8h1.8M353.2 698.5h1.8M290.2 744.7h1.8M268.2 733.1h1.8M278.5 736.6h1.8M379.5 679.2h1.8M363.1 683.8h1.8M283.5 723.9h1.8M286.4 728.9h1.8M287.5 732.0h1.8M312.0 713.1h1.8M261.2 751.1h1.8M294.8 722.4h1.8M286.7 729.1h1.8M322.0 730.5h1.8M314.4 725.2h1.8M374.6 694.9h1.8M337.3 696.8h1.8M345.7 683.3h1.8M296.3 722.7h1.8M307.9 708.2h1.8M321.1 727.6h1.8M270.5 734.7h1.8M282.7 732.8h1.8M277.5 731.6h1.8M299.0 723.8h1.8M305.6 729.3h1.8M259.7 751.8h1.8M291.3 738.5h1.8M276.1 736.3h1.8M261.8 752.9h1.8M313.2 725.7h1.8M403.4 679.5h1.8M301.6 725.2h1.8M302.4 718.0h1.8M288.8 734.9h1.8M263.0 753.0h1.8M304.2 714.1h1.8M342.4 698.0h1.8M365.3 713.8h1.8M264.4 748.3h1.8M341.5 718.3h1.8M313.8 704.3h1.8M280.1 732.4h1.8M293.5 719.9h1.8M286.2 742.9h1.8M338.6 711.8h1.8M262.9 744.9h1.8M309.9 733.4h1.8M262.9 753.2h1.8M360.4 699.0h1.8M294.6 730.8h1.8M325.9 716.3h1.8M342.6 709.9h1.8M316.5 705.1h1.8M368.8 695.5h1.8M287.1 729.6h1.8M335.4 706.5h1.8M376.3 677.0h1.8M281.4 721.6h1.8M370.8 678.3h1.8M365.0 700.8h1.8M262.6 727.7h1.8M274.7 736.5h1.8M288.9 721.2h1.8M325.5 706.1h1.8M336.1 710.2h1.8M333.1 715.3h1.8M294.2 728.2h1.8M285.1 752.3h1.8M293.9 739.4h1.8M260.0 734.5h1.8M311.6 727.9h1.8M279.5 734.2h1.8M334.9 705.5h1.8M281.0 729.4h1.8M266.3 753.0h1.8M299.6 722.2h1.8M364.7 702.8h1.8M348.8 685.1h1.8M294.9 714.3h1.8M281.7 735.8h1.8M307.9 704.7h1.8M270.4 738.3h1.8M304.7 739.7h1.8M347.7 710.7h1.8M278.0 735.1h1.8M325.2 702.1h1.8M320.2 697.5h1.8M379.6 675.3h1.8M375.4 702.5h1.8M287.1 733.8h1.8M274.5 736.5h1.8M269.9 731.5h1.8M259.8 740.0h1.8M302.9 700.1h1.8M296.0 731.2h1.8M401.6 653.9h1.8M260.4 743.2h1.8M297.6 742.2h1.8M304.9 722.9h1.8M282.6 720.3h1.8M278.6 746.6h1.8M278.8 728.2h1.8M298.2 730.1h1.8M280.7 717.4h1.8M405.0 653.1h1.8M270.5 737.4h1.8M274.6 732.7h1.8M331.4 710.3h1.8M305.4 726.1h1.8M385.5 698.8h1.8M337.8 711.8h1.8M297.9 691.2h1.8M388.4 670.0h1.8M278.5 723.6h1.8M373.1 673.9h1.8M279.8 734.6h1.8M267.2 747.5h1.8M279.3 733.8h1.8M291.1 720.2h1.8M393.7 682.7h1.8M262.6 747.0h1.8M346.6 708.4h1.8M315.8 711.9h1.8M357.8 697.5h1.8M327.9 720.2h1.8M278.0 741.4h1.8M341.3 705.5h1.8M321.5 738.8h1.8M299.6 735.2h1.8M292.7 731.3h1.8M266.4 745.2h1.8M291.4 727.2h1.8M306.1 719.4h1.8M284.5 724.0h1.8M279.6 725.2h1.8M296.5 699.7h1.8M381.6 694.1h1.8M280.5 743.0h1.8M281.0 727.1h1.8M336.0 700.9h1.8M285.8 744.5h1.8M276.5 728.3h1.8M313.2 711.4h1.8M270.6 747.6h1.8M307.8 723.3h1.8M283.9 752.0h1.8M313.3 728.7h1.8M363.3 687.1h1.8M312.0 721.5h1.8M400.2 682.1h1.8M358.8 678.4h1.8M285.7 748.6h1.8M264.9 751.3h1.8M317.4 697.8h1.8M337.6 709.6h1.8M280.2 732.0h1.8M401.8 689.7h1.8M273.3 700.3h1.8M360.4 681.5h1.8M282.4 739.1h1.8M289.7 738.9h1.8M271.7 747.8h1.8M287.2 723.5h1.8M337.6 702.6h1.8M276.4 734.1h1.8M306.4 724.1h1.8M261.5 739.3h1.8M285.6 733.0h1.8M292.9 720.6h1.8M296.0 729.4h1.8M375.7 707.0h1.8M263.7 727.9h1.8M327.3 708.7h1.8M325.2 707.2h1.8M309.9 743.7h1.8M325.8 706.5h1.8M305.2 718.7h1.8M259.7 722.4h1.8M259.8 730.1h1.8M281.2 736.9h1.8M336.7 696.2h1.8M362.1 706.1h1.8M305.2 728.5h1.8M272.2 732.8h1.8M303.8 709.1h1.8M359.5 693.2h1.8M319.3 723.6h1.8M279.7 729.9h1.8M266.1 742.8h1.8M262.9 737.6h1.8M278.8 738.7h1.8M264.4 750.4h1.8M286.7 734.0h1.8M357.2 691.8h1.8M307.1 725.8h1.8M296.8 731.4h1.8M300.3 728.2h1.8M272.1 752.5h1.8M312.5 710.7h1.8M275.0 749.8h1.8M264.7 752.7h1.8M366.4 690.0h1.8M292.3 725.4h1.8M325.8 711.2h1.8M281.3 733.7h1.8M261.4 731.4h1.8M270.5 748.6h1.8M294.5 721.9h1.8M343.6 698.0h1.8M363.0 671.1h1.8M266.3 738.2h1.8M351.6 705.3h1.8M294.4 719.5h1.8M299.1 707.3h1.8M320.3 701.7h1.8M261.1 744.6h1.8M333.7 736.6h1.8M296.9 732.6h1.8M345.2 718.7h1.8M353.8 704.0h1.8M346.1 692.1h1.8M266.0 738.1h1.8M332.8 704.4h1.8M262.7 750.7h1.8M287.1 726.5h1.8M332.2 720.5h1.8M291.5 725.6h1.8M371.3 680.3h1.8M265.6 732.3h1.8M272.6 742.9h1.8M324.3 714.3h1.8M323.0 705.6h1.8M308.2 726.6h1.8M330.7 695.8h1.8M315.7 727.4h1.8M280.0 753.1h1.8M307.7 733.4h1.8M306.6 728.2h1.8M270.0 752.6h1.8M277.5 741.1h1.8M269.2 735.8h1.8M271.1 703.4h1.8M385.2 700.3h1.8M283.4 726.5h1.8M301.3 727.4h1.8M281.7 733.6h1.8M334.2 729.8h1.8M313.0 698.1h1.8M315.5 725.2h1.8M297.0 726.4h1.8M269.9 738.2h1.8M285.5 736.4h1.8M319.7 713.8h1.8M332.2 721.1h1.8M327.6 707.9h1.8M280.0 743.4h1.8M360.7 701.0h1.8M310.9 724.1h1.8M260.6 724.1h1.8M272.8 740.4h1.8M303.3 729.8h1.8M262.0 750.8h1.8M282.3 725.6h1.8M269.7 738.7h1.8M323.0 697.5h1.8M293.0 738.8h1.8M269.6 739.6h1.8M302.0 724.1h1.8M275.8 740.6h1.8M268.2 752.8h1.8M287.2 712.4h1.8M275.7 725.8h1.8M285.6 745.9h1.8M267.1 749.2h1.8M265.3 735.7h1.8M365.8 688.3h1.8M295.8 728.2h1.8M386.6 700.1h1.8M352.2 706.7h1.8M340.3 710.8h1.8M350.1 699.7h1.8M294.9 721.8h1.8M302.9 726.1h1.8M272.5 747.9h1.8M277.4 735.8h1.8M265.8 752.9h1.8M310.2 708.1h1.8M302.2 717.9h1.8M291.3 748.4h1.8M310.8 718.0h1.8M326.0 726.2h1.8M377.5 689.5h1.8M271.8 746.5h1.8M327.1 695.4h1.8M274.1 730.2h1.8M302.5 735.3h1.8M262.7 752.8h1.8M315.3 722.1h1.8M341.5 694.0h1.8M321.4 722.6h1.8M308.6 722.1h1.8M279.6 727.1h1.8M329.3 701.8h1.8M374.4 692.1h1.8M321.1 715.7h1.8M323.0 702.5h1.8M302.4 718.6h1.8M345.9 712.7h1.8M277.7 740.4h1.8M283.3 739.1h1.8M309.8 719.4h1.8M283.5 745.4h1.8M261.2 743.1h1.8M269.3 738.6h1.8M261.6 747.8h1.8M271.8 732.2h1.8M274.1 730.2h1.8M265.3 731.9h1.8M371.5 691.0h1.8M260.5 739.6h1.8M281.8 726.3h1.8M333.4 718.3h1.8M292.4 739.1h1.8M331.2 706.9h1.8M289.3 731.6h1.8M260.5 745.0h1.8M329.3 711.3h1.8M293.4 730.4h1.8M287.7 724.5h1.8M265.1 737.0h1.8M261.2 752.6h1.8M272.2 734.6h1.8M292.5 727.8h1.8M319.7 716.5h1.8M290.5 735.2h1.8M276.0 737.3h1.8M357.3 684.9h1.8M341.0 705.1h1.8M287.4 736.4h1.8M267.3 743.3h1.8M361.9 693.3h1.8M280.2 734.4h1.8M371.5 685.1h1.8M283.4 737.6h1.8M280.6 738.3h1.8M260.6 742.1h1.8M280.8 725.3h1.8M273.5 739.6h1.8M262.7 733.2h1.8M268.0 739.1h1.8M321.4 715.2h1.8M286.9 741.2h1.8M353.8 699.9h1.8M287.5 722.5h1.8M343.2 712.5h1.8M375.2 688.4h1.8M300.8 736.2h1.8M303.6 725.4h1.8M328.6 715.1h1.8M310.3 723.0h1.8M265.4 750.2h1.8M338.8 701.3h1.8M324.7 731.3h1.8M261.6 746.1h1.8M298.8 729.1h1.8M292.0 724.8h1.8M326.3 718.3h1.8M299.3 723.9h1.8M291.5 737.8h1.8M275.0 737.5h1.8M274.8 741.1h1.8M352.7 695.0h1.8M325.1 711.0h1.8M299.4 726.7h1.8M350.9 708.8h1.8M340.5 704.4h1.8M260.6 738.4h1.8M270.3 743.7h1.8M302.6 740.5h1.8M376.5 689.8h1.8M276.5 745.0h1.8M270.5 737.0h1.8M346.2 694.5h1.8M272.6 747.4h1.8M341.7 710.1h1.8M301.0 735.4h1.8M317.0 703.3h1.8M265.4 740.6h1.8M264.9 723.9h1.8M335.6 678.8h1.8M306.9 724.3h1.8M315.7 739.6h1.8M292.7 725.8h1.8M261.4 752.1h1.8M282.6 723.6h1.8M267.8 753.2h1.8M269.6 734.1h1.8M289.7 736.1h1.8M344.9 692.9h1.8M260.0 733.9h1.8M263.8 715.0h1.8M308.2 710.4h1.8M313.4 731.1h1.8M379.0 676.3h1.8M344.2 682.6h1.8M289.4 725.3h1.8M269.9 717.4h1.8M305.4 705.6h1.8M283.7 748.1h1.8M269.2 752.7h1.8M299.7 740.6h1.8M317.9 721.0h1.8M291.2 736.9h1.8M274.0 735.6h1.8M293.1 725.9h1.8M267.7 747.5h1.8M329.1 700.2h1.8M265.7 747.5h1.8M338.0 720.4h1.8M278.5 739.3h1.8M299.0 730.2h1.8M334.1 707.2h1.8M353.1 691.9h1.8M283.4 730.0h1.8M285.7 717.7h1.8M339.7 700.7h1.8M310.1 718.2h1.8M261.5 731.3h1.8M276.7 736.8h1.8M329.7 709.3h1.8M381.0 690.3h1.8M260.0 740.0h1.8M297.1 722.9h1.8M266.7 728.4h1.8M261.0 745.7h1.8M307.7 730.3h1.8M303.7 715.2h1.8M280.1 734.4h1.8M267.1 737.1h1.8M294.4 713.6h1.8M324.1 717.6h1.8M259.6 741.1h1.8M336.1 705.8h1.8M274.4 752.9h1.8M340.0 700.6h1.8M305.6 717.7h1.8M391.3 682.8h1.8M293.5 720.6h1.8M294.0 722.4h1.8M272.2 728.1h1.8M395.9 685.1h1.8M281.0 731.2h1.8M351.0 694.1h1.8M326.3 692.9h1.8M389.0 668.7h1.8M352.9 688.4h1.8M301.1 722.5h1.8M267.5 752.2h1.8M299.9 721.5h1.8M296.1 731.5h1.8M348.9 709.0h1.8M313.6 712.9h1.8M285.2 733.4h1.8M281.0 727.5h1.8M264.1 735.6h1.8M261.2 753.2h1.8M292.9 734.5h1.8M334.4 721.7h1.8M366.0 691.3h1.8M373.0 695.4h1.8M318.9 715.9h1.8M264.9 737.6h1.8M326.6 712.2h1.8M297.2 722.3h1.8M303.0 712.1h1.8M270.5 740.2h1.8M321.2 699.0h1.8M286.9 739.7h1.8M348.2 700.5h1.8M374.4 721.8h1.8M289.8 741.2h1.8M319.4 720.6h1.8M277.6 738.1h1.8M265.2 747.4h1.8M261.7 739.4h1.8M326.0 698.7h1.8M298.8 736.3h1.8M272.6 744.9h1.8M302.6 734.7h1.8M314.8 715.0h1.8M290.5 743.3h1.8M360.0 688.8h1.8M323.6 714.1h1.8M331.2 710.6h1.8M285.0 748.3h1.8M263.9 725.4h1.8M274.6 743.2h1.8M340.1 697.9h1.8M344.8 698.5h1.8M267.4 740.8h1.8M273.4 743.1h1.8M315.8 726.8h1.8M289.8 707.4h1.8M268.0 752.1h1.8M289.5 744.5h1.8M270.3 721.4h1.8M285.0 738.6h1.8M364.5 689.3h1.8M315.4 724.0h1.8M271.3 733.2h1.8M328.1 709.1h1.8M333.0 695.5h1.8M358.0 698.2h1.8M330.5 715.8h1.8M374.9 689.2h1.8M372.3 687.3h1.8M309.7 713.1h1.8M278.4 731.8h1.8M349.9 700.8h1.8M320.5 709.9h1.8M302.0 730.2h1.8M260.8 737.1h1.8M357.1 703.4h1.8M311.3 727.3h1.8M303.1 733.1h1.8M263.4 736.7h1.8M363.7 669.1h1.8M277.2 728.0h1.8M282.8 731.8h1.8M265.0 748.3h1.8M313.8 727.7h1.8M280.5 721.2h1.8M337.1 722.5h1.8M292.1 721.4h1.8M285.1 739.8h1.8M265.7 726.3h1.8M354.0 698.4h1.8M260.3 734.9h1.8M344.0 722.2h1.8M281.1 720.8h1.8M281.8 728.0h1.8M290.9 748.9h1.8M294.9 748.5h1.8M271.3 734.1h1.8M296.8 721.4h1.8M319.8 690.0h1.8M261.0 708.9h1.8M325.5 700.1h1.8M267.1 722.7h1.8M348.9 742.1h1.8M275.0 739.7h1.8M363.2 706.7h1.8M283.2 728.8h1.8M271.5 743.1h1.8M273.1 729.8h1.8M335.9 694.3h1.8M259.4 732.5h1.8M386.9 684.4h1.8M268.8 732.9h1.8M262.9 737.3h1.8M264.1 740.0h1.8M264.9 745.3h1.8M281.3 712.8h1.8M298.4 733.2h1.8M291.1 732.4h1.8M266.9 742.4h1.8M269.1 720.4h1.8M270.9 747.9h1.8M369.7 709.7h1.8M260.0 742.4h1.8M263.6 725.2h1.8M261.1 737.5h1.8M276.1 728.7h1.8M356.8 696.8h1.8M262.3 742.7h1.8M312.8 701.4h1.8M285.2 731.1h1.8M284.2 748.4h1.8M274.2 740.0h1.8M308.2 746.7h1.8M268.9 724.2h1.8M267.8 743.6h1.8M295.7 732.5h1.8M326.6 717.9h1.8M261.5 738.3h1.8M326.5 711.2h1.8M306.7 729.9h1.8M311.2 705.2h1.8M270.5 746.5h1.8M269.8 743.5h1.8M275.6 736.1h1.8M341.3 669.6h1.8M262.9 742.4h1.8M262.0 752.5h1.8M339.4 707.6h1.8M336.9 717.9h1.8M327.9 739.6h1.8M266.7 748.4h1.8M286.4 732.4h1.8M281.9 729.2h1.8M264.1 738.9h1.8M280.6 732.0h1.8M315.3 717.9h1.8M306.3 715.7h1.8M269.5 740.7h1.8M312.3 708.9h1.8M268.4 750.7h1.8M306.4 711.7h1.8M368.4 678.2h1.8M324.2 728.5h1.8M292.1 753.2h1.8M327.8 714.3h1.8M377.9 688.4h1.8M347.6 711.7h1.8M283.3 730.1h1.8M284.1 731.7h1.8M319.7 710.1h1.8M316.9 698.0h1.8M319.8 723.7h1.8M330.5 706.8h1.8M283.3 733.3h1.8M321.9 707.0h1.8M261.7 749.3h1.8M260.0 744.9h1.8M272.7 752.7h1.8M310.9 716.2h1.8M283.3 738.6h1.8M265.2 747.0h1.8M296.2 729.3h1.8M327.8 705.9h1.8M366.5 689.0h1.8M285.8 729.6h1.8M305.7 708.0h1.8M306.4 699.6h1.8M318.9 719.1h1.8M336.7 706.9h1.8M293.4 720.6h1.8M387.2 697.2h1.8M339.1 699.8h1.8M364.7 700.4h1.8M312.1 733.3h1.8M297.7 729.0h1.8M408.8 662.8h1.8M275.1 731.1h1.8M308.0 712.9h1.8M279.5 726.2h1.8M275.2 741.7h1.8M274.6 741.0h1.8M331.7 706.5h1.8M322.6 735.8h1.8M294.5 729.9h1.8M343.7 712.2h1.8M312.7 711.4h1.8M307.7 698.7h1.8M367.9 691.5h1.8M267.9 732.2h1.8M335.7 701.4h1.8M321.1 711.6h1.8M277.2 736.4h1.8M260.9 750.5h1.8M319.3 730.3h1.8M322.1 725.4h1.8M388.9 689.7h1.8M274.1 740.6h1.8M262.3 735.7h1.8M342.2 725.7h1.8M310.8 715.8h1.8M260.1 736.7h1.8M270.9 723.0h1.8M265.5 726.3h1.8M298.9 736.3h1.8M383.8 675.7h1.8M314.1 725.8h1.8M327.9 707.9h1.8M273.9 739.2h1.8M317.0 719.8h1.8M279.0 739.0h1.8M259.7 743.4h1.8M292.7 736.8h1.8M396.5 674.1h1.8M288.0 725.7h1.8M262.8 750.9h1.8M314.3 719.2h1.8M271.3 727.3h1.8M337.6 712.1h1.8M311.5 722.7h1.8M371.7 678.2h1.8M300.4 730.2h1.8M285.7 720.8h1.8M280.2 740.8h1.8M262.8 749.3h1.8M343.3 696.8h1.8M372.7 677.4h1.8M280.4 724.4h1.8M291.2 748.9h1.8M301.6 720.4h1.8M319.6 709.5h1.8M272.2 729.7h1.8M273.1 746.5h1.8M342.7 672.5h1.8M281.7 731.0h1.8M300.0 723.4h1.8M286.4 731.9h1.8M277.5 741.2h1.8M341.6 721.4h1.8M317.9 718.8h1.8M279.1 741.6h1.8M268.9 734.0h1.8M291.4 743.5h1.8M327.6 700.3h1.8M273.5 738.3h1.8M260.8 743.7h1.8M349.6 704.3h1.8M333.7 718.2h1.8M269.1 752.4h1.8M268.9 736.9h1.8M265.3 737.2h1.8M288.0 724.2h1.8M275.6 741.0h1.8M271.4 740.8h1.8M264.2 741.5h1.8M263.8 752.2h1.8M333.2 710.2h1.8M269.1 735.9h1.8M277.9 741.3h1.8M299.3 713.4h1.8M346.7 685.1h1.8M350.3 691.0h1.8M284.7 730.0h1.8M354.7 699.8h1.8M384.3 682.6h1.8M319.9 712.5h1.8M305.4 720.7h1.8M305.1 715.7h1.8M315.2 725.4h1.8M296.2 726.5h1.8M308.0 717.7h1.8M309.9 707.7h1.8M313.3 708.2h1.8M302.4 711.7h1.8M296.2 715.4h1.8M361.3 698.2h1.8M260.8 744.3h1.8M280.0 750.7h1.8M387.4 671.5h1.8M317.8 690.8h1.8M325.0 701.2h1.8M389.6 667.8h1.8M332.5 711.2h1.8M285.4 727.2h1.8M306.6 716.3h1.8M313.7 712.2h1.8M260.1 743.9h1.8M364.3 700.5h1.8M318.0 706.6h1.8M268.4 742.4h1.8M261.2 745.0h1.8M312.4 689.5h1.8M283.4 723.5h1.8M322.8 708.2h1.8M275.3 732.3h1.8M285.3 730.2h1.8M260.2 752.8h1.8M355.2 698.2h1.8M305.1 700.4h1.8M299.1 725.8h1.8M339.9 703.5h1.8M336.0 678.2h1.8M372.6 700.4h1.8M271.8 749.7h1.8M293.2 723.6h1.8M309.6 707.7h1.8M295.1 719.9h1.8M333.0 679.4h1.8M289.1 731.9h1.8M306.5 715.5h1.8M308.4 747.4h1.8M275.2 727.1h1.8M272.0 752.4h1.8M329.5 714.3h1.8M327.9 723.2h1.8M290.1 741.0h1.8M261.5 753.2h1.8M264.2 739.9h1.8M330.7 694.9h1.8M280.0 735.2h1.8M291.5 723.3h1.8M328.7 725.0h1.8M331.7 703.0h1.8M293.3 717.6h1.8M274.4 752.7h1.8M314.8 718.9h1.8M262.3 748.0h1.8M292.7 723.6h1.8M295.1 706.4h1.8M365.9 713.5h1.8M266.3 729.0h1.8M261.6 740.7h1.8M275.5 729.9h1.8M260.8 736.6h1.8M285.5 746.6h1.8M384.1 681.1h1.8M291.4 736.9h1.8M308.4 716.8h1.8M380.0 648.5h1.8M277.4 727.1h1.8M286.6 723.7h1.8M299.7 724.0h1.8M269.9 721.6h1.8M274.8 736.1h1.8M337.6 705.9h1.8M281.3 731.9h1.8M263.7 733.1h1.8M279.6 734.5h1.8M295.7 733.7h1.8M259.8 745.4h1.8M302.4 729.2h1.8M283.0 723.6h1.8M273.9 751.7h1.8M328.4 710.4h1.8M262.4 744.0h1.8M368.3 680.4h1.8M313.7 716.2h1.8M288.5 723.4h1.8M352.9 692.1h1.8M289.7 726.9h1.8M272.6 722.7h1.8M308.3 724.0h1.8M386.2 701.4h1.8M279.0 729.7h1.8M326.1 708.7h1.8M349.8 696.5h1.8M318.4 716.8h1.8M275.5 741.8h1.8M261.4 747.4h1.8M282.7 733.7h1.8M291.2 729.3h1.8M263.5 736.4h1.8M292.6 728.7h1.8M277.0 731.8h1.8M306.0 718.4h1.8M342.8 705.4h1.8M274.1 721.0h1.8M262.5 753.1h1.8M297.9 713.8h1.8M270.4 729.2h1.8M348.6 741.9h1.8M292.1 733.8h1.8M260.8 753.0h1.8M299.5 734.8h1.8M269.0 739.3h1.8M260.3 743.8h1.8M263.5 738.5h1.8M264.3 747.1h1.8M296.9 733.1h1.8M324.7 718.1h1.8M395.1 679.8h1.8M287.5 730.9h1.8M394.4 689.8h1.8M296.7 740.7h1.8M328.2 706.2h1.8M381.2 713.1h1.8M291.2 734.1h1.8M272.1 752.5h1.8M303.9 731.5h1.8M385.8 682.1h1.8M271.4 736.9h1.8M272.7 737.8h1.8M266.8 747.0h1.8M325.1 723.3h1.8M270.2 734.4h1.8M266.1 742.0h1.8M341.2 703.6h1.8M281.6 744.0h1.8M266.9 734.7h1.8M350.6 729.2h1.8M294.4 749.8h1.8M371.2 686.0h1.8M322.6 688.5h1.8M314.8 718.4h1.8M340.6 725.6h1.8M290.8 753.0h1.8M259.7 737.6h1.8M259.4 752.4h1.8M260.1 748.4h1.8M287.5 734.1h1.8M265.1 743.1h1.8M282.9 727.6h1.8M275.0 741.2h1.8M262.7 736.7h1.8M295.9 722.6h1.8M276.5 735.2h1.8M276.6 745.3h1.8M276.8 725.1h1.8M295.5 731.7h1.8M352.5 690.6h1.8M274.3 742.4h1.8M288.6 750.2h1.8M287.7 724.0h1.8M279.8 729.3h1.8M298.2 721.7h1.8M382.3 685.8h1.8M345.0 714.3h1.8M296.8 732.6h1.8M298.3 741.4h1.8M279.5 726.9h1.8M354.4 713.2h1.8M309.3 741.5h1.8M292.9 727.0h1.8M359.0 682.7h1.8M342.8 727.7h1.8M366.0 669.8h1.8M302.4 703.1h1.8M327.1 715.4h1.8M307.0 701.1h1.8M270.0 752.9h1.8M277.9 729.3h1.8M326.1 716.8h1.8M260.2 739.8h1.8M281.4 741.2h1.8M404.6 692.3h1.8M279.8 740.1h1.8M294.7 723.9h1.8M275.3 739.0h1.8M275.7 725.7h1.8M343.5 711.7h1.8M321.3 717.7h1.8M317.1 700.4h1.8M264.0 752.1h1.8M274.7 740.9h1.8M272.6 744.1h1.8M293.3 716.2h1.8M276.4 735.3h1.8M326.5 733.2h1.8M306.4 718.9h1.8M348.4 704.5h1.8M275.2 731.0h1.8M259.6 752.9h1.8M285.9 727.8h1.8M313.4 722.7h1.8M308.7 709.9h1.8M274.1 738.0h1.8M280.0 740.9h1.8M309.6 719.9h1.8M285.2 726.2h1.8M277.4 736.7h1.8M314.6 706.1h1.8M301.1 731.8h1.8M311.7 739.9h1.8M309.2 721.2h1.8M304.7 725.6h1.8M365.3 706.7h1.8M279.6 719.7h1.8M290.9 734.5h1.8M383.0 682.4h1.8M388.5 700.3h1.8M270.2 741.4h1.8M313.8 721.1h1.8M397.6 726.3h1.8M271.2 743.6h1.8M289.4 736.4h1.8M272.7 752.1h1.8M376.5 680.0h1.8M298.5 734.5h1.8M293.4 736.9h1.8M274.9 744.3h1.8M373.7 732.7h1.8M300.9 714.1h1.8M365.0 696.9h1.8M285.6 738.8h1.8M265.2 733.0h1.8M315.7 717.5h1.8M375.2 703.3h1.8M261.2 752.1h1.8M260.8 743.5h1.8M272.6 720.4h1.8M275.0 745.4h1.8M267.1 743.3h1.8M263.7 741.3h1.8M271.8 729.7h1.8M328.1 708.7h1.8M302.2 730.6h1.8M353.2 711.2h1.8M357.1 684.7h1.8M345.7 703.9h1.8M263.9 730.8h1.8M273.5 735.6h1.8M261.8 742.5h1.8M394.1 663.1h1.8M312.5 720.8h1.8M260.6 746.4h1.8M282.0 716.9h1.8M395.2 685.5h1.8M271.0 740.7h1.8M259.9 742.0h1.8M284.2 714.9h1.8M275.7 731.9h1.8M302.5 722.8h1.8M266.5 751.5h1.8M279.9 731.4h1.8M299.8 738.6h1.8M260.1 739.1h1.8M286.8 742.8h1.8M344.9 712.7h1.8M278.0 735.6h1.8M286.5 729.7h1.8M301.6 725.3h1.8M335.0 724.3h1.8M361.0 703.7h1.8M289.8 735.9h1.8M379.7 713.5h1.8M285.8 732.9h1.8M265.7 745.5h1.8M273.8 740.1h1.8M299.4 721.7h1.8M279.0 741.2h1.8M264.2 753.2h1.8M306.2 711.5h1.8M314.3 721.9h1.8M312.1 708.2h1.8M273.3 735.4h1.8M347.7 708.0h1.8M277.6 730.4h1.8M326.5 724.5h1.8M289.2 714.1h1.8M356.6 695.8h1.8M268.9 739.9h1.8M265.7 744.1h1.8M274.6 724.8h1.8M279.8 735.4h1.8M293.9 727.7h1.8M286.3 719.5h1.8M291.1 741.3h1.8M270.6 748.1h1.8M329.6 716.3h1.8M281.2 727.2h1.8M331.4 712.9h1.8M273.3 726.9h1.8M324.3 719.8h1.8M311.9 726.3h1.8M359.6 691.5h1.8M265.9 748.0h1.8M348.6 691.6h1.8M352.3 702.8h1.8M263.6 742.0h1.8M291.6 729.9h1.8M286.6 733.9h1.8M298.9 726.3h1.8M299.1 726.6h1.8M325.9 726.0h1.8M268.9 710.6h1.8M261.8 724.6h1.8M297.2 735.9h1.8M385.6 682.6h1.8M339.2 716.1h1.8M347.3 695.0h1.8M285.9 725.4h1.8M290.7 733.9h1.8M285.2 739.8h1.8M261.7 739.3h1.8M285.0 726.0h1.8M260.8 753.1h1.8M272.3 742.1h1.8M267.9 739.8h1.8M317.7 705.6h1.8M264.7 752.3h1.8M339.7 706.6h1.8M284.3 744.1h1.8M274.7 737.7h1.8M399.3 664.1h1.8M348.3 687.4h1.8M331.1 726.3h1.8M315.4 710.3h1.8M259.8 740.2h1.8M297.0 720.8h1.8M293.8 729.0h1.8M287.9 741.5h1.8M270.7 707.4h1.8M298.6 733.6h1.8M268.3 744.7h1.8M319.0 721.8h1.8M283.4 729.0h1.8M315.3 712.0h1.8M279.3 718.4h1.8M288.2 711.7h1.8M290.2 708.7h1.8M322.7 708.9h1.8M329.0 702.7h1.8M289.2 710.6h1.8M274.8 724.0h1.8M299.5 723.9h1.8M336.7 706.5h1.8M332.4 708.4h1.8M373.4 676.6h1.8M306.5 711.2h1.8M265.0 750.5h1.8M265.4 742.1h1.8M292.1 731.4h1.8M286.4 713.2h1.8M321.0 722.9h1.8M283.4 726.4h1.8M301.7 729.4h1.8M286.6 724.7h1.8M388.3 696.6h1.8M323.5 703.9h1.8M267.9 739.6h1.8M266.1 730.2h1.8M300.7 703.6h1.8M267.8 746.4h1.8M276.0 735.9h1.8M358.6 666.8h1.8M295.4 731.4h1.8M315.3 733.5h1.8M317.4 720.6h1.8M391.1 674.2h1.8M313.3 737.3h1.8M390.8 695.8h1.8M276.0 740.8h1.8M327.9 726.5h1.8M339.1 697.7h1.8M326.3 705.9h1.8M356.7 688.8h1.8M287.5 735.1h1.8M260.3 736.8h1.8M268.0 731.6h1.8M345.1 695.3h1.8M315.6 715.3h1.8M381.8 684.6h1.8M267.7 752.7h1.8M341.5 694.5h1.8M385.3 697.6h1.8M365.8 694.7h1.8M336.8 713.3h1.8M287.7 734.1h1.8M304.8 727.3h1.8M295.7 720.0h1.8M345.9 698.2h1.8M341.4 704.0h1.8M308.4 713.8h1.8M264.2 742.7h1.8M298.0 728.3h1.8M292.6 723.5h1.8M309.6 723.2h1.8M300.7 720.4h1.8M374.8 699.8h1.8M280.1 720.1h1.8M332.4 694.2h1.8M284.7 732.2h1.8M317.6 701.7h1.8M382.8 662.8h1.8M307.1 709.0h1.8M324.7 719.0h1.8M269.5 728.0h1.8M266.4 733.8h1.8M296.5 727.2h1.8M270.2 738.5h1.8M315.1 704.1h1.8M259.9 741.0h1.8M263.9 737.1h1.8M349.8 685.1h1.8M354.0 709.2h1.8M389.0 675.5h1.8M372.2 705.8h1.8M311.5 713.8h1.8M279.1 747.6h1.8M294.1 715.2h1.8M283.7 730.5h1.8M285.7 739.1h1.8M300.3 720.5h1.8M272.9 741.1h1.8M262.1 743.4h1.8M271.3 741.3h1.8M290.9 709.8h1.8M292.5 719.2h1.8M340.8 719.3h1.8M342.4 691.4h1.8M336.5 728.8h1.8M282.3 730.3h1.8M289.1 744.1h1.8M278.4 734.5h1.8M320.2 708.9h1.8M284.1 731.7h1.8M268.6 722.2h1.8M333.4 723.7h1.8M312.5 715.6h1.8M273.4 738.4h1.8M271.6 733.2h1.8M340.8 697.9h1.8M265.9 737.6h1.8M367.2 721.2h1.8M311.8 725.4h1.8M277.2 732.4h1.8M326.8 717.2h1.8M274.5 743.0h1.8M277.1 745.0h1.8M368.6 685.6h1.8M280.1 736.1h1.8M259.7 752.8h1.8M268.5 752.0h1.8M339.4 723.1h1.8M282.9 739.6h1.8M356.6 686.7h1.8M344.8 712.7h1.8M330.3 713.6h1.8M291.6 736.0h1.8M286.1 712.5h1.8M345.3 704.6h1.8M356.7 698.2h1.8M263.8 753.0h1.8M289.4 738.2h1.8M386.2 650.7h1.8M313.8 720.4h1.8M334.5 726.1h1.8M388.1 668.8h1.8M309.5 718.6h1.8M379.6 668.5h1.8M283.6 747.7h1.8M312.1 698.2h1.8M288.4 720.2h1.8M267.0 716.4h1.8M304.0 733.4h1.8M317.5 718.9h1.8M297.6 721.5h1.8M319.4 730.0h1.8M274.3 748.0h1.8M298.8 727.2h1.8M333.5 704.8h1.8M291.4 729.8h1.8M378.5 678.8h1.8M305.6 730.1h1.8M264.7 747.0h1.8M311.9 713.0h1.8M291.2 738.8h1.8M261.4 735.2h1.8M276.0 726.5h1.8M378.8 692.6h1.8M345.8 684.1h1.8M294.7 746.8h1.8M338.2 702.6h1.8M276.2 742.3h1.8M362.8 691.2h1.8M260.2 751.7h1.8M312.8 735.1h1.8M306.0 732.4h1.8M289.1 728.8h1.8M285.3 735.5h1.8M287.1 746.8h1.8M273.3 737.3h1.8M300.2 725.5h1.8M293.0 734.6h1.8M285.3 720.6h1.8M289.1 732.5h1.8M280.6 730.0h1.8M340.1 708.4h1.8M299.2 717.5h1.8M271.8 738.5h1.8M269.3 748.6h1.8M265.3 752.1h1.8M291.4 739.1h1.8M319.3 718.5h1.8M279.7 729.1h1.8M312.3 696.8h1.8M322.2 710.7h1.8M334.4 707.8h1.8M322.2 720.0h1.8M278.4 732.5h1.8M317.8 725.7h1.8M280.9 727.0h1.8M352.9 681.5h1.8M261.6 743.8h1.8M262.0 730.8h1.8M271.4 741.1h1.8M290.4 726.5h1.8M354.2 700.9h1.8M356.9 695.9h1.8M378.2 676.8h1.8M347.6 694.4h1.8M266.0 748.6h1.8M265.0 735.2h1.8M269.1 723.5h1.8M338.8 695.3h1.8M285.0 731.1h1.8M320.7 707.0h1.8M346.3 701.8h1.8M358.4 685.7h1.8M295.2 700.3h1.8M292.4 719.9h1.8M270.2 738.2h1.8M282.4 748.8h1.8M337.2 719.3h1.8M278.9 734.6h1.8M267.7 745.9h1.8M275.7 738.3h1.8M301.4 739.9h1.8M319.2 715.1h1.8M292.9 727.6h1.8M285.4 743.5h1.8M390.2 690.7h1.8M273.9 739.3h1.8M350.9 697.5h1.8M335.9 711.1h1.8M301.1 713.4h1.8M324.4 715.8h1.8M277.5 742.5h1.8M306.4 712.1h1.8M311.7 727.3h1.8M374.1 677.0h1.8M345.2 681.9h1.8M319.9 713.6h1.8M351.6 703.4h1.8M261.1 744.3h1.8M269.2 748.3h1.8M268.2 748.7h1.8M287.5 729.7h1.8M348.3 693.3h1.8M298.3 720.1h1.8M273.8 733.4h1.8M290.0 724.4h1.8M321.6 719.5h1.8M285.5 728.6h1.8M390.2 708.5h1.8M332.2 710.3h1.8M358.0 705.9h1.8M364.9 678.3h1.8M293.5 726.2h1.8M382.3 681.7h1.8M381.0 685.2h1.8M363.8 689.6h1.8M334.8 685.4h1.8M375.3 691.5h1.8M321.3 718.5h1.8M338.8 712.7h1.8M379.0 688.2h1.8M351.4 708.9h1.8M362.8 704.9h1.8M344.1 703.4h1.8M357.7 689.0h1.8M365.7 720.2h1.8M366.9 694.5h1.8M373.8 662.3h1.8M312.8 711.9h1.8M328.5 722.6h1.8M357.3 696.4h1.8M354.1 712.9h1.8M339.4 699.4h1.8M304.7 702.8h1.8M316.2 720.3h1.8M366.0 683.3h1.8M377.2 695.0h1.8M353.0 719.5h1.8M400.2 671.0h1.8M338.3 696.3h1.8M387.1 681.8h1.8M402.8 679.2h1.8M382.0 682.4h1.8M376.6 685.6h1.8M300.1 727.9h1.8M365.0 705.8h1.8M363.4 698.8h1.8M377.0 704.7h1.8M352.9 705.7h1.8M339.6 698.8h1.8M333.7 714.4h1.8M384.6 687.5h1.8M397.9 662.7h1.8M368.8 685.4h1.8M357.7 685.7h1.8M371.2 689.4h1.8M316.5 727.0h1.8M388.6 687.0h1.8M395.9 688.1h1.8M372.0 681.9h1.8M364.3 673.0h1.8M321.9 714.7h1.8M380.1 693.6h1.8M347.3 671.4h1.8M376.8 679.7h1.8M362.6 679.8h1.8M352.2 703.1h1.8M351.2 695.8h1.8M345.6 702.4h1.8M361.4 701.2h1.8M342.5 731.9h1.8M343.0 691.1h1.8M320.2 725.0h1.8M359.3 704.7h1.8M341.7 718.9h1.8M349.4 712.5h1.8M312.3 721.3h1.8M352.6 681.8h1.8M336.7 702.5h1.8M364.8 717.2h1.8M374.8 675.7h1.8M363.6 703.9h1.8M346.9 702.8h1.8M391.4 686.0h1.8M368.1 684.5h1.8M403.6 682.0h1.8M395.2 691.0h1.8M338.6 697.0h1.8M385.1 693.3h1.8M330.7 696.5h1.8M368.2 711.1h1.8M369.7 682.9h1.8M328.3 703.3h1.8M363.8 683.8h1.8M353.0 699.0h1.8M343.7 705.6h1.8M344.9 673.6h1.8M376.3 685.6h1.8M370.5 663.3h1.8M353.9 701.7h1.8M387.5 696.1h1.8M335.8 712.1h1.8M346.7 689.3h1.8M380.0 659.9h1.8M401.8 663.9h1.8M353.1 698.8h1.8M346.0 680.4h1.8M379.0 692.0h1.8M354.8 705.3h1.8M356.1 715.0h1.8M343.1 695.2h1.8M361.2 686.3h1.8M353.0 695.8h1.8M349.3 705.4h1.8M345.5 693.0h1.8M389.6 678.2h1.8M339.8 717.9h1.8M360.1 718.0h1.8M338.1 697.2h1.8M320.9 720.1h1.8M346.4 697.3h1.8M375.9 705.8h1.8M402.6 682.1h1.8M396.9 640.2h1.8M318.7 710.8h1.8M361.4 705.1h1.8M362.9 694.7h1.8M369.2 684.2h1.8M359.7 676.9h1.8M355.8 682.4h1.8M380.5 677.1h1.8M351.0 700.0h1.8M372.7 689.5h1.8M308.8 710.3h1.8M341.1 701.6h1.8M332.0 699.2h1.8M329.8 697.6h1.8M331.1 719.4h1.8M317.1 711.2h1.8M345.7 712.2h1.8M363.8 690.9h1.8M327.7 713.7h1.8M396.2 675.1h1.8M317.7 717.4h1.8M390.0 695.1h1.8M357.2 673.9h1.8M369.4 695.6h1.8M350.8 703.4h1.8M338.9 694.2h1.8M325.9 694.4h1.8M389.6 682.3h1.8M322.9 719.9h1.8M380.6 665.4h1.8M361.8 689.9h1.8M318.1 715.1h1.8M322.0 712.7h1.8M373.9 703.8h1.8M345.3 720.9h1.8M368.1 689.4h1.8M351.3 701.9h1.8M397.2 706.0h1.8M340.6 710.5h1.8M344.0 685.9h1.8M394.1 704.3h1.8M399.1 674.6h1.8M334.4 711.2h1.8M315.0 704.2h1.8M365.6 700.5h1.8M371.8 689.9h1.8M345.4 692.6h1.8M360.5 700.0h1.8M308.3 726.5h1.8M348.7 697.1h1.8M301.2 722.2h1.8M391.2 675.4h1.8M389.7 683.4h1.8M383.0 690.5h1.8M376.9 688.3h1.8M361.4 673.2h1.8M376.1 687.3h1.8M329.9 703.7h1.8M305.0 735.8h1.8M366.4 700.5h1.8M355.6 702.9h1.8M360.9 703.7h1.8M371.5 673.1h1.8M351.4 708.5h1.8M358.7 721.7h1.8M346.1 708.6h1.8M352.8 712.7h1.8M360.4 680.9h1.8M378.6 673.6h1.8M363.3 691.7h1.8M364.5 691.8h1.8M357.5 692.2h1.8M355.4 703.4h1.8M383.8 689.6h1.8M311.3 712.3h1.8M321.1 708.9h1.8M341.1 697.9h1.8M371.6 696.7h1.8M337.8 709.5h1.8M365.6 702.3h1.8M359.1 708.2h1.8M355.4 703.1h1.8M374.0 702.3h1.8M365.5 679.3h1.8M396.9 681.8h1.8M376.2 681.5h1.8M348.3 690.2h1.8M326.2 699.0h1.8M346.8 712.6h1.8M321.7 703.3h1.8M347.1 711.1h1.8M342.4 707.4h1.8M351.2 728.6h1.8M331.0 715.7h1.8M366.7 685.1h1.8M404.8 701.0h1.8M382.5 690.2h1.8M375.7 678.3h1.8M355.2 698.9h1.8M328.3 726.8h1.8M350.4 683.5h1.8M347.6 712.3h1.8M384.1 688.2h1.8M366.5 668.2h1.8M390.1 679.3h1.8M320.7 704.1h1.8M346.1 699.7h1.8M379.4 694.0h1.8M310.7 722.4h1.8M365.4 686.5h1.8M363.3 705.7h1.8M394.5 667.0h1.8M370.4 703.1h1.8M317.2 699.8h1.8M354.8 705.4h1.8M346.2 712.1h1.8M390.6 675.8h1.8M375.6 698.2h1.8M361.4 709.2h1.8M374.4 698.7h1.8M369.5 681.7h1.8M362.4 693.6h1.8M361.3 693.3h1.8M384.0 691.5h1.8M380.5 683.8h1.8M389.9 683.3h1.8M339.9 703.1h1.8M366.2 678.0h1.8M383.4 698.1h1.8M312.8 740.4h1.8M356.0 711.1h1.8M350.5 704.8h1.8M316.5 721.5h1.8M326.6 713.0h1.8M327.6 699.7h1.8M389.2 673.6h1.8M379.8 694.5h1.8M359.7 684.3h1.8M307.8 700.1h1.8M384.8 676.1h1.8M374.0 690.5h1.8M317.2 717.4h1.8M348.1 687.1h1.8M371.4 704.9h1.8M364.5 674.7h1.8M343.6 710.3h1.8M365.9 685.5h1.8M335.9 694.0h1.8M396.1 646.0h1.8M358.8 694.4h1.8M366.2 686.0h1.8M311.2 719.5h1.8M356.6 705.6h1.8M367.1 683.5h1.8M393.3 677.0h1.8M360.7 696.1h1.8M344.3 701.9h1.8M362.4 678.0h1.8M372.1 701.0h1.8M370.8 710.4h1.8M358.3 697.5h1.8M353.5 686.9h1.8M367.8 680.2h1.8M377.6 677.1h1.8M367.0 686.7h1.8M367.9 694.4h1.8M374.0 689.1h1.8M368.1 698.5h1.8M360.9 702.0h1.8M393.9 688.6h1.8M327.8 722.2h1.8M363.1 674.9h1.8M337.2 708.2h1.8M372.9 685.0h1.8M367.2 686.6h1.8M355.2 700.3h1.8M361.5 696.5h1.8M378.5 705.4h1.8M326.4 703.5h1.8M363.0 697.5h1.8M373.2 692.5h1.8M387.7 691.2h1.8M363.8 712.6h1.8M369.6 694.8h1.8M351.8 703.0h1.8M338.7 693.4h1.8M328.1 722.8h1.8M335.0 715.5h1.8M386.3 686.1h1.8M382.6 695.4h1.8M364.7 678.3h1.8M366.7 687.4h1.8M365.1 706.0h1.8M369.6 687.0h1.8M383.1 674.3h1.8M374.5 681.0h1.8M312.2 727.0h1.8M367.8 684.3h1.8M365.8 699.6h1.8M368.1 687.0h1.8M311.2 725.3h1.8M363.8 692.4h1.8M304.4 698.1h1.8M329.0 711.5h1.8M321.1 714.4h1.8M360.4 693.8h1.8M370.7 678.1h1.8M364.7 709.0h1.8M369.2 705.9h1.8M381.7 685.0h1.8M344.8 710.6h1.8M381.3 682.9h1.8M303.1 737.2h1.8M332.8 693.2h1.8M348.5 707.3h1.8M380.1 700.1h1.8M403.6 682.4h1.8M333.3 686.6h1.8M349.5 720.6h1.8M383.5 695.1h1.8M357.6 696.2h1.8M363.6 675.2h1.8M335.8 712.3h1.8M401.2 648.0h1.8M387.4 671.9h1.8M337.2 705.0h1.8M338.2 714.7h1.8M367.6 684.8h1.8M358.5 699.1h1.8M390.0 692.5h1.8M361.2 686.8h1.8M385.3 681.2h1.8M310.6 726.2h1.8M377.5 690.5h1.8M375.9 688.0h1.8M392.6 642.7h1.8M336.4 723.9h1.8M376.4 684.6h1.8M376.6 685.3h1.8M358.0 690.4h1.8M330.2 721.4h1.8M344.9 720.4h1.8M365.5 716.2h1.8M374.4 698.4h1.8M340.3 703.8h1.8M362.8 713.4h1.8M366.2 693.5h1.8M371.7 709.2h1.8M365.6 689.7h1.8M346.1 704.1h1.8M366.5 700.2h1.8M361.1 682.9h1.8M390.5 689.7h1.8M399.3 700.2h1.8M362.3 702.4h1.8M385.1 700.6h1.8M359.7 688.8h1.8M324.9 713.0h1.8M340.2 698.4h1.8M345.7 706.8h1.8M403.8 682.7h1.8M388.8 704.6h1.8M316.9 717.5h1.8M371.4 685.5h1.8M349.0 695.4h1.8M367.7 673.4h1.8M352.2 697.3h1.8M383.2 665.5h1.8M298.9 742.9h1.8M361.1 705.5h1.8M333.2 699.8h1.8M401.1 664.7h1.8M382.0 689.0h1.8M379.5 699.2h1.8M382.6 662.9h1.8M375.7 691.6h1.8M375.4 672.4h1.8M327.3 689.4h1.8M401.8 669.3h1.8M366.3 687.7h1.8M355.5 692.8h1.8M339.5 711.7h1.8M382.2 676.2h1.8M367.7 711.2h1.8M336.8 715.6h1.8M371.2 678.3h1.8M373.4 691.9h1.8M372.1 670.2h1.8M366.3 680.2h1.8M337.2 701.5h1.8M354.3 704.3h1.8M331.4 709.8h1.8M341.1 710.7h1.8M361.7 703.4h1.8M372.4 713.2h1.8M388.9 690.5h1.8M393.9 663.5h1.8M395.2 689.2h1.8M309.0 735.7h1.8M396.8 693.1h1.8M349.1 703.3h1.8M352.1 722.3h1.8M386.1 674.1h1.8M344.0 708.4h1.8M379.4 704.3h1.8M376.4 689.7h1.8M339.6 719.5h1.8M360.1 677.9h1.8M362.0 713.2h1.8M342.5 713.1h1.8M391.6 698.2h1.8M384.0 671.9h1.8M359.8 700.7h1.8M315.1 696.4h1.8M369.7 705.0h1.8M336.8 690.4h1.8M370.6 694.0h1.8M367.3 682.9h1.8M359.0 708.4h1.8M331.5 719.5h1.8M365.2 680.6h1.8M387.4 675.4h1.8M347.4 682.0h1.8M397.2 673.6h1.8M354.5 694.5h1.8M354.1 709.7h1.8M327.0 697.1h1.8M369.8 697.6h1.8M389.1 671.8h1.8M377.1 691.1h1.8M326.4 713.5h1.8M356.6 672.6h1.8M323.1 718.7h1.8M337.4 703.9h1.8M364.4 677.3h1.8M383.2 669.3h1.8M359.4 671.7h1.8M360.5 682.3h1.8M375.1 695.1h1.8M391.0 683.8h1.8M382.4 699.4h1.8M360.7 691.2h1.8M398.0 664.6h1.8M361.6 687.4h1.8M384.6 684.8h1.8M368.6 697.9h1.8M330.9 699.1h1.8M366.5 691.6h1.8M327.5 705.3h1.8M373.1 701.3h1.8M369.3 680.3h1.8M388.8 676.9h1.8M330.8 709.7h1.8M366.6 702.0h1.8M323.6 720.5h1.8M340.6 700.6h1.8M326.2 709.4h1.8M323.2 715.7h1.8M357.2 701.5h1.8M383.5 682.7h1.8M367.0 693.3h1.8M389.1 679.7h1.8M312.1 705.0h1.8M384.5 663.6h1.8M310.6 721.5h1.8M314.8 704.8h1.8M385.4 669.4h1.8M318.9 714.4h1.8M379.9 685.5h1.8M326.4 698.4h1.8M340.7 702.9h1.8M322.1 710.7h1.8M330.0 695.7h1.8M364.9 706.1h1.8M372.8 670.8h1.8M350.3 692.8h1.8M380.8 685.5h1.8M373.0 698.3h1.8M368.4 687.4h1.8M332.1 707.7h1.8M370.1 694.8h1.8M360.2 696.9h1.8M359.6 685.6h1.8M364.9 683.4h1.8M317.5 727.4h1.8M346.8 693.1h1.8M308.9 717.8h1.8M361.9 702.3h1.8M329.7 707.9h1.8M400.2 671.0h1.8M307.2 725.2h1.8M394.0 691.4h1.8M303.5 726.7h1.8M378.5 671.5h1.8M338.8 709.8h1.8M343.3 704.9h1.8M387.9 687.0h1.8M348.5 693.2h1.8M400.6 675.8h1.8M363.8 717.8h1.8M324.7 716.8h1.8M326.1 717.9h1.8M301.7 723.6h1.8M376.5 695.9h1.8M367.7 705.6h1.8M331.4 716.1h1.8M355.4 689.9h1.8M380.6 690.1h1.8M383.2 698.8h1.8M344.1 707.7h1.8M365.1 703.8h1.8M329.6 717.8h1.8M356.8 706.6h1.8M327.1 716.9h1.8M310.4 718.9h1.8M368.4 704.9h1.8M351.5 719.6h1.8M396.7 678.4h1.8M398.6 681.3h1.8M388.0 686.5h1.8M364.9 694.7h1.8M396.5 677.2h1.8M340.1 715.3h1.8M372.8 711.0h1.8M347.3 691.4h1.8M368.2 689.2h1.8M318.7 708.9h1.8M364.3 708.5h1.8M373.1 690.0h1.8M364.7 703.1h1.8M375.3 698.2h1.8M339.7 719.4h1.8M368.5 715.4h1.8M303.0 747.2h1.8M360.7 694.5h1.8M345.7 706.7h1.8M365.9 708.3h1.8M348.3 699.9h1.8M351.2 693.7h1.8M396.8 663.0h1.8M359.3 685.5h1.8M336.1 703.3h1.8M362.1 698.7h1.8M395.5 650.6h1.8M364.3 674.0h1.8M325.2 722.8h1.8M370.4 699.2h1.8M394.3 689.1h1.8M393.7 689.9h1.8M341.9 702.1h1.8M326.4 733.6h1.8M309.0 714.8h1.8M371.2 681.5h1.8M361.1 687.3h1.8M352.8 707.8h1.8M310.3 724.2h1.8M305.4 718.1h1.8M398.5 690.6h1.8M344.8 706.5h1.8M308.9 715.7h1.8M301.0 710.2h1.8M304.6 730.0h1.8M367.8 689.7h1.8M372.2 675.9h1.8M342.6 707.6h1.8M336.2 728.2h1.8M331.9 699.8h1.8M366.3 672.1h1.8M359.3 665.1h1.8M369.3 681.2h1.8M365.8 675.0h1.8M351.3 699.9h1.8M367.8 704.5h1.8M346.0 690.8h1.8M369.0 711.0h1.8M390.8 697.0h1.8M345.5 718.8h1.8M362.8 685.3h1.8M369.2 707.9h1.8M325.9 700.8h1.8M358.1 707.8h1.8M354.6 696.0h1.8M385.0 691.3h1.8M368.9 701.3h1.8M387.2 672.5h1.8M381.4 702.5h1.8M350.3 705.8h1.8M338.1 702.2h1.8M332.0 698.5h1.8M369.2 692.1h1.8M343.8 689.1h1.8M374.2 679.4h1.8M389.7 688.8h1.8M374.7 684.5h1.8M312.8 724.3h1.8M315.3 719.7h1.8M335.7 711.5h1.8M391.7 692.7h1.8M361.3 707.0h1.8M348.9 711.6h1.8M335.6 688.7h1.8M378.5 690.2h1.8M358.6 707.7h1.8M327.6 712.6h1.8M344.6 697.7h1.8M344.2 696.9h1.8M332.8 689.9h1.8M383.7 703.3h1.8M373.1 716.6h1.8M311.2 716.0h1.8M357.5 692.8h1.8M358.9 697.5h1.8M366.8 694.4h1.8M367.8 677.2h1.8M355.5 698.8h1.8M333.8 684.5h1.8M356.1 696.0h1.8M366.0 696.2h1.8M393.5 682.6h1.8M391.6 698.4h1.8M367.6 699.7h1.8M334.2 690.6h1.8M393.7 697.7h1.8M316.9 719.4h1.8M353.1 723.0h1.8M364.3 700.4h1.8M349.6 692.9h1.8M303.8 736.7h1.8M367.4 697.1h1.8M336.0 712.9h1.8M359.1 695.2h1.8M377.0 710.3h1.8M377.2 683.7h1.8M322.5 726.0h1.8M357.2 700.2h1.8M368.6 683.1h1.8M337.6 731.0h1.8M373.8 687.1h1.8M332.7 719.6h1.8M354.7 708.8h1.8M366.0 697.7h1.8M348.5 709.6h1.8M369.0 702.8h1.8M368.0 717.3h1.8M360.7 676.6h1.8M307.6 715.5h1.8M383.3 685.7h1.8M322.8 708.1h1.8M342.6 701.1h1.8M351.9 679.0h1.8M377.5 705.4h1.8M363.1 668.9h1.8M367.2 692.0h1.8M372.0 686.7h1.8M371.1 677.1h1.8M314.8 717.1h1.8M368.9 693.3h1.8M319.5 709.4h1.8M343.4 708.5h1.8M367.3 692.0h1.8M341.5 692.5h1.8M356.1 708.7h1.8M321.8 728.0h1.8M337.0 707.0h1.8M333.7 703.3h1.8M376.8 681.6h1.8M371.7 685.1h1.8M360.5 697.3h1.8M383.0 698.1h1.8M355.3 683.4h1.8M384.7 682.4h1.8M357.8 696.1h1.8M368.6 698.7h1.8M387.2 682.6h1.8M333.7 717.0h1.8M370.1 699.4h1.8M346.5 708.6h1.8M344.1 697.1h1.8M346.3 694.1h1.8M366.6 661.0h1.8M348.5 686.3h1.8M321.3 724.0h1.8M355.5 699.9h1.8M340.0 723.2h1.8M365.1 710.6h1.8M380.6 699.7h1.8M344.3 704.5h1.8M345.7 699.1h1.8M392.8 675.3h1.8M319.9 694.5h1.8M351.4 702.9h1.8M378.0 692.9h1.8M397.7 664.3h1.8M309.7 711.1h1.8M389.6 679.3h1.8M319.8 722.7h1.8M348.8 711.2h1.8M377.8 660.8h1.8M350.3 693.7h1.8M316.9 708.8h1.8M378.4 701.1h1.8M316.7 725.9h1.8M352.8 704.0h1.8M368.4 692.7h1.8M362.9 692.1h1.8M392.3 676.0h1.8M380.5 688.3h1.8M331.9 710.3h1.8M351.0 719.9h1.8M403.4 664.1h1.8M333.1 728.2h1.8M377.4 714.9h1.8M386.6 677.6h1.8M319.1 713.0h1.8M332.9 701.4h1.8M384.6 676.0h1.8M350.0 690.0h1.8M347.4 702.3h1.8M366.0 683.3h1.8M326.2 722.3h1.8M360.9 687.9h1.8M325.6 716.1h1.8M359.9 685.5h1.8M303.1 716.9h1.8M375.1 683.2h1.8M362.8 704.9h1.8M343.2 715.4h1.8M343.4 702.1h1.8M386.0 676.6h1.8M368.7 681.2h1.8M363.3 693.3h1.8M346.9 709.9h1.8M325.9 711.7h1.8M360.1 682.7h1.8M345.4 698.5h1.8M376.0 701.0h1.8M406.1 664.0h1.8M333.7 687.0h1.8M345.6 719.7h1.8M338.6 725.3h1.8M391.7 673.4h1.8M367.5 678.4h1.8M317.6 716.2h1.8M326.1 701.7h1.8M377.3 685.2h1.8M370.5 668.2h1.8M328.0 702.9h1.8M346.6 710.6h1.8M344.5 695.8h1.8M402.8 671.5h1.8M358.2 704.3h1.8M376.4 671.3h1.8M309.9 721.1h1.8M374.1 692.9h1.8M364.6 704.0h1.8M322.5 722.4h1.8M303.3 731.2h1.8M357.9 716.9h1.8M301.7 720.6h1.8M392.4 690.9h1.8M350.3 692.3h1.8M371.3 684.8h1.8M356.3 694.9h1.8M366.2 705.7h1.8M321.2 707.4h1.8M326.0 713.0h1.8M383.7 665.7h1.8M341.6 706.1h1.8M347.3 678.1h1.8M359.7 688.4h1.8M388.1 673.8h1.8M354.1 696.2h1.8M315.7 721.4h1.8M352.3 709.3h1.8M368.5 712.6h1.8M337.3 700.0h1.8M313.6 721.1h1.8M389.2 686.8h1.8M368.8 685.9h1.8M350.3 697.4h1.8M311.4 734.9h1.8M348.2 688.8h1.8M324.2 691.7h1.8M374.8 689.0h1.8M347.1 712.7h1.8M320.5 695.9h1.8M367.9 678.3h1.8M344.1 701.4h1.8M370.2 683.2h1.8M325.6 702.5h1.8M318.4 716.2h1.8M375.4 703.2h1.8M348.1 703.2h1.8M376.7 702.5h1.8M397.1 668.9h1.8M366.2 672.0h1.8M380.2 680.6h1.8M388.6 681.4h1.8M365.0 699.6h1.8M349.8 690.6h1.8M380.7 713.1h1.8M357.2 684.1h1.8M350.5 705.4h1.8M365.9 688.5h1.8M399.5 671.0h1.8M401.4 663.7h1.8M374.1 690.3h1.8M381.8 696.8h1.8M380.0 694.4h1.8M348.5 711.8h1.8M367.1 688.9h1.8M383.6 688.4h1.8M380.5 682.7h1.8M383.1 674.7h1.8M364.8 679.7h1.8M376.2 667.7h1.8M372.8 671.8h1.8M350.4 692.6h1.8M319.0 713.1h1.8M369.0 691.9h1.8M385.8 690.9h1.8M342.2 708.1h1.8M384.3 682.6h1.8M369.8 672.2h1.8M323.2 713.2h1.8M363.5 701.4h1.8M331.6 704.0h1.8M342.1 695.3h1.8M374.4 662.3h1.8M335.1 698.0h1.8M368.8 689.5h1.8M365.1 695.0h1.8M329.3 703.2h1.8M349.5 696.2h1.8M327.6 731.4h1.8M355.7 690.7h1.8M336.6 692.2h1.8M323.6 732.7h1.8M345.8 697.5h1.8M383.2 679.3h1.8M349.4 701.4h1.8M387.8 674.5h1.8M344.7 704.0h1.8M349.2 679.8h1.8M328.0 718.0h1.8M365.1 691.9h1.8M306.0 725.3h1.8M338.7 709.3h1.8M388.9 670.4h1.8M315.7 728.2h1.8M380.6 680.6h1.8M364.3 696.7h1.8M367.9 713.1h1.8M320.2 689.4h1.8M356.6 699.3h1.8M378.5 684.9h1.8M367.9 681.6h1.8M339.4 710.8h1.8M373.4 687.8h1.8M349.0 707.9h1.8M340.4 690.6h1.8M317.6 731.0h1.8M387.8 663.5h1.8M368.8 682.0h1.8M393.4 687.4h1.8M351.4 692.1h1.8M348.2 710.3h1.8M383.0 698.1h1.8M365.6 705.1h1.8M354.2 704.1h1.8M382.9 695.8h1.8M384.7 718.6h1.8M390.8 689.3h1.8M392.8 684.5h1.8M337.2 714.2h1.8M355.7 700.3h1.8M354.9 688.3h1.8M384.7 696.4h1.8M313.1 726.5h1.8M335.5 708.3h1.8M369.3 707.9h1.8M370.5 704.3h1.8M362.8 688.6h1.8M368.4 669.8h1.8M350.2 687.1h1.8M377.2 702.0h1.8M378.5 674.4h1.8M371.6 700.5h1.8M392.7 681.8h1.8M338.3 711.6h1.8M337.1 694.5h1.8M304.5 726.1h1.8M358.1 670.0h1.8M394.5 684.5h1.8M317.2 732.8h1.8M381.3 698.1h1.8M364.9 691.5h1.8M359.7 693.1h1.8M342.9 703.4h1.8M343.9 706.9h1.8M349.8 697.8h1.8M383.6 673.0h1.8M348.6 708.0h1.8M390.4 689.9h1.8M350.9 696.5h1.8M369.7 680.3h1.8M350.8 684.6h1.8M384.8 725.6h1.8M382.0 672.3h1.8M344.5 703.6h1.8M331.4 703.0h1.8M380.3 680.0h1.8M400.2 676.9h1.8M365.1 688.2h1.8M392.3 662.1h1.8M378.3 704.4h1.8M356.8 679.0h1.8M366.1 699.6h1.8M354.0 729.4h1.8M312.3 718.7h1.8M381.6 704.3h1.8M365.4 673.4h1.8M371.8 671.7h1.8M358.6 691.8h1.8M380.4 678.8h1.8M379.2 677.3h1.8M309.6 724.5h1.8M379.6 668.5h1.8M327.2 712.3h1.8M323.0 719.8h1.8M320.4 733.3h1.8M361.8 701.4h1.8M398.9 670.2h1.8M384.1 682.2h1.8M368.3 698.8h1.8M375.8 692.4h1.8M372.7 692.7h1.8M383.0 667.2h1.8M363.0 712.0h1.8M331.4 703.8h1.8M326.4 720.6h1.8M400.6 688.0h1.8M363.7 701.6h1.8M367.5 694.7h1.8M392.2 705.7h1.8M304.4 733.5h1.8M345.6 718.8h1.8M339.6 710.8h1.8M354.1 702.5h1.8M352.0 703.7h1.8M317.9 712.9h1.8M353.0 701.7h1.8M392.6 682.6h1.8M369.3 686.6h1.8M352.2 691.1h1.8M340.9 706.8h1.8M346.7 696.2h1.8M334.0 703.8h1.8M396.4 665.3h1.8M368.4 701.7h1.8M374.2 692.0h1.8M374.8 699.6h1.8M401.8 684.1h1.8M332.9 723.3h1.8M376.6 680.9h1.8M343.8 697.6h1.8M381.5 687.4h1.8M319.6 719.2h1.8M318.0 705.3h1.8M345.0 702.7h1.8M357.4 694.0h1.8M370.3 697.2h1.8M367.5 713.5h1.8M332.2 718.0h1.8M362.5 683.6h1.8M352.9 706.5h1.8M407.0 680.1h1.8M370.6 688.9h1.8M328.9 688.0h1.8M359.6 704.9h1.8M359.0 684.4h1.8M364.6 693.6h1.8M363.1 684.2h1.8M326.5 690.4h1.8M387.0 702.3h1.8M366.2 665.1h1.8M351.4 712.1h1.8M360.6 673.5h1.8M331.6 707.6h1.8M378.2 675.2h1.8M381.1 674.9h1.8M321.7 716.6h1.8M361.1 704.8h1.8M332.8 702.1h1.8M388.9 688.3h1.8M387.2 687.1h1.8M399.9 673.9h1.8M371.7 688.9h1.8M314.7 727.1h1.8M367.3 702.3h1.8M365.9 684.9h1.8M397.9 690.3h1.8M371.2 692.8h1.8M332.8 716.1h1.8M386.3 660.9h1.8M336.1 702.2h1.8M392.0 697.2h1.8M391.6 684.5h1.8M393.0 674.8h1.8M366.0 711.9h1.8M355.3 711.9h1.8M348.6 706.6h1.8M311.1 715.1h1.8M324.0 705.9h1.8M333.2 706.1h1.8M373.9 706.7h1.8M375.5 679.8h1.8M338.3 706.3h1.8M398.5 687.9h1.8M326.5 703.3h1.8M388.3 697.3h1.8M356.1 697.1h1.8M357.7 680.3h1.8M326.2 716.4h1.8M309.2 713.0h1.8M367.1 705.7h1.8M342.6 709.4h1.8M314.6 726.8h1.8M387.5 676.3h1.8M357.2 687.2h1.8M350.3 705.0h1.8M381.7 664.9h1.8M349.1 697.0h1.8M314.7 727.9h1.8M367.7 682.6h1.8M316.6 721.5h1.8M400.3 698.1h1.8M399.2 663.5h1.8M344.3 708.8h1.8M405.5 679.7h1.8M370.9 676.9h1.8M366.5 687.8h1.8M350.2 694.5h1.8M360.3 706.4h1.8M309.2 718.3h1.8M379.8 697.1h1.8M331.0 684.3h1.8M379.5 712.7h1.8M379.6 683.3h1.8M366.9 691.1h1.8M368.2 686.8h1.8M364.3 679.8h1.8M371.3 678.1h1.8M366.9 699.5h1.8M349.6 706.0h1.8M309.1 715.4h1.8M360.8 703.7h1.8M366.7 681.1h1.8M380.0 688.0h1.8M361.8 709.3h1.8M353.3 696.7h1.8M304.0 732.4h1.8M369.4 690.1h1.8M334.2 692.6h1.8M316.3 710.6h1.8M355.9 687.9h1.8M380.9 684.5h1.8M322.4 717.5h1.8M371.6 667.8h1.8M374.9 692.5h1.8M360.9 702.7h1.8M376.6 708.2h1.8M367.8 702.5h1.8M330.1 718.5h1.8M396.6 669.0h1.8M377.4 701.8h1.8M355.6 692.7h1.8M354.4 689.3h1.8M375.2 686.8h1.8M339.1 711.6h1.8M382.4 668.7h1.8M352.3 671.1h1.8M360.0 705.8h1.8M378.6 697.4h1.8M374.7 694.6h1.8M367.7 691.2h1.8M347.6 700.7h1.8M336.6 706.2h1.8M341.9 711.2h1.8M355.8 693.9h1.8M347.8 711.8h1.8M388.1 680.4h1.8M379.6 687.9h1.8M378.5 697.4h1.8M338.4 685.8h1.8M352.4 707.6h1.8M384.6 687.2h1.8M362.8 693.8h1.8M340.4 718.1h1.8M370.9 699.5h1.8M315.8 729.5h1.8M389.6 686.5h1.8M381.8 681.1h1.8M345.7 706.1h1.8M386.9 688.0h1.8M310.8 723.4h1.8M317.2 709.0h1.8M387.3 690.6h1.8M359.8 695.4h1.8M309.8 722.1h1.8M357.9 714.8h1.8M350.1 699.1h1.8M402.1 678.7h1.8M378.0 690.8h1.8M349.6 704.0h1.8M321.7 714.8h1.8M319.6 700.2h1.8M370.3 695.5h1.8M330.7 715.3h1.8M356.1 709.7h1.8M370.6 672.0h1.8M360.9 679.1h1.8M331.8 695.0h1.8M328.8 715.1h1.8M339.3 697.6h1.8M366.0 705.2h1.8M324.4 688.9h1.8M353.0 693.3h1.8M374.6 716.0h1.8M337.0 714.6h1.8M341.3 729.8h1.8M354.0 704.0h1.8M341.1 710.1h1.8M387.0 681.8h1.8M388.1 676.5h1.8M327.4 722.9h1.8M362.2 685.1h1.8M340.2 708.5h1.8M381.7 695.1h1.8M388.6 698.7h1.8M343.3 709.8h1.8M368.4 673.0h1.8M387.2 688.9h1.8M301.5 710.9h1.8M313.8 705.1h1.8M365.2 706.6h1.8M344.1 699.8h1.8M324.7 725.4h1.8M392.0 672.6h1.8M391.5 675.6h1.8M367.4 697.3h1.8M378.3 681.9h1.8M349.5 693.6h1.8M399.6 698.4h1.8M358.7 716.0h1.8M317.8 721.8h1.8M395.6 682.4h1.8M312.0 707.1h1.8M352.4 701.9h1.8M342.4 725.3h1.8M398.1 675.0h1.8M306.5 717.5h1.8M360.3 702.4h1.8M363.4 687.1h1.8M330.4 717.4h1.8M359.5 703.4h1.8M348.8 689.0h1.8M315.4 713.2h1.8M335.6 720.3h1.8M364.2 699.5h1.8M335.0 697.8h1.8M379.8 666.8h1.8M332.0 722.9h1.8M341.0 704.0h1.8M384.8 675.1h1.8M351.6 707.7h1.8M349.1 715.4h1.8M386.8 649.5h1.8M404.4 695.1h1.8M317.9 710.9h1.8M360.8 693.3h1.8M346.8 705.2h1.8M341.4 699.3h1.8M373.8 692.5h1.8M348.7 725.3h1.8M360.1 721.1h1.8M356.7 698.1h1.8M340.6 722.1h1.8M356.0 688.3h1.8M392.9 686.9h1.8M373.4 698.5h1.8M334.1 701.6h1.8M347.9 704.5h1.8M353.1 705.5h1.8M317.8 686.8h1.8M317.0 723.8h1.8M327.8 706.6h1.8M377.7 687.8h1.8M368.8 710.8h1.8M339.1 707.2h1.8M366.6 681.0h1.8M346.7 700.2h1.8M351.9 694.2h1.8M331.9 702.3h1.8M324.5 704.8h1.8M367.3 701.4h1.8M346.1 713.3h1.8M308.0 713.8h1.8M320.2 715.7h1.8M345.5 700.7h1.8M399.1 694.4h1.8M312.5 734.4h1.8M368.8 699.6h1.8M364.9 699.9h1.8M339.2 707.6h1.8M367.0 692.0h1.8M357.0 690.1h1.8M376.4 671.2h1.8M320.8 720.1h1.8M354.9 712.7h1.8M369.4 674.1h1.8M365.4 691.3h1.8M357.3 701.1h1.8M330.5 696.9h1.8M337.2 706.2h1.8M382.8 678.4h1.8M331.8 706.0h1.8M375.3 692.4h1.8M362.1 687.7h1.8M370.2 691.5h1.8M313.3 711.3h1.8M312.9 697.8h1.8M369.5 693.6h1.8M393.5 678.0h1.8M384.3 675.4h1.8M392.9 677.6h1.8M363.0 698.0h1.8M344.2 710.7h1.8M342.6 707.7h1.8M346.2 694.8h1.8M366.8 695.5h1.8M387.5 683.4h1.8M395.9 663.8h1.8M331.8 718.8h1.8M314.5 713.7h1.8M374.6 690.5h1.8M357.7 703.2h1.8M366.5 689.7h1.8M368.3 679.0h1.8M384.0 691.3h1.8M328.0 702.6h1.8M337.5 723.9h1.8M333.6 700.7h1.8M321.7 698.6h1.8M309.4 743.8h1.8M320.6 730.5h1.8M326.5 702.8h1.8M312.5 720.1h1.8M392.8 682.2h1.8M356.9 703.7h1.8M370.3 677.4h1.8M401.7 690.5h1.8M383.3 683.0h1.8M335.0 692.1h1.8M373.9 677.7h1.8M368.8 702.5h1.8M367.6 682.7h1.8M309.0 736.5h1.8M361.6 711.1h1.8M312.1 723.2h1.8M369.4 707.7h1.8M320.9 738.7h1.8M391.2 683.9h1.8M351.4 685.5h1.8M314.9 712.7h1.8M354.5 665.9h1.8M345.7 714.1h1.8M382.4 684.2h1.8M309.4 738.4h1.8M391.1 693.6h1.8M336.1 719.1h1.8M325.4 724.1h1.8M351.8 713.9h1.8M360.0 691.4h1.8M372.3 700.4h1.8M306.4 708.2h1.8M353.5 683.1h1.8M354.2 694.4h1.8M336.7 709.5h1.8M322.1 725.6h1.8M391.2 691.2h1.8M370.1 693.2h1.8M344.4 700.4h1.8M339.5 703.6h1.8M367.1 704.0h1.8M400.8 698.9h1.8M384.7 663.9h1.8M335.0 700.6h1.8M312.3 719.1h1.8M385.3 688.9h1.8M349.2 702.1h1.8M387.6 677.4h1.8M384.1 690.6h1.8M351.0 692.3h1.8M328.8 698.8h1.8M353.3 729.0h1.8M354.2 690.1h1.8M370.3 684.7h1.8M369.6 671.8h1.8M324.0 709.6h1.8M332.4 693.5h1.8M394.5 671.9h1.8M348.7 703.4h1.8M345.4 720.3h1.8M348.2 695.8h1.8M351.2 703.6h1.8M324.5 703.7h1.8M354.0 694.4h1.8M390.2 707.9h1.8M393.4 680.6h1.8M355.0 674.4h1.8M387.3 665.4h1.8M354.3 705.2h1.8M385.6 693.1h1.8M369.9 718.5h1.8M366.0 698.9h1.8M327.3 713.4h1.8M355.2 675.6h1.8M374.3 669.9h1.8M352.1 678.9h1.8M347.6 686.8h1.8M318.1 716.4h1.8M352.3 715.5h1.8M365.0 688.4h1.8M364.0 682.4h1.8M366.7 668.4h1.8M371.7 688.9h1.8M312.3 729.5h1.8M383.7 686.5h1.8M314.3 707.5h1.8M390.6 706.0h1.8M341.6 699.1h1.8M356.9 715.0h1.8M368.3 683.4h1.8M359.6 742.0h1.8M366.2 664.6h1.8M356.4 686.3h1.8M362.7 701.2h1.8M353.4 712.3h1.8M329.6 706.6h1.8M380.7 694.3h1.8M371.0 676.3h1.8M327.1 709.3h1.8M370.4 717.0h1.8M377.2 696.6h1.8M349.2 697.3h1.8M335.7 719.8h1.8M401.0 697.9h1.8M364.5 675.5h1.8M334.1 713.3h1.8M323.6 710.1h1.8M359.1 670.3h1.8M376.4 676.0h1.8M311.6 710.9h1.8M333.8 703.1h1.8M391.0 670.1h1.8M314.1 724.9h1.8M307.7 720.7h1.8M357.2 692.0h1.8M314.7 708.1h1.8M338.9 711.0h1.8M370.3 687.5h1.8M370.5 695.4h1.8M354.7 678.9h1.8M310.4 711.6h1.8M370.3 685.5h1.8M394.6 656.5h1.8M316.4 726.8h1.8M375.2 693.6h1.8M375.0 685.1h1.8M327.7 694.4h1.8M367.8 684.7h1.8M344.5 714.7h1.8M379.3 676.6h1.8M365.7 663.2h1.8M372.4 681.2h1.8M377.2 693.9h1.8M380.4 688.2h1.8M296.1 732.4h1.8M340.5 707.2h1.8M350.7 717.0h1.8M365.7 666.9h1.8M406.2 673.9h1.8M370.5 696.0h1.8M376.3 692.0h1.8M383.5 682.7h1.8M359.0 717.7h1.8M357.0 703.9h1.8M350.2 712.3h1.8M362.7 697.3h1.8M336.3 710.4h1.8M361.6 674.3h1.8M328.7 707.9h1.8M316.7 712.8h1.8M373.3 673.5h1.8M325.8 726.5h1.8M379.3 685.9h1.8M363.9 710.3h1.8M347.2 682.8h1.8M389.0 688.0h1.8M382.2 660.3h1.8M383.7 697.9h1.8M359.1 699.9h1.8M342.9 721.3h1.8M324.8 723.0h1.8M362.9 705.8h1.8M359.7 708.3h1.8M318.4 724.6h1.8M392.4 667.6h1.8M347.8 699.5h1.8M330.5 719.2h1.8M376.4 707.7h1.8M382.3 687.0h1.8M351.9 705.6h1.8M301.4 707.8h1.8M367.3 691.8h1.8M360.4 701.0h1.8M362.6 715.6h1.8M368.7 677.1h1.8M313.9 708.0h1.8M347.3 715.8h1.8M328.9 715.9h1.8M381.3 690.5h1.8M330.0 710.5h1.8M365.6 687.0h1.8M368.5 720.0h1.8M329.4 682.9h1.8M353.4 676.6h1.8M374.7 692.1h1.8M335.7 707.0h1.8M371.2 671.5h1.8M341.5 696.3h1.8M359.5 702.5h1.8M377.4 675.9h1.8M351.6 699.1h1.8M358.5 710.1h1.8M316.7 723.8h1.8M341.2 708.4h1.8M368.7 709.6h1.8M394.1 689.0h1.8M387.4 686.5h1.8M372.3 692.2h1.8M349.4 693.5h1.8M366.4 687.2h1.8M309.7 712.9h1.8M331.0 705.7h1.8M378.8 683.7h1.8M394.1 673.8h1.8M328.9 717.9h1.8M348.0 703.6h1.8M389.6 678.2h1.8M313.4 732.8h1.8M342.3 694.9h1.8M370.7 682.5h1.8M311.0 715.0h1.8M344.8 719.1h1.8M342.6 700.2h1.8M342.4 715.3h1.8M331.6 688.0h1.8M380.9 683.9h1.8M331.8 720.6h1.8M389.2 678.2h1.8M306.3 707.3h1.8M387.3 676.4h1.8M365.1 703.2h1.8M333.4 707.2h1.8M385.4 708.0h1.8M367.8 689.2h1.8M383.5 700.2h1.8M323.6 728.3h1.8M380.2 671.6h1.8M368.0 703.3h1.8M330.6 704.4h1.8M331.1 724.6h1.8M367.4 687.6h1.8M362.3 692.4h1.8M310.5 711.8h1.8M376.5 696.8h1.8M358.3 694.1h1.8M345.2 703.8h1.8M391.7 685.0h1.8M343.4 689.0h1.8M390.7 709.2h1.8M349.7 699.7h1.8M384.4 691.6h1.8M383.3 684.8h1.8M347.3 697.9h1.8M344.0 722.3h1.8M358.1 709.8h1.8M314.9 719.9h1.8M319.5 719.1h1.8M365.8 715.2h1.8M343.4 699.5h1.8M339.4 708.6h1.8M331.6 712.8h1.8M386.3 678.5h1.8M368.9 668.7h1.8M328.2 715.8h1.8M359.0 699.8h1.8M340.1 690.1h1.8M369.2 684.9h1.8M343.5 711.6h1.8M367.2 709.9h1.8M378.0 721.5h1.8M361.0 689.3h1.8M352.1 711.5h1.8M338.4 712.9h1.8M387.8 692.9h1.8M345.1 695.3h1.8M376.1 676.5h1.8M356.8 700.9h1.8M325.3 703.0h1.8M385.7 671.6h1.8M367.0 695.7h1.8M306.6 722.0h1.8M363.5 688.5h1.8M322.2 705.5h1.8M371.5 686.2h1.8M349.4 683.6h1.8M401.2 671.6h1.8M347.4 696.2h1.8M312.1 723.1h1.8M313.7 703.0h1.8M347.8 691.1h1.8M336.3 711.9h1.8M353.1 703.5h1.8M372.8 695.4h1.8M317.0 713.7h1.8M350.5 708.5h1.8M365.2 692.5h1.8M380.4 670.5h1.8M322.8 716.5h1.8M387.4 693.0h1.8M359.5 692.1h1.8M374.1 713.5h1.8M369.8 697.6h1.8M331.1 714.6h1.8M345.9 691.3h1.8M383.7 687.3h1.8M387.7 672.4h1.8M348.5 711.5h1.8M330.9 715.0h1.8M371.0 668.5h1.8M383.9 678.6h1.8M358.4 698.0h1.8M393.3 684.9h1.8M369.3 703.0h1.8M345.4 685.0h1.8M355.1 692.9h1.8M372.0 730.8h1.8M346.4 685.5h1.8M329.7 699.7h1.8M329.3 706.7h1.8M374.1 692.3h1.8M363.5 669.7h1.8M330.2 719.8h1.8M333.1 720.5h1.8M340.2 703.5h1.8M386.5 707.3h1.8M345.5 702.0h1.8M351.4 683.0h1.8M332.0 710.1h1.8M358.0 692.2h1.8M352.4 706.8h1.8M375.4 700.9h1.8M344.1 693.4h1.8M338.1 696.1h1.8M297.8 727.3h1.8M347.5 710.0h1.8M381.6 692.6h1.8M366.0 716.2h1.8M392.4 676.5h1.8M339.8 693.1h1.8M371.1 698.5h1.8M379.0 676.8h1.8M390.4 694.8h1.8M359.5 695.3h1.8M372.1 713.5h1.8M322.2 712.9h1.8M332.0 697.9h1.8M300.1 743.3h1.8M373.6 688.1h1.8M372.0 689.3h1.8M373.4 700.5h1.8M349.4 690.9h1.8M379.6 681.8h1.8M392.8 676.5h1.8M376.7 697.0h1.8M361.0 711.0h1.8M338.5 695.2h1.8M356.9 693.8h1.8M391.8 671.9h1.8M328.4 721.1h1.8M334.6 700.8h1.8M325.4 708.9h1.8M388.3 680.3h1.8M324.5 727.5h1.8M379.1 679.8h1.8M305.6 718.7h1.8M331.0 712.6h1.8M384.1 689.5h1.8M357.2 703.7h1.8M346.4 711.4h1.8M360.5 692.1h1.8M380.1 681.2h1.8M339.5 702.4h1.8M360.9 700.7h1.8M361.9 698.8h1.8M325.7 705.9h1.8M315.2 714.6h1.8M359.7 707.3h1.8M328.5 706.1h1.8M343.5 710.3h1.8M364.3 705.2h1.8M348.8 699.7h1.8M337.9 694.7h1.8M356.8 700.2h1.8M376.7 706.8h1.8M340.1 716.2h1.8M388.7 679.1h1.8M376.8 687.8h1.8M366.9 703.0h1.8M378.4 678.5h1.8M342.0 702.0h1.8M302.5 696.9h1.8M364.8 680.2h1.8M377.9 686.3h1.8M309.5 722.8h1.8M321.4 715.4h1.8M295.8 731.9h1.8M354.6 709.7h1.8M369.7 677.1h1.8M363.2 678.7h1.8M359.8 683.1h1.8M388.8 674.4h1.8M363.3 681.0h1.8M323.7 720.6h1.8M348.4 705.5h1.8M362.2 707.4h1.8M375.2 689.0h1.8M392.9 643.0h1.8M345.5 691.0h1.8M334.5 682.7h1.8M337.6 737.7h1.8M402.7 688.5h1.8M364.5 689.0h1.8M363.8 698.3h1.8M361.9 681.6h1.8M303.7 724.6h1.8M358.2 704.1h1.8M347.1 720.4h1.8M397.4 681.1h1.8M393.2 711.8h1.8M346.5 720.5h1.8M302.1 727.3h1.8M311.9 724.3h1.8M367.8 688.4h1.8M342.4 720.6h1.8M357.9 692.1h1.8M397.5 693.3h1.8M399.4 685.7h1.8M321.3 725.0h1.8M350.7 703.9h1.8M357.6 703.6h1.8M363.1 701.3h1.8M377.7 692.2h1.8M361.5 696.3h1.8M379.0 677.7h1.8M376.0 679.4h1.8M360.9 681.6h1.8M323.9 706.9h1.8M348.8 695.8h1.8M382.4 673.1h1.8M355.4 722.7h1.8M333.1 713.0h1.8M357.5 693.8h1.8M321.8 712.4h1.8M341.1 689.8h1.8M350.2 708.2h1.8M353.0 694.7h1.8M378.9 692.1h1.8M389.1 680.3h1.8M316.8 723.4h1.8M320.2 723.7h1.8M365.3 678.1h1.8M384.3 684.4h1.8M386.1 694.1h1.8M375.8 710.1h1.8M360.8 680.1h1.8M317.9 726.9h1.8M379.9 677.8h1.8M307.5 716.8h1.8M383.0 694.2h1.8M297.7 720.8h1.8M393.9 675.9h1.8M385.2 685.0h1.8M304.3 730.2h1.8M359.5 723.4h1.8M383.3 687.9h1.8M379.0 676.2h1.8M356.8 714.1h1.8M369.3 674.3h1.8M346.0 708.8h1.8M332.4 717.3h1.8M325.5 725.4h1.8M387.0 693.4h1.8M385.3 688.5h1.8M373.9 688.5h1.8M369.4 690.4h1.8M350.6 710.7h1.8M338.9 704.9h1.8M366.6 698.9h1.8M355.4 696.5h1.8M335.9 707.2h1.8M338.3 705.3h1.8M372.1 681.5h1.8M349.4 706.5h1.8M304.5 723.5h1.8M384.7 682.9h1.8M306.7 733.2h1.8M333.6 714.1h1.8M347.0 695.1h1.8M300.6 733.9h1.8M337.5 696.1h1.8M359.9 701.5h1.8M386.9 697.1h1.8M343.7 715.4h1.8M361.9 681.9h1.8M360.2 682.8h1.8M389.5 676.0h1.8M316.1 707.3h1.8M362.5 681.7h1.8M365.3 689.7h1.8M375.3 666.8h1.8M400.7 683.5h1.8M314.6 719.1h1.8M368.8 690.8h1.8M367.6 700.0h1.8M378.5 674.5h1.8M344.5 692.0h1.8M353.9 699.5h1.8M326.1 727.7h1.8M371.5 699.0h1.8M353.5 685.5h1.8M323.7 728.1h1.8M389.4 672.6h1.8M343.4 725.2h1.8M347.7 683.8h1.8M377.8 681.7h1.8M308.0 719.7h1.8M317.5 719.4h1.8M339.7 709.7h1.8M372.9 680.6h1.8M309.8 725.2h1.8M328.4 710.9h1.8M366.5 691.0h1.8M302.5 720.0h1.8M372.2 700.5h1.8M361.1 690.5h1.8M372.7 683.4h1.8M392.2 689.3h1.8M387.0 688.7h1.8M343.4 707.1h1.8M396.8 692.4h1.8M397.7 710.6h1.8M369.0 693.4h1.8M345.3 720.1h1.8M343.5 719.3h1.8M341.8 721.9h1.8M377.3 687.8h1.8M373.7 700.4h1.8M329.8 710.7h1.8M339.7 709.8h1.8M317.5 723.3h1.8M381.4 696.0h1.8M362.7 714.2h1.8M338.3 711.0h1.8M347.8 707.9h1.8M377.2 721.8h1.8M323.5 721.2h1.8M344.1 708.8h1.8M349.6 717.4h1.8M392.6 689.5h1.8M355.0 703.5h1.8M368.8 683.5h1.8M357.5 714.5h1.8M385.6 656.1h1.8M340.1 724.3h1.8M369.7 704.3h1.8M328.4 709.5h1.8M360.1 704.6h1.8M319.1 711.7h1.8M356.8 718.0h1.8M370.0 704.0h1.8M399.8 684.4h1.8M365.6 699.1h1.8M328.4 739.9h1.8M376.0 674.4h1.8M382.6 668.2h1.8M354.0 691.7h1.8M341.9 715.7h1.8M371.1 701.0h1.8M354.9 684.2h1.8M387.5 686.0h1.8M358.3 690.0h1.8M368.2 688.0h1.8M337.2 699.3h1.8M349.3 698.2h1.8M350.8 712.6h1.8M328.3 725.4h1.8M350.0 701.7h1.8M377.1 684.9h1.8M331.6 735.7h1.8M333.5 687.0h1.8M346.7 683.4h1.8M383.8 676.8h1.8M343.2 710.7h1.8M358.3 699.4h1.8M366.2 703.6h1.8M360.5 698.3h1.8M352.5 715.5h1.8M312.4 715.6h1.8M371.1 692.1h1.8M335.3 703.8h1.8M368.1 679.1h1.8M329.5 707.9h1.8M351.4 675.5h1.8M375.3 698.8h1.8M327.2 722.2h1.8M317.6 705.2h1.8M338.8 699.2h1.8M354.7 668.0h1.8M350.4 694.9h1.8M367.2 665.7h1.8M317.5 704.2h1.8M320.7 684.7h1.8M351.3 685.5h1.8M347.2 730.2h1.8M330.4 726.5h1.8M336.6 700.5h1.8M323.1 713.4h1.8M385.6 692.9h1.8M350.2 705.0h1.8M346.1 697.0h1.8M399.9 673.9h1.8M347.6 693.9h1.8M334.7 710.6h1.8M380.4 672.9h1.8M334.7 691.3h1.8M383.1 704.5h1.8M336.5 721.5h1.8M368.1 694.1h1.8M395.4 675.2h1.8M372.9 687.1h1.8M357.0 702.2h1.8M367.7 685.7h1.8M352.6 707.5h1.8M327.3 706.8h1.8M367.4 681.2h1.8M391.2 680.2h1.8M373.2 677.5h1.8M381.9 666.6h1.8M353.1 696.6h1.8M389.6 685.6h1.8M368.7 682.7h1.8M332.6 700.2h1.8M368.5 693.6h1.8M317.6 723.6h1.8M341.7 731.9h1.8M332.0 706.5h1.8M345.7 691.7h1.8M359.3 724.2h1.8M404.3 662.0h1.8M371.8 664.1h1.8M377.3 671.4h1.8M316.7 720.6h1.8M334.2 713.9h1.8M402.1 659.4h1.8M375.3 703.1h1.8M337.4 694.8h1.8M311.8 727.2h1.8M388.9 684.5h1.8M332.0 711.1h1.8M330.6 718.6h1.8M372.1 692.2h1.8M345.4 705.1h1.8M359.9 691.6h1.8M372.3 668.1h1.8M329.6 703.4h1.8M333.0 719.0h1.8M343.9 698.9h1.8M352.6 697.6h1.8M332.3 728.5h1.8M317.3 701.6h1.8M388.9 663.9h1.8M387.3 674.6h1.8M387.6 687.2h1.8M354.6 693.0h1.8M349.0 700.3h1.8M367.0 692.3h1.8M351.5 690.1h1.8M342.8 683.8h1.8M387.5 702.5h1.8M366.1 698.5h1.8M369.4 705.4h1.8M350.0 703.1h1.8M383.9 684.0h1.8M374.3 662.4h1.8M375.3 685.0h1.8M306.5 717.7h1.8M348.0 703.5h1.8M346.3 695.7h1.8M367.1 688.9h1.8M340.8 708.0h1.8M380.3 696.4h1.8M343.1 704.5h1.8M357.2 690.2h1.8M314.0 723.8h1.8M335.6 723.0h1.8M361.8 707.4h1.8M322.3 713.4h1.8M352.5 703.0h1.8M394.1 669.3h1.8M354.3 707.5h1.8M402.1 670.2h1.8M353.5 695.0h1.8M373.2 692.7h1.8M360.3 706.1h1.8M304.7 734.7h1.8M349.0 716.8h1.8M368.6 688.6h1.8M299.1 714.7h1.8M363.7 694.2h1.8M384.5 684.7h1.8M365.7 684.8h1.8M333.0 718.4h1.8M349.4 707.5h1.8M371.2 697.8h1.8M346.7 686.0h1.8M361.1 693.7h1.8M381.6 671.9h1.8M361.7 712.4h1.8M364.2 684.9h1.8M362.2 686.9h1.8M339.9 717.9h1.8M374.7 702.2h1.8M350.9 699.6h1.8M324.0 714.7h1.8M355.6 713.3h1.8M378.7 701.7h1.8M359.3 684.8h1.8M369.4 703.0h1.8M358.7 709.4h1.8M332.3 719.3h1.8M377.7 685.3h1.8M351.2 697.5h1.8M339.2 697.1h1.8M382.1 673.0h1.8M349.7 691.4h1.8M338.1 708.7h1.8M346.2 689.5h1.8M332.9 699.5h1.8M346.2 696.9h1.8M365.9 676.7h1.8M338.1 693.6h1.8M386.7 681.6h1.8M377.8 704.4h1.8M361.0 700.4h1.8M352.5 678.4h1.8M360.7 691.5h1.8M336.8 692.9h1.8M334.1 700.1h1.8M390.9 683.2h1.8M376.2 683.2h1.8M337.9 715.0h1.8M324.8 714.5h1.8M309.6 706.7h1.8M384.2 683.4h1.8M388.0 682.3h1.8M384.1 671.5h1.8M350.2 706.2h1.8M332.1 705.6h1.8M365.5 707.0h1.8M356.5 673.0h1.8M377.0 685.8h1.8M373.2 706.3h1.8M375.5 694.0h1.8M386.2 680.0h1.8M364.7 681.7h1.8M379.9 661.8h1.8M349.7 697.9h1.8M349.0 708.8h1.8M392.9 679.0h1.8M341.4 702.0h1.8M372.5 709.2h1.8M356.6 696.6h1.8M328.4 704.1h1.8M379.7 704.2h1.8M338.2 710.8h1.8M365.1 698.2h1.8M322.6 699.3h1.8M331.0 711.0h1.8M340.6 716.1h1.8M368.7 683.2h1.8M358.1 684.8h1.8M323.6 696.1h1.8M397.7 708.7h1.8M362.8 677.5h1.8M362.8 693.7h1.8M351.4 697.0h1.8M358.1 692.4h1.8M361.8 709.8h1.8M312.4 716.1h1.8M389.4 706.9h1.8M345.9 709.6h1.8M331.0 702.7h1.8M309.0 720.2h1.8M362.2 708.0h1.8M347.1 690.3h1.8M343.3 703.5h1.8M337.9 705.3h1.8M394.8 668.3h1.8M362.1 698.9h1.8M315.0 733.5h1.8M315.0 705.6h1.8M329.6 723.8h1.8M391.1 686.7h1.8M367.1 695.5h1.8M327.7 700.5h1.8M352.7 685.7h1.8M350.8 712.7h1.8M317.0 703.4h1.8M352.8 704.8h1.8M376.1 702.0h1.8M353.6 680.8h1.8M401.0 671.6h1.8M376.9 693.2h1.8M364.3 705.1h1.8M340.9 707.5h1.8M343.7 699.0h1.8M332.2 692.8h1.8M359.2 691.1h1.8M325.6 722.5h1.8M332.2 703.2h1.8M384.0 680.8h1.8M384.7 683.8h1.8M390.2 709.7h1.8M338.7 706.8h1.8M357.0 710.6h1.8M332.6 710.0h1.8M328.1 711.8h1.8M337.4 712.0h1.8M337.1 704.9h1.8M353.1 728.1h1.8M339.0 712.2h1.8M392.6 678.2h1.8M358.5 712.0h1.8M350.5 708.2h1.8M353.9 694.2h1.8M366.7 686.8h1.8M368.2 705.7h1.8M379.4 702.4h1.8M335.8 701.0h1.8M396.7 671.2h1.8M377.9 687.0h1.8M324.5 709.0h1.8M388.1 681.2h1.8M328.9 726.7h1.8M376.5 689.3h1.8M373.5 694.3h1.8M349.6 677.7h1.8M330.8 721.5h1.8M384.4 671.1h1.8M368.7 678.8h1.8M392.1 680.1h1.8M358.6 692.4h1.8M333.9 704.8h1.8M384.9 702.8h1.8M330.7 698.9h1.8M345.5 708.5h1.8M310.4 702.6h1.8M388.9 672.9h1.8M373.2 715.0h1.8M320.3 723.7h1.8M336.0 702.4h1.8M394.1 655.9h1.8M367.4 693.5h1.8M324.2 719.6h1.8M385.3 683.0h1.8M340.0 694.1h1.8M395.9 678.7h1.8M368.4 687.3h1.8M380.8 687.7h1.8M378.3 681.4h1.8M376.4 700.3h1.8M381.3 693.5h1.8M386.7 679.6h1.8M358.3 692.4h1.8M326.7 712.2h1.8M373.3 693.2h1.8M325.5 705.9h1.8M368.8 699.7h1.8M396.8 692.5h1.8M314.9 713.0h1.8M348.1 703.1h1.8M342.6 710.0h1.8M339.5 733.4h1.8M363.6 695.9h1.8M366.3 696.6h1.8M343.8 688.9h1.8M359.5 684.0h1.8M374.3 677.9h1.8M367.0 682.6h1.8M376.5 701.6h1.8M321.6 721.9h1.8M324.3 700.1h1.8M395.1 720.2h1.8M357.3 705.3h1.8M342.1 706.3h1.8M397.9 669.7h1.8M374.8 704.3h1.8M306.5 706.2h1.8M357.6 697.8h1.8M377.0 681.8h1.8M363.8 692.0h1.8M365.2 691.1h1.8M355.2 697.3h1.8M370.8 701.0h1.8M315.6 716.9h1.8M363.9 704.7h1.8M376.9 689.8h1.8M373.7 699.8h1.8M335.5 716.3h1.8M365.4 709.4h1.8M365.8 692.9h1.8M375.8 677.2h1.8M301.0 736.8h1.8M380.9 680.7h1.8M381.4 671.4h1.8M348.7 697.9h1.8M348.6 711.1h1.8M365.2 709.2h1.8M337.2 705.7h1.8M383.2 685.6h1.8M335.0 692.4h1.8M403.2 683.8h1.8M364.5 697.8h1.8M354.3 719.6h1.8M351.9 712.3h1.8M343.5 717.7h1.8M349.8 695.3h1.8M378.4 687.1h1.8M355.0 695.5h1.8M370.7 707.8h1.8M341.1 715.5h1.8M377.2 681.5h1.8M346.0 709.9h1.8M377.3 693.6h1.8M366.8 699.6h1.8M381.0 701.2h1.8M378.1 702.0h1.8M310.9 720.8h1.8M394.7 701.6h1.8M343.6 682.7h1.8M369.8 689.4h1.8M374.1 682.5h1.8M306.7 723.0h1.8M400.9 707.9h1.8M324.8 677.2h1.8M351.2 682.6h1.8M370.7 663.6h1.8M312.7 741.9h1.8M392.2 694.2h1.8M358.9 720.2h1.8M345.5 714.7h1.8M312.8 723.5h1.8M326.9 721.2h1.8M365.6 692.1h1.8M362.6 688.1h1.8M341.0 707.9h1.8M350.9 728.5h1.8M310.1 721.8h1.8M357.6 697.1h1.8M366.0 691.8h1.8M365.1 677.3h1.8M359.0 703.8h1.8M373.0 707.1h1.8M346.0 702.9h1.8M345.3 709.9h1.8M377.5 663.7h1.8M363.3 716.5h1.8M383.8 686.2h1.8M351.6 698.0h1.8M387.0 684.2h1.8M374.7 699.9h1.8M373.9 709.8h1.8M344.3 717.1h1.8M363.5 700.1h1.8M313.8 718.1h1.8M382.6 696.6h1.8M300.9 726.3h1.8M332.6 701.2h1.8M374.3 669.4h1.8M368.0 700.7h1.8M371.3 713.2h1.8M366.8 689.0h1.8M380.1 695.9h1.8M339.1 701.1h1.8M371.5 676.9h1.8M396.1 677.8h1.8M351.1 704.7h1.8M362.9 682.2h1.8M362.6 701.6h1.8M360.8 690.2h1.8M358.2 692.0h1.8M368.2 690.1h1.8M382.2 686.3h1.8M340.7 716.7h1.8M330.0 712.4h1.8M376.8 701.2h1.8M316.2 731.2h1.8M363.5 732.4h1.8M359.4 708.6h1.8M383.0 665.7h1.8M330.0 715.0h1.8M387.0 685.8h1.8M334.7 709.0h1.8M376.2 718.5h1.8M362.2 690.6h1.8M345.5 712.9h1.8M356.6 698.0h1.8M358.6 701.2h1.8M362.9 684.9h1.8M366.6 698.2h1.8M318.9 720.9h1.8M384.6 680.1h1.8M329.9 707.2h1.8M323.1 699.8h1.8M379.9 687.6h1.8M391.2 690.1h1.8M327.4 718.3h1.8M357.2 702.2h1.8M382.7 693.2h1.8M364.3 689.9h1.8M404.3 675.3h1.8M335.7 711.6h1.8M345.3 701.9h1.8M343.9 700.3h1.8M303.5 713.4h1.8M374.3 669.7h1.8M329.1 719.5h1.8M374.5 690.0h1.8M345.4 722.6h1.8M344.6 681.0h1.8M326.9 717.9h1.8M339.7 698.1h1.8M373.6 660.3h1.8M380.1 688.0h1.8M316.4 725.2h1.8M393.7 679.5h1.8M343.8 703.3h1.8M364.1 684.3h1.8M337.1 720.3h1.8M332.4 699.5h1.8M349.2 697.4h1.8M366.2 683.1h1.8M363.9 694.8h1.8M361.7 706.0h1.8M336.5 688.0h1.8M378.5 683.5h1.8M370.4 680.9h1.8M370.6 701.3h1.8M376.9 678.6h1.8M356.0 679.7h1.8M320.3 703.5h1.8M335.9 728.6h1.8M302.2 717.1h1.8M369.3 698.2h1.8M367.5 707.0h1.8M309.9 728.2h1.8M352.5 680.3h1.8M352.3 695.0h1.8M349.1 707.0h1.8M321.0 716.1h1.8M373.1 685.2h1.8M333.1 698.2h1.8M378.2 703.5h1.8M375.5 696.0h1.8M375.0 682.1h1.8M371.2 705.2h1.8M347.5 717.8h1.8M332.9 710.3h1.8M353.1 698.0h1.8M374.5 681.0h1.8M374.9 723.1h1.8M356.2 711.2h1.8M361.8 685.6h1.8M296.1 715.3h1.8M324.2 694.2h1.8M335.3 711.7h1.8M373.8 711.1h1.8M328.1 708.2h1.8M370.7 702.6h1.8M312.3 731.2h1.8M350.5 695.1h1.8M393.0 693.2h1.8M366.9 685.5h1.8M304.6 719.9h1.8M348.2 681.8h1.8M351.7 690.9h1.8M345.2 693.0h1.8M370.7 678.9h1.8M382.2 686.2h1.8M357.8 701.8h1.8M383.8 671.3h1.8M335.3 706.3h1.8M324.4 707.1h1.8M360.5 710.1h1.8M339.5 684.8h1.8M360.7 706.2h1.8M319.8 719.6h1.8M349.7 693.1h1.8M365.3 663.6h1.8M326.4 698.8h1.8M388.5 684.0h1.8M374.4 673.2h1.8M384.1 672.3h1.8M368.2 705.2h1.8M379.1 687.2h1.8M389.9 649.0h1.8M352.2 698.6h1.8M374.1 702.4h1.8M386.8 652.9h1.8M368.9 696.7h1.8M378.3 699.3h1.8M342.4 702.8h1.8M385.3 684.2h1.8M359.8 701.0h1.8M352.9 692.8h1.8M381.5 701.7h1.8M380.8 682.2h1.8M363.5 701.1h1.8M341.9 716.2h1.8M314.2 714.3h1.8M320.2 708.2h1.8M308.1 712.9h1.8M359.0 688.2h1.8M333.0 718.6h1.8M353.7 693.7h1.8M356.0 689.9h1.8M381.6 690.2h1.8M324.6 702.2h1.8M336.7 716.8h1.8M353.4 710.7h1.8M351.7 712.6h1.8M343.1 689.4h1.8M396.4 685.6h1.8M316.0 698.0h1.8M354.0 689.4h1.8M326.5 699.5h1.8M368.4 689.0h1.8M334.2 708.5h1.8M320.6 711.9h1.8M400.0 659.1h1.8M369.7 689.5h1.8M377.1 687.3h1.8M328.9 710.7h1.8M362.0 704.5h1.8M346.1 724.5h1.8M324.8 701.8h1.8M373.2 691.1h1.8M309.1 737.1h1.8M376.3 693.7h1.8M315.1 713.2h1.8M300.0 729.9h1.8M394.9 689.9h1.8M362.9 687.6h1.8M385.4 699.8h1.8M370.7 683.8h1.8M396.3 661.3h1.8M398.6 670.1h1.8M329.0 692.8h1.8M389.8 698.0h1.8M377.4 692.3h1.8M348.6 692.3h1.8M357.4 704.1h1.8M370.8 689.8h1.8M389.7 688.7h1.8M375.9 692.5h1.8M333.4 711.6h1.8M390.0 675.1h1.8M353.2 694.7h1.8M376.7 714.6h1.8M366.9 691.9h1.8M394.4 667.7h1.8M326.5 714.1h1.8M326.1 704.1h1.8M330.2 713.9h1.8M362.4 700.8h1.8M359.6 694.4h1.8M374.1 688.7h1.8M355.4 694.9h1.8M316.4 713.2h1.8M390.6 667.1h1.8M364.6 701.5h1.8M343.4 706.5h1.8M340.7 709.3h1.8M349.0 703.8h1.8M356.0 690.9h1.8M336.8 734.5h1.8M369.1 686.7h1.8M342.3 696.7h1.8M352.2 694.8h1.8M359.8 696.7h1.8M362.9 694.0h1.8M368.0 679.4h1.8M358.6 680.6h1.8M334.0 708.7h1.8M331.9 715.0h1.8M379.3 675.5h1.8M397.6 677.3h1.8M355.3 714.6h1.8M374.6 677.9h1.8M368.2 688.6h1.8M346.5 670.2h1.8M388.1 691.3h1.8M344.3 692.6h1.8M370.2 713.0h1.8M342.9 701.2h1.8M306.4 712.8h1.8M321.9 733.5h1.8M391.8 656.3h1.8M320.8 698.1h1.8M315.2 733.4h1.8M354.7 704.5h1.8M378.1 699.0h1.8M370.8 696.6h1.8M342.3 712.9h1.8M357.7 676.3h1.8M330.7 706.1h1.8M335.1 697.8h1.8M403.2 659.3h1.8M375.1 687.3h1.8M371.6 690.3h1.8M366.0 692.3h1.8M339.7 716.4h1.8M314.5 710.4h1.8M361.3 712.3h1.8M341.8 723.8h1.8M363.5 701.8h1.8M359.8 693.3h1.8M393.7 671.2h1.8M395.3 692.1h1.8M362.7 686.1h1.8M362.0 705.4h1.8M365.0 681.1h1.8M326.1 719.3h1.8M333.8 723.1h1.8M391.6 675.2h1.8M329.5 700.3h1.8M353.6 690.5h1.8M323.0 712.8h1.8M336.1 717.7h1.8M360.3 691.2h1.8M342.0 711.5h1.8M373.2 704.2h1.8M395.0 662.9h1.8M386.9 670.2h1.8M356.2 718.7h1.8M322.8 714.1h1.8M334.0 716.3h1.8M364.8 680.3h1.8M325.4 708.0h1.8M311.9 719.8h1.8M330.5 724.3h1.8M296.2 726.1h1.8M339.6 728.9h1.8M345.1 705.1h1.8M352.2 691.4h1.8M356.3 680.3h1.8M360.4 690.2h1.8M337.9 701.9h1.8M358.5 690.9h1.8M319.9 694.2h1.8M350.7 708.4h1.8M376.1 692.6h1.8M339.6 716.6h1.8M382.5 682.5h1.8M367.7 692.5h1.8M375.6 682.9h1.8M352.7 678.1h1.8M336.0 700.8h1.8M342.0 699.4h1.8M369.7 713.5h1.8M378.1 683.5h1.8M318.5 716.0h1.8M371.8 678.7h1.8M323.5 707.3h1.8M370.8 665.5h1.8M361.0 724.8h1.8M318.9 735.6h1.8M329.9 723.4h1.8M387.1 698.9h1.8M375.9 681.0h1.8M361.4 682.7h1.8M392.9 691.5h1.8M387.4 674.4h1.8M359.6 717.6h1.8M371.6 668.9h1.8M307.1 724.4h1.8M356.7 692.7h1.8M372.7 693.2h1.8M340.1 705.6h1.8M328.7 711.4h1.8M389.3 689.5h1.8M395.1 667.0h1.8M350.3 706.3h1.8M361.3 707.8h1.8M391.3 690.7h1.8M400.2 673.6h1.8M350.2 701.7h1.8M363.4 688.0h1.8M374.2 688.3h1.8M398.2 681.5h1.8M385.4 687.8h1.8M367.0 692.6h1.8M322.5 725.6h1.8M357.3 690.2h1.8M373.0 684.3h1.8M388.4 695.7h1.8M358.4 701.2h1.8M392.3 681.6h1.8M379.4 685.6h1.8M356.8 675.5h1.8M383.4 694.1h1.8M327.1 697.3h1.8M352.9 695.6h1.8M335.7 706.5h1.8M381.3 667.8h1.8M330.8 716.1h1.8M335.7 714.0h1.8M361.3 699.4h1.8M375.0 659.2h1.8M389.6 674.8h1.8M372.6 703.0h1.8M379.3 670.5h1.8M372.8 701.2h1.8M367.8 691.0h1.8M358.0 685.8h1.8M392.7 701.9h1.8M332.7 687.9h1.8M350.3 704.0h1.8M344.4 704.7h1.8M377.5 683.1h1.8M363.6 695.2h1.8M312.4 714.0h1.8M361.6 704.0h1.8M377.5 689.8h1.8M347.6 711.6h1.8M355.7 683.2h1.8M367.9 694.7h1.8M369.4 697.4h1.8M368.4 715.4h1.8M347.8 705.5h1.8M388.0 685.0h1.8M322.6 702.5h1.8M332.8 702.7h1.8M320.3 715.3h1.8M384.0 687.5h1.8M352.6 712.0h1.8M374.5 687.9h1.8M355.2 676.6h1.8M319.7 716.5h1.8M327.1 702.9h1.8M345.2 705.1h1.8M323.5 697.1h1.8M361.6 691.5h1.8M376.5 670.9h1.8M385.3 685.0h1.8M338.7 722.8h1.8M319.8 711.8h1.8M358.5 703.1h1.8M376.0 654.1h1.8M328.0 712.1h1.8M364.6 699.8h1.8M305.1 725.1h1.8M356.6 693.8h1.8M352.8 720.0h1.8M378.7 676.1h1.8M363.6 685.5h1.8M303.6 726.5h1.8M395.2 676.4h1.8M355.7 676.6h1.8M374.1 692.1h1.8M366.7 679.5h1.8M302.7 711.0h1.8M381.8 676.3h1.8M399.3 684.0h1.8M371.5 690.1h1.8M335.3 711.7h1.8M341.8 724.9h1.8M337.2 700.2h1.8M320.2 712.1h1.8M332.9 714.6h1.8M332.4 702.7h1.8M367.8 700.9h1.8M311.0 715.6h1.8M319.7 698.2h1.8M389.0 685.1h1.8M335.5 706.1h1.8M343.9 677.1h1.8M317.6 731.2h1.8M365.7 718.1h1.8M313.7 722.9h1.8M337.1 708.5h1.8M370.1 695.3h1.8M386.2 682.3h1.8M366.8 703.3h1.8M345.3 701.3h1.8M389.2 684.8h1.8M343.5 698.9h1.8M384.1 679.9h1.8M347.2 695.1h1.8M370.1 682.3h1.8M347.9 714.3h1.8M332.9 699.6h1.8M349.9 699.1h1.8M309.5 725.9h1.8M379.7 695.3h1.8M344.2 697.7h1.8M379.8 682.8h1.8M390.8 670.5h1.8M371.2 691.0h1.8M309.7 712.5h1.8M385.5 686.0h1.8M349.7 711.6h1.8M363.4 683.8h1.8M398.3 666.8h1.8M347.1 708.1h1.8M378.9 704.3h1.8M343.7 712.0h1.8M347.3 697.5h1.8M358.6 722.5h1.8M318.5 709.6h1.8M345.9 716.7h1.8M373.4 697.6h1.8M337.1 682.5h1.8M366.3 696.7h1.8M332.4 684.2h1.8M319.8 723.8h1.8M357.2 688.6h1.8M352.4 675.3h1.8M315.5 722.5h1.8M362.6 703.4h1.8M397.8 707.3h1.8M392.8 671.0h1.8M373.2 687.8h1.8M363.9 709.1h1.8M319.3 715.8h1.8M390.1 682.3h1.8M355.4 685.7h1.8M350.3 682.6h1.8M374.3 666.3h1.8M392.5 675.9h1.8M320.4 714.1h1.8M346.2 705.4h1.8M386.0 680.1h1.8M350.3 678.8h1.8M378.7 692.5h1.8M371.8 709.4h1.8M364.0 699.7h1.8M346.0 690.5h1.8M345.2 708.3h1.8M367.1 678.1h1.8M384.3 692.1h1.8M394.5 669.0h1.8M305.0 729.9h1.8M351.4 708.5h1.8M341.3 706.1h1.8M327.4 712.3h1.8M353.3 702.5h1.8M365.6 701.4h1.8M373.8 667.8h1.8M342.4 684.8h1.8M312.3 735.3h1.8M336.7 699.3h1.8M370.6 702.3h1.8M353.3 715.8h1.8M364.9 688.2h1.8M383.6 713.0h1.8M324.4 716.0h1.8M340.8 689.0h1.8M367.6 702.8h1.8M355.0 695.4h1.8M316.2 728.0h1.8M369.9 683.9h1.8M348.7 691.1h1.8M380.8 670.9h1.8M351.2 704.4h1.8M368.1 688.9h1.8M376.3 685.8h1.8M358.4 696.1h1.8M358.7 683.9h1.8M370.2 672.2h1.8M390.6 655.2h1.8M315.9 723.9h1.8M404.2 657.4h1.8M373.4 695.2h1.8M361.4 703.4h1.8M358.0 670.0h1.8M371.8 685.1h1.8M368.1 695.4h1.8M364.6 682.7h1.8M349.3 711.6h1.8M351.1 705.1h1.8M346.8 695.5h1.8M354.2 715.7h1.8M375.7 669.8h1.8M366.8 683.4h1.8M331.2 689.1h1.8M364.3 683.3h1.8M338.1 703.4h1.8M394.4 685.2h1.8M351.1 701.6h1.8M363.9 695.3h1.8M341.8 701.4h1.8M334.4 702.4h1.8M350.4 689.4h1.8M373.6 687.1h1.8M401.1 644.2h1.8M345.8 692.8h1.8M376.8 681.5h1.8M379.3 703.4h1.8M375.5 681.3h1.8M361.9 700.5h1.8M337.1 713.6h1.8M373.2 692.2h1.8M361.5 683.2h1.8M367.2 697.4h1.8M367.2 686.2h1.8M392.4 638.6h1.8M317.5 715.1h1.8M388.1 688.8h1.8M318.0 712.6h1.8M376.7 710.3h1.8M386.9 670.0h1.8M316.2 703.8h1.8M353.0 683.5h1.8M375.7 668.4h1.8M339.2 714.2h1.8M388.4 658.2h1.8M393.2 678.1h1.8M383.4 669.6h1.8M386.7 691.2h1.8M317.3 715.6h1.8M384.8 687.5h1.8M356.6 701.3h1.8M360.5 688.2h1.8M330.7 697.6h1.8M363.3 699.7h1.8M378.0 683.0h1.8M374.0 679.2h1.8M354.0 702.3h1.8M345.2 699.1h1.8M396.2 676.3h1.8M375.7 694.2h1.8M333.0 714.6h1.8M384.1 682.4h1.8M370.5 689.5h1.8M318.3 698.2h1.8M369.1 710.4h1.8M387.4 677.0h1.8M366.4 678.5h1.8M353.7 702.3h1.8M358.7 705.0h1.8M376.1 675.0h1.8M327.3 693.7h1.8M364.8 706.7h1.8M386.8 683.2h1.8M324.2 718.6h1.8" fill="none" stroke="#ee3c3c" stroke-width="1.8"/>
<path d="M376.6 677.8h1.8M332.4 726.6h1.8M310.9 697.9h1.8M324.7 711.8h1.8M297.6 711.7h1.8M341.5 698.0h1.8M292.8 734.4h1.8M383.4 690.1h1.8M312.7 694.4h1.8M314.3 711.8h1.8M335.5 720.5h1.8M318.5 709.8h1.8M333.2 709.1h1.8M303.3 727.6h1.8M325.3 691.6h1.8M342.0 711.2h1.8M384.5 694.2h1.8M316.4 711.3h1.8M295.0 736.0h1.8M298.1 717.2h1.8M371.2 695.6h1.8M378.6 668.3h1.8M305.0 721.9h1.8M320.1 698.9h1.8M317.7 710.6h1.8M346.4 681.0h1.8M316.0 703.5h1.8M322.5 721.2h1.8M289.3 728.2h1.8M290.6 722.0h1.8M360.8 703.5h1.8M298.6 705.3h1.8M298.8 716.5h1.8M367.0 698.8h1.8M292.3 747.8h1.8M378.7 665.6h1.8M319.3 744.0h1.8M356.2 725.7h1.8M326.7 704.7h1.8M289.8 739.5h1.8M333.4 701.9h1.8M352.1 669.9h1.8M342.9 678.6h1.8M407.3 673.5h1.8M326.6 709.3h1.8M363.0 686.0h1.8M322.0 724.6h1.8M359.1 692.7h1.8M291.5 726.7h1.8M313.6 710.1h1.8M374.3 706.9h1.8M308.2 718.2h1.8M349.9 688.9h1.8M327.5 738.8h1.8M344.5 742.2h1.8M339.5 701.8h1.8M373.2 674.3h1.8M298.4 718.6h1.8M391.1 701.5h1.8M333.3 692.7h1.8M330.0 729.4h1.8M357.8 706.7h1.8M318.3 719.4h1.8M293.9 717.3h1.8M362.8 668.6h1.8M363.8 698.4h1.8M370.3 707.8h1.8M320.0 715.9h1.8M350.0 684.5h1.8M368.5 713.7h1.8M348.0 696.4h1.8M291.4 732.1h1.8M311.2 707.2h1.8M303.3 721.4h1.8M299.8 720.7h1.8M356.8 687.1h1.8M383.5 673.8h1.8M290.8 751.0h1.8M391.3 685.5h1.8M354.8 686.7h1.8M347.0 675.0h1.8M326.9 715.7h1.8M372.6 683.2h1.8M327.1 701.5h1.8M364.9 708.1h1.8M326.9 710.4h1.8M348.0 689.9h1.8M318.7 697.2h1.8M317.5 713.8h1.8M308.4 703.4h1.8M344.1 706.3h1.8M298.1 724.1h1.8M300.3 725.2h1.8M365.6 699.6h1.8M301.6 736.6h1.8M309.3 730.2h1.8M382.2 655.6h1.8M381.1 650.6h1.8M328.8 710.2h1.8M308.6 722.7h1.8M326.8 705.1h1.8M324.6 726.7h1.8M382.9 687.9h1.8M349.4 700.2h1.8M309.3 726.0h1.8M335.1 706.3h1.8M303.5 721.2h1.8M375.5 700.5h1.8M387.5 693.8h1.8M327.1 715.4h1.8M337.9 709.1h1.8M408.1 666.9h1.8M298.9 731.4h1.8M308.3 741.5h1.8M334.1 705.8h1.8M366.5 694.2h1.8M367.6 694.7h1.8M311.6 719.8h1.8M314.7 704.1h1.8M375.8 723.9h1.8M312.8 726.7h1.8M320.6 730.3h1.8M322.9 707.3h1.8M333.1 689.2h1.8M312.6 725.5h1.8M334.9 716.3h1.8M323.5 697.6h1.8M317.0 728.9h1.8M309.2 731.3h1.8M365.3 693.1h1.8M340.4 697.8h1.8M323.2 742.9h1.8M340.1 680.7h1.8M347.8 695.3h1.8M317.2 743.6h1.8M397.3 661.8h1.8M289.7 724.6h1.8M369.2 657.5h1.8M300.0 723.8h1.8M322.9 712.1h1.8M382.5 677.9h1.8M289.2 729.7h1.8M316.0 701.3h1.8M358.0 682.7h1.8M339.6 711.3h1.8M379.3 692.1h1.8M314.4 704.4h1.8M331.9 698.1h1.8M339.6 716.9h1.8M303.8 730.3h1.8M336.0 689.3h1.8M352.9 697.4h1.8M350.8 677.1h1.8M376.0 689.2h1.8M326.6 697.1h1.8M370.1 688.5h1.8M300.5 751.4h1.8M314.3 710.8h1.8M324.7 716.4h1.8M313.7 730.7h1.8M341.1 708.5h1.8M330.0 708.8h1.8M321.5 735.8h1.8M335.4 694.5h1.8M333.5 704.4h1.8M364.8 694.6h1.8M291.3 723.2h1.8M379.1 681.5h1.8M311.5 722.3h1.8M321.2 701.4h1.8M294.8 717.2h1.8M325.2 726.2h1.8M290.2 727.8h1.8M336.9 713.3h1.8M326.4 726.4h1.8M384.1 634.8h1.8M306.9 727.7h1.8M378.1 697.6h1.8M317.3 703.6h1.8M299.9 700.2h1.8M322.0 712.9h1.8M340.9 711.7h1.8M312.0 715.8h1.8M370.1 690.3h1.8M396.4 681.3h1.8M353.9 726.2h1.8M323.3 728.5h1.8M336.8 739.5h1.8M318.6 706.2h1.8M352.7 718.7h1.8M298.3 726.6h1.8M357.1 690.2h1.8M330.5 710.0h1.8M360.5 692.9h1.8M388.9 689.7h1.8M351.9 642.1h1.8M336.1 677.9h1.8M330.6 709.8h1.8M332.5 699.6h1.8M313.4 697.8h1.8M358.4 691.2h1.8M342.0 728.9h1.8M334.6 714.0h1.8M290.4 742.4h1.8M340.7 703.0h1.8M340.8 682.5h1.8M367.0 670.6h1.8M314.9 704.0h1.8M330.4 714.9h1.8M292.9 719.3h1.8M340.0 694.1h1.8M339.5 706.3h1.8M379.5 680.1h1.8M373.8 690.3h1.8M327.8 717.7h1.8M303.3 719.1h1.8M342.1 698.8h1.8M302.4 702.8h1.8M320.1 753.2h1.8M334.0 698.6h1.8M341.2 711.3h1.8M345.0 696.6h1.8M300.7 730.1h1.8M296.4 720.2h1.8M312.9 710.0h1.8M406.6 679.9h1.8M398.3 698.6h1.8M302.4 726.2h1.8M311.6 722.5h1.8M327.9 713.7h1.8M374.7 641.4h1.8M332.3 687.2h1.8M300.7 720.3h1.8M327.1 718.0h1.8M364.4 689.5h1.8M320.1 714.0h1.8M324.3 715.5h1.8M325.9 713.8h1.8M347.9 735.6h1.8M324.9 716.0h1.8M308.9 715.9h1.8M319.8 693.3h1.8M328.1 724.5h1.8M347.8 662.3h1.8M319.7 691.2h1.8M317.2 731.3h1.8M356.5 708.0h1.8M361.9 683.4h1.8M315.8 689.4h1.8M332.6 703.4h1.8M367.0 709.9h1.8M338.1 687.8h1.8M321.2 724.9h1.8M377.6 672.8h1.8M305.7 723.2h1.8M352.1 718.0h1.8M310.6 711.1h1.8M331.2 706.9h1.8M311.4 706.9h1.8M308.2 727.0h1.8M368.7 685.3h1.8M330.2 701.8h1.8M353.9 708.6h1.8M318.8 720.5h1.8M321.7 721.2h1.8M315.6 704.4h1.8M312.2 729.6h1.8M306.9 709.9h1.8M358.6 714.6h1.8M372.3 679.4h1.8M303.4 735.4h1.8M319.1 725.7h1.8M339.3 702.9h1.8M288.6 737.6h1.8M318.1 719.5h1.8M395.8 674.3h1.8M296.5 714.5h1.8M377.9 686.3h1.8M347.9 693.1h1.8M301.9 724.5h1.8M348.9 717.4h1.8M304.3 727.8h1.8M370.9 695.1h1.8M314.6 724.1h1.8M349.0 692.8h1.8M361.3 694.7h1.8M314.6 717.6h1.8M313.7 710.8h1.8M346.4 684.0h1.8M311.0 684.1h1.8M372.5 690.2h1.8M325.4 716.5h1.8M391.8 693.8h1.8M315.8 717.7h1.8M314.8 700.3h1.8M353.7 705.3h1.8M380.1 667.5h1.8M342.5 703.0h1.8M299.6 707.1h1.8M319.3 719.6h1.8M293.4 723.1h1.8M342.4 690.4h1.8M339.0 703.4h1.8M342.2 676.3h1.8M371.4 692.2h1.8M350.0 687.2h1.8M317.6 715.2h1.8M351.9 689.2h1.8M309.3 716.2h1.8M350.0 683.4h1.8M315.5 715.9h1.8M297.4 705.9h1.8M331.3 716.1h1.8M371.6 715.2h1.8M322.3 702.6h1.8M290.0 749.0h1.8M289.8 726.1h1.8M349.6 708.9h1.8M316.9 730.1h1.8M361.2 664.1h1.8M297.3 730.7h1.8M312.6 719.8h1.8M312.6 703.6h1.8M326.5 713.6h1.8M290.0 727.0h1.8M347.4 694.7h1.8M325.5 712.8h1.8M384.4 659.2h1.8M301.0 738.4h1.8M366.5 688.1h1.8M311.0 707.8h1.8M358.2 668.7h1.8M314.8 722.9h1.8M365.6 688.5h1.8M362.6 720.4h1.8M368.8 701.8h1.8M336.9 686.3h1.8M302.2 720.8h1.8M402.8 683.9h1.8M378.5 735.3h1.8M321.9 731.4h1.8M329.3 711.2h1.8M357.4 695.4h1.8M328.0 695.6h1.8M338.6 700.9h1.8M326.3 725.4h1.8M338.5 712.4h1.8M295.8 712.8h1.8M308.7 717.0h1.8M288.8 724.8h1.8M353.2 712.9h1.8M330.0 707.4h1.8M317.1 717.5h1.8M338.9 723.3h1.8M369.4 690.0h1.8M324.4 698.9h1.8M345.7 702.6h1.8M319.5 721.7h1.8M309.6 709.0h1.8M354.3 686.4h1.8M350.8 695.4h1.8M370.2 714.6h1.8M289.4 720.1h1.8M325.9 727.6h1.8M353.5 699.8h1.8M344.0 716.7h1.8M327.3 685.6h1.8M304.2 707.1h1.8M323.1 696.5h1.8M305.3 710.3h1.8M309.6 698.7h1.8M329.4 687.9h1.8M375.3 683.3h1.8M353.9 712.5h1.8M303.7 728.2h1.8M379.4 666.5h1.8M300.6 732.9h1.8M325.5 722.0h1.8M327.6 717.5h1.8M319.5 709.4h1.8M312.8 718.3h1.8M331.3 697.5h1.8M310.4 719.4h1.8M330.3 711.8h1.8M356.4 670.3h1.8M335.0 710.9h1.8M318.1 694.9h1.8M289.8 738.1h1.8M317.3 726.5h1.8M335.3 707.1h1.8M346.8 671.6h1.8M326.4 698.6h1.8M328.6 710.5h1.8M382.8 681.3h1.8M353.0 681.4h1.8M385.5 678.9h1.8M343.1 726.2h1.8M384.5 709.7h1.8M323.2 711.7h1.8M313.6 728.8h1.8M359.4 721.2h1.8M323.3 698.8h1.8M293.3 716.7h1.8M366.4 696.8h1.8M372.5 704.2h1.8M342.5 702.0h1.8M396.6 685.7h1.8M377.2 682.1h1.8M313.1 703.6h1.8M316.1 710.5h1.8M363.9 689.3h1.8M367.0 681.9h1.8M337.7 719.5h1.8M313.6 710.8h1.8M354.9 691.5h1.8M328.9 711.9h1.8M330.5 719.4h1.8M324.9 694.0h1.8M358.6 712.7h1.8M376.6 723.9h1.8M324.5 712.8h1.8M305.8 749.5h1.8M295.6 728.2h1.8M327.9 724.4h1.8M337.4 701.9h1.8M311.2 714.2h1.8M292.6 739.6h1.8M325.2 715.3h1.8M317.7 726.1h1.8M314.4 732.9h1.8M384.5 686.8h1.8M359.6 693.9h1.8M337.4 708.4h1.8M335.4 698.6h1.8M331.0 717.8h1.8M302.0 750.7h1.8M332.2 715.2h1.8M325.0 734.7h1.8M385.1 665.0h1.8M334.2 708.0h1.8M314.8 733.4h1.8M308.3 735.9h1.8M367.0 674.4h1.8M367.9 668.5h1.8M337.2 689.0h1.8M346.5 693.1h1.8M384.2 681.5h1.8M326.1 702.5h1.8M289.5 733.7h1.8M330.6 698.8h1.8M290.5 742.4h1.8M322.5 717.4h1.8M343.6 702.1h1.8M346.1 695.1h1.8M341.0 695.6h1.8M320.5 709.2h1.8M324.8 718.8h1.8M293.2 727.4h1.8M344.6 708.9h1.8M308.8 725.1h1.8M320.4 728.8h1.8M315.0 708.7h1.8M324.9 722.2h1.8M355.4 672.3h1.8M344.0 715.6h1.8M344.2 705.1h1.8M326.1 720.4h1.8M373.1 703.4h1.8M402.5 675.1h1.8M308.0 715.5h1.8M336.9 714.8h1.8M311.8 722.2h1.8M340.1 688.7h1.8M355.4 700.5h1.8M339.0 722.2h1.8M316.1 727.1h1.8M322.5 729.7h1.8M301.0 730.2h1.8M358.5 716.5h1.8M299.8 723.2h1.8M365.0 690.5h1.8M321.5 731.7h1.8M371.6 702.2h1.8M341.7 697.6h1.8M293.1 731.2h1.8M308.5 718.7h1.8M373.5 699.7h1.8M335.9 703.0h1.8M324.2 706.7h1.8M335.6 722.5h1.8M388.9 702.0h1.8M345.6 724.0h1.8M336.7 700.3h1.8M318.3 708.9h1.8M334.3 713.0h1.8M314.8 719.3h1.8M338.1 719.2h1.8M361.6 714.6h1.8M305.8 723.6h1.8M312.8 716.0h1.8M342.7 704.6h1.8M380.0 670.4h1.8M268.3 754.2h1.8M261.8 768.7h1.8M259.5 775.1h1.8M264.2 758.1h1.8M261.1 765.6h1.8M274.2 753.3h1.8M259.4 770.5h1.8M268.6 755.2h1.8M259.7 763.8h1.8M271.9 753.3h1.8M265.8 753.9h1.8M265.1 755.2h1.8M271.2 753.5h1.8M261.2 757.3h1.8M263.6 762.6h1.8M272.3 753.5h1.8M260.4 765.5h1.8M272.8 753.4h1.8M277.3 753.2h1.8M261.7 764.2h1.8M262.8 758.5h1.8M260.2 758.9h1.8M259.4 769.0h1.8M271.0 753.3h1.8M264.7 759.9h1.8M264.3 759.7h1.8M261.3 762.6h1.8M270.1 753.3h1.8M259.9 770.8h1.8M275.3 753.3h1.8M261.1 757.8h1.8M265.3 755.8h1.8M263.2 763.6h1.8M261.3 758.9h1.8M265.6 758.3h1.8M261.9 759.7h1.8M272.0 753.5h1.8M260.4 769.8h1.8M263.1 762.6h1.8M259.8 773.4h1.8M262.0 766.6h1.8M261.0 760.8h1.8M277.2 753.2h1.8M261.8 756.1h1.8M273.0 753.3h1.8M276.8 753.2h1.8M268.5 754.6h1.8M262.2 762.8h1.8M266.0 754.6h1.8M263.3 760.2h1.8M259.7 765.2h1.8M275.4 753.2h1.8M263.6 758.9h1.8M261.4 757.2h1.8M264.4 759.9h1.8M261.4 765.7h1.8M261.2 770.7h1.8M275.4 753.2h1.8M272.3 753.6h1.8M263.1 757.7h1.8M276.2 753.2h1.8M260.1 766.5h1.8M260.4 772.9h1.8M259.5 766.4h1.8M259.7 760.0h1.8M263.9 757.6h1.8M260.0 767.1h1.8M275.8 753.2h1.8M262.7 762.8h1.8M266.1 758.0h1.8M270.0 754.4h1.8M272.4 753.5h1.8M259.5 769.3h1.8M260.0 756.1h1.8M263.6 755.2h1.8M262.1 759.9h1.8M262.8 754.1h1.8M260.1 774.9h1.8M274.2 753.3h1.8M260.3 773.8h1.8M261.4 766.5h1.8M259.4 775.0h1.8M260.9 755.2h1.8M272.1 753.3h1.8M268.4 754.7h1.8M266.6 757.1h1.8M267.1 756.7h1.8M272.4 753.3h1.8M275.9 753.2h1.8M278.7 753.2h1.8M260.0 774.7h1.8M262.2 754.7h1.8M270.1 753.7h1.8M259.4 767.0h1.8M267.8 755.0h1.8M269.8 753.4h1.8M267.1 756.7h1.8M264.0 761.9h1.8M266.9 756.3h1.8M261.1 766.7h1.8M265.4 755.8h1.8M268.3 755.3h1.8M262.8 765.4h1.8M260.4 766.7h1.8M274.0 753.3h1.8M260.3 772.8h1.8M259.6 768.2h1.8M270.3 753.8h1.8M274.0 753.3h1.8M276.9 753.2h1.8M266.9 755.3h1.8M260.1 766.1h1.8M262.8 764.8h1.8M272.0 753.5h1.8M262.1 767.6h1.8M277.4 753.2h1.8M264.2 761.7h1.8M265.3 754.7h1.8M261.8 760.4h1.8M263.6 755.9h1.8M260.2 768.6h1.8M263.4 756.3h1.8M263.8 761.0h1.8M271.1 753.9h1.8M278.8 753.2h1.8M259.4 778.2h1.8M263.5 760.2h1.8M262.0 757.1h1.8M267.6 754.5h1.8M262.9 762.2h1.8M261.8 766.9h1.8M268.1 754.5h1.8M267.6 755.9h1.8M259.5 773.4h1.8M276.0 753.2h1.8M268.1 753.7h1.8M263.0 762.1h1.8M262.0 760.8h1.8M266.9 754.5h1.8M277.6 753.2h1.8M260.8 765.0h1.8M268.3 754.9h1.8M276.1 753.3h1.8M267.3 755.9h1.8M261.5 757.4h1.8M262.0 759.2h1.8M265.1 757.1h1.8M276.8 753.2h1.8M261.9 763.4h1.8M261.0 769.8h1.8M268.2 755.0h1.8M259.5 770.9h1.8M277.3 753.2h1.8M259.5 771.9h1.8M268.7 755.1h1.8M262.0 762.3h1.8M259.7 757.3h1.8M270.2 753.9h1.8M278.4 753.2h1.8M267.3 754.5h1.8M260.9 757.4h1.8M260.9 761.2h1.8M271.0 753.7h1.8M263.0 764.3h1.8M273.3 753.4h1.8M259.4 776.0h1.8M259.9 762.4h1.8M268.3 754.7h1.8M261.5 769.2h1.8M259.4 772.3h1.8M260.6 754.3h1.8M278.5 753.2h1.8M273.4 753.4h1.8M259.4 759.0h1.8M274.3 753.3h1.8M262.0 761.0h1.8M261.6 760.7h1.8M271.2 753.8h1.8M272.1 753.4h1.8M265.2 756.7h1.8M272.9 753.4h1.8M261.3 763.9h1.8M267.2 756.3h1.8M263.1 758.9h1.8M265.3 759.4h1.8M270.5 754.0h1.8M268.3 755.5h1.8M268.3 753.3h1.8M259.4 770.1h1.8M262.9 758.8h1.8M277.9 753.2h1.8M274.0 753.3h1.8M260.0 753.8h1.8M260.5 772.7h1.8M261.8 768.3h1.8M272.1 753.5h1.8M259.4 779.2h1.8M264.3 756.8h1.8M272.6 753.4h1.8M275.6 753.3h1.8M270.6 754.1h1.8M263.8 759.8h1.8M268.5 753.9h1.8M278.6 753.2h1.8M271.3 753.6h1.8M259.5 777.9h1.8M277.9 753.2h1.8M259.4 771.7h1.8M269.2 753.3h1.8M274.7 753.3h1.8M260.7 768.0h1.8M264.9 759.5h1.8M266.2 754.2h1.8M266.0 754.2h1.8M261.1 765.7h1.8M263.9 762.1h1.8M260.0 765.6h1.8M267.3 756.5h1.8M265.8 755.1h1.8M275.9 753.2h1.8M276.2 753.2h1.8M273.6 753.3h1.8M259.6 766.7h1.8M266.7 756.0h1.8M260.1 767.2h1.8M262.6 757.7h1.8M272.4 753.3h1.8M270.7 753.9h1.8M260.1 775.2h1.8M259.7 771.7h1.8M275.8 753.3h1.8M269.6 753.9h1.8M276.4 753.2h1.8M277.9 753.2h1.8M263.0 764.2h1.8M259.4 762.1h1.8M276.6 753.2h1.8M272.3 753.5h1.8M278.2 753.2h1.8M259.7 761.6h1.8M264.4 758.0h1.8M278.4 753.2h1.8M267.5 755.5h1.8M272.0 753.6h1.8M265.1 758.7h1.8M271.7 753.7h1.8M273.7 753.4h1.8M264.7 758.9h1.8M267.9 753.7h1.8M269.8 754.5h1.8M265.4 754.8h1.8M272.4 753.3h1.8M260.6 757.6h1.8M266.7 754.7h1.8M276.4 753.2h1.8M273.6 753.3h1.8M263.6 754.4h1.8M278.2 753.2h1.8M278.0 753.2h1.8M264.8 760.4h1.8M278.7 753.2h1.8M271.6 753.7h1.8M263.4 759.3h1.8M260.2 772.7h1.8M272.2 753.5h1.8M268.3 753.5h1.8M261.8 765.3h1.8M268.0 754.4h1.8M278.3 753.2h1.8M260.6 771.9h1.8M259.5 765.0h1.8M260.2 774.0h1.8M263.9 756.6h1.8M269.9 754.4h1.8M261.5 765.5h1.8M272.8 753.5h1.8M261.1 769.0h1.8M274.2 753.3h1.8M259.5 773.9h1.8M265.4 755.3h1.8M259.6 760.0h1.8M273.8 753.3h1.8M261.7 760.2h1.8M265.2 759.2h1.8M265.4 758.2h1.8M260.1 761.2h1.8M259.8 777.1h1.8M262.8 763.6h1.8M275.4 753.3h1.8M266.0 755.5h1.8M278.8 753.2h1.8M259.9 776.5h1.8M259.7 771.5h1.8M260.3 769.5h1.8M266.9 753.9h1.8M268.8 754.5h1.8M260.4 774.4h1.8M266.6 755.0h1.8M260.2 769.9h1.8M261.3 761.8h1.8M271.0 719.3h1.8M268.6 722.3h1.8M287.5 702.0h1.8M279.1 715.1h1.8M264.4 723.8h1.8M278.4 716.4h1.8M261.9 726.5h1.8M280.4 706.5h1.8M262.9 726.1h1.8M281.9 716.6h1.8M286.5 713.5h1.8M284.9 700.0h1.8M261.7 719.2h1.8M282.6 706.0h1.8M264.8 725.3h1.8M264.5 722.7h1.8M292.6 705.8h1.8M267.3 720.7h1.8M275.6 707.7h1.8M269.8 721.9h1.8M289.3 708.6h1.8M277.7 711.0h1.8M289.5 702.3h1.8M276.6 709.9h1.8M285.6 707.4h1.8M279.3 709.0h1.8M260.7 725.0h1.8M275.4 711.4h1.8M275.1 716.7h1.8M287.8 712.1h1.8M291.8 694.6h1.8M272.6 716.5h1.8M289.1 709.7h1.8M286.0 709.9h1.8M266.7 712.2h1.8M276.2 719.6h1.8M265.3 721.6h1.8M275.9 715.5h1.8M266.8 723.9h1.8M278.1 715.9h1.8M268.1 706.8h1.8M287.0 708.8h1.8M261.8 724.8h1.8M292.3 704.3h1.8M288.8 711.4h1.8M271.2 707.8h1.8M266.1 714.3h1.8M288.7 712.7h1.8M266.1 708.6h1.8M265.5 718.3h1.8M321.1 723.6h1.8M320.9 718.1h1.8M316.2 732.8h1.8M319.2 707.5h1.8M317.9 719.0h1.8M313.0 729.8h1.8M301.1 727.1h1.8M318.9 705.6h1.8M306.6 719.4h1.8M304.1 731.5h1.8M294.1 728.7h1.8M298.8 746.5h1.8M293.6 723.0h1.8M327.7 711.7h1.8M331.7 697.5h1.8M309.6 709.9h1.8M296.5 710.9h1.8M314.3 709.7h1.8M300.0 718.9h1.8M295.1 722.8h1.8M325.9 715.5h1.8M309.5 700.2h1.8M321.2 717.8h1.8M304.3 722.0h1.8M295.7 728.4h1.8M306.1 725.2h1.8M326.9 697.4h1.8M316.5 722.4h1.8M319.4 706.2h1.8M323.1 728.8h1.8M302.5 726.7h1.8M329.2 712.8h1.8M319.6 719.1h1.8M324.5 705.4h1.8M331.6 712.4h1.8M320.7 714.0h1.8M295.9 712.3h1.8M312.6 717.9h1.8M297.2 713.6h1.8M322.5 712.7h1.8" fill="none" stroke="#4a4a4a" stroke-width="1.8"/>
<line x1="260.3" y1="753.24" x2="454.8" y2="628.2" stroke="#000" stroke-width="0.9"/>
<rect x="0" y="0" width="0" height="0"/>
<rect x="455.3" y="623.2" width="10" height="166.3" fill="#fff" stroke="none" stroke-width="0.8"/>
<line x1="260.3" y1="628.2" x2="454.8" y2="628.2" stroke="#555555" stroke-width="0.9"/>
<line x1="454.8" y1="628.2" x2="454.8" y2="784.5" stroke="#555555" stroke-width="0.9"/>
<line x1="260.3" y1="628.2" x2="260.3" y2="784.5" stroke="#555555" stroke-width="0.9"/>
<line x1="260.3" y1="784.5" x2="454.8" y2="784.5" stroke="#555555" stroke-width="0.9"/>
<line x1="257.3" y1="784.5" x2="260.3" y2="784.5" stroke="#555555" stroke-width="0.8"/>
<text class="S" x="255.8" y="787" font-size="7.0" text-anchor="end" fill="#000">−20</text>
<line x1="258.5" y1="768.87" x2="260.3" y2="768.87" stroke="#555555" stroke-width="0.7"/>
<line x1="257.3" y1="753.24" x2="260.3" y2="753.24" stroke="#555555" stroke-width="0.8"/>
<text class="S" x="255.8" y="755.74" font-size="7.0" text-anchor="end" fill="#000">0</text>
<line x1="258.5" y1="737.61" x2="260.3" y2="737.61" stroke="#555555" stroke-width="0.7"/>
<line x1="257.3" y1="721.98" x2="260.3" y2="721.98" stroke="#555555" stroke-width="0.8"/>
<text class="S" x="255.8" y="724.48" font-size="7.0" text-anchor="end" fill="#000">20</text>
<line x1="258.5" y1="706.35" x2="260.3" y2="706.35" stroke="#555555" stroke-width="0.7"/>
<line x1="257.3" y1="690.72" x2="260.3" y2="690.72" stroke="#555555" stroke-width="0.8"/>
<text class="S" x="255.8" y="693.22" font-size="7.0" text-anchor="end" fill="#000">40</text>
<line x1="258.5" y1="675.09" x2="260.3" y2="675.09" stroke="#555555" stroke-width="0.7"/>
<line x1="257.3" y1="659.46" x2="260.3" y2="659.46" stroke="#555555" stroke-width="0.8"/>
<text class="S" x="255.8" y="661.96" font-size="7.0" text-anchor="end" fill="#000">60</text>
<line x1="258.5" y1="643.83" x2="260.3" y2="643.83" stroke="#555555" stroke-width="0.7"/>
<line x1="257.3" y1="628.2" x2="260.3" y2="628.2" stroke="#555555" stroke-width="0.8"/>
<text class="S" x="255.8" y="630.7" font-size="7.0" text-anchor="end" fill="#000">80</text>
<line x1="260.3" y1="784.5" x2="260.3" y2="787.5" stroke="#555555" stroke-width="0.8"/>
<text class="S" x="260.3" y="795.1" font-size="7.0" text-anchor="middle" fill="#000">0</text>
<line x1="284.61" y1="784.5" x2="284.61" y2="786.3" stroke="#555555" stroke-width="0.7"/>
<line x1="308.93" y1="784.5" x2="308.93" y2="787.5" stroke="#555555" stroke-width="0.8"/>
<text class="S" x="308.93" y="795.1" font-size="7.0" text-anchor="middle" fill="#000">20</text>
<line x1="333.24" y1="784.5" x2="333.24" y2="786.3" stroke="#555555" stroke-width="0.7"/>
<line x1="357.55" y1="784.5" x2="357.55" y2="787.5" stroke="#555555" stroke-width="0.8"/>
<text class="S" x="357.55" y="795.1" font-size="7.0" text-anchor="middle" fill="#000">40</text>
<line x1="381.86" y1="784.5" x2="381.86" y2="786.3" stroke="#555555" stroke-width="0.7"/>
<line x1="406.18" y1="784.5" x2="406.18" y2="787.5" stroke="#555555" stroke-width="0.8"/>
<text class="S" x="406.18" y="795.1" font-size="7.0" text-anchor="middle" fill="#000">60</text>
<line x1="430.49" y1="784.5" x2="430.49" y2="786.3" stroke="#555555" stroke-width="0.7"/>
<line x1="454.8" y1="784.5" x2="454.8" y2="787.5" stroke="#555555" stroke-width="0.8"/>
<text class="S" x="454.8" y="795.1" font-size="7.0" text-anchor="middle" fill="#000">80</text>
<text class="S" x="244.4" y="706.2" font-size="8.0" text-anchor="middle" fill="#000" transform="rotate(-90 244.4 706.2)">SOC Predicted (%)</text>
<text class="S" x="357.5" y="803.6" font-size="8.0" text-anchor="middle" fill="#000">SOC Observed (%)</text>
<rect x="420.2" y="759.3" width="34.6" height="25.2" fill="#fff" stroke="#555555" stroke-width="0.8"/>
<rect x="425.2" y="763.5" width="1.7" height="1.7" fill="#ee3c3c" stroke="none" stroke-width="0.8"/>
<rect x="425.2" y="771" width="1.7" height="1.7" fill="#4a4a4a" stroke="none" stroke-width="0.8"/>
<line x1="421.3" y1="779.8" x2="431" y2="779.8" stroke="#000" stroke-width="0.8"/>
<text class="S" x="432.5" y="766.5" font-size="6.4" text-anchor="start" fill="#000">o_plsd</text>
<text class="S" x="432.5" y="774" font-size="6.4" text-anchor="start" fill="#000">PLSR</text>
<text class="S" x="432.5" y="782" font-size="6.4" text-anchor="start" fill="#000">1:1 line</text>
<text class="R" x="113.2" y="187.7" font-size="9.9" text-anchor="middle" fill="#000">(a)</text>
<text class="R" x="349.9" y="187.8" font-size="9.9" text-anchor="middle" fill="#000">(b)</text>
<text class="R" x="113.2" y="385.6" font-size="9.9" text-anchor="middle" fill="#000">(c)</text>
<text class="R" x="349.9" y="385.6" font-size="9.9" text-anchor="middle" fill="#000">(d)</text>
<text class="R" x="113.2" y="615.5" font-size="9.9" text-anchor="middle" fill="#000">(e)</text>
<text class="R" x="349" y="615.4" font-size="9.9" text-anchor="middle" fill="#000">(f)</text>
<text class="R" x="113.4" y="817.4" font-size="9.9" text-anchor="middle" fill="#000">(g)</text>
<text class="R" x="349.9" y="817.6" font-size="9.9" text-anchor="middle" fill="#000">(h)</text>
</svg></div></body></html>
